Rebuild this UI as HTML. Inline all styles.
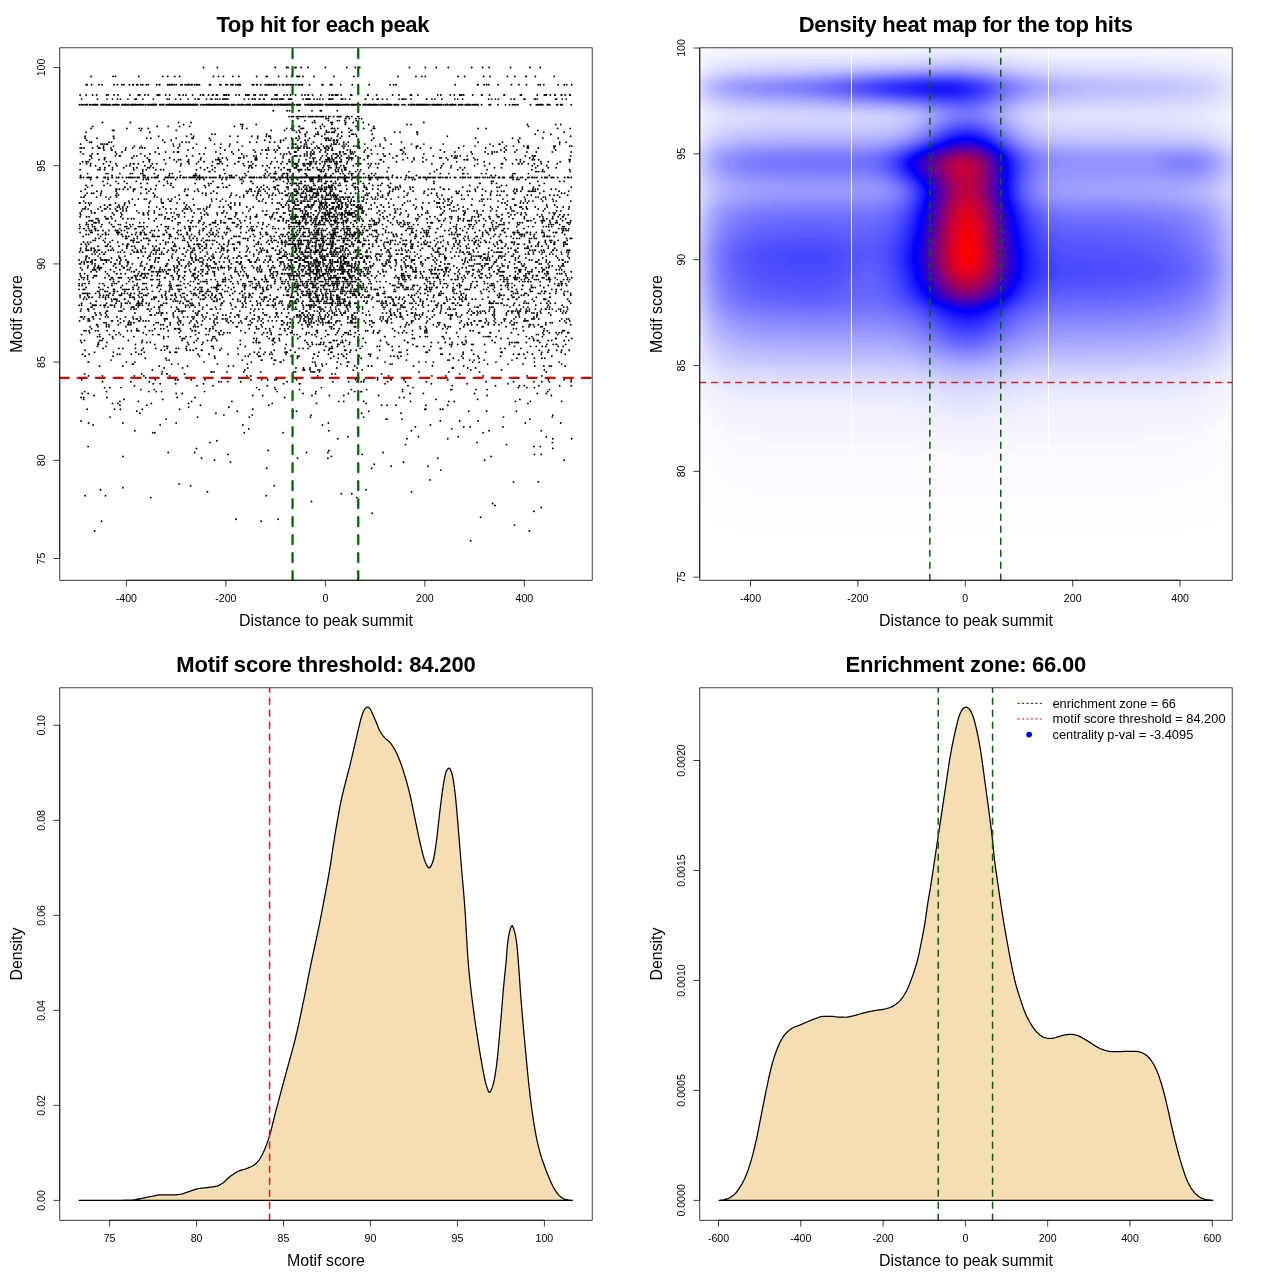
<!DOCTYPE html>
<html lang="en"><head><meta charset="utf-8"><title>Motif enrichment plots</title>
<style>html,body{margin:0;padding:0;background:#fff}svg{display:block}</style></head>
<body>
<svg width="1280" height="1280" viewBox="0 0 1280 1280" font-family='"Liberation Sans", sans-serif'>
<rect width="1280" height="1280" fill="#fff"/>
<defs>
<clipPath id="c0"><rect x="59.76" y="47.81" width="532.43" height="532.43"/></clipPath>
<clipPath id="c1"><rect x="699.76" y="47.81" width="532.43" height="532.43"/></clipPath>
<clipPath id="c2"><rect x="59.76" y="687.81" width="532.43" height="532.43"/></clipPath>
<clipPath id="c3"><rect x="699.76" y="687.81" width="532.43" height="532.43"/></clipPath>
</defs>
<path d="M203.5 67.5h0M217.4 67.5h0M275.2 67.5h0M286.6 67.5h0M288.1 67.5h0M295.1 67.5h0M296 67.5h0M301 67.5h0M308 67.5h0M325.4 67.5h0M346.8 67.5h0M355.2 67.5h0M359.7 67.5h0M409.5 67.5h0M425.4 67.5h0M436.3 67.5h0M448.3 67.5h0M471.7 67.5h0M482.6 67.5h0M489.1 67.5h0M510.5 67.5h0M529.9 67.5h0M540.3 67.5h0M91.1 76.4h0M113 76.4h0M115.5 76.4h0M138.8 76.4h0M162.7 76.4h0M167.7 76.4h0M174.7 76.4h0M179.6 76.4h0M213.5 76.4h0M218.4 76.4h0M223.4 76.4h0M232.9 76.4h0M238.8 76.4h0M256.7 76.4h0M256.7 76.4h0M266.2 76.4h0M267.2 76.4h0M278.6 76.4h0M286.6 76.4h0M291.6 76.4h0M297 76.4h0M298.5 76.4h0M299.5 76.4h0M303 76.4h0M314 76.4h0M333.9 76.4h0M353.8 76.4h0M398 76.4h0M415.9 76.4h0M421.9 76.4h0M425.4 76.4h0M458.2 76.4h0M464.7 76.4h0M483.6 76.4h0M490.1 76.4h0M507.5 76.4h0M514.9 76.4h0M525.9 76.4h0M526.4 76.4h0M535.3 76.4h0M554.2 76.4h0M86.1 84.8h0M87.1 84.8h0M91.6 84.8h0M99 84.8h0M102 84.8h0M114 84.8h0M117.4 84.8h0M117.4 84.8h0M117.4 84.8h0M121.9 84.8h0M123.9 84.8h0M129.4 84.8h0M132.9 84.8h0M133.4 84.8h0M136.8 84.8h0M137.8 84.8h0M140.8 84.8h0M142.8 84.8h0M146.3 84.8h0M148.3 84.8h0M156.7 84.8h0M159.2 84.8h0M159.7 84.8h0M167.7 84.8h0M169.2 84.8h0M170.2 84.8h0M171.7 84.8h0M172.2 84.8h0M174.2 84.8h0M176.2 84.8h0M180.6 84.8h0M182.1 84.8h0M185.1 84.8h0M185.1 84.8h0M187.1 84.8h0M187.6 84.8h0M188.1 84.8h0M188.6 84.8h0M189.1 84.8h0M191.1 84.8h0M192.1 84.8h0M194.6 84.8h0M196.5 84.8h0M197 84.8h0M198 84.8h0M199.5 84.8h0M209.5 84.8h0M210.5 84.8h0M210.5 84.8h0M219.9 84.8h0M219.9 84.8h0M220.9 84.8h0M220.9 84.8h0M225.9 84.8h0M227.4 84.8h0M230.9 84.8h0M232.4 84.8h0M232.4 84.8h0M232.9 84.8h0M232.9 84.8h0M235.9 84.8h0M237.8 84.8h0M238.8 84.8h0M238.8 84.8h0M239.3 84.8h0M239.3 84.8h0M240.3 84.8h0M252.3 84.8h0M253.8 84.8h0M256.7 84.8h0M257.2 84.8h0M260.7 84.8h0M265.2 84.8h0M267.2 84.8h0M268.2 84.8h0M268.7 84.8h0M269.7 84.8h0M271.2 84.8h0M273.2 84.8h0M273.2 84.8h0M274.2 84.8h0M274.7 84.8h0M276.6 84.8h0M279.6 84.8h0M282.6 84.8h0M282.6 84.8h0M283.1 84.8h0M283.6 84.8h0M283.6 84.8h0M286.1 84.8h0M287.1 84.8h0M288.6 84.8h0M290.6 84.8h0M292.1 84.8h0M292.6 84.8h0M292.6 84.8h0M293.6 84.8h0M296 84.8h0M298.5 84.8h0M298.5 84.8h0M299.5 84.8h0M301.5 84.8h0M302.5 84.8h0M309.5 84.8h0M321.9 84.8h0M321.9 84.8h0M322.9 84.8h0M330.4 84.8h0M330.4 84.8h0M331.4 84.8h0M331.9 84.8h0M340.8 84.8h0M352.3 84.8h0M358.2 84.8h0M369.2 84.8h0M390.1 84.8h0M393.6 84.8h0M396 84.8h0M455.2 84.8h0M477.6 84.8h0M478.1 84.8h0M484.1 84.8h0M486.6 84.8h0M488.6 84.8h0M498 84.8h0M511.5 84.8h0M518.9 84.8h0M526.4 84.8h0M538.3 84.8h0M540.3 84.8h0M543.8 84.8h0M558.2 84.8h0M564.2 84.8h0M566.7 84.8h0M571.7 84.8h0M80.1 95h0M86.1 95h0M92.6 95h0M92.6 95h0M96.6 95h0M106.5 95h0M108 95h0M108 95h0M114 95h0M117.9 95h0M129.9 95h0M138.3 95h0M139.8 95h0M144.8 95h0M148.3 95h0M157.2 95h0M158.2 95h0M159.7 95h0M165.7 95h0M169.7 95h0M179.1 95h0M179.6 95h0M183.1 95h0M186.1 95h0M192.6 95h0M200.5 95h0M203 95h0M203.5 95h0M208.5 95h0M212.5 95h0M213 95h0M216.4 95h0M217.4 95h0M223.9 95h0M224.9 95h0M226.4 95h0M228.4 95h0M228.4 95h0M228.9 95h0M228.9 95h0M235.9 95h0M239.3 95h0M245.8 95h0M247.3 95h0M248.3 95h0M248.8 95h0M253.8 95h0M255.3 95h0M260.2 95h0M262.2 95h0M265.2 95h0M266.7 95h0M275.2 95h0M275.6 95h0M276.1 95h0M277.1 95h0M284.1 95h0M287.1 95h0M290.6 95h0M295.6 95h0M295.6 95h0M302 95h0M302 95h0M305 95h0M308 95h0M308.5 95h0M312.5 95h0M320.9 95h0M329.4 95h0M331.9 95h0M332.9 95h0M335.4 95h0M336.8 95h0M337.8 95h0M341.3 95h0M350.8 95h0M351.8 95h0M367.7 95h0M368.2 95h0M376.6 95h0M392.6 95h0M392.6 95h0M399 95h0M399 95h0M410.5 95h0M411.5 95h0M417.9 95h0M437.8 95h0M440.8 95h0M450.3 95h0M454.3 95h0M459.7 95h0M460.7 95h0M461.7 95h0M463.7 95h0M472.7 95h0M481.6 95h0M482.1 95h0M489.6 95h0M504 95h0M504.5 95h0M520.4 95h0M521.4 95h0M537.3 95h0M544.3 95h0M545.8 95h0M546.3 95h0M550.3 95h0M554.7 95h0M555.2 95h0M561.2 95h0M561.7 95h0M565.2 95h0M569.7 95h0M570.2 95h0M81.6 99.1h0M97.5 99.1h0M107 99.1h0M112.5 99.1h0M117.4 99.1h0M120.4 99.1h0M127.9 99.1h0M134.9 99.1h0M135.9 99.1h0M136.3 99.1h0M142.8 99.1h0M153.3 99.1h0M167.2 99.1h0M169.2 99.1h0M175.7 99.1h0M180.6 99.1h0M188.1 99.1h0M195.1 99.1h0M198 99.1h0M199 99.1h0M206.5 99.1h0M206.5 99.1h0M210.5 99.1h0M212 99.1h0M215.5 99.1h0M215.5 99.1h0M217.4 99.1h0M219.9 99.1h0M222.9 99.1h0M222.9 99.1h0M223.9 99.1h0M224.4 99.1h0M225.9 99.1h0M227.4 99.1h0M227.9 99.1h0M244.3 99.1h0M248.8 99.1h0M252.3 99.1h0M252.8 99.1h0M254.8 99.1h0M255.3 99.1h0M255.3 99.1h0M255.3 99.1h0M259.2 99.1h0M259.7 99.1h0M263.7 99.1h0M264.2 99.1h0M271.7 99.1h0M272.2 99.1h0M272.2 99.1h0M274.2 99.1h0M276.1 99.1h0M277.1 99.1h0M279.6 99.1h0M281.1 99.1h0M282.1 99.1h0M283.6 99.1h0M288.6 99.1h0M289.6 99.1h0M290.6 99.1h0M291.6 99.1h0M303 99.1h0M303 99.1h0M306 99.1h0M306.5 99.1h0M307 99.1h0M308 99.1h0M308 99.1h0M309 99.1h0M310 99.1h0M314 99.1h0M314 99.1h0M317.4 99.1h0M319.9 99.1h0M322.9 99.1h0M328.9 99.1h0M329.9 99.1h0M331.4 99.1h0M332.9 99.1h0M341.3 99.1h0M341.8 99.1h0M342.3 99.1h0M342.8 99.1h0M345.3 99.1h0M349.8 99.1h0M365.2 99.1h0M365.7 99.1h0M372.7 99.1h0M377.1 99.1h0M378.1 99.1h0M382.6 99.1h0M387.1 99.1h0M399 99.1h0M402 99.1h0M403 99.1h0M404 99.1h0M406 99.1h0M411 99.1h0M411 99.1h0M426.4 99.1h0M426.9 99.1h0M431.9 99.1h0M434.9 99.1h0M441.8 99.1h0M454.8 99.1h0M457.7 99.1h0M462.7 99.1h0M488.6 99.1h0M491.6 99.1h0M495.5 99.1h0M498.5 99.1h0M511 99.1h0M514 99.1h0M514.5 99.1h0M523.9 99.1h0M524.9 99.1h0M534.4 99.1h0M535.3 99.1h0M537.3 99.1h0M555.7 99.1h0M556.7 99.1h0M562.2 99.1h0M566.2 99.1h0M79.6 104.8h0M79.6 104.8h0M79.6 104.8h0M79.6 104.8h0M81.6 104.8h0M81.6 104.8h0M81.6 104.8h0M83.1 104.8h0M83.1 104.8h0M85.1 104.8h0M86.6 104.8h0M86.6 104.8h0M87.1 104.8h0M87.1 104.8h0M89.6 104.8h0M89.6 104.8h0M89.6 104.8h0M90.1 104.8h0M90.1 104.8h0M92.1 104.8h0M92.1 104.8h0M93.6 104.8h0M93.6 104.8h0M94.6 104.8h0M94.6 104.8h0M95.1 104.8h0M95.6 104.8h0M96.6 104.8h0M96.6 104.8h0M97.5 104.8h0M97.5 104.8h0M101 104.8h0M101.5 104.8h0M101.5 104.8h0M101.5 104.8h0M101.5 104.8h0M102 104.8h0M102.5 104.8h0M102.5 104.8h0M103.5 104.8h0M104 104.8h0M105 104.8h0M106 104.8h0M106.5 104.8h0M107 104.8h0M108.5 104.8h0M109.5 104.8h0M110.5 104.8h0M113 104.8h0M113 104.8h0M113 104.8h0M113 104.8h0M114 104.8h0M114 104.8h0M115.5 104.8h0M115.5 104.8h0M115.5 104.8h0M116 104.8h0M116.9 104.8h0M117.4 104.8h0M117.4 104.8h0M118.9 104.8h0M118.9 104.8h0M118.9 104.8h0M118.9 104.8h0M121.9 104.8h0M121.9 104.8h0M122.4 104.8h0M123.9 104.8h0M123.9 104.8h0M124.4 104.8h0M124.9 104.8h0M125.4 104.8h0M125.9 104.8h0M125.9 104.8h0M126.4 104.8h0M127.9 104.8h0M128.4 104.8h0M128.9 104.8h0M128.9 104.8h0M128.9 104.8h0M130.9 104.8h0M130.9 104.8h0M130.9 104.8h0M131.9 104.8h0M132.4 104.8h0M132.9 104.8h0M132.9 104.8h0M133.4 104.8h0M133.9 104.8h0M133.9 104.8h0M134.9 104.8h0M134.9 104.8h0M135.4 104.8h0M135.9 104.8h0M135.9 104.8h0M136.3 104.8h0M136.3 104.8h0M137.8 104.8h0M139.3 104.8h0M140.3 104.8h0M141.3 104.8h0M142.8 104.8h0M143.8 104.8h0M145.8 104.8h0M147.8 104.8h0M148.8 104.8h0M149.3 104.8h0M150.8 104.8h0M151.3 104.8h0M152.3 104.8h0M152.8 104.8h0M153.3 104.8h0M153.3 104.8h0M153.8 104.8h0M153.8 104.8h0M154.3 104.8h0M154.8 104.8h0M155.3 104.8h0M155.3 104.8h0M155.3 104.8h0M155.8 104.8h0M156.2 104.8h0M159.7 104.8h0M160.2 104.8h0M160.7 104.8h0M160.7 104.8h0M162.2 104.8h0M162.2 104.8h0M162.7 104.8h0M162.7 104.8h0M163.2 104.8h0M163.7 104.8h0M166.2 104.8h0M167.7 104.8h0M167.7 104.8h0M168.2 104.8h0M168.7 104.8h0M169.2 104.8h0M169.2 104.8h0M169.7 104.8h0M169.7 104.8h0M170.2 104.8h0M170.7 104.8h0M170.7 104.8h0M171.2 104.8h0M171.2 104.8h0M172.7 104.8h0M173.2 104.8h0M173.2 104.8h0M173.7 104.8h0M174.2 104.8h0M174.2 104.8h0M174.2 104.8h0M175.2 104.8h0M175.2 104.8h0M175.2 104.8h0M176.2 104.8h0M176.6 104.8h0M177.6 104.8h0M177.6 104.8h0M178.1 104.8h0M178.1 104.8h0M178.6 104.8h0M179.1 104.8h0M179.1 104.8h0M180.1 104.8h0M180.6 104.8h0M181.6 104.8h0M182.1 104.8h0M182.6 104.8h0M182.6 104.8h0M183.1 104.8h0M183.1 104.8h0M183.1 104.8h0M183.6 104.8h0M184.1 104.8h0M184.1 104.8h0M184.1 104.8h0M184.6 104.8h0M185.6 104.8h0M185.6 104.8h0M186.1 104.8h0M186.1 104.8h0M187.1 104.8h0M187.6 104.8h0M188.1 104.8h0M188.1 104.8h0M188.6 104.8h0M189.1 104.8h0M189.6 104.8h0M190.1 104.8h0M190.6 104.8h0M191.1 104.8h0M191.1 104.8h0M191.1 104.8h0M192.1 104.8h0M192.6 104.8h0M192.6 104.8h0M193.1 104.8h0M193.1 104.8h0M193.6 104.8h0M193.6 104.8h0M194.1 104.8h0M194.6 104.8h0M195.1 104.8h0M195.6 104.8h0M195.6 104.8h0M195.6 104.8h0M196.1 104.8h0M196.1 104.8h0M196.1 104.8h0M197 104.8h0M197.5 104.8h0M200.5 104.8h0M202.5 104.8h0M202.5 104.8h0M203.5 104.8h0M203.5 104.8h0M203.5 104.8h0M205 104.8h0M206.5 104.8h0M206.5 104.8h0M207 104.8h0M207.5 104.8h0M208.5 104.8h0M209 104.8h0M209 104.8h0M209 104.8h0M209.5 104.8h0M209.5 104.8h0M210 104.8h0M210.5 104.8h0M210.5 104.8h0M210.5 104.8h0M212 104.8h0M212 104.8h0M213 104.8h0M213 104.8h0M213 104.8h0M213.5 104.8h0M213.5 104.8h0M214 104.8h0M214.5 104.8h0M214.5 104.8h0M215.5 104.8h0M215.9 104.8h0M216.4 104.8h0M216.4 104.8h0M216.4 104.8h0M217.9 104.8h0M217.9 104.8h0M217.9 104.8h0M218.9 104.8h0M218.9 104.8h0M218.9 104.8h0M219.4 104.8h0M219.4 104.8h0M220.9 104.8h0M221.4 104.8h0M222.9 104.8h0M222.9 104.8h0M222.9 104.8h0M222.9 104.8h0M223.9 104.8h0M224.4 104.8h0M224.4 104.8h0M224.4 104.8h0M224.4 104.8h0M224.9 104.8h0M224.9 104.8h0M224.9 104.8h0M225.4 104.8h0M225.9 104.8h0M226.9 104.8h0M226.9 104.8h0M227.4 104.8h0M227.4 104.8h0M227.9 104.8h0M228.9 104.8h0M228.9 104.8h0M231.4 104.8h0M231.9 104.8h0M231.9 104.8h0M231.9 104.8h0M232.4 104.8h0M233.4 104.8h0M233.9 104.8h0M234.9 104.8h0M237.3 104.8h0M237.3 104.8h0M237.8 104.8h0M238.8 104.8h0M239.3 104.8h0M240.8 104.8h0M240.8 104.8h0M240.8 104.8h0M241.3 104.8h0M241.3 104.8h0M241.3 104.8h0M241.3 104.8h0M241.8 104.8h0M241.8 104.8h0M241.8 104.8h0M242.3 104.8h0M242.3 104.8h0M242.8 104.8h0M243.8 104.8h0M243.8 104.8h0M245.8 104.8h0M245.8 104.8h0M247.3 104.8h0M247.8 104.8h0M247.8 104.8h0M247.8 104.8h0M248.3 104.8h0M248.3 104.8h0M248.8 104.8h0M249.3 104.8h0M249.3 104.8h0M250.3 104.8h0M250.3 104.8h0M250.3 104.8h0M250.3 104.8h0M252.8 104.8h0M253.8 104.8h0M254.3 104.8h0M254.8 104.8h0M254.8 104.8h0M255.8 104.8h0M256.2 104.8h0M257.2 104.8h0M257.7 104.8h0M258.2 104.8h0M259.2 104.8h0M260.7 104.8h0M260.7 104.8h0M260.7 104.8h0M261.2 104.8h0M261.7 104.8h0M261.7 104.8h0M261.7 104.8h0M262.2 104.8h0M262.7 104.8h0M262.7 104.8h0M262.7 104.8h0M262.7 104.8h0M262.7 104.8h0M263.2 104.8h0M263.7 104.8h0M263.7 104.8h0M264.2 104.8h0M264.2 104.8h0M264.7 104.8h0M264.7 104.8h0M265.2 104.8h0M265.2 104.8h0M266.7 104.8h0M267.2 104.8h0M267.2 104.8h0M267.2 104.8h0M267.2 104.8h0M267.2 104.8h0M267.7 104.8h0M269.2 104.8h0M269.7 104.8h0M269.7 104.8h0M269.7 104.8h0M270.2 104.8h0M270.2 104.8h0M270.2 104.8h0M270.7 104.8h0M270.7 104.8h0M271.2 104.8h0M272.2 104.8h0M274.2 104.8h0M275.2 104.8h0M277.1 104.8h0M277.1 104.8h0M277.1 104.8h0M277.6 104.8h0M277.6 104.8h0M278.1 104.8h0M278.6 104.8h0M280.1 104.8h0M280.1 104.8h0M280.6 104.8h0M280.6 104.8h0M281.1 104.8h0M281.6 104.8h0M281.6 104.8h0M282.1 104.8h0M282.6 104.8h0M283.6 104.8h0M284.1 104.8h0M284.1 104.8h0M284.1 104.8h0M284.6 104.8h0M284.6 104.8h0M284.6 104.8h0M285.1 104.8h0M285.1 104.8h0M285.1 104.8h0M286.1 104.8h0M286.6 104.8h0M286.6 104.8h0M286.6 104.8h0M287.1 104.8h0M287.6 104.8h0M288.1 104.8h0M288.6 104.8h0M289.1 104.8h0M289.6 104.8h0M290.1 104.8h0M290.1 104.8h0M290.6 104.8h0M290.6 104.8h0M290.6 104.8h0M291.1 104.8h0M291.6 104.8h0M292.6 104.8h0M293.1 104.8h0M294.1 104.8h0M296.5 104.8h0M296.5 104.8h0M296.5 104.8h0M296.5 104.8h0M297.5 104.8h0M298 104.8h0M298.5 104.8h0M299.5 104.8h0M299.5 104.8h0M299.5 104.8h0M300 104.8h0M300.5 104.8h0M305 104.8h0M305 104.8h0M305.5 104.8h0M305.5 104.8h0M306 104.8h0M307.5 104.8h0M307.5 104.8h0M308 104.8h0M308.5 104.8h0M309.5 104.8h0M309.5 104.8h0M309.5 104.8h0M310 104.8h0M310.5 104.8h0M311 104.8h0M311.5 104.8h0M312 104.8h0M313 104.8h0M314 104.8h0M314.5 104.8h0M314.5 104.8h0M315 104.8h0M315.9 104.8h0M316.9 104.8h0M317.4 104.8h0M317.4 104.8h0M317.9 104.8h0M317.9 104.8h0M318.4 104.8h0M318.9 104.8h0M319.4 104.8h0M319.9 104.8h0M320.4 104.8h0M320.9 104.8h0M320.9 104.8h0M320.9 104.8h0M320.9 104.8h0M321.4 104.8h0M321.4 104.8h0M322.4 104.8h0M322.4 104.8h0M322.9 104.8h0M322.9 104.8h0M325.4 104.8h0M325.9 104.8h0M326.4 104.8h0M326.4 104.8h0M326.4 104.8h0M326.9 104.8h0M326.9 104.8h0M326.9 104.8h0M327.4 104.8h0M328.4 104.8h0M328.4 104.8h0M329.4 104.8h0M329.4 104.8h0M329.9 104.8h0M330.4 104.8h0M330.4 104.8h0M331.4 104.8h0M331.9 104.8h0M332.4 104.8h0M332.9 104.8h0M332.9 104.8h0M333.4 104.8h0M334.9 104.8h0M334.9 104.8h0M335.4 104.8h0M335.8 104.8h0M335.8 104.8h0M336.3 104.8h0M336.3 104.8h0M336.8 104.8h0M336.8 104.8h0M336.8 104.8h0M337.3 104.8h0M337.3 104.8h0M337.3 104.8h0M338.3 104.8h0M338.8 104.8h0M339.3 104.8h0M339.8 104.8h0M339.8 104.8h0M339.8 104.8h0M340.8 104.8h0M341.3 104.8h0M342.8 104.8h0M342.8 104.8h0M343.3 104.8h0M344.8 104.8h0M344.8 104.8h0M345.8 104.8h0M346.3 104.8h0M346.8 104.8h0M346.8 104.8h0M347.3 104.8h0M347.8 104.8h0M349.3 104.8h0M351.3 104.8h0M351.8 104.8h0M351.8 104.8h0M352.3 104.8h0M353.3 104.8h0M353.3 104.8h0M353.8 104.8h0M354.3 104.8h0M354.3 104.8h0M354.3 104.8h0M355.7 104.8h0M356.2 104.8h0M356.7 104.8h0M357.2 104.8h0M358.2 104.8h0M358.7 104.8h0M360.2 104.8h0M363.2 104.8h0M363.2 104.8h0M363.7 104.8h0M363.7 104.8h0M363.7 104.8h0M364.7 104.8h0M365.2 104.8h0M365.2 104.8h0M365.7 104.8h0M365.7 104.8h0M366.2 104.8h0M366.2 104.8h0M366.7 104.8h0M366.7 104.8h0M366.7 104.8h0M368.2 104.8h0M368.7 104.8h0M369.2 104.8h0M369.7 104.8h0M370.2 104.8h0M370.2 104.8h0M371.2 104.8h0M371.2 104.8h0M371.2 104.8h0M371.2 104.8h0M372.2 104.8h0M373.2 104.8h0M373.7 104.8h0M374.2 104.8h0M374.2 104.8h0M374.7 104.8h0M375.6 104.8h0M376.6 104.8h0M376.6 104.8h0M376.6 104.8h0M378.1 104.8h0M378.1 104.8h0M378.6 104.8h0M378.6 104.8h0M380.6 104.8h0M381.6 104.8h0M382.1 104.8h0M382.6 104.8h0M382.6 104.8h0M383.6 104.8h0M384.1 104.8h0M385.1 104.8h0M386.1 104.8h0M386.6 104.8h0M387.1 104.8h0M387.1 104.8h0M387.6 104.8h0M388.1 104.8h0M388.1 104.8h0M388.6 104.8h0M389.1 104.8h0M389.6 104.8h0M389.6 104.8h0M390.1 104.8h0M391.6 104.8h0M394.1 104.8h0M394.6 104.8h0M396 104.8h0M397 104.8h0M397 104.8h0M397 104.8h0M398 104.8h0M398.5 104.8h0M402 104.8h0M404 104.8h0M405 104.8h0M405 104.8h0M408.5 104.8h0M410.5 104.8h0M411 104.8h0M411.5 104.8h0M412 104.8h0M412 104.8h0M412.5 104.8h0M413.5 104.8h0M414.5 104.8h0M416.4 104.8h0M416.4 104.8h0M417.4 104.8h0M417.9 104.8h0M417.9 104.8h0M418.4 104.8h0M418.9 104.8h0M419.9 104.8h0M419.9 104.8h0M420.4 104.8h0M421.4 104.8h0M421.4 104.8h0M421.4 104.8h0M421.4 104.8h0M421.9 104.8h0M421.9 104.8h0M423.4 104.8h0M423.9 104.8h0M423.9 104.8h0M424.4 104.8h0M425.4 104.8h0M425.9 104.8h0M426.4 104.8h0M427.9 104.8h0M427.9 104.8h0M428.9 104.8h0M428.9 104.8h0M430.9 104.8h0M432.9 104.8h0M433.4 104.8h0M433.9 104.8h0M433.9 104.8h0M433.9 104.8h0M434.4 104.8h0M434.4 104.8h0M435.8 104.8h0M436.8 104.8h0M436.8 104.8h0M437.3 104.8h0M437.3 104.8h0M437.8 104.8h0M438.3 104.8h0M439.3 104.8h0M439.3 104.8h0M439.3 104.8h0M440.3 104.8h0M440.3 104.8h0M441.3 104.8h0M441.3 104.8h0M443.3 104.8h0M443.3 104.8h0M445.3 104.8h0M445.3 104.8h0M445.3 104.8h0M445.3 104.8h0M446.3 104.8h0M446.8 104.8h0M446.8 104.8h0M447.3 104.8h0M447.8 104.8h0M449.8 104.8h0M450.8 104.8h0M451.3 104.8h0M451.8 104.8h0M452.3 104.8h0M452.8 104.8h0M453.3 104.8h0M454.8 104.8h0M455.7 104.8h0M455.7 104.8h0M455.7 104.8h0M455.7 104.8h0M458.7 104.8h0M459.7 104.8h0M459.7 104.8h0M461.2 104.8h0M461.2 104.8h0M461.7 104.8h0M462.7 104.8h0M465.2 104.8h0M466.2 104.8h0M466.7 104.8h0M467.7 104.8h0M468.2 104.8h0M468.7 104.8h0M468.7 104.8h0M469.7 104.8h0M470.7 104.8h0M472.7 104.8h0M474.2 104.8h0M474.2 104.8h0M474.2 104.8h0M474.6 104.8h0M476.1 104.8h0M476.1 104.8h0M477.1 104.8h0M477.6 104.8h0M478.1 104.8h0M481.6 104.8h0M489.1 104.8h0M490.6 104.8h0M498 104.8h0M505.5 104.8h0M509.5 104.8h0M512.5 104.8h0M514 104.8h0M515.9 104.8h0M515.9 104.8h0M517.9 104.8h0M517.9 104.8h0M530.4 104.8h0M536.3 104.8h0M537.8 104.8h0M538.3 104.8h0M539.8 104.8h0M540.8 104.8h0M541.3 104.8h0M541.3 104.8h0M542.3 104.8h0M542.8 104.8h0M542.8 104.8h0M547.3 104.8h0M547.8 104.8h0M548.8 104.8h0M549.8 104.8h0M556.7 104.8h0M557.7 104.8h0M560.7 104.8h0M560.7 104.8h0M561.7 104.8h0M562.2 104.8h0M571.2 104.8h0M273.2 110.7h0M287.1 110.7h0M289.6 110.7h0M299 110.7h0M312 110.7h0M320.4 110.7h0M321.4 110.7h0M337.3 110.7h0M289.1 116.6h0M289.1 116.6h0M291.6 116.6h0M292.1 116.6h0M293.6 116.6h0M296.5 116.6h0M298 116.6h0M298 116.6h0M300 116.6h0M301.5 116.6h0M303 116.6h0M303.5 116.6h0M305.5 116.6h0M308.5 116.6h0M309.5 116.6h0M310.5 116.6h0M312 116.6h0M312.5 116.6h0M314 116.6h0M315.9 116.6h0M316.4 116.6h0M317.4 116.6h0M317.9 116.6h0M319.9 116.6h0M321.4 116.6h0M321.9 116.6h0M322.4 116.6h0M323.4 116.6h0M325.9 116.6h0M328.9 116.6h0M329.9 116.6h0M329.9 116.6h0M333.4 116.6h0M337.3 116.6h0M337.8 116.6h0M338.3 116.6h0M339.8 116.6h0M340.8 116.6h0M346.3 116.6h0M347.3 116.6h0M347.8 116.6h0M347.8 116.6h0M348.8 116.6h0M351.8 116.6h0M357.7 116.6h0M358.7 116.6h0M297.5 118.6h0M298 118.6h0M325.9 118.6h0M326.4 118.6h0M328.4 118.6h0M345.3 118.6h0M345.8 118.6h0M349.3 118.6h0M355.7 118.6h0M359.2 118.6h0M361.7 118.6h0M292.6 120.6h0M305 120.6h0M314.5 120.6h0M328.4 120.6h0M337.3 120.6h0M339.3 120.6h0M344.8 120.6h0M356.2 120.6h0M102.5 122.5h0M130.4 122.5h0M178.6 122.5h0M191.1 122.5h0M312.5 122.5h0M315 122.5h0M330.9 122.5h0M332.4 122.5h0M345.3 122.5h0M345.8 122.5h0M353.3 122.5h0M363.2 122.5h0M423.9 122.5h0M183.6 124.5h0M240.8 124.5h0M242.8 124.5h0M256.2 124.5h0M322.4 124.5h0M331.9 124.5h0M345.3 124.5h0M368.7 124.5h0M407 124.5h0M411 124.5h0M527.4 124.5h0M555.7 124.5h0M560.7 124.5h0M92.6 126.4h0M157.2 126.4h0M168.2 126.4h0M179.6 126.4h0M189.6 126.4h0M234.4 126.4h0M242.3 126.4h0M293.6 126.4h0M299 126.4h0M299.5 126.4h0M320.4 126.4h0M324.4 126.4h0M356.2 126.4h0M373.7 126.4h0M528.4 126.4h0M91.1 128.4h0M126.9 128.4h0M139.3 128.4h0M141.8 128.4h0M148.3 128.4h0M242.3 128.4h0M246.8 128.4h0M286.6 128.4h0M291.1 128.4h0M301 128.4h0M302 128.4h0M303.5 128.4h0M315.9 128.4h0M320.9 128.4h0M331.4 128.4h0M332.4 128.4h0M334.4 128.4h0M337.8 128.4h0M348.8 128.4h0M357.7 128.4h0M363.7 128.4h0M373.2 128.4h0M374.7 128.4h0M478.1 128.4h0M486.1 128.4h0M557.7 128.4h0M570.2 128.4h0M112.5 130.4h0M114 130.4h0M140.8 130.4h0M176.2 130.4h0M271.2 130.4h0M284.6 130.4h0M294.1 130.4h0M299 130.4h0M326.4 130.4h0M335.4 130.4h0M350.8 130.4h0M351.8 130.4h0M371.2 130.4h0M537.8 130.4h0M86.1 132.3h0M149.8 132.3h0M296.5 132.3h0M300 132.3h0M307 132.3h0M317.9 132.3h0M326.4 132.3h0M326.4 132.3h0M326.9 132.3h0M328.9 132.3h0M331.9 132.3h0M333.4 132.3h0M334.4 132.3h0M341.8 132.3h0M349.3 132.3h0M394.6 132.3h0M400 132.3h0M416.9 132.3h0M417.4 132.3h0M543.8 132.3h0M564.2 132.3h0M191.1 134.3h0M212 134.3h0M215 134.3h0M266.7 134.3h0M305 134.3h0M305.5 134.3h0M315.9 134.3h0M317.9 134.3h0M318.4 134.3h0M324.9 134.3h0M338.3 134.3h0M351.8 134.3h0M353.3 134.3h0M355.7 134.3h0M372.2 134.3h0M417.4 134.3h0M535.3 134.3h0M550.8 134.3h0M85.1 136.3h0M113.5 136.3h0M158.7 136.3h0M186.6 136.3h0M193.6 136.3h0M229.9 136.3h0M237.8 136.3h0M251.8 136.3h0M257.7 136.3h0M266.2 136.3h0M268.7 136.3h0M270.2 136.3h0M299 136.3h0M305.5 136.3h0M314.5 136.3h0M321.9 136.3h0M337.3 136.3h0M341.8 136.3h0M349.3 136.3h0M356.7 136.3h0M447.3 136.3h0M570.7 136.3h0M85.1 138.2h0M97 138.2h0M114 138.2h0M146.8 138.2h0M150.8 138.2h0M176.2 138.2h0M192.1 138.2h0M193.1 138.2h0M209.5 138.2h0M257.7 138.2h0M270.7 138.2h0M285.6 138.2h0M291.6 138.2h0M296 138.2h0M296.5 138.2h0M299.5 138.2h0M309.5 138.2h0M324.9 138.2h0M326.9 138.2h0M328.4 138.2h0M331.4 138.2h0M340.3 138.2h0M373.7 138.2h0M384.6 138.2h0M475.6 138.2h0M512.5 138.2h0M519.9 138.2h0M542.8 138.2h0M558.2 138.2h0M86.6 140.2h0M162.7 140.2h0M171.2 140.2h0M210.5 140.2h0M264.7 140.2h0M280.6 140.2h0M283.6 140.2h0M292.1 140.2h0M292.1 140.2h0M298 140.2h0M305 140.2h0M308 140.2h0M325.9 140.2h0M326.4 140.2h0M328.9 140.2h0M330.4 140.2h0M333.4 140.2h0M334.4 140.2h0M336.8 140.2h0M337.8 140.2h0M371.7 140.2h0M385.6 140.2h0M518.4 140.2h0M89.6 142.2h0M91.6 142.2h0M109 142.2h0M111.5 142.2h0M164.7 142.2h0M182.1 142.2h0M186.1 142.2h0M189.1 142.2h0M237.3 142.2h0M249.8 142.2h0M256.7 142.2h0M269.7 142.2h0M274.7 142.2h0M280.6 142.2h0M301 142.2h0M306 142.2h0M313.5 142.2h0M333.9 142.2h0M337.3 142.2h0M343.8 142.2h0M348.3 142.2h0M359.2 142.2h0M401.5 142.2h0M478.1 142.2h0M502.5 142.2h0M518.9 142.2h0M559.7 142.2h0M566.2 142.2h0M80.6 144.1h0M101 144.1h0M102.5 144.1h0M104.5 144.1h0M106.5 144.1h0M107.5 144.1h0M173.2 144.1h0M179.6 144.1h0M196.5 144.1h0M214.5 144.1h0M220.9 144.1h0M229.9 144.1h0M292.1 144.1h0M292.6 144.1h0M293.6 144.1h0M295.6 144.1h0M296 144.1h0M304.5 144.1h0M306.5 144.1h0M311.5 144.1h0M321.4 144.1h0M331.4 144.1h0M333.9 144.1h0M334.9 144.1h0M336.3 144.1h0M339.3 144.1h0M343.8 144.1h0M346.3 144.1h0M364.7 144.1h0M380.1 144.1h0M391.1 144.1h0M411.5 144.1h0M423.9 144.1h0M443.3 144.1h0M490.1 144.1h0M499 144.1h0M500 144.1h0M559.7 144.1h0M97.5 146.1h0M103.5 146.1h0M113.5 146.1h0M134.4 146.1h0M141.3 146.1h0M173.7 146.1h0M179.6 146.1h0M229.4 146.1h0M242.3 146.1h0M278.1 146.1h0M297.5 146.1h0M301 146.1h0M304 146.1h0M304.5 146.1h0M304.5 146.1h0M307 146.1h0M316.9 146.1h0M323.4 146.1h0M326.4 146.1h0M327.9 146.1h0M330.4 146.1h0M330.9 146.1h0M342.3 146.1h0M342.8 146.1h0M344.8 146.1h0M348.3 146.1h0M353.8 146.1h0M356.2 146.1h0M359.2 146.1h0M375.6 146.1h0M380.1 146.1h0M416.4 146.1h0M417.9 146.1h0M463.7 146.1h0M475.1 146.1h0M493.1 146.1h0M506.5 146.1h0M513.5 146.1h0M523.9 146.1h0M527.4 146.1h0M528.4 146.1h0M553.8 146.1h0M555.2 146.1h0M569.7 146.1h0M571.7 146.1h0M80.1 148h0M81.6 148h0M84.1 148h0M92.6 148h0M98.5 148h0M100 148h0M103.5 148h0M111 148h0M125.9 148h0M132.9 148h0M139.8 148h0M142.3 148h0M144.8 148h0M158.2 148h0M178.1 148h0M193.1 148h0M205.5 148h0M220.4 148h0M268.2 148h0M279.1 148h0M279.6 148h0M288.1 148h0M291.6 148h0M293.6 148h0M296 148h0M298 148h0M298.5 148h0M300 148h0M304 148h0M307 148h0M307 148h0M307.5 148h0M309.5 148h0M315 148h0M317.9 148h0M319.4 148h0M324.4 148h0M324.4 148h0M325.9 148h0M328.4 148h0M328.9 148h0M332.4 148h0M343.8 148h0M358.7 148h0M359.7 148h0M367.7 148h0M383.6 148h0M383.6 148h0M404.5 148h0M416.4 148h0M420.4 148h0M430.9 148h0M458.7 148h0M485.6 148h0M504.5 148h0M527.4 148h0M528.4 148h0M538.3 148h0M554.2 148h0M104 150h0M111.5 150h0M112 150h0M125.4 150h0M188.1 150h0M224.9 150h0M238.8 150h0M253.8 150h0M262.2 150h0M265.7 150h0M266.7 150h0M268.7 150h0M274.2 150h0M277.1 150h0M298 150h0M312.5 150h0M320.9 150h0M325.9 150h0M327.9 150h0M331.9 150h0M332.4 150h0M347.3 150h0M350.3 150h0M350.3 150h0M365.2 150h0M371.2 150h0M400.5 150h0M402 150h0M440.3 150h0M501 150h0M506 150h0M516.9 150h0M555.7 150h0M80.6 152h0M115.5 152h0M121.9 152h0M155.3 152h0M165.7 152h0M173.7 152h0M177.6 152h0M178.6 152h0M215.9 152h0M231.9 152h0M255.3 152h0M275.6 152h0M289.1 152h0M294.6 152h0M295.6 152h0M296 152h0M307 152h0M311 152h0M314 152h0M319.9 152h0M325.4 152h0M325.4 152h0M339.8 152h0M340.3 152h0M343.3 152h0M350.3 152h0M352.3 152h0M354.8 152h0M364.2 152h0M403.5 152h0M444.3 152h0M454.8 152h0M471.2 152h0M485.1 152h0M492.1 152h0M494.5 152h0M494.5 152h0M497 152h0M504.5 152h0M514.9 152h0M526.9 152h0M536.3 152h0M552.3 152h0M571.2 152h0M83.1 153.9h0M92.1 153.9h0M97.5 153.9h0M98 153.9h0M116.5 153.9h0M140.8 153.9h0M149.8 153.9h0M159.2 153.9h0M199.5 153.9h0M204 153.9h0M220.4 153.9h0M233.4 153.9h0M241.8 153.9h0M260.7 153.9h0M267.2 153.9h0M280.6 153.9h0M284.1 153.9h0M286.6 153.9h0M286.6 153.9h0M290.1 153.9h0M290.6 153.9h0M304.5 153.9h0M307 153.9h0M310.5 153.9h0M312.5 153.9h0M314 153.9h0M327.4 153.9h0M333.4 153.9h0M335.4 153.9h0M336.3 153.9h0M336.8 153.9h0M339.8 153.9h0M344.3 153.9h0M345.8 153.9h0M350.8 153.9h0M351.3 153.9h0M353.3 153.9h0M371.7 153.9h0M377.6 153.9h0M383.1 153.9h0M389.6 153.9h0M402.5 153.9h0M405.5 153.9h0M423.9 153.9h0M472.2 153.9h0M488.1 153.9h0M492.1 153.9h0M90.1 155.9h0M91.1 155.9h0M115.5 155.9h0M119.4 155.9h0M120.4 155.9h0M133.9 155.9h0M136.8 155.9h0M144.8 155.9h0M186.6 155.9h0M192.6 155.9h0M243.8 155.9h0M246.8 155.9h0M253.8 155.9h0M256.2 155.9h0M283.1 155.9h0M283.1 155.9h0M294.1 155.9h0M294.1 155.9h0M295.6 155.9h0M297 155.9h0M300 155.9h0M300.5 155.9h0M304.5 155.9h0M307 155.9h0M311 155.9h0M322.4 155.9h0M326.4 155.9h0M331.9 155.9h0M337.3 155.9h0M338.3 155.9h0M341.3 155.9h0M348.8 155.9h0M355.7 155.9h0M367.7 155.9h0M368.7 155.9h0M384.1 155.9h0M385.1 155.9h0M396.5 155.9h0M397 155.9h0M433.4 155.9h0M451.8 155.9h0M455.2 155.9h0M457.2 155.9h0M460.2 155.9h0M467.2 155.9h0M525.4 155.9h0M525.4 155.9h0M532.4 155.9h0M532.9 155.9h0M534.8 155.9h0M535.3 155.9h0M570.7 155.9h0M91.6 157.9h0M104.5 157.9h0M105 157.9h0M131.9 157.9h0M132.4 157.9h0M147.3 157.9h0M169.7 157.9h0M201 157.9h0M218.4 157.9h0M222.4 157.9h0M226.4 157.9h0M238.8 157.9h0M240.3 157.9h0M243.8 157.9h0M255.3 157.9h0M256.7 157.9h0M266.7 157.9h0M275.2 157.9h0M283.1 157.9h0M310 157.9h0M313 157.9h0M313 157.9h0M315 157.9h0M320.9 157.9h0M327.9 157.9h0M329.4 157.9h0M331.9 157.9h0M335.4 157.9h0M335.4 157.9h0M336.3 157.9h0M336.3 157.9h0M339.8 157.9h0M346.8 157.9h0M346.8 157.9h0M347.8 157.9h0M349.8 157.9h0M350.3 157.9h0M350.3 157.9h0M351.3 157.9h0M352.8 157.9h0M360.2 157.9h0M367.7 157.9h0M393.1 157.9h0M407.5 157.9h0M414 157.9h0M422.9 157.9h0M439.8 157.9h0M441.3 157.9h0M446.3 157.9h0M454.3 157.9h0M455.2 157.9h0M456.7 157.9h0M473.7 157.9h0M504.5 157.9h0M529.9 157.9h0M533.4 157.9h0M89.6 159.8h0M99 159.8h0M104.5 159.8h0M148.8 159.8h0M149.8 159.8h0M164.2 159.8h0M164.2 159.8h0M174.2 159.8h0M178.6 159.8h0M180.6 159.8h0M188.6 159.8h0M200.5 159.8h0M215.9 159.8h0M217.9 159.8h0M219.4 159.8h0M219.9 159.8h0M219.9 159.8h0M227.4 159.8h0M255.3 159.8h0M256.7 159.8h0M289.1 159.8h0M299 159.8h0M306 159.8h0M313.5 159.8h0M319.9 159.8h0M325.9 159.8h0M326.9 159.8h0M328.4 159.8h0M329.9 159.8h0M332.4 159.8h0M332.9 159.8h0M333.9 159.8h0M333.9 159.8h0M341.3 159.8h0M348.8 159.8h0M351.8 159.8h0M364.2 159.8h0M380.1 159.8h0M381.1 159.8h0M403 159.8h0M414 159.8h0M426.4 159.8h0M426.4 159.8h0M426.4 159.8h0M447.8 159.8h0M464.2 159.8h0M466.7 159.8h0M467.7 159.8h0M475.1 159.8h0M477.6 159.8h0M506 159.8h0M516.4 159.8h0M520.4 159.8h0M532.4 159.8h0M534.4 159.8h0M538.8 159.8h0M569.2 159.8h0M570.2 159.8h0M82.6 161.8h0M86.1 161.8h0M88.1 161.8h0M106.5 161.8h0M110.5 161.8h0M143.3 161.8h0M149.3 161.8h0M176.6 161.8h0M187.6 161.8h0M188.6 161.8h0M198.5 161.8h0M204 161.8h0M212.5 161.8h0M219.9 161.8h0M220.9 161.8h0M238.3 161.8h0M238.8 161.8h0M248.3 161.8h0M251.3 161.8h0M271.7 161.8h0M277.1 161.8h0M282.6 161.8h0M289.1 161.8h0M290.1 161.8h0M293.1 161.8h0M298.5 161.8h0M310 161.8h0M311 161.8h0M313.5 161.8h0M313.5 161.8h0M316.4 161.8h0M322.4 161.8h0M324.9 161.8h0M326.9 161.8h0M329.4 161.8h0M329.9 161.8h0M331.4 161.8h0M333.9 161.8h0M336.3 161.8h0M336.8 161.8h0M339.8 161.8h0M340.3 161.8h0M341.3 161.8h0M347.3 161.8h0M383.6 161.8h0M396.5 161.8h0M412 161.8h0M422.9 161.8h0M456.7 161.8h0M484.1 161.8h0M520.4 161.8h0M523.9 161.8h0M540.8 161.8h0M548.3 161.8h0M560.2 161.8h0M569.7 161.8h0M80.1 163.8h0M86.6 163.8h0M90.6 163.8h0M103.5 163.8h0M116 163.8h0M130.4 163.8h0M133.4 163.8h0M133.9 163.8h0M138.3 163.8h0M152.3 163.8h0M156.7 163.8h0M165.7 163.8h0M181.1 163.8h0M189.1 163.8h0M196.5 163.8h0M217.4 163.8h0M218.9 163.8h0M218.9 163.8h0M222.4 163.8h0M234.9 163.8h0M243.3 163.8h0M252.8 163.8h0M270.7 163.8h0M281.1 163.8h0M287.1 163.8h0M294.1 163.8h0M294.1 163.8h0M295.1 163.8h0M295.6 163.8h0M297 163.8h0M303 163.8h0M304.5 163.8h0M307 163.8h0M307.5 163.8h0M307.5 163.8h0M308.5 163.8h0M310 163.8h0M311 163.8h0M311.5 163.8h0M311.5 163.8h0M315.5 163.8h0M315.9 163.8h0M319.9 163.8h0M324.9 163.8h0M334.9 163.8h0M335.8 163.8h0M337.3 163.8h0M346.8 163.8h0M356.2 163.8h0M358.7 163.8h0M359.2 163.8h0M360.7 163.8h0M368.2 163.8h0M368.2 163.8h0M371.2 163.8h0M375.6 163.8h0M378.6 163.8h0M431.9 163.8h0M443.3 163.8h0M477.6 163.8h0M489.6 163.8h0M501.5 163.8h0M502.5 163.8h0M512.5 163.8h0M518.4 163.8h0M518.9 163.8h0M521.9 163.8h0M528.4 163.8h0M534.4 163.8h0M541.3 163.8h0M557.2 163.8h0M90.6 165.7h0M95.6 165.7h0M109 165.7h0M116.9 165.7h0M126.4 165.7h0M129.9 165.7h0M144.8 165.7h0M150.8 165.7h0M180.6 165.7h0M212 165.7h0M227.4 165.7h0M244.3 165.7h0M249.3 165.7h0M249.8 165.7h0M251.3 165.7h0M255.8 165.7h0M262.7 165.7h0M267.2 165.7h0M296.5 165.7h0M296.5 165.7h0M298 165.7h0M303.5 165.7h0M305 165.7h0M310 165.7h0M323.9 165.7h0M327.9 165.7h0M329.4 165.7h0M336.3 165.7h0M340.8 165.7h0M343.8 165.7h0M353.3 165.7h0M370.2 165.7h0M441.8 165.7h0M451.3 165.7h0M474.6 165.7h0M484.6 165.7h0M532.4 165.7h0M537.8 165.7h0M546.8 165.7h0M100 167.7h0M105 167.7h0M112.5 167.7h0M123.9 167.7h0M123.9 167.7h0M133.4 167.7h0M136.8 167.7h0M136.8 167.7h0M147.8 167.7h0M149.8 167.7h0M153.3 167.7h0M200.5 167.7h0M207.5 167.7h0M215 167.7h0M215 167.7h0M248.8 167.7h0M251.8 167.7h0M252.3 167.7h0M269.2 167.7h0M274.7 167.7h0M278.6 167.7h0M284.1 167.7h0M294.1 167.7h0M295.1 167.7h0M295.6 167.7h0M296.5 167.7h0M307.5 167.7h0M313 167.7h0M316.9 167.7h0M322.9 167.7h0M328.9 167.7h0M330.9 167.7h0M336.3 167.7h0M336.3 167.7h0M336.8 167.7h0M336.8 167.7h0M339.3 167.7h0M344.3 167.7h0M345.3 167.7h0M345.8 167.7h0M368.7 167.7h0M377.6 167.7h0M388.6 167.7h0M440.8 167.7h0M450.8 167.7h0M460.2 167.7h0M464.7 167.7h0M494.5 167.7h0M501.5 167.7h0M535.8 167.7h0M548.3 167.7h0M556.2 167.7h0M80.1 169.7h0M98 169.7h0M100 169.7h0M104.5 169.7h0M112.5 169.7h0M133.9 169.7h0M142.8 169.7h0M146.3 169.7h0M155.8 169.7h0M160.7 169.7h0M163.7 169.7h0M196.5 169.7h0M204.5 169.7h0M212.5 169.7h0M223.9 169.7h0M265.7 169.7h0M281.1 169.7h0M287.6 169.7h0M288.1 169.7h0M289.6 169.7h0M289.6 169.7h0M290.1 169.7h0M298 169.7h0M299 169.7h0M300.5 169.7h0M301 169.7h0M301.5 169.7h0M305.5 169.7h0M308 169.7h0M308.5 169.7h0M310 169.7h0M317.9 169.7h0M317.9 169.7h0M319.4 169.7h0M321.4 169.7h0M324.4 169.7h0M328.4 169.7h0M335.4 169.7h0M338.3 169.7h0M341.8 169.7h0M341.8 169.7h0M344.8 169.7h0M345.8 169.7h0M357.7 169.7h0M360.7 169.7h0M436.8 169.7h0M457.7 169.7h0M462.7 169.7h0M487.1 169.7h0M531.9 169.7h0M542.8 169.7h0M569.7 169.7h0M142.8 171.6h0M179.6 171.6h0M209 171.6h0M210 171.6h0M215 171.6h0M248.3 171.6h0M267.2 171.6h0M275.6 171.6h0M290.1 171.6h0M299 171.6h0M320.4 171.6h0M321.4 171.6h0M323.4 171.6h0M335.8 171.6h0M336.3 171.6h0M338.3 171.6h0M338.3 171.6h0M342.3 171.6h0M349.8 171.6h0M349.8 171.6h0M355.7 171.6h0M359.7 171.6h0M387.1 171.6h0M409 171.6h0M434.4 171.6h0M535.8 171.6h0M536.8 171.6h0M538.8 171.6h0M542.3 171.6h0M544.3 171.6h0M570.2 171.6h0M87.6 173.6h0M106 173.6h0M108 173.6h0M119.9 173.6h0M130.4 173.6h0M132.4 173.6h0M140.8 173.6h0M142.8 173.6h0M154.3 173.6h0M169.7 173.6h0M172.2 173.6h0M195.6 173.6h0M224.9 173.6h0M244.8 173.6h0M265.2 173.6h0M265.2 173.6h0M270.2 173.6h0M270.2 173.6h0M274.2 173.6h0M274.7 173.6h0M275.6 173.6h0M276.1 173.6h0M283.1 173.6h0M284.1 173.6h0M286.6 173.6h0M287.1 173.6h0M287.6 173.6h0M293.1 173.6h0M305 173.6h0M306 173.6h0M325.9 173.6h0M332.9 173.6h0M340.3 173.6h0M343.3 173.6h0M348.8 173.6h0M348.8 173.6h0M351.3 173.6h0M352.8 173.6h0M358.7 173.6h0M358.7 173.6h0M363.7 173.6h0M371.7 173.6h0M375.6 173.6h0M429.9 173.6h0M440.3 173.6h0M448.8 173.6h0M462.7 173.6h0M463.7 173.6h0M467.7 173.6h0M481.6 173.6h0M486.1 173.6h0M513 173.6h0M514.9 173.6h0M528.4 173.6h0M80.6 175.5h0M112 175.5h0M143.3 175.5h0M144.8 175.5h0M158.2 175.5h0M169.2 175.5h0M180.6 175.5h0M193.6 175.5h0M195.1 175.5h0M196.5 175.5h0M199.5 175.5h0M219.9 175.5h0M229.4 175.5h0M231.4 175.5h0M236.3 175.5h0M246.3 175.5h0M264.2 175.5h0M268.7 175.5h0M282.1 175.5h0M287.6 175.5h0M292.6 175.5h0M306.5 175.5h0M307 175.5h0M318.4 175.5h0M319.4 175.5h0M324.9 175.5h0M325.9 175.5h0M330.9 175.5h0M344.8 175.5h0M351.8 175.5h0M357.7 175.5h0M368.7 175.5h0M374.2 175.5h0M392.6 175.5h0M406.5 175.5h0M416.4 175.5h0M491.1 175.5h0M495.5 175.5h0M512.5 175.5h0M549.3 175.5h0M80.1 177.5h0M81.1 177.5h0M83.6 177.5h0M87.1 177.5h0M87.1 177.5h0M88.6 177.5h0M89.6 177.5h0M91.1 177.5h0M96.6 177.5h0M97 177.5h0M97.5 177.5h0M104 177.5h0M104.5 177.5h0M105.5 177.5h0M108 177.5h0M112 177.5h0M112.5 177.5h0M116.5 177.5h0M118.4 177.5h0M118.9 177.5h0M122.4 177.5h0M126.4 177.5h0M128.4 177.5h0M129.4 177.5h0M129.9 177.5h0M130.4 177.5h0M131.9 177.5h0M131.9 177.5h0M132.9 177.5h0M134.9 177.5h0M137.3 177.5h0M137.8 177.5h0M138.3 177.5h0M138.3 177.5h0M139.3 177.5h0M139.3 177.5h0M139.3 177.5h0M143.3 177.5h0M145.3 177.5h0M147.8 177.5h0M147.8 177.5h0M147.8 177.5h0M148.3 177.5h0M151.8 177.5h0M154.3 177.5h0M155.3 177.5h0M156.2 177.5h0M156.7 177.5h0M157.2 177.5h0M157.7 177.5h0M165.2 177.5h0M165.7 177.5h0M167.2 177.5h0M167.7 177.5h0M168.7 177.5h0M168.7 177.5h0M170.7 177.5h0M172.2 177.5h0M173.7 177.5h0M177.1 177.5h0M180.1 177.5h0M183.1 177.5h0M184.1 177.5h0M186.1 177.5h0M189.1 177.5h0M190.6 177.5h0M190.6 177.5h0M192.1 177.5h0M192.6 177.5h0M194.1 177.5h0M195.1 177.5h0M197.5 177.5h0M198 177.5h0M198.5 177.5h0M199 177.5h0M200 177.5h0M201 177.5h0M202.5 177.5h0M203 177.5h0M203.5 177.5h0M206 177.5h0M206.5 177.5h0M206.5 177.5h0M209.5 177.5h0M209.5 177.5h0M210.5 177.5h0M212.5 177.5h0M212.5 177.5h0M214 177.5h0M215.9 177.5h0M215.9 177.5h0M219.4 177.5h0M219.9 177.5h0M220.4 177.5h0M222.9 177.5h0M222.9 177.5h0M225.9 177.5h0M227.4 177.5h0M229.9 177.5h0M229.9 177.5h0M230.9 177.5h0M230.9 177.5h0M230.9 177.5h0M231.4 177.5h0M232.4 177.5h0M232.9 177.5h0M233.4 177.5h0M233.4 177.5h0M234.4 177.5h0M239.3 177.5h0M239.3 177.5h0M239.3 177.5h0M242.3 177.5h0M242.8 177.5h0M244.8 177.5h0M249.3 177.5h0M249.3 177.5h0M250.3 177.5h0M250.8 177.5h0M251.3 177.5h0M251.3 177.5h0M252.8 177.5h0M252.8 177.5h0M253.3 177.5h0M253.8 177.5h0M254.3 177.5h0M254.3 177.5h0M254.3 177.5h0M256.7 177.5h0M259.2 177.5h0M259.2 177.5h0M259.7 177.5h0M260.2 177.5h0M261.7 177.5h0M264.2 177.5h0M264.7 177.5h0M264.7 177.5h0M265.2 177.5h0M267.2 177.5h0M270.7 177.5h0M271.2 177.5h0M271.7 177.5h0M273.2 177.5h0M273.7 177.5h0M274.2 177.5h0M274.2 177.5h0M274.7 177.5h0M275.2 177.5h0M278.6 177.5h0M279.1 177.5h0M279.1 177.5h0M279.1 177.5h0M280.1 177.5h0M281.6 177.5h0M282.1 177.5h0M282.6 177.5h0M283.6 177.5h0M283.6 177.5h0M285.6 177.5h0M285.6 177.5h0M286.1 177.5h0M286.1 177.5h0M287.1 177.5h0M287.6 177.5h0M287.6 177.5h0M287.6 177.5h0M289.6 177.5h0M290.6 177.5h0M291.1 177.5h0M291.1 177.5h0M291.6 177.5h0M291.6 177.5h0M291.6 177.5h0M291.6 177.5h0M292.1 177.5h0M292.1 177.5h0M292.1 177.5h0M292.6 177.5h0M293.1 177.5h0M293.6 177.5h0M294.1 177.5h0M294.1 177.5h0M294.1 177.5h0M294.6 177.5h0M295.6 177.5h0M296 177.5h0M296.5 177.5h0M297.5 177.5h0M298 177.5h0M299 177.5h0M300 177.5h0M300 177.5h0M300 177.5h0M300.5 177.5h0M301 177.5h0M301.5 177.5h0M302 177.5h0M302 177.5h0M302.5 177.5h0M303.5 177.5h0M304 177.5h0M304.5 177.5h0M305 177.5h0M305.5 177.5h0M306 177.5h0M306 177.5h0M306.5 177.5h0M306.5 177.5h0M306.5 177.5h0M308 177.5h0M308 177.5h0M308.5 177.5h0M308.5 177.5h0M308.5 177.5h0M308.5 177.5h0M309 177.5h0M309 177.5h0M309 177.5h0M309.5 177.5h0M310.5 177.5h0M310.5 177.5h0M311 177.5h0M311 177.5h0M311.5 177.5h0M311.5 177.5h0M311.5 177.5h0M312 177.5h0M312.5 177.5h0M312.5 177.5h0M312.5 177.5h0M313 177.5h0M313.5 177.5h0M314 177.5h0M314.5 177.5h0M315 177.5h0M315.9 177.5h0M315.9 177.5h0M315.9 177.5h0M316.4 177.5h0M316.9 177.5h0M317.4 177.5h0M317.4 177.5h0M318.4 177.5h0M318.4 177.5h0M318.9 177.5h0M319.4 177.5h0M319.4 177.5h0M319.4 177.5h0M319.9 177.5h0M320.4 177.5h0M320.9 177.5h0M320.9 177.5h0M320.9 177.5h0M321.4 177.5h0M321.9 177.5h0M322.9 177.5h0M322.9 177.5h0M323.4 177.5h0M324.4 177.5h0M324.4 177.5h0M324.9 177.5h0M325.4 177.5h0M325.4 177.5h0M325.4 177.5h0M325.4 177.5h0M326.4 177.5h0M326.4 177.5h0M326.9 177.5h0M326.9 177.5h0M327.4 177.5h0M327.4 177.5h0M327.9 177.5h0M327.9 177.5h0M328.4 177.5h0M328.4 177.5h0M328.9 177.5h0M329.4 177.5h0M329.4 177.5h0M329.4 177.5h0M329.9 177.5h0M329.9 177.5h0M330.4 177.5h0M330.4 177.5h0M331.4 177.5h0M331.4 177.5h0M331.9 177.5h0M331.9 177.5h0M332.4 177.5h0M332.9 177.5h0M333.4 177.5h0M333.4 177.5h0M334.9 177.5h0M334.9 177.5h0M334.9 177.5h0M335.8 177.5h0M335.8 177.5h0M337.8 177.5h0M337.8 177.5h0M338.3 177.5h0M338.3 177.5h0M338.3 177.5h0M338.3 177.5h0M338.8 177.5h0M339.3 177.5h0M339.8 177.5h0M339.8 177.5h0M339.8 177.5h0M340.3 177.5h0M340.8 177.5h0M340.8 177.5h0M341.3 177.5h0M341.3 177.5h0M341.3 177.5h0M341.3 177.5h0M342.3 177.5h0M343.3 177.5h0M343.3 177.5h0M343.8 177.5h0M343.8 177.5h0M344.3 177.5h0M344.3 177.5h0M345.3 177.5h0M345.3 177.5h0M346.3 177.5h0M346.8 177.5h0M347.3 177.5h0M347.8 177.5h0M347.8 177.5h0M348.8 177.5h0M349.3 177.5h0M349.3 177.5h0M349.3 177.5h0M352.3 177.5h0M353.3 177.5h0M353.3 177.5h0M353.3 177.5h0M353.3 177.5h0M353.8 177.5h0M353.8 177.5h0M353.8 177.5h0M354.3 177.5h0M354.8 177.5h0M355.2 177.5h0M355.7 177.5h0M355.7 177.5h0M356.2 177.5h0M356.7 177.5h0M357.2 177.5h0M357.7 177.5h0M358.2 177.5h0M358.7 177.5h0M359.2 177.5h0M360.2 177.5h0M360.2 177.5h0M361.2 177.5h0M363.7 177.5h0M363.7 177.5h0M365.7 177.5h0M368.2 177.5h0M369.7 177.5h0M370.7 177.5h0M372.2 177.5h0M375.6 177.5h0M376.6 177.5h0M378.1 177.5h0M379.1 177.5h0M380.1 177.5h0M380.1 177.5h0M381.1 177.5h0M381.6 177.5h0M382.1 177.5h0M382.1 177.5h0M383.6 177.5h0M386.1 177.5h0M386.1 177.5h0M386.6 177.5h0M387.6 177.5h0M388.1 177.5h0M388.1 177.5h0M392.1 177.5h0M392.1 177.5h0M396.5 177.5h0M397.5 177.5h0M397.5 177.5h0M401 177.5h0M406 177.5h0M408.5 177.5h0M409 177.5h0M409.5 177.5h0M411.5 177.5h0M413.5 177.5h0M418.9 177.5h0M419.9 177.5h0M420.4 177.5h0M423.4 177.5h0M424.9 177.5h0M425.9 177.5h0M425.9 177.5h0M427.9 177.5h0M428.9 177.5h0M429.4 177.5h0M430.9 177.5h0M432.9 177.5h0M433.9 177.5h0M435.3 177.5h0M438.3 177.5h0M439.3 177.5h0M440.3 177.5h0M440.8 177.5h0M442.8 177.5h0M445.3 177.5h0M445.3 177.5h0M446.3 177.5h0M446.3 177.5h0M447.3 177.5h0M447.3 177.5h0M450.3 177.5h0M454.3 177.5h0M455.7 177.5h0M460.2 177.5h0M462.2 177.5h0M462.7 177.5h0M463.7 177.5h0M463.7 177.5h0M465.2 177.5h0M465.2 177.5h0M468.2 177.5h0M470.2 177.5h0M470.7 177.5h0M475.1 177.5h0M476.1 177.5h0M476.6 177.5h0M477.6 177.5h0M479.6 177.5h0M483.1 177.5h0M485.1 177.5h0M487.6 177.5h0M489.6 177.5h0M492.1 177.5h0M492.6 177.5h0M492.6 177.5h0M494.5 177.5h0M498.5 177.5h0M499 177.5h0M499 177.5h0M499.5 177.5h0M502.5 177.5h0M503.5 177.5h0M504.5 177.5h0M510 177.5h0M511.5 177.5h0M512 177.5h0M513.5 177.5h0M517.4 177.5h0M520.4 177.5h0M522.4 177.5h0M527.9 177.5h0M528.9 177.5h0M531.9 177.5h0M531.9 177.5h0M532.9 177.5h0M534.8 177.5h0M536.8 177.5h0M541.8 177.5h0M541.8 177.5h0M544.8 177.5h0M545.3 177.5h0M546.8 177.5h0M547.3 177.5h0M551.3 177.5h0M552.8 177.5h0M553.8 177.5h0M553.8 177.5h0M557.7 177.5h0M564.7 177.5h0M567.7 177.5h0M568.7 177.5h0M571.2 177.5h0M90.6 179.5h0M108 179.5h0M143.3 179.5h0M146.3 179.5h0M148.3 179.5h0M164.2 179.5h0M175.7 179.5h0M196.5 179.5h0M199.5 179.5h0M204 179.5h0M221.9 179.5h0M226.4 179.5h0M240.3 179.5h0M241.8 179.5h0M276.1 179.5h0M277.1 179.5h0M280.1 179.5h0M287.6 179.5h0M288.1 179.5h0M291.6 179.5h0M293.1 179.5h0M297.5 179.5h0M297.5 179.5h0M297.5 179.5h0M310 179.5h0M311.5 179.5h0M312.5 179.5h0M312.5 179.5h0M313 179.5h0M318.9 179.5h0M319.4 179.5h0M321.4 179.5h0M337.8 179.5h0M344.3 179.5h0M345.3 179.5h0M351.8 179.5h0M357.7 179.5h0M369.2 179.5h0M370.2 179.5h0M370.7 179.5h0M377.6 179.5h0M388.6 179.5h0M405 179.5h0M412.5 179.5h0M415 179.5h0M426.4 179.5h0M513 179.5h0M516.9 179.5h0M518.9 179.5h0M525.9 179.5h0M103 181.4h0M116 181.4h0M124.4 181.4h0M136.3 181.4h0M159.2 181.4h0M167.2 181.4h0M213 181.4h0M243.3 181.4h0M250.8 181.4h0M251.3 181.4h0M273.7 181.4h0M283.6 181.4h0M288.6 181.4h0M301 181.4h0M305 181.4h0M310.5 181.4h0M311 181.4h0M313 181.4h0M317.9 181.4h0M318.9 181.4h0M321.4 181.4h0M325.9 181.4h0M327.4 181.4h0M330.9 181.4h0M331.4 181.4h0M335.4 181.4h0M344.8 181.4h0M345.8 181.4h0M347.3 181.4h0M360.7 181.4h0M433.9 181.4h0M433.9 181.4h0M491.6 181.4h0M493.1 181.4h0M493.1 181.4h0M537.8 181.4h0M559.7 181.4h0M564.2 181.4h0M107.5 183.4h0M118.4 183.4h0M126.9 183.4h0M140.8 183.4h0M147.3 183.4h0M167.7 183.4h0M171.2 183.4h0M195.1 183.4h0M208.5 183.4h0M211 183.4h0M222.4 183.4h0M241.8 183.4h0M252.8 183.4h0M287.1 183.4h0M290.6 183.4h0M294.1 183.4h0M295.1 183.4h0M295.6 183.4h0M296.5 183.4h0M299 183.4h0M300 183.4h0M301.5 183.4h0M313.5 183.4h0M324.4 183.4h0M325.9 183.4h0M333.4 183.4h0M335.8 183.4h0M339.8 183.4h0M353.3 183.4h0M355.2 183.4h0M363.2 183.4h0M369.2 183.4h0M382.1 183.4h0M390.6 183.4h0M433.9 183.4h0M433.9 183.4h0M479.6 183.4h0M480.1 183.4h0M491.6 183.4h0M496.5 183.4h0M529.9 183.4h0M544.3 183.4h0M86.1 185.4h0M92.1 185.4h0M104 185.4h0M110.5 185.4h0M156.2 185.4h0M163.7 185.4h0M170.7 185.4h0M204.5 185.4h0M209 185.4h0M229.4 185.4h0M263.7 185.4h0M277.1 185.4h0M278.6 185.4h0M291.6 185.4h0M297 185.4h0M298 185.4h0M304.5 185.4h0M305.5 185.4h0M308 185.4h0M314 185.4h0M314 185.4h0M315 185.4h0M321.9 185.4h0M328.9 185.4h0M331.4 185.4h0M331.4 185.4h0M331.9 185.4h0M332.4 185.4h0M332.9 185.4h0M338.3 185.4h0M340.3 185.4h0M346.3 185.4h0M352.3 185.4h0M352.8 185.4h0M364.2 185.4h0M372.7 185.4h0M378.1 185.4h0M380.6 185.4h0M388.1 185.4h0M400 185.4h0M469.7 185.4h0M501.5 185.4h0M506.5 185.4h0M539.3 185.4h0M87.6 187.3h0M124.9 187.3h0M130.4 187.3h0M141.3 187.3h0M173.2 187.3h0M205.5 187.3h0M217.4 187.3h0M218.4 187.3h0M223.4 187.3h0M226.4 187.3h0M226.9 187.3h0M257.2 187.3h0M261.2 187.3h0M267.2 187.3h0M273.7 187.3h0M275.2 187.3h0M286.6 187.3h0M288.1 187.3h0M299 187.3h0M303.5 187.3h0M306.5 187.3h0M309.5 187.3h0M311.5 187.3h0M318.9 187.3h0M318.9 187.3h0M321.4 187.3h0M324.4 187.3h0M326.4 187.3h0M328.4 187.3h0M329.4 187.3h0M330.9 187.3h0M331.9 187.3h0M331.9 187.3h0M334.9 187.3h0M354.3 187.3h0M355.7 187.3h0M357.7 187.3h0M364.2 187.3h0M366.2 187.3h0M389.1 187.3h0M390.1 187.3h0M395.5 187.3h0M397.5 187.3h0M400.5 187.3h0M410 187.3h0M413 187.3h0M440.3 187.3h0M462.7 187.3h0M477.6 187.3h0M497 187.3h0M499.5 187.3h0M522.4 187.3h0M533.4 187.3h0M571.2 187.3h0M85.1 189.3h0M116 189.3h0M116.9 189.3h0M119.4 189.3h0M123.4 189.3h0M127.9 189.3h0M127.9 189.3h0M133.4 189.3h0M133.9 189.3h0M134.9 189.3h0M145.8 189.3h0M146.3 189.3h0M150.8 189.3h0M155.3 189.3h0M185.1 189.3h0M188.1 189.3h0M197.5 189.3h0M249.8 189.3h0M251.3 189.3h0M259.2 189.3h0M263.7 189.3h0M269.2 189.3h0M275.2 189.3h0M277.6 189.3h0M288.1 189.3h0M294.1 189.3h0M296 189.3h0M299 189.3h0M301.5 189.3h0M305 189.3h0M306 189.3h0M307 189.3h0M310 189.3h0M310.5 189.3h0M311 189.3h0M312 189.3h0M312.5 189.3h0M314 189.3h0M314.5 189.3h0M315 189.3h0M317.4 189.3h0M319.4 189.3h0M320.4 189.3h0M321.4 189.3h0M321.4 189.3h0M322.4 189.3h0M324.9 189.3h0M326.4 189.3h0M326.4 189.3h0M330.4 189.3h0M332.4 189.3h0M332.4 189.3h0M335.8 189.3h0M346.8 189.3h0M355.2 189.3h0M358.2 189.3h0M366.2 189.3h0M367.2 189.3h0M372.7 189.3h0M378.1 189.3h0M393.1 189.3h0M395.5 189.3h0M398.5 189.3h0M410.5 189.3h0M428.4 189.3h0M431.9 189.3h0M431.9 189.3h0M434.4 189.3h0M443.3 189.3h0M444.3 189.3h0M448.8 189.3h0M475.1 189.3h0M482.6 189.3h0M514.5 189.3h0M516.9 189.3h0M522.4 189.3h0M532.9 189.3h0M535.3 189.3h0M537.8 189.3h0M551.3 189.3h0M555.7 189.3h0M81.1 191.3h0M97 191.3h0M101.5 191.3h0M101.5 191.3h0M116 191.3h0M133.4 191.3h0M148.8 191.3h0M184.6 191.3h0M194.6 191.3h0M198.5 191.3h0M213.5 191.3h0M246.3 191.3h0M248.3 191.3h0M251.3 191.3h0M254.8 191.3h0M258.2 191.3h0M260.2 191.3h0M265.2 191.3h0M278.6 191.3h0M285.1 191.3h0M294.6 191.3h0M296 191.3h0M297.5 191.3h0M303.5 191.3h0M307 191.3h0M309 191.3h0M310 191.3h0M311 191.3h0M312 191.3h0M317.4 191.3h0M320.9 191.3h0M323.9 191.3h0M325.4 191.3h0M330.4 191.3h0M331.9 191.3h0M331.9 191.3h0M339.8 191.3h0M341.3 191.3h0M358.7 191.3h0M363.2 191.3h0M380.6 191.3h0M389.6 191.3h0M392.6 191.3h0M404 191.3h0M413 191.3h0M424.4 191.3h0M456.2 191.3h0M459.2 191.3h0M467.2 191.3h0M469.7 191.3h0M475.6 191.3h0M485.6 191.3h0M491.6 191.3h0M497.5 191.3h0M501.5 191.3h0M504 191.3h0M513.5 191.3h0M516.9 191.3h0M520.9 191.3h0M528.4 191.3h0M529.9 191.3h0M531.9 191.3h0M533.4 191.3h0M535.3 191.3h0M543.8 191.3h0M559.2 191.3h0M568.7 191.3h0M87.1 193.2h0M91.6 193.2h0M93.6 193.2h0M101 193.2h0M116.9 193.2h0M140.8 193.2h0M146.8 193.2h0M153.3 193.2h0M202.5 193.2h0M206 193.2h0M211 193.2h0M216.9 193.2h0M231.4 193.2h0M247.3 193.2h0M257.7 193.2h0M258.2 193.2h0M267.2 193.2h0M273.2 193.2h0M279.6 193.2h0M282.1 193.2h0M288.6 193.2h0M291.1 193.2h0M292.6 193.2h0M297 193.2h0M297.5 193.2h0M298.5 193.2h0M298.5 193.2h0M301.5 193.2h0M303 193.2h0M305.5 193.2h0M313.5 193.2h0M314 193.2h0M314 193.2h0M315 193.2h0M315.5 193.2h0M316.4 193.2h0M317.9 193.2h0M318.4 193.2h0M326.4 193.2h0M329.4 193.2h0M330.4 193.2h0M333.9 193.2h0M345.3 193.2h0M350.8 193.2h0M355.7 193.2h0M366.7 193.2h0M369.2 193.2h0M377.6 193.2h0M377.6 193.2h0M388.1 193.2h0M389.1 193.2h0M408 193.2h0M423.9 193.2h0M431.4 193.2h0M436.8 193.2h0M456.7 193.2h0M458.2 193.2h0M490.6 193.2h0M514.5 193.2h0M515.4 193.2h0M539.8 193.2h0M561.7 193.2h0M564.7 193.2h0M85.1 195.2h0M100.5 195.2h0M116 195.2h0M118.4 195.2h0M154.8 195.2h0M179.1 195.2h0M186.6 195.2h0M187.6 195.2h0M206 195.2h0M230.9 195.2h0M236.3 195.2h0M243.8 195.2h0M253.3 195.2h0M257.2 195.2h0M260.7 195.2h0M269.2 195.2h0M272.2 195.2h0M275.6 195.2h0M285.6 195.2h0M286.1 195.2h0M286.6 195.2h0M287.6 195.2h0M290.6 195.2h0M294.6 195.2h0M295.6 195.2h0M296.5 195.2h0M300.5 195.2h0M306.5 195.2h0M309.5 195.2h0M313 195.2h0M316.4 195.2h0M317.9 195.2h0M318.4 195.2h0M321.9 195.2h0M326.4 195.2h0M327.9 195.2h0M328.4 195.2h0M330.4 195.2h0M332.4 195.2h0M333.9 195.2h0M334.9 195.2h0M335.4 195.2h0M335.8 195.2h0M335.8 195.2h0M335.8 195.2h0M337.8 195.2h0M365.2 195.2h0M365.2 195.2h0M367.2 195.2h0M367.7 195.2h0M378.1 195.2h0M382.6 195.2h0M388.1 195.2h0M407 195.2h0M427.9 195.2h0M436.8 195.2h0M441.8 195.2h0M441.8 195.2h0M461.7 195.2h0M468.2 195.2h0M482.1 195.2h0M490.6 195.2h0M497 195.2h0M500 195.2h0M507 195.2h0M527.4 195.2h0M531.4 195.2h0M549.8 195.2h0M554.2 195.2h0M557.7 195.2h0M567.7 195.2h0M81.1 197.1h0M83.6 197.1h0M84.1 197.1h0M96.6 197.1h0M106 197.1h0M110.5 197.1h0M116.5 197.1h0M154.3 197.1h0M157.2 197.1h0M175.2 197.1h0M229.9 197.1h0M239.8 197.1h0M243.8 197.1h0M256.2 197.1h0M268.7 197.1h0M289.6 197.1h0M292.6 197.1h0M301 197.1h0M301.5 197.1h0M302.5 197.1h0M304.5 197.1h0M304.5 197.1h0M305 197.1h0M306.5 197.1h0M310.5 197.1h0M311 197.1h0M312.5 197.1h0M314.5 197.1h0M315.5 197.1h0M316.4 197.1h0M321.4 197.1h0M322.9 197.1h0M325.4 197.1h0M331.4 197.1h0M333.9 197.1h0M335.8 197.1h0M335.8 197.1h0M336.3 197.1h0M336.3 197.1h0M336.8 197.1h0M339.8 197.1h0M341.8 197.1h0M343.3 197.1h0M345.8 197.1h0M347.8 197.1h0M348.8 197.1h0M349.8 197.1h0M352.8 197.1h0M353.3 197.1h0M357.7 197.1h0M358.7 197.1h0M361.7 197.1h0M363.7 197.1h0M371.7 197.1h0M375.6 197.1h0M380.6 197.1h0M382.6 197.1h0M398.5 197.1h0M404 197.1h0M437.8 197.1h0M451.8 197.1h0M524.4 197.1h0M535.8 197.1h0M538.3 197.1h0M543.3 197.1h0M545.3 197.1h0M559.7 197.1h0M109 199.1h0M132.4 199.1h0M138.3 199.1h0M144.3 199.1h0M146.3 199.1h0M161.2 199.1h0M168.2 199.1h0M171.7 199.1h0M179.6 199.1h0M193.1 199.1h0M193.1 199.1h0M211.5 199.1h0M216.4 199.1h0M222.4 199.1h0M256.7 199.1h0M263.2 199.1h0M272.2 199.1h0M282.1 199.1h0M289.1 199.1h0M289.1 199.1h0M293.1 199.1h0M296 199.1h0M297 199.1h0M304.5 199.1h0M306.5 199.1h0M310 199.1h0M312 199.1h0M318.4 199.1h0M322.4 199.1h0M322.4 199.1h0M324.4 199.1h0M325.4 199.1h0M326.4 199.1h0M327.4 199.1h0M328.4 199.1h0M329.9 199.1h0M330.9 199.1h0M334.4 199.1h0M335.8 199.1h0M336.3 199.1h0M336.8 199.1h0M338.3 199.1h0M340.3 199.1h0M343.8 199.1h0M344.3 199.1h0M344.8 199.1h0M347.8 199.1h0M351.3 199.1h0M363.7 199.1h0M367.2 199.1h0M372.7 199.1h0M375.1 199.1h0M377.6 199.1h0M386.1 199.1h0M391.1 199.1h0M415.9 199.1h0M439.8 199.1h0M443.8 199.1h0M447.8 199.1h0M449.3 199.1h0M461.7 199.1h0M464.2 199.1h0M472.2 199.1h0M481.6 199.1h0M483.6 199.1h0M487.6 199.1h0M490.6 199.1h0M503 199.1h0M512.5 199.1h0M514 199.1h0M525.4 199.1h0M541.3 199.1h0M545.8 199.1h0M552.8 199.1h0M83.6 201.1h0M128.9 201.1h0M150.3 201.1h0M161.2 201.1h0M169.7 201.1h0M171.2 201.1h0M212 201.1h0M220.4 201.1h0M225.9 201.1h0M258.7 201.1h0M259.2 201.1h0M262.2 201.1h0M287.6 201.1h0M289.1 201.1h0M290.6 201.1h0M292.1 201.1h0M294.6 201.1h0M297.5 201.1h0M298 201.1h0M301 201.1h0M301.5 201.1h0M303.5 201.1h0M304 201.1h0M305 201.1h0M307.5 201.1h0M308 201.1h0M310 201.1h0M314.5 201.1h0M315.5 201.1h0M315.5 201.1h0M315.9 201.1h0M316.4 201.1h0M318.9 201.1h0M321.4 201.1h0M325.4 201.1h0M335.8 201.1h0M338.3 201.1h0M339.3 201.1h0M339.8 201.1h0M340.8 201.1h0M348.3 201.1h0M350.8 201.1h0M350.8 201.1h0M351.3 201.1h0M353.8 201.1h0M354.3 201.1h0M359.2 201.1h0M362.2 201.1h0M363.2 201.1h0M407.5 201.1h0M410 201.1h0M434.4 201.1h0M444.8 201.1h0M448.3 201.1h0M452.3 201.1h0M479.6 201.1h0M482.1 201.1h0M498 201.1h0M507.5 201.1h0M507.5 201.1h0M520.9 201.1h0M525.4 201.1h0M525.4 201.1h0M528.9 201.1h0M532.9 201.1h0M542.8 201.1h0M553.3 201.1h0M556.2 201.1h0M570.7 201.1h0M79.6 203h0M80.1 203h0M85.6 203h0M88.6 203h0M91.1 203h0M115.5 203h0M124.9 203h0M129.4 203h0M149.3 203h0M161.7 203h0M163.2 203h0M177.1 203h0M184.1 203h0M230.9 203h0M234.9 203h0M239.8 203h0M265.7 203h0M272.2 203h0M277.6 203h0M279.6 203h0M286.6 203h0M292.6 203h0M292.6 203h0M293.1 203h0M294.1 203h0M294.6 203h0M300.5 203h0M301.5 203h0M314 203h0M319.9 203h0M320.4 203h0M321.4 203h0M321.9 203h0M323.4 203h0M325.4 203h0M326.9 203h0M331.9 203h0M332.4 203h0M333.4 203h0M334.4 203h0M337.3 203h0M341.3 203h0M342.8 203h0M345.8 203h0M350.3 203h0M366.2 203h0M366.2 203h0M374.7 203h0M388.6 203h0M404.5 203h0M422.9 203h0M428.9 203h0M436.8 203h0M438.3 203h0M439.3 203h0M443.3 203h0M451.3 203h0M502 203h0M505 203h0M520.4 203h0M523.4 203h0M527.4 203h0M89.6 205h0M104.5 205h0M109.5 205h0M110.5 205h0M118.9 205h0M124.4 205h0M134.9 205h0M186.6 205h0M194.1 205h0M210 205h0M228.4 205h0M234.9 205h0M239.8 205h0M281.1 205h0M285.6 205h0M288.6 205h0M295.1 205h0M296 205h0M298 205h0M298.5 205h0M307.5 205h0M308.5 205h0M311.5 205h0M312.5 205h0M313.5 205h0M319.9 205h0M321.4 205h0M321.9 205h0M324.9 205h0M325.9 205h0M326.4 205h0M329.4 205h0M338.3 205h0M338.8 205h0M339.3 205h0M341.8 205h0M345.8 205h0M347.8 205h0M351.3 205h0M353.3 205h0M353.8 205h0M354.3 205h0M354.3 205h0M357.7 205h0M358.7 205h0M360.7 205h0M371.2 205h0M381.1 205h0M393.6 205h0M402.5 205h0M413.5 205h0M447.8 205h0M449.8 205h0M457.7 205h0M471.7 205h0M471.7 205h0M484.1 205h0M507 205h0M514.9 205h0M515.9 205h0M546.8 205h0M554.7 205h0M85.6 207h0M100.5 207h0M107.5 207h0M117.4 207h0M119.4 207h0M122.9 207h0M127.4 207h0M148.8 207h0M156.7 207h0M163.2 207h0M185.6 207h0M189.1 207h0M207 207h0M209.5 207h0M219.4 207h0M223.4 207h0M229.9 207h0M230.9 207h0M246.8 207h0M253.3 207h0M282.6 207h0M283.6 207h0M289.1 207h0M293.6 207h0M305 207h0M306.5 207h0M308.5 207h0M309 207h0M310 207h0M312 207h0M318.9 207h0M319.9 207h0M322.4 207h0M324.4 207h0M326.9 207h0M327.4 207h0M327.4 207h0M332.4 207h0M333.4 207h0M336.3 207h0M336.8 207h0M338.3 207h0M338.3 207h0M339.3 207h0M341.8 207h0M342.3 207h0M346.8 207h0M347.8 207h0M356.2 207h0M356.7 207h0M357.7 207h0M359.2 207h0M359.7 207h0M360.2 207h0M362.2 207h0M377.1 207h0M377.1 207h0M383.6 207h0M389.1 207h0M416.4 207h0M421.9 207h0M437.3 207h0M439.8 207h0M444.3 207h0M453.8 207h0M463.2 207h0M490.6 207h0M498 207h0M510.5 207h0M519.9 207h0M521.4 207h0M526.4 207h0M535.3 207h0M547.3 207h0M557.2 207h0M563.2 207h0M569.2 207h0M82.6 208.9h0M84.6 208.9h0M85.1 208.9h0M88.1 208.9h0M98 208.9h0M104.5 208.9h0M106 208.9h0M110 208.9h0M115.5 208.9h0M120.4 208.9h0M122.9 208.9h0M126.4 208.9h0M159.7 208.9h0M165.7 208.9h0M170.7 208.9h0M176.2 208.9h0M184.1 208.9h0M186.1 208.9h0M187.6 208.9h0M190.6 208.9h0M198 208.9h0M200 208.9h0M200 208.9h0M203.5 208.9h0M206.5 208.9h0M230.9 208.9h0M250.3 208.9h0M276.6 208.9h0M278.6 208.9h0M288.6 208.9h0M292.6 208.9h0M292.6 208.9h0M294.6 208.9h0M295.1 208.9h0M296 208.9h0M296.5 208.9h0M298.5 208.9h0M300 208.9h0M304.5 208.9h0M311 208.9h0M319.4 208.9h0M321.4 208.9h0M323.9 208.9h0M325.9 208.9h0M329.9 208.9h0M330.9 208.9h0M331.4 208.9h0M331.9 208.9h0M333.4 208.9h0M335.8 208.9h0M338.8 208.9h0M340.8 208.9h0M341.3 208.9h0M345.8 208.9h0M351.3 208.9h0M358.2 208.9h0M359.7 208.9h0M360.2 208.9h0M361.2 208.9h0M361.7 208.9h0M362.2 208.9h0M368.7 208.9h0M368.7 208.9h0M371.2 208.9h0M394.6 208.9h0M397.5 208.9h0M400.5 208.9h0M415.4 208.9h0M422.4 208.9h0M440.8 208.9h0M449.8 208.9h0M458.7 208.9h0M467.7 208.9h0M492.1 208.9h0M506 208.9h0M511 208.9h0M522.9 208.9h0M526.9 208.9h0M527.4 208.9h0M538.3 208.9h0M544.8 208.9h0M568.7 208.9h0M81.6 210.9h0M91.1 210.9h0M102 210.9h0M116.5 210.9h0M117.4 210.9h0M122.9 210.9h0M126.4 210.9h0M136.8 210.9h0M148.8 210.9h0M154.3 210.9h0M182.6 210.9h0M191.6 210.9h0M204.5 210.9h0M223.9 210.9h0M248.8 210.9h0M248.8 210.9h0M262.7 210.9h0M266.7 210.9h0M289.1 210.9h0M290.6 210.9h0M300.5 210.9h0M302.5 210.9h0M305.5 210.9h0M305.5 210.9h0M306.5 210.9h0M315.5 210.9h0M316.4 210.9h0M319.9 210.9h0M326.4 210.9h0M327.4 210.9h0M327.4 210.9h0M329.9 210.9h0M334.9 210.9h0M335.4 210.9h0M335.8 210.9h0M344.8 210.9h0M345.3 210.9h0M346.3 210.9h0M349.3 210.9h0M355.2 210.9h0M356.7 210.9h0M362.2 210.9h0M362.7 210.9h0M363.7 210.9h0M379.1 210.9h0M379.6 210.9h0M384.6 210.9h0M395.5 210.9h0M406 210.9h0M427.4 210.9h0M444.3 210.9h0M451.8 210.9h0M453.8 210.9h0M456.2 210.9h0M463.2 210.9h0M465.2 210.9h0M474.2 210.9h0M477.1 210.9h0M483.1 210.9h0M490.6 210.9h0M496.5 210.9h0M512 210.9h0M514 210.9h0M543.3 210.9h0M556.7 210.9h0M560.7 210.9h0M80.1 212.9h0M91.6 212.9h0M94.6 212.9h0M95.1 212.9h0M112.5 212.9h0M120.9 212.9h0M138.8 212.9h0M143.3 212.9h0M147.8 212.9h0M154.3 212.9h0M166.7 212.9h0M171.2 212.9h0M174.2 212.9h0M184.6 212.9h0M194.1 212.9h0M201 212.9h0M206.5 212.9h0M216.9 212.9h0M221.9 212.9h0M222.9 212.9h0M226.9 212.9h0M235.9 212.9h0M236.8 212.9h0M242.8 212.9h0M273.7 212.9h0M276.6 212.9h0M277.1 212.9h0M277.1 212.9h0M283.6 212.9h0M285.1 212.9h0M302.5 212.9h0M305.5 212.9h0M308 212.9h0M311 212.9h0M318.9 212.9h0M322.4 212.9h0M322.9 212.9h0M324.9 212.9h0M325.4 212.9h0M327.9 212.9h0M329.4 212.9h0M330.4 212.9h0M330.4 212.9h0M330.4 212.9h0M331.4 212.9h0M336.3 212.9h0M336.3 212.9h0M339.3 212.9h0M341.8 212.9h0M342.3 212.9h0M345.3 212.9h0M346.8 212.9h0M347.8 212.9h0M348.3 212.9h0M349.3 212.9h0M349.8 212.9h0M351.3 212.9h0M352.8 212.9h0M354.3 212.9h0M361.7 212.9h0M363.2 212.9h0M377.1 212.9h0M382.6 212.9h0M395 212.9h0M395.5 212.9h0M401 212.9h0M425.9 212.9h0M427.9 212.9h0M442.8 212.9h0M464.7 212.9h0M465.2 212.9h0M477.1 212.9h0M508 212.9h0M508.5 212.9h0M517.4 212.9h0M521.4 212.9h0M525.4 212.9h0M549.3 212.9h0M553.3 212.9h0M555.2 212.9h0M80.6 214.8h0M114 214.8h0M121.9 214.8h0M143.3 214.8h0M143.8 214.8h0M148.3 214.8h0M159.2 214.8h0M159.7 214.8h0M161.7 214.8h0M177.1 214.8h0M179.1 214.8h0M204.5 214.8h0M204.5 214.8h0M207.5 214.8h0M208 214.8h0M217.4 214.8h0M235.9 214.8h0M256.7 214.8h0M265.2 214.8h0M266.7 214.8h0M272.7 214.8h0M289.6 214.8h0M292.6 214.8h0M295.6 214.8h0M295.6 214.8h0M296 214.8h0M304 214.8h0M304.5 214.8h0M305 214.8h0M305 214.8h0M307 214.8h0M307 214.8h0M307.5 214.8h0M308 214.8h0M313.5 214.8h0M317.9 214.8h0M324.4 214.8h0M325.4 214.8h0M326.4 214.8h0M327.9 214.8h0M329.4 214.8h0M333.9 214.8h0M334.4 214.8h0M337.8 214.8h0M340.3 214.8h0M341.3 214.8h0M341.8 214.8h0M341.8 214.8h0M342.3 214.8h0M344.3 214.8h0M344.3 214.8h0M344.3 214.8h0M347.8 214.8h0M349.3 214.8h0M349.8 214.8h0M350.3 214.8h0M351.3 214.8h0M351.8 214.8h0M355.7 214.8h0M357.7 214.8h0M366.2 214.8h0M380.1 214.8h0M380.1 214.8h0M390.1 214.8h0M400 214.8h0M408.5 214.8h0M417.9 214.8h0M421.9 214.8h0M440.3 214.8h0M441.3 214.8h0M463.7 214.8h0M464.2 214.8h0M478.6 214.8h0M481.1 214.8h0M496.5 214.8h0M502 214.8h0M511 214.8h0M514.9 214.8h0M520.9 214.8h0M526.4 214.8h0M537.3 214.8h0M541.8 214.8h0M554.2 214.8h0M559.7 214.8h0M564.2 214.8h0M568.2 214.8h0M80.1 216.8h0M86.6 216.8h0M89.1 216.8h0M105 216.8h0M111 216.8h0M111 216.8h0M120.9 216.8h0M165.2 216.8h0M172.7 216.8h0M178.6 216.8h0M184.6 216.8h0M192.6 216.8h0M201.5 216.8h0M225.4 216.8h0M234.9 216.8h0M246.3 216.8h0M246.3 216.8h0M250.3 216.8h0M255.3 216.8h0M256.7 216.8h0M269.7 216.8h0M271.7 216.8h0M272.2 216.8h0M272.2 216.8h0M280.1 216.8h0M281.1 216.8h0M291.1 216.8h0M291.6 216.8h0M293.1 216.8h0M294.1 216.8h0M295.1 216.8h0M295.6 216.8h0M297 216.8h0M297.5 216.8h0M298 216.8h0M301 216.8h0M301.5 216.8h0M303 216.8h0M304 216.8h0M305 216.8h0M305 216.8h0M308 216.8h0M310 216.8h0M310.5 216.8h0M311 216.8h0M315.9 216.8h0M316.4 216.8h0M316.9 216.8h0M321.4 216.8h0M322.4 216.8h0M322.9 216.8h0M325.4 216.8h0M328.9 216.8h0M329.4 216.8h0M331.4 216.8h0M331.9 216.8h0M332.4 216.8h0M333.9 216.8h0M335.8 216.8h0M336.8 216.8h0M341.8 216.8h0M344.8 216.8h0M344.8 216.8h0M345.8 216.8h0M352.8 216.8h0M353.3 216.8h0M355.2 216.8h0M355.7 216.8h0M360.2 216.8h0M383.1 216.8h0M387.1 216.8h0M394.6 216.8h0M408 216.8h0M408 216.8h0M419.4 216.8h0M429.9 216.8h0M434.9 216.8h0M449.8 216.8h0M451.8 216.8h0M458.2 216.8h0M472.2 216.8h0M474.6 216.8h0M478.1 216.8h0M478.6 216.8h0M489.1 216.8h0M489.6 216.8h0M497.5 216.8h0M499 216.8h0M509 216.8h0M524.4 216.8h0M539.8 216.8h0M542.8 216.8h0M552.8 216.8h0M558.2 216.8h0M562.7 216.8h0M563.2 216.8h0M96.1 218.7h0M98 218.7h0M106 218.7h0M106.5 218.7h0M107.5 218.7h0M108 218.7h0M112 218.7h0M122.9 218.7h0M127.9 218.7h0M131.4 218.7h0M133.9 218.7h0M148.8 218.7h0M156.2 218.7h0M164.7 218.7h0M167.7 218.7h0M169.2 218.7h0M169.2 218.7h0M175.2 218.7h0M201.5 218.7h0M228.4 218.7h0M229.9 218.7h0M231.4 218.7h0M237.8 218.7h0M250.3 218.7h0M270.7 218.7h0M274.7 218.7h0M283.1 218.7h0M283.1 218.7h0M283.6 218.7h0M290.6 218.7h0M292.1 218.7h0M294.1 218.7h0M295.1 218.7h0M303 218.7h0M304 218.7h0M306 218.7h0M311.5 218.7h0M314.5 218.7h0M315 218.7h0M316.9 218.7h0M321.9 218.7h0M323.4 218.7h0M325.4 218.7h0M326.9 218.7h0M326.9 218.7h0M329.9 218.7h0M329.9 218.7h0M335.4 218.7h0M337.8 218.7h0M337.8 218.7h0M340.8 218.7h0M342.3 218.7h0M342.3 218.7h0M347.3 218.7h0M347.8 218.7h0M357.2 218.7h0M359.2 218.7h0M361.7 218.7h0M371.7 218.7h0M379.1 218.7h0M384.1 218.7h0M393.1 218.7h0M415.9 218.7h0M417.9 218.7h0M426.9 218.7h0M437.3 218.7h0M445.3 218.7h0M451.3 218.7h0M458.2 218.7h0M460.2 218.7h0M463.7 218.7h0M471.7 218.7h0M483.6 218.7h0M490.1 218.7h0M490.1 218.7h0M502 218.7h0M513 218.7h0M524.4 218.7h0M533.9 218.7h0M543.3 218.7h0M546.8 218.7h0M552.3 218.7h0M552.8 218.7h0M560.7 218.7h0M565.7 218.7h0M89.1 220.7h0M89.1 220.7h0M91.1 220.7h0M92.6 220.7h0M98.5 220.7h0M99 220.7h0M115.5 220.7h0M154.3 220.7h0M172.2 220.7h0M188.1 220.7h0M192.1 220.7h0M192.6 220.7h0M199 220.7h0M200 220.7h0M215.5 220.7h0M215.5 220.7h0M220.9 220.7h0M239.8 220.7h0M244.8 220.7h0M278.1 220.7h0M279.1 220.7h0M283.1 220.7h0M286.6 220.7h0M288.6 220.7h0M296 220.7h0M299.5 220.7h0M302.5 220.7h0M306 220.7h0M306 220.7h0M310.5 220.7h0M311 220.7h0M314 220.7h0M315.9 220.7h0M319.9 220.7h0M321.9 220.7h0M322.4 220.7h0M325.9 220.7h0M327.4 220.7h0M328.4 220.7h0M330.9 220.7h0M331.4 220.7h0M333.9 220.7h0M334.4 220.7h0M335.4 220.7h0M336.3 220.7h0M336.8 220.7h0M343.3 220.7h0M345.3 220.7h0M345.8 220.7h0M346.3 220.7h0M347.3 220.7h0M347.8 220.7h0M354.3 220.7h0M355.7 220.7h0M359.2 220.7h0M362.7 220.7h0M363.2 220.7h0M363.2 220.7h0M369.7 220.7h0M372.7 220.7h0M374.2 220.7h0M379.6 220.7h0M388.1 220.7h0M397 220.7h0M403.5 220.7h0M416.9 220.7h0M438.8 220.7h0M439.8 220.7h0M443.8 220.7h0M458.2 220.7h0M463.2 220.7h0M467.7 220.7h0M469.2 220.7h0M471.2 220.7h0M475.6 220.7h0M479.1 220.7h0M485.6 220.7h0M493.1 220.7h0M501 220.7h0M526.9 220.7h0M528.4 220.7h0M530.9 220.7h0M541.3 220.7h0M542.8 220.7h0M544.3 220.7h0M549.8 220.7h0M556.7 220.7h0M562.7 220.7h0M570.7 220.7h0M86.6 222.7h0M94.1 222.7h0M95.6 222.7h0M96.1 222.7h0M99 222.7h0M99 222.7h0M99 222.7h0M109.5 222.7h0M109.5 222.7h0M126.4 222.7h0M139.8 222.7h0M143.8 222.7h0M178.1 222.7h0M180.1 222.7h0M190.6 222.7h0M191.1 222.7h0M198.5 222.7h0M204 222.7h0M212.5 222.7h0M213 222.7h0M214.5 222.7h0M215.5 222.7h0M220.9 222.7h0M223.9 222.7h0M224.4 222.7h0M225.4 222.7h0M232.4 222.7h0M232.9 222.7h0M234.4 222.7h0M240.8 222.7h0M250.3 222.7h0M258.2 222.7h0M263.2 222.7h0M286.1 222.7h0M291.6 222.7h0M293.1 222.7h0M293.1 222.7h0M293.6 222.7h0M295.1 222.7h0M296.5 222.7h0M298 222.7h0M298.5 222.7h0M299.5 222.7h0M299.5 222.7h0M300.5 222.7h0M305 222.7h0M305 222.7h0M306 222.7h0M307.5 222.7h0M308 222.7h0M312.5 222.7h0M313 222.7h0M315.5 222.7h0M318.9 222.7h0M319.4 222.7h0M319.9 222.7h0M324.4 222.7h0M329.4 222.7h0M334.9 222.7h0M335.4 222.7h0M337.3 222.7h0M338.8 222.7h0M341.8 222.7h0M343.3 222.7h0M346.3 222.7h0M350.8 222.7h0M356.7 222.7h0M374.7 222.7h0M376.6 222.7h0M378.6 222.7h0M390.6 222.7h0M397.5 222.7h0M400 222.7h0M401 222.7h0M404.5 222.7h0M404.5 222.7h0M407.5 222.7h0M409.5 222.7h0M427.4 222.7h0M430.9 222.7h0M431.4 222.7h0M432.4 222.7h0M450.3 222.7h0M476.6 222.7h0M491.6 222.7h0M496.5 222.7h0M504 222.7h0M509 222.7h0M509 222.7h0M517.4 222.7h0M519.9 222.7h0M522.4 222.7h0M535.3 222.7h0M542.3 222.7h0M550.3 222.7h0M555.7 222.7h0M557.2 222.7h0M567.2 222.7h0M568.2 222.7h0M570.2 222.7h0M570.2 222.7h0M79.6 224.6h0M86.1 224.6h0M88.1 224.6h0M92.1 224.6h0M102 224.6h0M111.5 224.6h0M118.4 224.6h0M120.4 224.6h0M129.9 224.6h0M132.9 224.6h0M161.2 224.6h0M178.1 224.6h0M203 224.6h0M209.5 224.6h0M210.5 224.6h0M217.9 224.6h0M237.3 224.6h0M238.3 224.6h0M262.7 224.6h0M268.7 224.6h0M289.1 224.6h0M298.5 224.6h0M299 224.6h0M299.5 224.6h0M306 224.6h0M311.5 224.6h0M315 224.6h0M316.4 224.6h0M316.9 224.6h0M317.9 224.6h0M318.4 224.6h0M318.9 224.6h0M318.9 224.6h0M320.9 224.6h0M322.9 224.6h0M323.4 224.6h0M324.9 224.6h0M330.4 224.6h0M331.4 224.6h0M331.9 224.6h0M333.4 224.6h0M337.3 224.6h0M343.3 224.6h0M353.3 224.6h0M362.2 224.6h0M368.7 224.6h0M370.7 224.6h0M373.7 224.6h0M374.2 224.6h0M375.1 224.6h0M376.6 224.6h0M382.6 224.6h0M392.6 224.6h0M399 224.6h0M403.5 224.6h0M405 224.6h0M408 224.6h0M413.5 224.6h0M417.9 224.6h0M441.8 224.6h0M456.7 224.6h0M456.7 224.6h0M468.7 224.6h0M469.7 224.6h0M471.2 224.6h0M474.6 224.6h0M484.1 224.6h0M492.6 224.6h0M499 224.6h0M500 224.6h0M500 224.6h0M502 224.6h0M504 224.6h0M517.9 224.6h0M518.9 224.6h0M548.8 224.6h0M548.8 224.6h0M551.3 224.6h0M553.3 224.6h0M559.7 224.6h0M569.2 224.6h0M80.1 226.6h0M88.1 226.6h0M92.6 226.6h0M94.6 226.6h0M101 226.6h0M113 226.6h0M114 226.6h0M124.9 226.6h0M125.9 226.6h0M126.9 226.6h0M130.9 226.6h0M138.3 226.6h0M139.8 226.6h0M141.3 226.6h0M143.3 226.6h0M147.3 226.6h0M157.2 226.6h0M165.2 226.6h0M166.7 226.6h0M168.7 226.6h0M184.6 226.6h0M188.6 226.6h0M189.1 226.6h0M190.1 226.6h0M193.1 226.6h0M196.1 226.6h0M206 226.6h0M215.9 226.6h0M215.9 226.6h0M227.4 226.6h0M236.3 226.6h0M236.8 226.6h0M240.8 226.6h0M241.3 226.6h0M247.3 226.6h0M251.3 226.6h0M253.3 226.6h0M256.7 226.6h0M266.7 226.6h0M273.2 226.6h0M288.6 226.6h0M290.1 226.6h0M291.6 226.6h0M294.1 226.6h0M296.5 226.6h0M297 226.6h0M299.5 226.6h0M302 226.6h0M302.5 226.6h0M303 226.6h0M303.5 226.6h0M314.5 226.6h0M316.4 226.6h0M331.4 226.6h0M336.3 226.6h0M337.8 226.6h0M343.8 226.6h0M346.8 226.6h0M347.3 226.6h0M348.8 226.6h0M353.3 226.6h0M354.3 226.6h0M357.7 226.6h0M361.2 226.6h0M361.2 226.6h0M364.7 226.6h0M369.2 226.6h0M371.2 226.6h0M386.6 226.6h0M401 226.6h0M403 226.6h0M409 226.6h0M411.5 226.6h0M428.4 226.6h0M429.9 226.6h0M440.8 226.6h0M453.8 226.6h0M456.2 226.6h0M464.7 226.6h0M469.7 226.6h0M473.2 226.6h0M483.6 226.6h0M492.6 226.6h0M496 226.6h0M498 226.6h0M516.9 226.6h0M528.4 226.6h0M532.9 226.6h0M543.3 226.6h0M546.3 226.6h0M548.8 226.6h0M551.8 226.6h0M562.7 226.6h0M564.2 226.6h0M79.6 228.6h0M83.6 228.6h0M84.1 228.6h0M88.6 228.6h0M94.6 228.6h0M95.6 228.6h0M95.6 228.6h0M119.9 228.6h0M126.9 228.6h0M128.9 228.6h0M134.9 228.6h0M135.9 228.6h0M144.3 228.6h0M167.7 228.6h0M168.2 228.6h0M173.7 228.6h0M185.1 228.6h0M189.6 228.6h0M190.6 228.6h0M203 228.6h0M204 228.6h0M211.5 228.6h0M219.4 228.6h0M226.9 228.6h0M227.9 228.6h0M228.9 228.6h0M240.3 228.6h0M250.3 228.6h0M252.3 228.6h0M261.7 228.6h0M262.2 228.6h0M272.7 228.6h0M275.2 228.6h0M278.6 228.6h0M284.1 228.6h0M289.1 228.6h0M292.6 228.6h0M294.6 228.6h0M299.5 228.6h0M301 228.6h0M304 228.6h0M304.5 228.6h0M306.5 228.6h0M307 228.6h0M307 228.6h0M309 228.6h0M309 228.6h0M315.5 228.6h0M318.4 228.6h0M319.4 228.6h0M322.4 228.6h0M322.4 228.6h0M326.9 228.6h0M333.4 228.6h0M333.9 228.6h0M334.4 228.6h0M335.4 228.6h0M335.4 228.6h0M335.4 228.6h0M336.8 228.6h0M336.8 228.6h0M337.8 228.6h0M337.8 228.6h0M337.8 228.6h0M342.3 228.6h0M343.8 228.6h0M346.3 228.6h0M347.8 228.6h0M348.8 228.6h0M350.3 228.6h0M356.7 228.6h0M364.2 228.6h0M369.7 228.6h0M383.1 228.6h0M407.5 228.6h0M409.5 228.6h0M411 228.6h0M413 228.6h0M422.4 228.6h0M429.9 228.6h0M437.3 228.6h0M437.8 228.6h0M450.3 228.6h0M455.7 228.6h0M456.2 228.6h0M460.2 228.6h0M468.2 228.6h0M472.7 228.6h0M489.6 228.6h0M490.6 228.6h0M493.6 228.6h0M496 228.6h0M504 228.6h0M504.5 228.6h0M508 228.6h0M523.9 228.6h0M558.7 228.6h0M561.7 228.6h0M563.7 228.6h0M565.7 228.6h0M568.7 228.6h0M86.1 230.5h0M89.6 230.5h0M91.6 230.5h0M95.6 230.5h0M98 230.5h0M103 230.5h0M109 230.5h0M115.5 230.5h0M116 230.5h0M117.9 230.5h0M121.4 230.5h0M124.4 230.5h0M142.8 230.5h0M151.8 230.5h0M154.3 230.5h0M158.7 230.5h0M165.7 230.5h0M178.1 230.5h0M180.6 230.5h0M189.6 230.5h0M190.1 230.5h0M199.5 230.5h0M203 230.5h0M211 230.5h0M216.9 230.5h0M230.4 230.5h0M248.8 230.5h0M251.8 230.5h0M252.8 230.5h0M254.3 230.5h0M291.6 230.5h0M297.5 230.5h0M300 230.5h0M309 230.5h0M314 230.5h0M316.9 230.5h0M317.4 230.5h0M318.4 230.5h0M321.4 230.5h0M323.4 230.5h0M325.4 230.5h0M332.4 230.5h0M332.9 230.5h0M334.9 230.5h0M340.8 230.5h0M344.3 230.5h0M347.8 230.5h0M349.8 230.5h0M349.8 230.5h0M357.7 230.5h0M358.2 230.5h0M359.2 230.5h0M362.7 230.5h0M366.2 230.5h0M367.7 230.5h0M372.7 230.5h0M374.7 230.5h0M376.1 230.5h0M376.6 230.5h0M385.6 230.5h0M406 230.5h0M412 230.5h0M416.4 230.5h0M423.9 230.5h0M426.4 230.5h0M428.4 230.5h0M444.8 230.5h0M448.8 230.5h0M456.7 230.5h0M462.7 230.5h0M479.6 230.5h0M479.6 230.5h0M485.6 230.5h0M490.1 230.5h0M494.1 230.5h0M502 230.5h0M503 230.5h0M517.4 230.5h0M542.3 230.5h0M549.3 230.5h0M562.7 230.5h0M563.7 230.5h0M566.2 230.5h0M568.2 230.5h0M80.1 232.5h0M90.6 232.5h0M92.1 232.5h0M92.1 232.5h0M105.5 232.5h0M116.9 232.5h0M117.4 232.5h0M118.4 232.5h0M119.4 232.5h0M127.4 232.5h0M136.3 232.5h0M140.3 232.5h0M141.3 232.5h0M144.3 232.5h0M150.3 232.5h0M166.7 232.5h0M177.1 232.5h0M187.1 232.5h0M199 232.5h0M209.5 232.5h0M209.5 232.5h0M213 232.5h0M213 232.5h0M218.4 232.5h0M224.4 232.5h0M226.9 232.5h0M240.8 232.5h0M246.3 232.5h0M260.2 232.5h0M260.2 232.5h0M265.7 232.5h0M266.7 232.5h0M276.1 232.5h0M288.1 232.5h0M289.1 232.5h0M296 232.5h0M299.5 232.5h0M303.5 232.5h0M303.5 232.5h0M305 232.5h0M309 232.5h0M309.5 232.5h0M311.5 232.5h0M315 232.5h0M315 232.5h0M316.9 232.5h0M318.4 232.5h0M321.4 232.5h0M329.4 232.5h0M333.4 232.5h0M334.4 232.5h0M335.4 232.5h0M337.3 232.5h0M337.8 232.5h0M337.8 232.5h0M344.8 232.5h0M346.3 232.5h0M346.8 232.5h0M350.3 232.5h0M354.3 232.5h0M354.8 232.5h0M356.2 232.5h0M359.7 232.5h0M360.7 232.5h0M363.2 232.5h0M376.6 232.5h0M385.6 232.5h0M388.6 232.5h0M391.6 232.5h0M411.5 232.5h0M413 232.5h0M420.9 232.5h0M424.4 232.5h0M426.4 232.5h0M428.4 232.5h0M435.8 232.5h0M451.8 232.5h0M455.7 232.5h0M466.7 232.5h0M475.1 232.5h0M482.6 232.5h0M486.6 232.5h0M487.6 232.5h0M504.5 232.5h0M505 232.5h0M513 232.5h0M513.5 232.5h0M514.9 232.5h0M517.4 232.5h0M518.9 232.5h0M526.4 232.5h0M527.4 232.5h0M530.4 232.5h0M536.3 232.5h0M541.8 232.5h0M543.8 232.5h0M553.3 232.5h0M555.7 232.5h0M556.7 232.5h0M562.2 232.5h0M86.1 234.5h0M88.6 234.5h0M98 234.5h0M102.5 234.5h0M105.5 234.5h0M106 234.5h0M108.5 234.5h0M117.9 234.5h0M121.4 234.5h0M121.9 234.5h0M131.9 234.5h0M135.4 234.5h0M140.3 234.5h0M140.8 234.5h0M144.8 234.5h0M146.3 234.5h0M152.8 234.5h0M163.2 234.5h0M164.2 234.5h0M169.2 234.5h0M170.2 234.5h0M178.6 234.5h0M181.1 234.5h0M187.1 234.5h0M187.6 234.5h0M191.6 234.5h0M191.6 234.5h0M199.5 234.5h0M207 234.5h0M211 234.5h0M213 234.5h0M216.4 234.5h0M216.4 234.5h0M225.9 234.5h0M253.3 234.5h0M260.7 234.5h0M266.2 234.5h0M267.7 234.5h0M267.7 234.5h0M267.7 234.5h0M281.1 234.5h0M283.1 234.5h0M287.1 234.5h0M291.1 234.5h0M293.6 234.5h0M294.1 234.5h0M294.1 234.5h0M297 234.5h0M298 234.5h0M302.5 234.5h0M303 234.5h0M310 234.5h0M312.5 234.5h0M313 234.5h0M315 234.5h0M316.9 234.5h0M317.4 234.5h0M318.9 234.5h0M321.4 234.5h0M322.4 234.5h0M327.4 234.5h0M330.4 234.5h0M330.9 234.5h0M331.4 234.5h0M331.4 234.5h0M332.4 234.5h0M332.9 234.5h0M333.4 234.5h0M334.4 234.5h0M335.4 234.5h0M344.3 234.5h0M346.8 234.5h0M346.8 234.5h0M347.8 234.5h0M348.3 234.5h0M349.3 234.5h0M351.3 234.5h0M352.3 234.5h0M353.8 234.5h0M353.8 234.5h0M354.8 234.5h0M355.2 234.5h0M355.2 234.5h0M359.7 234.5h0M361.7 234.5h0M362.2 234.5h0M369.7 234.5h0M371.7 234.5h0M371.7 234.5h0M378.6 234.5h0M382.6 234.5h0M393.1 234.5h0M396 234.5h0M396.5 234.5h0M401.5 234.5h0M402 234.5h0M410 234.5h0M415.9 234.5h0M426.4 234.5h0M427.4 234.5h0M449.3 234.5h0M451.8 234.5h0M454.3 234.5h0M457.2 234.5h0M459.2 234.5h0M460.2 234.5h0M482.6 234.5h0M488.6 234.5h0M495 234.5h0M500.5 234.5h0M514 234.5h0M519.4 234.5h0M520.4 234.5h0M521.4 234.5h0M522.4 234.5h0M524.4 234.5h0M530.4 234.5h0M534.4 234.5h0M544.3 234.5h0M564.7 234.5h0M83.1 236.4h0M83.1 236.4h0M100.5 236.4h0M122.9 236.4h0M125.9 236.4h0M126.4 236.4h0M128.9 236.4h0M137.3 236.4h0M152.3 236.4h0M152.8 236.4h0M154.3 236.4h0M154.8 236.4h0M157.7 236.4h0M159.2 236.4h0M169.7 236.4h0M171.2 236.4h0M183.1 236.4h0M189.6 236.4h0M194.6 236.4h0M209 236.4h0M209 236.4h0M215 236.4h0M218.4 236.4h0M222.4 236.4h0M233.9 236.4h0M234.4 236.4h0M236.3 236.4h0M238.8 236.4h0M239.3 236.4h0M239.8 236.4h0M250.3 236.4h0M254.8 236.4h0M262.7 236.4h0M270.2 236.4h0M270.7 236.4h0M270.7 236.4h0M274.2 236.4h0M279.1 236.4h0M282.6 236.4h0M285.1 236.4h0M288.6 236.4h0M293.6 236.4h0M294.1 236.4h0M294.6 236.4h0M295.1 236.4h0M296.5 236.4h0M301 236.4h0M303.5 236.4h0M304 236.4h0M304.5 236.4h0M305.5 236.4h0M305.5 236.4h0M308 236.4h0M308 236.4h0M308.5 236.4h0M309 236.4h0M314 236.4h0M315.9 236.4h0M321.9 236.4h0M323.9 236.4h0M325.4 236.4h0M331.4 236.4h0M331.4 236.4h0M332.9 236.4h0M333.4 236.4h0M336.3 236.4h0M338.8 236.4h0M340.3 236.4h0M341.3 236.4h0M345.8 236.4h0M349.8 236.4h0M352.3 236.4h0M352.3 236.4h0M353.3 236.4h0M353.8 236.4h0M359.2 236.4h0M367.7 236.4h0M373.2 236.4h0M375.6 236.4h0M377.6 236.4h0M393.6 236.4h0M394.1 236.4h0M397 236.4h0M415 236.4h0M416.4 236.4h0M423.4 236.4h0M426.9 236.4h0M429.4 236.4h0M440.3 236.4h0M442.8 236.4h0M442.8 236.4h0M457.7 236.4h0M465.2 236.4h0M468.2 236.4h0M476.1 236.4h0M477.1 236.4h0M482.6 236.4h0M493.6 236.4h0M499 236.4h0M506.5 236.4h0M511 236.4h0M521.4 236.4h0M521.4 236.4h0M524.4 236.4h0M533.9 236.4h0M543.3 236.4h0M544.3 236.4h0M546.8 236.4h0M547.3 236.4h0M547.8 236.4h0M549.8 236.4h0M554.2 236.4h0M95.6 238.4h0M99 238.4h0M105.5 238.4h0M125.9 238.4h0M126.9 238.4h0M133.9 238.4h0M137.3 238.4h0M143.8 238.4h0M146.3 238.4h0M147.8 238.4h0M169.2 238.4h0M169.2 238.4h0M175.2 238.4h0M177.6 238.4h0M184.1 238.4h0M189.6 238.4h0M193.1 238.4h0M197 238.4h0M203 238.4h0M222.9 238.4h0M231.4 238.4h0M243.3 238.4h0M245.3 238.4h0M247.8 238.4h0M260.2 238.4h0M271.7 238.4h0M280.1 238.4h0M288.6 238.4h0M290.6 238.4h0M291.1 238.4h0M293.1 238.4h0M295.1 238.4h0M299.5 238.4h0M311 238.4h0M313 238.4h0M313.5 238.4h0M314 238.4h0M315.9 238.4h0M316.4 238.4h0M317.4 238.4h0M320.9 238.4h0M322.4 238.4h0M323.4 238.4h0M327.9 238.4h0M330.4 238.4h0M331.9 238.4h0M332.4 238.4h0M332.4 238.4h0M332.9 238.4h0M333.9 238.4h0M334.4 238.4h0M341.8 238.4h0M343.8 238.4h0M344.3 238.4h0M345.8 238.4h0M347.8 238.4h0M352.3 238.4h0M355.7 238.4h0M356.7 238.4h0M363.7 238.4h0M377.1 238.4h0M387.1 238.4h0M401 238.4h0M415 238.4h0M420.9 238.4h0M436.8 238.4h0M453.3 238.4h0M455.2 238.4h0M463.7 238.4h0M468.2 238.4h0M474.2 238.4h0M480.6 238.4h0M490.6 238.4h0M513.5 238.4h0M516.9 238.4h0M519.4 238.4h0M529.4 238.4h0M531.4 238.4h0M534.4 238.4h0M536.3 238.4h0M566.7 238.4h0M570.2 238.4h0M571.7 238.4h0M93.1 240.4h0M95.1 240.4h0M103.5 240.4h0M112.5 240.4h0M130.9 240.4h0M131.4 240.4h0M131.9 240.4h0M133.9 240.4h0M141.3 240.4h0M148.8 240.4h0M149.8 240.4h0M156.2 240.4h0M163.2 240.4h0M182.6 240.4h0M184.6 240.4h0M191.1 240.4h0M197 240.4h0M201.5 240.4h0M206 240.4h0M206.5 240.4h0M207.5 240.4h0M209.5 240.4h0M212.5 240.4h0M214.5 240.4h0M228.9 240.4h0M247.8 240.4h0M253.8 240.4h0M268.2 240.4h0M271.2 240.4h0M274.2 240.4h0M276.1 240.4h0M281.6 240.4h0M281.6 240.4h0M285.6 240.4h0M289.1 240.4h0M289.1 240.4h0M290.6 240.4h0M293.6 240.4h0M294.1 240.4h0M297.5 240.4h0M299 240.4h0M299 240.4h0M300.5 240.4h0M300.5 240.4h0M301 240.4h0M304 240.4h0M305 240.4h0M307 240.4h0M307.5 240.4h0M308.5 240.4h0M311 240.4h0M311 240.4h0M316.4 240.4h0M317.9 240.4h0M319.4 240.4h0M321.9 240.4h0M322.4 240.4h0M323.4 240.4h0M325.9 240.4h0M330.4 240.4h0M332.9 240.4h0M337.3 240.4h0M339.3 240.4h0M343.3 240.4h0M344.3 240.4h0M347.3 240.4h0M347.8 240.4h0M349.8 240.4h0M355.2 240.4h0M358.2 240.4h0M358.2 240.4h0M359.2 240.4h0M364.2 240.4h0M365.7 240.4h0M368.7 240.4h0M375.6 240.4h0M376.6 240.4h0M381.1 240.4h0M390.6 240.4h0M392.6 240.4h0M395.5 240.4h0M403 240.4h0M405.5 240.4h0M406.5 240.4h0M411 240.4h0M425.4 240.4h0M434.4 240.4h0M443.3 240.4h0M456.2 240.4h0M456.2 240.4h0M456.2 240.4h0M459.7 240.4h0M464.7 240.4h0M469.2 240.4h0M469.2 240.4h0M472.2 240.4h0M476.1 240.4h0M478.6 240.4h0M484.6 240.4h0M499.5 240.4h0M501 240.4h0M529.4 240.4h0M545.3 240.4h0M549.8 240.4h0M551.8 240.4h0M558.2 240.4h0M567.2 240.4h0M83.6 242.3h0M87.6 242.3h0M90.6 242.3h0M105 242.3h0M110 242.3h0M117.9 242.3h0M133.4 242.3h0M136.8 242.3h0M138.8 242.3h0M165.7 242.3h0M168.2 242.3h0M172.7 242.3h0M187.6 242.3h0M204 242.3h0M216.9 242.3h0M228.4 242.3h0M237.8 242.3h0M239.3 242.3h0M239.8 242.3h0M258.2 242.3h0M258.7 242.3h0M266.7 242.3h0M272.2 242.3h0M278.1 242.3h0M281.6 242.3h0M282.6 242.3h0M284.6 242.3h0M286.6 242.3h0M292.6 242.3h0M298.5 242.3h0M301 242.3h0M308 242.3h0M310 242.3h0M312.5 242.3h0M315 242.3h0M315.9 242.3h0M322.9 242.3h0M324.4 242.3h0M330.4 242.3h0M332.4 242.3h0M332.9 242.3h0M333.4 242.3h0M333.4 242.3h0M343.3 242.3h0M343.8 242.3h0M351.8 242.3h0M357.7 242.3h0M359.2 242.3h0M360.7 242.3h0M376.6 242.3h0M384.6 242.3h0M387.1 242.3h0M388.1 242.3h0M390.6 242.3h0M400 242.3h0M410.5 242.3h0M418.4 242.3h0M423.9 242.3h0M427.4 242.3h0M430.4 242.3h0M437.8 242.3h0M440.8 242.3h0M447.8 242.3h0M455.7 242.3h0M459.7 242.3h0M474.2 242.3h0M475.6 242.3h0M480.6 242.3h0M485.6 242.3h0M486.1 242.3h0M489.6 242.3h0M497 242.3h0M501.5 242.3h0M502 242.3h0M511.5 242.3h0M512.5 242.3h0M514.5 242.3h0M529.4 242.3h0M529.9 242.3h0M538.8 242.3h0M545.3 242.3h0M550.8 242.3h0M554.2 242.3h0M554.7 242.3h0M554.7 242.3h0M563.7 242.3h0M565.2 242.3h0M81.1 244.3h0M85.6 244.3h0M88.6 244.3h0M88.6 244.3h0M108 244.3h0M122.9 244.3h0M127.4 244.3h0M128.4 244.3h0M148.3 244.3h0M160.2 244.3h0M165.7 244.3h0M174.7 244.3h0M188.6 244.3h0M194.1 244.3h0M197 244.3h0M198.5 244.3h0M200 244.3h0M206 244.3h0M206.5 244.3h0M212.5 244.3h0M219.4 244.3h0M223.9 244.3h0M228.4 244.3h0M232.4 244.3h0M233.9 244.3h0M239.8 244.3h0M256.2 244.3h0M258.2 244.3h0M261.2 244.3h0M269.2 244.3h0M282.1 244.3h0M282.1 244.3h0M285.6 244.3h0M285.6 244.3h0M288.1 244.3h0M289.1 244.3h0M290.6 244.3h0M292.1 244.3h0M293.1 244.3h0M293.6 244.3h0M293.6 244.3h0M295.1 244.3h0M295.6 244.3h0M298 244.3h0M299 244.3h0M299.5 244.3h0M300.5 244.3h0M301 244.3h0M301.5 244.3h0M301.5 244.3h0M302 244.3h0M303 244.3h0M308 244.3h0M308.5 244.3h0M309 244.3h0M315.9 244.3h0M318.9 244.3h0M320.9 244.3h0M323.4 244.3h0M326.9 244.3h0M327.4 244.3h0M328.9 244.3h0M329.4 244.3h0M331.4 244.3h0M332.4 244.3h0M332.9 244.3h0M335.4 244.3h0M345.3 244.3h0M346.3 244.3h0M347.8 244.3h0M351.8 244.3h0M353.3 244.3h0M353.8 244.3h0M362.7 244.3h0M364.2 244.3h0M364.7 244.3h0M368.7 244.3h0M369.2 244.3h0M372.7 244.3h0M383.6 244.3h0M390.1 244.3h0M395 244.3h0M398 244.3h0M403 244.3h0M404.5 244.3h0M406.5 244.3h0M411.5 244.3h0M413 244.3h0M421.4 244.3h0M424.4 244.3h0M424.9 244.3h0M426.4 244.3h0M436.3 244.3h0M448.3 244.3h0M453.8 244.3h0M457.7 244.3h0M458.7 244.3h0M468.2 244.3h0M474.2 244.3h0M478.1 244.3h0M493.6 244.3h0M497.5 244.3h0M506 244.3h0M514 244.3h0M517.4 244.3h0M518.9 244.3h0M524.4 244.3h0M524.4 244.3h0M537.8 244.3h0M538.3 244.3h0M546.3 244.3h0M553.8 244.3h0M554.7 244.3h0M563.7 244.3h0M565.7 244.3h0M567.2 244.3h0M86.6 246.2h0M98 246.2h0M105.5 246.2h0M107 246.2h0M110.5 246.2h0M118.9 246.2h0M126.9 246.2h0M127.4 246.2h0M131.9 246.2h0M134.4 246.2h0M142.8 246.2h0M152.8 246.2h0M156.2 246.2h0M173.7 246.2h0M174.2 246.2h0M175.7 246.2h0M188.6 246.2h0M189.6 246.2h0M198.5 246.2h0M202 246.2h0M202 246.2h0M206.5 246.2h0M221.4 246.2h0M227.4 246.2h0M246.8 246.2h0M254.3 246.2h0M277.6 246.2h0M285.1 246.2h0M294.6 246.2h0M295.6 246.2h0M298.5 246.2h0M306.5 246.2h0M306.5 246.2h0M308.5 246.2h0M312 246.2h0M312.5 246.2h0M312.5 246.2h0M315 246.2h0M315.9 246.2h0M319.4 246.2h0M319.9 246.2h0M320.9 246.2h0M322.9 246.2h0M331.4 246.2h0M331.9 246.2h0M332.9 246.2h0M340.8 246.2h0M342.3 246.2h0M343.3 246.2h0M349.3 246.2h0M350.3 246.2h0M353.3 246.2h0M362.7 246.2h0M372.7 246.2h0M378.6 246.2h0M384.1 246.2h0M405.5 246.2h0M411 246.2h0M412.5 246.2h0M417.9 246.2h0M428.4 246.2h0M429.9 246.2h0M435.3 246.2h0M442.8 246.2h0M454.3 246.2h0M460.2 246.2h0M466.2 246.2h0M479.1 246.2h0M479.6 246.2h0M495 246.2h0M505 246.2h0M527.9 246.2h0M531.4 246.2h0M535.8 246.2h0M538.3 246.2h0M541.8 246.2h0M548.3 246.2h0M563.7 246.2h0M80.6 248.2h0M86.1 248.2h0M91.1 248.2h0M91.6 248.2h0M94.1 248.2h0M112.5 248.2h0M126.9 248.2h0M135.4 248.2h0M142.8 248.2h0M145.3 248.2h0M145.3 248.2h0M145.3 248.2h0M154.3 248.2h0M159.2 248.2h0M164.2 248.2h0M171.7 248.2h0M171.7 248.2h0M179.6 248.2h0M184.1 248.2h0M190.6 248.2h0M193.6 248.2h0M194.1 248.2h0M199.5 248.2h0M200 248.2h0M204.5 248.2h0M206 248.2h0M211 248.2h0M218.4 248.2h0M221.9 248.2h0M222.9 248.2h0M223.9 248.2h0M233.9 248.2h0M234.4 248.2h0M236.8 248.2h0M248.3 248.2h0M260.2 248.2h0M262.7 248.2h0M272.2 248.2h0M273.2 248.2h0M281.6 248.2h0M292.1 248.2h0M292.6 248.2h0M295.6 248.2h0M296.5 248.2h0M299 248.2h0M300 248.2h0M300.5 248.2h0M306.5 248.2h0M308 248.2h0M309.5 248.2h0M315.5 248.2h0M315.5 248.2h0M319.9 248.2h0M322.4 248.2h0M322.4 248.2h0M327.4 248.2h0M330.9 248.2h0M332.4 248.2h0M335.8 248.2h0M336.3 248.2h0M337.8 248.2h0M339.8 248.2h0M342.8 248.2h0M342.8 248.2h0M345.8 248.2h0M346.8 248.2h0M369.2 248.2h0M385.1 248.2h0M390.6 248.2h0M401.5 248.2h0M411 248.2h0M412.5 248.2h0M422.4 248.2h0M432.4 248.2h0M438.3 248.2h0M439.8 248.2h0M445.8 248.2h0M452.3 248.2h0M457.7 248.2h0M466.7 248.2h0M469.2 248.2h0M476.6 248.2h0M488.6 248.2h0M498 248.2h0M501.5 248.2h0M502.5 248.2h0M508 248.2h0M511 248.2h0M517.9 248.2h0M524.9 248.2h0M526.9 248.2h0M528.4 248.2h0M548.3 248.2h0M548.3 248.2h0M554.7 248.2h0M80.6 250.2h0M86.1 250.2h0M87.1 250.2h0M88.6 250.2h0M91.1 250.2h0M94.6 250.2h0M95.1 250.2h0M98 250.2h0M99.5 250.2h0M108.5 250.2h0M111 250.2h0M113.5 250.2h0M122.4 250.2h0M132.4 250.2h0M137.3 250.2h0M140.8 250.2h0M153.3 250.2h0M154.8 250.2h0M157.2 250.2h0M159.2 250.2h0M168.2 250.2h0M168.2 250.2h0M172.7 250.2h0M173.7 250.2h0M176.6 250.2h0M187.6 250.2h0M192.6 250.2h0M194.6 250.2h0M202.5 250.2h0M221.4 250.2h0M223.9 250.2h0M227.4 250.2h0M228.4 250.2h0M234.4 250.2h0M247.3 250.2h0M256.7 250.2h0M261.2 250.2h0M261.7 250.2h0M264.2 250.2h0M267.2 250.2h0M275.6 250.2h0M279.6 250.2h0M283.6 250.2h0M295.6 250.2h0M296.5 250.2h0M296.5 250.2h0M300 250.2h0M305.5 250.2h0M305.5 250.2h0M310.5 250.2h0M311.5 250.2h0M315.5 250.2h0M316.4 250.2h0M317.4 250.2h0M317.9 250.2h0M318.4 250.2h0M321.4 250.2h0M322.4 250.2h0M323.4 250.2h0M324.4 250.2h0M325.9 250.2h0M330.9 250.2h0M334.4 250.2h0M335.4 250.2h0M340.8 250.2h0M340.8 250.2h0M340.8 250.2h0M342.8 250.2h0M345.3 250.2h0M345.3 250.2h0M348.3 250.2h0M348.3 250.2h0M355.2 250.2h0M356.7 250.2h0M357.7 250.2h0M360.2 250.2h0M366.7 250.2h0M381.1 250.2h0M387.6 250.2h0M388.6 250.2h0M396 250.2h0M399 250.2h0M402 250.2h0M405.5 250.2h0M408.5 250.2h0M420.4 250.2h0M433.4 250.2h0M437.8 250.2h0M445.8 250.2h0M460.2 250.2h0M473.2 250.2h0M491.6 250.2h0M514.9 250.2h0M515.9 250.2h0M529.9 250.2h0M532.4 250.2h0M534.8 250.2h0M535.3 250.2h0M541.3 250.2h0M543.8 250.2h0M552.8 250.2h0M553.3 250.2h0M556.7 250.2h0M567.2 250.2h0M568.7 250.2h0M569.7 250.2h0M79.6 252.1h0M82.6 252.1h0M94.1 252.1h0M96.6 252.1h0M102 252.1h0M105.5 252.1h0M117.9 252.1h0M120.4 252.1h0M124.4 252.1h0M133.9 252.1h0M134.4 252.1h0M136.8 252.1h0M137.3 252.1h0M137.8 252.1h0M138.3 252.1h0M141.3 252.1h0M141.8 252.1h0M145.3 252.1h0M151.3 252.1h0M156.2 252.1h0M156.2 252.1h0M161.7 252.1h0M167.2 252.1h0M175.7 252.1h0M186.1 252.1h0M191.1 252.1h0M191.6 252.1h0M192.6 252.1h0M200.5 252.1h0M207 252.1h0M215.9 252.1h0M219.9 252.1h0M227.4 252.1h0M239.8 252.1h0M246.3 252.1h0M249.8 252.1h0M259.2 252.1h0M261.2 252.1h0M261.2 252.1h0M266.7 252.1h0M267.7 252.1h0M279.6 252.1h0M281.1 252.1h0M285.1 252.1h0M286.1 252.1h0M294.6 252.1h0M295.1 252.1h0M295.6 252.1h0M299.5 252.1h0M301.5 252.1h0M302 252.1h0M302.5 252.1h0M305 252.1h0M306 252.1h0M307 252.1h0M308 252.1h0M308.5 252.1h0M309 252.1h0M311 252.1h0M313.5 252.1h0M314 252.1h0M315 252.1h0M315.5 252.1h0M315.9 252.1h0M315.9 252.1h0M316.9 252.1h0M319.4 252.1h0M320.9 252.1h0M321.4 252.1h0M329.9 252.1h0M330.4 252.1h0M331.9 252.1h0M333.9 252.1h0M334.4 252.1h0M336.3 252.1h0M337.8 252.1h0M337.8 252.1h0M339.8 252.1h0M340.8 252.1h0M344.3 252.1h0M349.8 252.1h0M353.8 252.1h0M355.7 252.1h0M358.7 252.1h0M365.7 252.1h0M367.2 252.1h0M370.7 252.1h0M386.6 252.1h0M386.6 252.1h0M389.1 252.1h0M389.6 252.1h0M406.5 252.1h0M407 252.1h0M410.5 252.1h0M414.5 252.1h0M435.3 252.1h0M436.8 252.1h0M437.3 252.1h0M438.8 252.1h0M450.8 252.1h0M456.2 252.1h0M459.7 252.1h0M462.2 252.1h0M463.2 252.1h0M463.2 252.1h0M467.2 252.1h0M469.2 252.1h0M469.2 252.1h0M473.7 252.1h0M478.1 252.1h0M488.6 252.1h0M494.1 252.1h0M496.5 252.1h0M498 252.1h0M499.5 252.1h0M500.5 252.1h0M502 252.1h0M508.5 252.1h0M515.9 252.1h0M517.9 252.1h0M528.4 252.1h0M528.4 252.1h0M533.4 252.1h0M539.3 252.1h0M542.3 252.1h0M544.3 252.1h0M551.3 252.1h0M561.2 252.1h0M566.7 252.1h0M568.7 252.1h0M92.1 254.1h0M95.1 254.1h0M99.5 254.1h0M103.5 254.1h0M104.5 254.1h0M130.9 254.1h0M150.3 254.1h0M150.3 254.1h0M153.3 254.1h0M155.8 254.1h0M159.7 254.1h0M161.7 254.1h0M163.7 254.1h0M163.7 254.1h0M172.7 254.1h0M182.6 254.1h0M183.1 254.1h0M190.6 254.1h0M195.1 254.1h0M207.5 254.1h0M213 254.1h0M222.9 254.1h0M253.8 254.1h0M258.7 254.1h0M277.1 254.1h0M278.1 254.1h0M279.6 254.1h0M279.6 254.1h0M284.6 254.1h0M287.1 254.1h0M289.6 254.1h0M292.1 254.1h0M297 254.1h0M301 254.1h0M302.5 254.1h0M302.5 254.1h0M303.5 254.1h0M310.5 254.1h0M315 254.1h0M319.4 254.1h0M319.9 254.1h0M322.4 254.1h0M326.9 254.1h0M327.9 254.1h0M330.4 254.1h0M331.4 254.1h0M331.9 254.1h0M333.4 254.1h0M335.4 254.1h0M336.3 254.1h0M338.3 254.1h0M342.8 254.1h0M342.8 254.1h0M345.3 254.1h0M347.8 254.1h0M348.8 254.1h0M350.8 254.1h0M357.2 254.1h0M358.2 254.1h0M360.2 254.1h0M360.7 254.1h0M361.2 254.1h0M376.1 254.1h0M376.6 254.1h0M378.1 254.1h0M379.6 254.1h0M382.1 254.1h0M390.1 254.1h0M396.5 254.1h0M398 254.1h0M401 254.1h0M402 254.1h0M402.5 254.1h0M417.4 254.1h0M431.4 254.1h0M439.3 254.1h0M440.8 254.1h0M443.3 254.1h0M464.2 254.1h0M468.7 254.1h0M469.2 254.1h0M470.2 254.1h0M470.7 254.1h0M483.6 254.1h0M485.1 254.1h0M488.1 254.1h0M505.5 254.1h0M513.5 254.1h0M525.4 254.1h0M528.4 254.1h0M528.9 254.1h0M533.4 254.1h0M541.8 254.1h0M549.8 254.1h0M549.8 254.1h0M552.8 254.1h0M561.7 254.1h0M568.2 254.1h0M86.1 256.1h0M87.1 256.1h0M98 256.1h0M118.9 256.1h0M124.9 256.1h0M143.3 256.1h0M148.8 256.1h0M150.3 256.1h0M171.7 256.1h0M185.1 256.1h0M190.6 256.1h0M196.1 256.1h0M205 256.1h0M211.5 256.1h0M211.5 256.1h0M213.5 256.1h0M221.4 256.1h0M228.4 256.1h0M238.3 256.1h0M239.8 256.1h0M245.3 256.1h0M246.8 256.1h0M246.8 256.1h0M253.8 256.1h0M266.7 256.1h0M269.2 256.1h0M271.2 256.1h0M282.6 256.1h0M283.6 256.1h0M284.1 256.1h0M285.1 256.1h0M286.1 256.1h0M291.1 256.1h0M293.6 256.1h0M298 256.1h0M299 256.1h0M299 256.1h0M299 256.1h0M303.5 256.1h0M303.5 256.1h0M305 256.1h0M305.5 256.1h0M307.5 256.1h0M307.5 256.1h0M309 256.1h0M309 256.1h0M309 256.1h0M311 256.1h0M319.9 256.1h0M320.4 256.1h0M321.9 256.1h0M323.4 256.1h0M324.9 256.1h0M326.9 256.1h0M327.4 256.1h0M327.9 256.1h0M331.9 256.1h0M332.4 256.1h0M333.9 256.1h0M334.9 256.1h0M337.3 256.1h0M340.8 256.1h0M341.8 256.1h0M341.8 256.1h0M343.3 256.1h0M343.8 256.1h0M344.8 256.1h0M347.8 256.1h0M356.2 256.1h0M357.7 256.1h0M362.7 256.1h0M365.7 256.1h0M366.7 256.1h0M368.2 256.1h0M370.2 256.1h0M375.6 256.1h0M380.1 256.1h0M381.1 256.1h0M388.6 256.1h0M390.1 256.1h0M391.6 256.1h0M406 256.1h0M407.5 256.1h0M409.5 256.1h0M415 256.1h0M420.9 256.1h0M432.4 256.1h0M439.3 256.1h0M444.8 256.1h0M454.8 256.1h0M458.7 256.1h0M471.7 256.1h0M473.7 256.1h0M476.1 256.1h0M478.1 256.1h0M479.1 256.1h0M479.1 256.1h0M480.6 256.1h0M481.6 256.1h0M488.1 256.1h0M492.6 256.1h0M499 256.1h0M500.5 256.1h0M502.5 256.1h0M504.5 256.1h0M511.5 256.1h0M513 256.1h0M513 256.1h0M519.4 256.1h0M546.3 256.1h0M556.2 256.1h0M567.7 256.1h0M86.1 258h0M89.1 258h0M100.5 258h0M111.5 258h0M119.4 258h0M120.4 258h0M138.3 258h0M147.8 258h0M155.8 258h0M158.2 258h0M159.2 258h0M172.2 258h0M178.1 258h0M191.1 258h0M192.1 258h0M195.6 258h0M200 258h0M202 258h0M209 258h0M213 258h0M214 258h0M220.4 258h0M224.9 258h0M227.4 258h0M233.4 258h0M236.8 258h0M241.3 258h0M257.7 258h0M270.2 258h0M279.1 258h0M280.6 258h0M281.1 258h0M281.6 258h0M287.1 258h0M295.1 258h0M296.5 258h0M297.5 258h0M297.5 258h0M300 258h0M300.5 258h0M301 258h0M305 258h0M306.5 258h0M307.5 258h0M311 258h0M312 258h0M316.4 258h0M316.4 258h0M320.9 258h0M321.9 258h0M321.9 258h0M322.4 258h0M324.4 258h0M324.9 258h0M324.9 258h0M339.3 258h0M339.8 258h0M340.8 258h0M343.8 258h0M344.3 258h0M345.3 258h0M346.3 258h0M346.3 258h0M351.8 258h0M353.8 258h0M355.7 258h0M356.7 258h0M360.2 258h0M360.7 258h0M361.2 258h0M362.2 258h0M366.7 258h0M367.7 258h0M371.2 258h0M371.2 258h0M376.6 258h0M390.1 258h0M404 258h0M409.5 258h0M418.9 258h0M427.4 258h0M428.9 258h0M428.9 258h0M435.3 258h0M444.8 258h0M444.8 258h0M445.8 258h0M445.8 258h0M446.3 258h0M446.3 258h0M451.8 258h0M465.7 258h0M471.2 258h0M480.6 258h0M484.1 258h0M485.6 258h0M487.6 258h0M489.6 258h0M498.5 258h0M501.5 258h0M515.4 258h0M518.4 258h0M525.9 258h0M542.8 258h0M557.7 258h0M569.2 258h0M79.1 260h0M85.6 260h0M92.1 260h0M95.1 260h0M95.1 260h0M95.6 260h0M95.6 260h0M101 260h0M102.5 260h0M104.5 260h0M106 260h0M107 260h0M109 260h0M116.9 260h0M120.9 260h0M120.9 260h0M125.9 260h0M149.8 260h0M155.3 260h0M168.7 260h0M177.1 260h0M181.1 260h0M183.6 260h0M192.1 260h0M195.6 260h0M196.5 260h0M198.5 260h0M203.5 260h0M207.5 260h0M210.5 260h0M211 260h0M229.4 260h0M248.3 260h0M249.3 260h0M256.7 260h0M259.2 260h0M265.2 260h0M269.7 260h0M270.7 260h0M277.6 260h0M288.6 260h0M290.1 260h0M291.6 260h0M292.6 260h0M299 260h0M300 260h0M302.5 260h0M303 260h0M303.5 260h0M304.5 260h0M314 260h0M315.5 260h0M315.5 260h0M316.9 260h0M317.4 260h0M322.9 260h0M322.9 260h0M323.4 260h0M324.9 260h0M325.9 260h0M329.9 260h0M330.4 260h0M332.4 260h0M337.8 260h0M340.8 260h0M343.3 260h0M343.8 260h0M352.3 260h0M364.2 260h0M377.1 260h0M379.6 260h0M387.1 260h0M389.1 260h0M395 260h0M396 260h0M401.5 260h0M406 260h0M411.5 260h0M412.5 260h0M413 260h0M413.5 260h0M413.5 260h0M414.5 260h0M425.4 260h0M433.4 260h0M436.8 260h0M445.3 260h0M462.2 260h0M465.2 260h0M469.7 260h0M471.7 260h0M474.6 260h0M482.6 260h0M486.1 260h0M487.1 260h0M489.6 260h0M496.5 260h0M505 260h0M515.4 260h0M529.4 260h0M531.9 260h0M538.8 260h0M546.3 260h0M559.2 260h0M562.2 260h0M563.2 260h0M81.6 262h0M84.1 262h0M87.1 262h0M88.1 262h0M90.6 262h0M92.1 262h0M106.5 262h0M111 262h0M111 262h0M119.9 262h0M127.4 262h0M127.9 262h0M128.4 262h0M141.8 262h0M154.8 262h0M154.8 262h0M158.2 262h0M178.6 262h0M178.6 262h0M179.1 262h0M189.1 262h0M193.6 262h0M200 262h0M202 262h0M202.5 262h0M214 262h0M214.5 262h0M219.4 262h0M223.9 262h0M229.4 262h0M236.3 262h0M237.8 262h0M240.8 262h0M241.3 262h0M249.8 262h0M251.3 262h0M254.8 262h0M255.8 262h0M263.7 262h0M268.2 262h0M272.7 262h0M280.1 262h0M281.6 262h0M281.6 262h0M283.1 262h0M291.1 262h0M294.6 262h0M295.6 262h0M296 262h0M296.5 262h0M304.5 262h0M305.5 262h0M306 262h0M306.5 262h0M307.5 262h0M307.5 262h0M308.5 262h0M311 262h0M314 262h0M315 262h0M316.9 262h0M317.4 262h0M317.9 262h0M318.4 262h0M318.9 262h0M320.4 262h0M320.4 262h0M322.9 262h0M329.9 262h0M330.4 262h0M332.4 262h0M334.4 262h0M335.4 262h0M336.3 262h0M337.8 262h0M338.3 262h0M340.8 262h0M340.8 262h0M341.3 262h0M344.3 262h0M345.3 262h0M346.8 262h0M348.3 262h0M348.8 262h0M355.7 262h0M358.7 262h0M359.2 262h0M359.2 262h0M363.7 262h0M364.7 262h0M369.7 262h0M386.1 262h0M388.6 262h0M390.1 262h0M396 262h0M404 262h0M411.5 262h0M420.9 262h0M421.4 262h0M434.9 262h0M440.8 262h0M464.7 262h0M467.7 262h0M494.5 262h0M496 262h0M509.5 262h0M518.4 262h0M519.9 262h0M535.8 262h0M537.3 262h0M546.3 262h0M549.8 262h0M565.2 262h0M567.7 262h0M79.6 263.9h0M80.6 263.9h0M80.6 263.9h0M84.1 263.9h0M92.1 263.9h0M95.1 263.9h0M103.5 263.9h0M114.5 263.9h0M115.5 263.9h0M119.4 263.9h0M119.9 263.9h0M127.9 263.9h0M132.4 263.9h0M140.8 263.9h0M140.8 263.9h0M146.8 263.9h0M166.7 263.9h0M167.7 263.9h0M179.1 263.9h0M179.6 263.9h0M188.1 263.9h0M190.6 263.9h0M190.6 263.9h0M191.1 263.9h0M203 263.9h0M207 263.9h0M215 263.9h0M216.4 263.9h0M231.4 263.9h0M239.3 263.9h0M240.3 263.9h0M240.3 263.9h0M240.8 263.9h0M280.6 263.9h0M284.1 263.9h0M288.1 263.9h0M291.6 263.9h0M299.5 263.9h0M299.5 263.9h0M300.5 263.9h0M308.5 263.9h0M310 263.9h0M312 263.9h0M314 263.9h0M315.9 263.9h0M318.4 263.9h0M319.9 263.9h0M323.4 263.9h0M324.4 263.9h0M324.4 263.9h0M324.4 263.9h0M328.4 263.9h0M328.4 263.9h0M330.9 263.9h0M331.4 263.9h0M332.4 263.9h0M340.3 263.9h0M340.3 263.9h0M342.3 263.9h0M343.8 263.9h0M344.3 263.9h0M344.8 263.9h0M345.3 263.9h0M347.3 263.9h0M347.8 263.9h0M348.8 263.9h0M351.8 263.9h0M354.8 263.9h0M355.7 263.9h0M359.2 263.9h0M359.2 263.9h0M366.2 263.9h0M373.7 263.9h0M382.1 263.9h0M382.6 263.9h0M385.6 263.9h0M386.6 263.9h0M396.5 263.9h0M405 263.9h0M414.5 263.9h0M420.9 263.9h0M422.9 263.9h0M436.3 263.9h0M444.8 263.9h0M447.8 263.9h0M449.3 263.9h0M463.2 263.9h0M463.7 263.9h0M474.6 263.9h0M477.1 263.9h0M479.1 263.9h0M480.1 263.9h0M485.1 263.9h0M486.6 263.9h0M487.1 263.9h0M488.1 263.9h0M493.6 263.9h0M502 263.9h0M514.5 263.9h0M521.4 263.9h0M524.4 263.9h0M539.3 263.9h0M541.3 263.9h0M548.3 263.9h0M562.7 263.9h0M563.2 263.9h0M88.1 265.9h0M95.1 265.9h0M98.5 265.9h0M113.5 265.9h0M121.9 265.9h0M126.9 265.9h0M140.3 265.9h0M142.3 265.9h0M150.8 265.9h0M152.3 265.9h0M165.7 265.9h0M166.7 265.9h0M173.7 265.9h0M177.1 265.9h0M177.6 265.9h0M181.6 265.9h0M186.1 265.9h0M186.1 265.9h0M189.1 265.9h0M201.5 265.9h0M206 265.9h0M207 265.9h0M208 265.9h0M210 265.9h0M221.4 265.9h0M228.4 265.9h0M242.3 265.9h0M252.3 265.9h0M260.2 265.9h0M268.2 265.9h0M273.2 265.9h0M279.6 265.9h0M284.6 265.9h0M288.6 265.9h0M289.6 265.9h0M290.1 265.9h0M290.1 265.9h0M299 265.9h0M300 265.9h0M302.5 265.9h0M303.5 265.9h0M304 265.9h0M306.5 265.9h0M308.5 265.9h0M309 265.9h0M312 265.9h0M313.5 265.9h0M315.9 265.9h0M316.9 265.9h0M316.9 265.9h0M318.4 265.9h0M319.4 265.9h0M323.4 265.9h0M325.9 265.9h0M326.9 265.9h0M327.4 265.9h0M327.4 265.9h0M330.4 265.9h0M332.4 265.9h0M337.3 265.9h0M340.3 265.9h0M340.3 265.9h0M340.8 265.9h0M342.3 265.9h0M342.8 265.9h0M346.8 265.9h0M347.8 265.9h0M349.3 265.9h0M350.3 265.9h0M351.8 265.9h0M355.2 265.9h0M355.2 265.9h0M370.2 265.9h0M370.7 265.9h0M370.7 265.9h0M372.7 265.9h0M383.1 265.9h0M384.6 265.9h0M384.6 265.9h0M385.1 265.9h0M389.6 265.9h0M395.5 265.9h0M401 265.9h0M405.5 265.9h0M407.5 265.9h0M408.5 265.9h0M411 265.9h0M422.4 265.9h0M431.9 265.9h0M439.3 265.9h0M440.3 265.9h0M453.8 265.9h0M469.2 265.9h0M471.2 265.9h0M473.2 265.9h0M481.6 265.9h0M482.1 265.9h0M484.6 265.9h0M492.1 265.9h0M497.5 265.9h0M502.5 265.9h0M504 265.9h0M508 265.9h0M522.4 265.9h0M523.9 265.9h0M549.3 265.9h0M552.3 265.9h0M558.7 265.9h0M561.7 265.9h0M562.2 265.9h0M563.7 265.9h0M80.6 267.8h0M87.6 267.8h0M94.1 267.8h0M97.5 267.8h0M98.5 267.8h0M99.5 267.8h0M100.5 267.8h0M101.5 267.8h0M116 267.8h0M123.4 267.8h0M124.4 267.8h0M130.4 267.8h0M144.8 267.8h0M150.8 267.8h0M151.3 267.8h0M154.3 267.8h0M160.2 267.8h0M174.7 267.8h0M177.1 267.8h0M185.1 267.8h0M195.6 267.8h0M208 267.8h0M211.5 267.8h0M213.5 267.8h0M215 267.8h0M217.9 267.8h0M220.9 267.8h0M222.4 267.8h0M224.4 267.8h0M228.9 267.8h0M230.9 267.8h0M235.4 267.8h0M241.8 267.8h0M244.8 267.8h0M253.8 267.8h0M257.2 267.8h0M257.7 267.8h0M260.2 267.8h0M271.7 267.8h0M274.2 267.8h0M274.2 267.8h0M274.7 267.8h0M284.6 267.8h0M287.1 267.8h0M287.6 267.8h0M290.1 267.8h0M290.6 267.8h0M291.6 267.8h0M293.1 267.8h0M293.6 267.8h0M294.1 267.8h0M299 267.8h0M305 267.8h0M309 267.8h0M310.5 267.8h0M315.5 267.8h0M317.4 267.8h0M317.4 267.8h0M320.9 267.8h0M326.9 267.8h0M329.4 267.8h0M330.4 267.8h0M333.9 267.8h0M339.8 267.8h0M341.8 267.8h0M342.3 267.8h0M342.3 267.8h0M343.3 267.8h0M351.8 267.8h0M353.8 267.8h0M354.3 267.8h0M356.7 267.8h0M357.7 267.8h0M364.2 267.8h0M366.2 267.8h0M368.2 267.8h0M370.7 267.8h0M391.1 267.8h0M401.5 267.8h0M406 267.8h0M410.5 267.8h0M412 267.8h0M415.9 267.8h0M435.3 267.8h0M445.3 267.8h0M446.8 267.8h0M447.8 267.8h0M456.7 267.8h0M462.2 267.8h0M466.2 267.8h0M482.6 267.8h0M489.1 267.8h0M491.1 267.8h0M500 267.8h0M508 267.8h0M514.9 267.8h0M516.9 267.8h0M516.9 267.8h0M525.9 267.8h0M535.8 267.8h0M541.8 267.8h0M546.3 267.8h0M548.8 267.8h0M560.2 267.8h0M82.1 269.8h0M92.6 269.8h0M93.1 269.8h0M94.6 269.8h0M95.6 269.8h0M95.6 269.8h0M99.5 269.8h0M110.5 269.8h0M119.9 269.8h0M127.4 269.8h0M129.4 269.8h0M136.3 269.8h0M144.3 269.8h0M148.8 269.8h0M149.8 269.8h0M159.7 269.8h0M162.2 269.8h0M164.7 269.8h0M168.2 269.8h0M168.7 269.8h0M170.2 269.8h0M174.2 269.8h0M178.6 269.8h0M178.6 269.8h0M179.1 269.8h0M189.6 269.8h0M194.6 269.8h0M195.1 269.8h0M201 269.8h0M203 269.8h0M209 269.8h0M218.4 269.8h0M228.9 269.8h0M235.4 269.8h0M242.8 269.8h0M256.7 269.8h0M259.2 269.8h0M261.7 269.8h0M261.7 269.8h0M269.7 269.8h0M270.7 269.8h0M283.1 269.8h0M285.6 269.8h0M289.1 269.8h0M291.6 269.8h0M291.6 269.8h0M298 269.8h0M301.5 269.8h0M302 269.8h0M303.5 269.8h0M308 269.8h0M309 269.8h0M310.5 269.8h0M313.5 269.8h0M316.4 269.8h0M316.9 269.8h0M318.4 269.8h0M319.4 269.8h0M321.4 269.8h0M325.4 269.8h0M326.4 269.8h0M328.9 269.8h0M329.9 269.8h0M330.4 269.8h0M331.4 269.8h0M332.9 269.8h0M333.9 269.8h0M335.8 269.8h0M337.8 269.8h0M338.3 269.8h0M339.8 269.8h0M340.8 269.8h0M341.8 269.8h0M342.8 269.8h0M344.3 269.8h0M344.3 269.8h0M344.8 269.8h0M348.8 269.8h0M349.3 269.8h0M351.3 269.8h0M351.3 269.8h0M355.2 269.8h0M356.2 269.8h0M357.2 269.8h0M357.7 269.8h0M358.7 269.8h0M360.2 269.8h0M361.2 269.8h0M365.7 269.8h0M368.2 269.8h0M382.6 269.8h0M395 269.8h0M402 269.8h0M413 269.8h0M415.9 269.8h0M429.4 269.8h0M429.4 269.8h0M431.4 269.8h0M431.9 269.8h0M434.9 269.8h0M437.8 269.8h0M437.8 269.8h0M438.8 269.8h0M441.3 269.8h0M442.3 269.8h0M445.8 269.8h0M446.3 269.8h0M450.3 269.8h0M459.2 269.8h0M472.7 269.8h0M473.7 269.8h0M478.6 269.8h0M481.6 269.8h0M489.1 269.8h0M498 269.8h0M499 269.8h0M518.9 269.8h0M519.9 269.8h0M520.9 269.8h0M525.4 269.8h0M531.9 269.8h0M542.8 269.8h0M543.8 269.8h0M544.3 269.8h0M556.2 269.8h0M559.2 269.8h0M561.7 269.8h0M91.1 271.8h0M96.6 271.8h0M105.5 271.8h0M114 271.8h0M131.4 271.8h0M133.9 271.8h0M134.4 271.8h0M139.3 271.8h0M151.8 271.8h0M153.3 271.8h0M156.2 271.8h0M158.2 271.8h0M159.2 271.8h0M160.7 271.8h0M163.2 271.8h0M166.2 271.8h0M174.7 271.8h0M177.6 271.8h0M184.6 271.8h0M185.6 271.8h0M190.6 271.8h0M190.6 271.8h0M198.5 271.8h0M202.5 271.8h0M207.5 271.8h0M213 271.8h0M214.5 271.8h0M234.9 271.8h0M236.8 271.8h0M240.8 271.8h0M244.3 271.8h0M257.7 271.8h0M260.2 271.8h0M261.7 271.8h0M270.2 271.8h0M273.7 271.8h0M276.1 271.8h0M277.6 271.8h0M292.6 271.8h0M294.1 271.8h0M295.6 271.8h0M299 271.8h0M302.5 271.8h0M302.5 271.8h0M306 271.8h0M310 271.8h0M310.5 271.8h0M312 271.8h0M313 271.8h0M316.9 271.8h0M317.4 271.8h0M317.9 271.8h0M318.9 271.8h0M321.4 271.8h0M326.4 271.8h0M328.4 271.8h0M330.9 271.8h0M331.4 271.8h0M331.9 271.8h0M334.9 271.8h0M342.3 271.8h0M343.3 271.8h0M344.8 271.8h0M347.3 271.8h0M348.3 271.8h0M351.3 271.8h0M351.8 271.8h0M354.8 271.8h0M361.2 271.8h0M363.2 271.8h0M367.7 271.8h0M370.2 271.8h0M378.1 271.8h0M383.1 271.8h0M383.6 271.8h0M386.1 271.8h0M406 271.8h0M413 271.8h0M414.5 271.8h0M415 271.8h0M415.4 271.8h0M416.4 271.8h0M420.4 271.8h0M423.9 271.8h0M430.9 271.8h0M443.8 271.8h0M446.3 271.8h0M448.8 271.8h0M458.2 271.8h0M466.2 271.8h0M468.2 271.8h0M469.2 271.8h0M477.6 271.8h0M479.6 271.8h0M494.1 271.8h0M494.1 271.8h0M499 271.8h0M501 271.8h0M502.5 271.8h0M503 271.8h0M504 271.8h0M504 271.8h0M515.4 271.8h0M519.4 271.8h0M520.4 271.8h0M520.4 271.8h0M527.9 271.8h0M529.9 271.8h0M531.9 271.8h0M538.8 271.8h0M539.3 271.8h0M542.3 271.8h0M546.8 271.8h0M547.8 271.8h0M564.2 271.8h0M571.2 271.8h0M80.1 273.7h0M84.6 273.7h0M107.5 273.7h0M116.5 273.7h0M116.5 273.7h0M116.9 273.7h0M120.9 273.7h0M125.4 273.7h0M138.3 273.7h0M141.8 273.7h0M142.3 273.7h0M144.3 273.7h0M144.8 273.7h0M147.3 273.7h0M148.3 273.7h0M157.7 273.7h0M166.7 273.7h0M168.2 273.7h0M177.1 273.7h0M193.1 273.7h0M194.1 273.7h0M194.6 273.7h0M195.1 273.7h0M201 273.7h0M206 273.7h0M207.5 273.7h0M214.5 273.7h0M223.9 273.7h0M238.3 273.7h0M246.3 273.7h0M271.2 273.7h0M272.7 273.7h0M277.6 273.7h0M281.6 273.7h0M282.6 273.7h0M284.6 273.7h0M287.1 273.7h0M287.1 273.7h0M288.1 273.7h0M289.6 273.7h0M290.1 273.7h0M290.1 273.7h0M292.1 273.7h0M297 273.7h0M299.5 273.7h0M305.5 273.7h0M306 273.7h0M307 273.7h0M307.5 273.7h0M308.5 273.7h0M308.5 273.7h0M310 273.7h0M313.5 273.7h0M315 273.7h0M315 273.7h0M315.5 273.7h0M316.4 273.7h0M316.9 273.7h0M319.4 273.7h0M322.9 273.7h0M323.9 273.7h0M324.9 273.7h0M325.4 273.7h0M327.4 273.7h0M329.4 273.7h0M337.8 273.7h0M340.8 273.7h0M341.3 273.7h0M342.8 273.7h0M343.3 273.7h0M347.8 273.7h0M349.3 273.7h0M357.7 273.7h0M359.7 273.7h0M360.2 273.7h0M364.2 273.7h0M367.2 273.7h0M368.7 273.7h0M380.1 273.7h0M401.5 273.7h0M402.5 273.7h0M403.5 273.7h0M420.9 273.7h0M431.4 273.7h0M432.4 273.7h0M434.4 273.7h0M434.9 273.7h0M436.3 273.7h0M439.3 273.7h0M444.8 273.7h0M454.8 273.7h0M459.7 273.7h0M467.7 273.7h0M473.2 273.7h0M481.1 273.7h0M482.1 273.7h0M489.6 273.7h0M497 273.7h0M497.5 273.7h0M517.9 273.7h0M525.9 273.7h0M528.4 273.7h0M529.4 273.7h0M544.8 273.7h0M547.3 273.7h0M548.3 273.7h0M557.2 273.7h0M559.7 273.7h0M561.7 273.7h0M565.7 273.7h0M80.6 275.7h0M87.6 275.7h0M94.1 275.7h0M95.1 275.7h0M96.6 275.7h0M109 275.7h0M134.4 275.7h0M135.4 275.7h0M137.3 275.7h0M140.3 275.7h0M141.3 275.7h0M145.3 275.7h0M151.8 275.7h0M157.2 275.7h0M159.7 275.7h0M171.2 275.7h0M171.2 275.7h0M172.2 275.7h0M178.6 275.7h0M179.6 275.7h0M184.6 275.7h0M192.1 275.7h0M193.6 275.7h0M198 275.7h0M202.5 275.7h0M214.5 275.7h0M230.9 275.7h0M239.3 275.7h0M243.3 275.7h0M246.8 275.7h0M248.3 275.7h0M265.2 275.7h0M270.2 275.7h0M273.2 275.7h0M276.6 275.7h0M288.6 275.7h0M289.1 275.7h0M291.1 275.7h0M291.6 275.7h0M293.6 275.7h0M294.6 275.7h0M296.5 275.7h0M298 275.7h0M298.5 275.7h0M299 275.7h0M302 275.7h0M303.5 275.7h0M304 275.7h0M309.5 275.7h0M310 275.7h0M316.4 275.7h0M316.9 275.7h0M319.9 275.7h0M320.4 275.7h0M321.9 275.7h0M322.4 275.7h0M322.9 275.7h0M322.9 275.7h0M323.4 275.7h0M327.9 275.7h0M330.9 275.7h0M333.9 275.7h0M334.4 275.7h0M334.9 275.7h0M335.8 275.7h0M348.8 275.7h0M350.3 275.7h0M352.3 275.7h0M353.8 275.7h0M360.2 275.7h0M360.7 275.7h0M364.2 275.7h0M365.2 275.7h0M365.7 275.7h0M371.7 275.7h0M376.6 275.7h0M384.1 275.7h0M396 275.7h0M401.5 275.7h0M403 275.7h0M404 275.7h0M404.5 275.7h0M404.5 275.7h0M407.5 275.7h0M408.5 275.7h0M410 275.7h0M415.9 275.7h0M422.4 275.7h0M437.8 275.7h0M443.8 275.7h0M444.3 275.7h0M448.3 275.7h0M457.7 275.7h0M464.2 275.7h0M472.2 275.7h0M479.1 275.7h0M485.6 275.7h0M491.1 275.7h0M500 275.7h0M501.5 275.7h0M503 275.7h0M510 275.7h0M515.4 275.7h0M523.9 275.7h0M525.9 275.7h0M532.9 275.7h0M536.3 275.7h0M537.3 275.7h0M546.3 275.7h0M566.2 275.7h0M566.2 275.7h0M81.6 277.7h0M84.1 277.7h0M87.6 277.7h0M93.1 277.7h0M105 277.7h0M105 277.7h0M111.5 277.7h0M112.5 277.7h0M118.4 277.7h0M119.9 277.7h0M121.4 277.7h0M128.4 277.7h0M131.4 277.7h0M132.4 277.7h0M135.9 277.7h0M143.3 277.7h0M144.3 277.7h0M146.8 277.7h0M164.7 277.7h0M165.2 277.7h0M173.2 277.7h0M178.6 277.7h0M183.1 277.7h0M194.6 277.7h0M195.1 277.7h0M197 277.7h0M225.4 277.7h0M231.9 277.7h0M247.8 277.7h0M254.3 277.7h0M265.2 277.7h0M272.2 277.7h0M273.7 277.7h0M280.6 277.7h0M289.6 277.7h0M293.6 277.7h0M299.5 277.7h0M311 277.7h0M314.5 277.7h0M315.5 277.7h0M317.9 277.7h0M318.4 277.7h0M318.9 277.7h0M319.9 277.7h0M324.4 277.7h0M328.9 277.7h0M329.9 277.7h0M330.9 277.7h0M330.9 277.7h0M332.4 277.7h0M333.9 277.7h0M333.9 277.7h0M335.8 277.7h0M336.8 277.7h0M338.3 277.7h0M339.8 277.7h0M340.3 277.7h0M342.8 277.7h0M343.8 277.7h0M344.3 277.7h0M345.3 277.7h0M349.8 277.7h0M350.3 277.7h0M350.8 277.7h0M351.8 277.7h0M355.2 277.7h0M358.2 277.7h0M367.7 277.7h0M375.1 277.7h0M394.6 277.7h0M397.5 277.7h0M399 277.7h0M402 277.7h0M402 277.7h0M404.5 277.7h0M409 277.7h0M415 277.7h0M415.9 277.7h0M420.4 277.7h0M422.9 277.7h0M426.4 277.7h0M429.4 277.7h0M433.4 277.7h0M436.3 277.7h0M436.8 277.7h0M436.8 277.7h0M437.3 277.7h0M437.8 277.7h0M438.3 277.7h0M458.2 277.7h0M461.7 277.7h0M465.2 277.7h0M475.1 277.7h0M480.1 277.7h0M480.6 277.7h0M481.1 277.7h0M481.6 277.7h0M487.1 277.7h0M489.6 277.7h0M504 277.7h0M507 277.7h0M514 277.7h0M514.9 277.7h0M515.4 277.7h0M517.4 277.7h0M519.4 277.7h0M525.4 277.7h0M525.9 277.7h0M527.4 277.7h0M532.4 277.7h0M542.3 277.7h0M543.8 277.7h0M548.8 277.7h0M549.3 277.7h0M555.2 277.7h0M567.7 277.7h0M571.7 277.7h0M79.1 279.6h0M83.6 279.6h0M87.6 279.6h0M110 279.6h0M110.5 279.6h0M113.5 279.6h0M129.9 279.6h0M136.3 279.6h0M137.8 279.6h0M139.8 279.6h0M150.8 279.6h0M151.8 279.6h0M152.8 279.6h0M157.2 279.6h0M159.2 279.6h0M173.2 279.6h0M178.1 279.6h0M184.6 279.6h0M195.1 279.6h0M198.5 279.6h0M206.5 279.6h0M211 279.6h0M215.5 279.6h0M222.9 279.6h0M223.4 279.6h0M223.9 279.6h0M223.9 279.6h0M225.4 279.6h0M228.9 279.6h0M240.8 279.6h0M254.8 279.6h0M255.8 279.6h0M255.8 279.6h0M261.7 279.6h0M262.2 279.6h0M265.7 279.6h0M266.7 279.6h0M275.2 279.6h0M280.6 279.6h0M286.1 279.6h0M290.1 279.6h0M290.6 279.6h0M293.1 279.6h0M294.1 279.6h0M296.5 279.6h0M300.5 279.6h0M308.5 279.6h0M310.5 279.6h0M314.5 279.6h0M315.5 279.6h0M317.4 279.6h0M317.4 279.6h0M324.9 279.6h0M325.9 279.6h0M328.4 279.6h0M328.4 279.6h0M330.4 279.6h0M336.8 279.6h0M337.3 279.6h0M338.3 279.6h0M338.3 279.6h0M344.8 279.6h0M346.3 279.6h0M346.8 279.6h0M347.8 279.6h0M351.8 279.6h0M351.8 279.6h0M356.2 279.6h0M358.2 279.6h0M358.7 279.6h0M358.7 279.6h0M359.7 279.6h0M369.2 279.6h0M399 279.6h0M403 279.6h0M404 279.6h0M406 279.6h0M410.5 279.6h0M425.9 279.6h0M426.9 279.6h0M439.8 279.6h0M443.8 279.6h0M451.3 279.6h0M451.8 279.6h0M455.2 279.6h0M455.7 279.6h0M457.7 279.6h0M457.7 279.6h0M463.2 279.6h0M500.5 279.6h0M504 279.6h0M506 279.6h0M508 279.6h0M514.9 279.6h0M516.4 279.6h0M516.9 279.6h0M521.4 279.6h0M524.4 279.6h0M528.9 279.6h0M534.4 279.6h0M536.3 279.6h0M538.3 279.6h0M546.8 279.6h0M548.8 279.6h0M549.3 279.6h0M550.3 279.6h0M557.2 279.6h0M563.7 279.6h0M567.2 279.6h0M569.7 279.6h0M89.1 281.6h0M113.5 281.6h0M118.4 281.6h0M118.9 281.6h0M128.9 281.6h0M132.9 281.6h0M159.7 281.6h0M159.7 281.6h0M169.7 281.6h0M180.6 281.6h0M180.6 281.6h0M180.6 281.6h0M190.6 281.6h0M193.6 281.6h0M200.5 281.6h0M203 281.6h0M203.5 281.6h0M204.5 281.6h0M205 281.6h0M207 281.6h0M217.4 281.6h0M222.4 281.6h0M223.4 281.6h0M223.4 281.6h0M225.4 281.6h0M230.9 281.6h0M237.8 281.6h0M248.8 281.6h0M250.3 281.6h0M251.8 281.6h0M258.7 281.6h0M264.2 281.6h0M266.7 281.6h0M268.2 281.6h0M274.7 281.6h0M275.2 281.6h0M281.6 281.6h0M282.6 281.6h0M285.1 281.6h0M288.1 281.6h0M296 281.6h0M297 281.6h0M300.5 281.6h0M301.5 281.6h0M301.5 281.6h0M302.5 281.6h0M306 281.6h0M307 281.6h0M308 281.6h0M311 281.6h0M312 281.6h0M314.5 281.6h0M315 281.6h0M319.4 281.6h0M320.9 281.6h0M321.4 281.6h0M322.9 281.6h0M325.9 281.6h0M328.4 281.6h0M328.4 281.6h0M331.9 281.6h0M332.9 281.6h0M335.4 281.6h0M336.8 281.6h0M336.8 281.6h0M337.3 281.6h0M337.8 281.6h0M339.3 281.6h0M342.3 281.6h0M343.8 281.6h0M345.8 281.6h0M346.3 281.6h0M347.8 281.6h0M347.8 281.6h0M350.3 281.6h0M351.8 281.6h0M352.8 281.6h0M354.3 281.6h0M354.8 281.6h0M354.8 281.6h0M355.7 281.6h0M360.7 281.6h0M360.7 281.6h0M361.2 281.6h0M361.2 281.6h0M370.2 281.6h0M376.6 281.6h0M380.1 281.6h0M386.1 281.6h0M398.5 281.6h0M398.5 281.6h0M405 281.6h0M427.4 281.6h0M429.9 281.6h0M434.4 281.6h0M440.3 281.6h0M462.7 281.6h0M472.7 281.6h0M476.6 281.6h0M477.1 281.6h0M477.1 281.6h0M484.1 281.6h0M497.5 281.6h0M503.5 281.6h0M504 281.6h0M507.5 281.6h0M519.4 281.6h0M522.9 281.6h0M524.9 281.6h0M527.9 281.6h0M528.4 281.6h0M530.9 281.6h0M540.3 281.6h0M549.8 281.6h0M560.7 281.6h0M561.7 281.6h0M568.7 281.6h0M79.1 283.6h0M82.6 283.6h0M85.1 283.6h0M89.1 283.6h0M99.5 283.6h0M103 283.6h0M112 283.6h0M114.5 283.6h0M116.5 283.6h0M126.4 283.6h0M137.3 283.6h0M142.8 283.6h0M143.3 283.6h0M143.8 283.6h0M144.3 283.6h0M146.3 283.6h0M159.2 283.6h0M170.2 283.6h0M184.1 283.6h0M188.1 283.6h0M197.5 283.6h0M198 283.6h0M199 283.6h0M207 283.6h0M217.9 283.6h0M232.9 283.6h0M238.3 283.6h0M243.3 283.6h0M244.8 283.6h0M252.3 283.6h0M256.2 283.6h0M258.7 283.6h0M259.2 283.6h0M259.2 283.6h0M274.7 283.6h0M282.1 283.6h0M284.1 283.6h0M288.1 283.6h0M288.1 283.6h0M294.6 283.6h0M295.1 283.6h0M295.6 283.6h0M298 283.6h0M298 283.6h0M302.5 283.6h0M304.5 283.6h0M307 283.6h0M310 283.6h0M311.5 283.6h0M312.5 283.6h0M313 283.6h0M313.5 283.6h0M316.4 283.6h0M317.4 283.6h0M317.4 283.6h0M317.9 283.6h0M317.9 283.6h0M325.4 283.6h0M326.9 283.6h0M327.9 283.6h0M331.9 283.6h0M332.4 283.6h0M333.9 283.6h0M333.9 283.6h0M334.4 283.6h0M335.8 283.6h0M337.3 283.6h0M337.8 283.6h0M339.3 283.6h0M343.8 283.6h0M347.3 283.6h0M349.3 283.6h0M350.8 283.6h0M363.2 283.6h0M368.7 283.6h0M371.2 283.6h0M390.1 283.6h0M390.1 283.6h0M398.5 283.6h0M400.5 283.6h0M401.5 283.6h0M424.4 283.6h0M429.9 283.6h0M430.9 283.6h0M433.4 283.6h0M440.3 283.6h0M444.3 283.6h0M446.3 283.6h0M453.3 283.6h0M459.2 283.6h0M471.2 283.6h0M484.6 283.6h0M487.6 283.6h0M491.6 283.6h0M493.6 283.6h0M507 283.6h0M508.5 283.6h0M512 283.6h0M554.7 283.6h0M558.7 283.6h0M561.2 283.6h0M562.2 283.6h0M565.7 283.6h0M79.1 285.5h0M82.1 285.5h0M104.5 285.5h0M112 285.5h0M122.4 285.5h0M134.4 285.5h0M136.8 285.5h0M151.8 285.5h0M158.2 285.5h0M158.2 285.5h0M159.2 285.5h0M161.2 285.5h0M169.2 285.5h0M171.2 285.5h0M176.6 285.5h0M177.1 285.5h0M178.6 285.5h0M180.6 285.5h0M190.1 285.5h0M216.9 285.5h0M217.9 285.5h0M218.4 285.5h0M218.9 285.5h0M220.4 285.5h0M225.4 285.5h0M242.8 285.5h0M244.8 285.5h0M245.8 285.5h0M250.3 285.5h0M257.2 285.5h0M259.7 285.5h0M267.7 285.5h0M270.7 285.5h0M270.7 285.5h0M289.1 285.5h0M294.6 285.5h0M297 285.5h0M298 285.5h0M299 285.5h0M300.5 285.5h0M303 285.5h0M303.5 285.5h0M306.5 285.5h0M307.5 285.5h0M313 285.5h0M314 285.5h0M315.5 285.5h0M320.9 285.5h0M321.9 285.5h0M321.9 285.5h0M323.4 285.5h0M324.4 285.5h0M324.9 285.5h0M328.4 285.5h0M329.9 285.5h0M330.4 285.5h0M330.4 285.5h0M332.9 285.5h0M333.9 285.5h0M336.8 285.5h0M337.8 285.5h0M343.3 285.5h0M348.3 285.5h0M349.3 285.5h0M352.3 285.5h0M357.2 285.5h0M359.7 285.5h0M360.7 285.5h0M363.2 285.5h0M392.6 285.5h0M392.6 285.5h0M393.1 285.5h0M395 285.5h0M401 285.5h0M403 285.5h0M413 285.5h0M413.5 285.5h0M414.5 285.5h0M417.4 285.5h0M426.4 285.5h0M433.9 285.5h0M447.8 285.5h0M457.2 285.5h0M459.7 285.5h0M461.2 285.5h0M470.7 285.5h0M477.1 285.5h0M490.1 285.5h0M491.6 285.5h0M492.1 285.5h0M494.1 285.5h0M501 285.5h0M505.5 285.5h0M508 285.5h0M514.5 285.5h0M522.4 285.5h0M522.9 285.5h0M531.4 285.5h0M540.3 285.5h0M548.3 285.5h0M557.7 285.5h0M559.2 285.5h0M561.7 285.5h0M566.7 285.5h0M86.1 287.5h0M99 287.5h0M108 287.5h0M120.9 287.5h0M132.9 287.5h0M138.8 287.5h0M146.3 287.5h0M157.2 287.5h0M170.2 287.5h0M171.2 287.5h0M185.6 287.5h0M195.6 287.5h0M200 287.5h0M202 287.5h0M211.5 287.5h0M214 287.5h0M215.5 287.5h0M216.9 287.5h0M228.4 287.5h0M233.9 287.5h0M244.3 287.5h0M244.8 287.5h0M252.8 287.5h0M254.8 287.5h0M255.8 287.5h0M256.2 287.5h0M260.2 287.5h0M262.7 287.5h0M266.7 287.5h0M266.7 287.5h0M271.2 287.5h0M280.6 287.5h0M285.6 287.5h0M286.1 287.5h0M286.1 287.5h0M290.1 287.5h0M293.1 287.5h0M295.1 287.5h0M296.5 287.5h0M298 287.5h0M298 287.5h0M305 287.5h0M307 287.5h0M312.5 287.5h0M314 287.5h0M315.9 287.5h0M318.4 287.5h0M323.4 287.5h0M333.9 287.5h0M337.3 287.5h0M341.8 287.5h0M343.3 287.5h0M345.8 287.5h0M347.3 287.5h0M352.3 287.5h0M352.3 287.5h0M357.7 287.5h0M360.2 287.5h0M361.7 287.5h0M363.7 287.5h0M366.7 287.5h0M371.2 287.5h0M380.1 287.5h0M383.6 287.5h0M397 287.5h0M399 287.5h0M403 287.5h0M406.5 287.5h0M408 287.5h0M412.5 287.5h0M420.4 287.5h0M426.9 287.5h0M429.4 287.5h0M431.9 287.5h0M436.3 287.5h0M437.3 287.5h0M442.8 287.5h0M446.8 287.5h0M453.3 287.5h0M459.7 287.5h0M459.7 287.5h0M470.7 287.5h0M474.6 287.5h0M475.1 287.5h0M488.1 287.5h0M494.5 287.5h0M507.5 287.5h0M512 287.5h0M531.4 287.5h0M531.4 287.5h0M532.9 287.5h0M535.3 287.5h0M543.8 287.5h0M79.1 289.4h0M83.1 289.4h0M84.6 289.4h0M100.5 289.4h0M103 289.4h0M113.5 289.4h0M114.5 289.4h0M122.9 289.4h0M124.9 289.4h0M126.9 289.4h0M128.9 289.4h0M133.4 289.4h0M137.8 289.4h0M142.3 289.4h0M144.3 289.4h0M147.3 289.4h0M160.7 289.4h0M169.7 289.4h0M172.2 289.4h0M178.1 289.4h0M179.1 289.4h0M181.1 289.4h0M181.1 289.4h0M194.1 289.4h0M198 289.4h0M201.5 289.4h0M208 289.4h0M216.4 289.4h0M216.9 289.4h0M218.4 289.4h0M222.4 289.4h0M231.4 289.4h0M244.8 289.4h0M255.8 289.4h0M262.7 289.4h0M263.2 289.4h0M266.7 289.4h0M268.2 289.4h0M278.1 289.4h0M285.6 289.4h0M288.6 289.4h0M297.5 289.4h0M300 289.4h0M308.5 289.4h0M309 289.4h0M309.5 289.4h0M309.5 289.4h0M316.9 289.4h0M317.4 289.4h0M320.9 289.4h0M324.4 289.4h0M324.9 289.4h0M326.9 289.4h0M329.4 289.4h0M333.4 289.4h0M336.3 289.4h0M338.3 289.4h0M341.3 289.4h0M342.8 289.4h0M350.8 289.4h0M354.3 289.4h0M354.8 289.4h0M356.2 289.4h0M356.7 289.4h0M361.7 289.4h0M362.2 289.4h0M365.2 289.4h0M371.2 289.4h0M374.2 289.4h0M375.6 289.4h0M377.6 289.4h0M394.6 289.4h0M404.5 289.4h0M406 289.4h0M408 289.4h0M411 289.4h0M413.5 289.4h0M419.4 289.4h0M424.9 289.4h0M426.4 289.4h0M429.9 289.4h0M431.4 289.4h0M452.8 289.4h0M454.8 289.4h0M465.2 289.4h0M466.2 289.4h0M467.2 289.4h0M469.2 289.4h0M483.6 289.4h0M486.6 289.4h0M493.1 289.4h0M501 289.4h0M501.5 289.4h0M508.5 289.4h0M516.4 289.4h0M521.9 289.4h0M529.9 289.4h0M551.8 289.4h0M556.2 289.4h0M561.2 289.4h0M97.5 291.4h0M99 291.4h0M105 291.4h0M105.5 291.4h0M107.5 291.4h0M113.5 291.4h0M114.5 291.4h0M117.4 291.4h0M124.9 291.4h0M139.3 291.4h0M152.3 291.4h0M159.2 291.4h0M165.7 291.4h0M169.2 291.4h0M179.1 291.4h0M190.6 291.4h0M200 291.4h0M201.5 291.4h0M202.5 291.4h0M207 291.4h0M208 291.4h0M210 291.4h0M216.9 291.4h0M224.9 291.4h0M227.4 291.4h0M234.9 291.4h0M241.8 291.4h0M242.3 291.4h0M263.2 291.4h0M263.7 291.4h0M263.7 291.4h0M287.1 291.4h0M287.6 291.4h0M288.1 291.4h0M295.1 291.4h0M296.5 291.4h0M301.5 291.4h0M303 291.4h0M303 291.4h0M306.5 291.4h0M307.5 291.4h0M310 291.4h0M312.5 291.4h0M315.5 291.4h0M315.5 291.4h0M315.9 291.4h0M316.9 291.4h0M320.9 291.4h0M320.9 291.4h0M326.4 291.4h0M329.9 291.4h0M330.9 291.4h0M332.9 291.4h0M334.9 291.4h0M340.8 291.4h0M342.3 291.4h0M342.8 291.4h0M343.8 291.4h0M344.3 291.4h0M344.3 291.4h0M344.8 291.4h0M347.3 291.4h0M349.3 291.4h0M349.8 291.4h0M351.3 291.4h0M351.3 291.4h0M353.8 291.4h0M355.7 291.4h0M355.7 291.4h0M357.2 291.4h0M365.2 291.4h0M367.2 291.4h0M384.6 291.4h0M394.1 291.4h0M395.5 291.4h0M417.9 291.4h0M427.9 291.4h0M430.4 291.4h0M430.4 291.4h0M440.8 291.4h0M452.8 291.4h0M453.3 291.4h0M460.2 291.4h0M480.6 291.4h0M489.1 291.4h0M494.5 291.4h0M511.5 291.4h0M512.5 291.4h0M517.4 291.4h0M530.4 291.4h0M530.9 291.4h0M532.4 291.4h0M541.8 291.4h0M544.8 291.4h0M545.8 291.4h0M556.2 291.4h0M564.7 291.4h0M567.7 291.4h0M82.6 293.4h0M84.1 293.4h0M85.6 293.4h0M87.6 293.4h0M89.6 293.4h0M95.6 293.4h0M99.5 293.4h0M109.5 293.4h0M110 293.4h0M114 293.4h0M121.9 293.4h0M124.4 293.4h0M127.4 293.4h0M130.9 293.4h0M134.4 293.4h0M139.8 293.4h0M141.8 293.4h0M148.3 293.4h0M165.7 293.4h0M175.2 293.4h0M182.6 293.4h0M184.1 293.4h0M191.6 293.4h0M194.1 293.4h0M195.1 293.4h0M199.5 293.4h0M205.5 293.4h0M206 293.4h0M212 293.4h0M219.4 293.4h0M220.9 293.4h0M232.9 293.4h0M239.8 293.4h0M244.8 293.4h0M249.3 293.4h0M252.8 293.4h0M252.8 293.4h0M260.7 293.4h0M262.2 293.4h0M292.1 293.4h0M297.5 293.4h0M302 293.4h0M307 293.4h0M307.5 293.4h0M307.5 293.4h0M309 293.4h0M309.5 293.4h0M311 293.4h0M314.5 293.4h0M315.5 293.4h0M321.9 293.4h0M325.4 293.4h0M325.4 293.4h0M325.9 293.4h0M327.9 293.4h0M330.9 293.4h0M340.8 293.4h0M342.3 293.4h0M346.3 293.4h0M350.3 293.4h0M352.3 293.4h0M354.3 293.4h0M358.7 293.4h0M359.7 293.4h0M377.1 293.4h0M378.1 293.4h0M383.1 293.4h0M384.1 293.4h0M384.6 293.4h0M416.4 293.4h0M420.4 293.4h0M424.9 293.4h0M439.3 293.4h0M441.3 293.4h0M443.3 293.4h0M454.3 293.4h0M456.7 293.4h0M461.2 293.4h0M463.7 293.4h0M481.6 293.4h0M499.5 293.4h0M513.5 293.4h0M515.9 293.4h0M517.9 293.4h0M524.9 293.4h0M526.4 293.4h0M538.3 293.4h0M540.3 293.4h0M544.3 293.4h0M549.8 293.4h0M555.7 293.4h0M563.7 293.4h0M570.7 293.4h0M80.1 295.3h0M87.6 295.3h0M100 295.3h0M100 295.3h0M103.5 295.3h0M106.5 295.3h0M108.5 295.3h0M113 295.3h0M119.4 295.3h0M120.4 295.3h0M121.4 295.3h0M129.4 295.3h0M130.4 295.3h0M138.3 295.3h0M143.8 295.3h0M145.8 295.3h0M146.8 295.3h0M161.7 295.3h0M165.2 295.3h0M171.2 295.3h0M172.2 295.3h0M175.2 295.3h0M180.6 295.3h0M187.1 295.3h0M193.6 295.3h0M196.1 295.3h0M196.5 295.3h0M202.5 295.3h0M204 295.3h0M208.5 295.3h0M212 295.3h0M215.9 295.3h0M221.4 295.3h0M229.9 295.3h0M242.8 295.3h0M249.3 295.3h0M250.3 295.3h0M270.2 295.3h0M283.6 295.3h0M286.6 295.3h0M287.6 295.3h0M288.6 295.3h0M291.6 295.3h0M298 295.3h0M303 295.3h0M303 295.3h0M304 295.3h0M306 295.3h0M306.5 295.3h0M309 295.3h0M310.5 295.3h0M315.9 295.3h0M316.9 295.3h0M317.4 295.3h0M319.4 295.3h0M322.9 295.3h0M323.4 295.3h0M325.9 295.3h0M330.9 295.3h0M333.4 295.3h0M336.8 295.3h0M337.8 295.3h0M344.8 295.3h0M352.8 295.3h0M353.3 295.3h0M354.8 295.3h0M355.7 295.3h0M358.7 295.3h0M359.2 295.3h0M362.7 295.3h0M368.2 295.3h0M369.7 295.3h0M377.1 295.3h0M378.6 295.3h0M408.5 295.3h0M412 295.3h0M414.5 295.3h0M427.9 295.3h0M433.9 295.3h0M438.8 295.3h0M440.3 295.3h0M461.2 295.3h0M466.2 295.3h0M497.5 295.3h0M500 295.3h0M501.5 295.3h0M504 295.3h0M511.5 295.3h0M521.4 295.3h0M523.9 295.3h0M528.4 295.3h0M564.2 295.3h0M570.7 295.3h0M80.1 297.3h0M84.6 297.3h0M88.6 297.3h0M89.1 297.3h0M92.1 297.3h0M99.5 297.3h0M103 297.3h0M105.5 297.3h0M108.5 297.3h0M129.9 297.3h0M132.4 297.3h0M133.9 297.3h0M139.3 297.3h0M141.8 297.3h0M153.8 297.3h0M154.8 297.3h0M156.2 297.3h0M162.2 297.3h0M166.2 297.3h0M176.2 297.3h0M181.6 297.3h0M184.1 297.3h0M198.5 297.3h0M205.5 297.3h0M210.5 297.3h0M214.5 297.3h0M215 297.3h0M215.5 297.3h0M222.4 297.3h0M242.8 297.3h0M245.3 297.3h0M245.8 297.3h0M248.8 297.3h0M251.8 297.3h0M259.7 297.3h0M264.2 297.3h0M264.7 297.3h0M266.2 297.3h0M266.7 297.3h0M276.6 297.3h0M277.6 297.3h0M290.6 297.3h0M292.1 297.3h0M293.6 297.3h0M300.5 297.3h0M309 297.3h0M310 297.3h0M313.5 297.3h0M315.9 297.3h0M316.4 297.3h0M316.9 297.3h0M317.9 297.3h0M322.9 297.3h0M325.9 297.3h0M326.9 297.3h0M330.4 297.3h0M331.4 297.3h0M336.8 297.3h0M337.8 297.3h0M339.3 297.3h0M339.8 297.3h0M347.8 297.3h0M347.8 297.3h0M347.8 297.3h0M350.3 297.3h0M356.2 297.3h0M361.2 297.3h0M364.7 297.3h0M366.7 297.3h0M368.7 297.3h0M372.7 297.3h0M385.1 297.3h0M388.1 297.3h0M389.6 297.3h0M391.1 297.3h0M396 297.3h0M399.5 297.3h0M404 297.3h0M411 297.3h0M411.5 297.3h0M418.4 297.3h0M433.4 297.3h0M446.3 297.3h0M453.3 297.3h0M459.2 297.3h0M462.7 297.3h0M465.7 297.3h0M488.1 297.3h0M498.5 297.3h0M499.5 297.3h0M512.5 297.3h0M514 297.3h0M518.9 297.3h0M536.3 297.3h0M549.8 297.3h0M550.3 297.3h0M83.6 299.3h0M86.6 299.3h0M105.5 299.3h0M111.5 299.3h0M114 299.3h0M115.5 299.3h0M116.9 299.3h0M124.4 299.3h0M124.9 299.3h0M134.4 299.3h0M142.8 299.3h0M151.8 299.3h0M154.3 299.3h0M166.2 299.3h0M166.7 299.3h0M170.7 299.3h0M174.7 299.3h0M185.1 299.3h0M191.6 299.3h0M200.5 299.3h0M203 299.3h0M204 299.3h0M212 299.3h0M216.9 299.3h0M219.9 299.3h0M219.9 299.3h0M232.9 299.3h0M237.8 299.3h0M245.3 299.3h0M261.7 299.3h0M264.2 299.3h0M270.2 299.3h0M273.7 299.3h0M275.2 299.3h0M296.5 299.3h0M298 299.3h0M310.5 299.3h0M311.5 299.3h0M317.4 299.3h0M318.4 299.3h0M321.9 299.3h0M322.4 299.3h0M322.9 299.3h0M327.4 299.3h0M330.4 299.3h0M330.9 299.3h0M332.4 299.3h0M336.8 299.3h0M338.3 299.3h0M339.8 299.3h0M342.3 299.3h0M344.3 299.3h0M344.8 299.3h0M371.7 299.3h0M392.1 299.3h0M393.1 299.3h0M399 299.3h0M402.5 299.3h0M413 299.3h0M420.4 299.3h0M426.9 299.3h0M446.8 299.3h0M449.8 299.3h0M455.2 299.3h0M459.7 299.3h0M461.7 299.3h0M465.2 299.3h0M465.7 299.3h0M466.2 299.3h0M472.2 299.3h0M475.6 299.3h0M482.6 299.3h0M502.5 299.3h0M508 299.3h0M508.5 299.3h0M516.4 299.3h0M516.9 299.3h0M532.4 299.3h0M543.8 299.3h0M544.8 299.3h0M545.8 299.3h0M545.8 299.3h0M567.7 299.3h0M96.1 301.2h0M112 301.2h0M116.9 301.2h0M119.4 301.2h0M128.4 301.2h0M138.3 301.2h0M142.3 301.2h0M142.8 301.2h0M158.7 301.2h0M173.2 301.2h0M175.7 301.2h0M177.6 301.2h0M180.6 301.2h0M186.6 301.2h0M187.1 301.2h0M188.6 301.2h0M213.5 301.2h0M214.5 301.2h0M216.9 301.2h0M223.9 301.2h0M237.8 301.2h0M240.3 301.2h0M244.8 301.2h0M250.3 301.2h0M256.7 301.2h0M263.2 301.2h0M268.2 301.2h0M273.2 301.2h0M280.1 301.2h0M282.1 301.2h0M290.1 301.2h0M290.6 301.2h0M290.6 301.2h0M291.6 301.2h0M295.1 301.2h0M295.6 301.2h0M298.5 301.2h0M303 301.2h0M310 301.2h0M312 301.2h0M313.5 301.2h0M316.4 301.2h0M317.9 301.2h0M318.9 301.2h0M320.9 301.2h0M324.4 301.2h0M326.4 301.2h0M332.4 301.2h0M332.9 301.2h0M332.9 301.2h0M333.4 301.2h0M337.8 301.2h0M339.8 301.2h0M343.8 301.2h0M345.3 301.2h0M349.8 301.2h0M363.7 301.2h0M364.2 301.2h0M367.2 301.2h0M377.1 301.2h0M379.1 301.2h0M382.1 301.2h0M385.6 301.2h0M386.1 301.2h0M393.1 301.2h0M405 301.2h0M414 301.2h0M420.4 301.2h0M422.9 301.2h0M431.4 301.2h0M434.4 301.2h0M447.3 301.2h0M462.2 301.2h0M462.7 301.2h0M489.6 301.2h0M494.1 301.2h0M524.9 301.2h0M533.9 301.2h0M548.3 301.2h0M548.8 301.2h0M569.2 301.2h0M569.2 301.2h0M81.6 303.2h0M90.6 303.2h0M106.5 303.2h0M116 303.2h0M121.4 303.2h0M125.4 303.2h0M126.9 303.2h0M129.9 303.2h0M137.3 303.2h0M137.3 303.2h0M138.3 303.2h0M139.8 303.2h0M141.8 303.2h0M146.3 303.2h0M149.3 303.2h0M163.7 303.2h0M166.2 303.2h0M166.7 303.2h0M179.6 303.2h0M183.1 303.2h0M190.1 303.2h0M192.1 303.2h0M199 303.2h0M221.4 303.2h0M222.4 303.2h0M230.4 303.2h0M242.3 303.2h0M245.8 303.2h0M257.7 303.2h0M260.2 303.2h0M275.2 303.2h0M279.1 303.2h0M281.6 303.2h0M289.6 303.2h0M289.6 303.2h0M293.1 303.2h0M293.1 303.2h0M295.1 303.2h0M296.5 303.2h0M302 303.2h0M302 303.2h0M314 303.2h0M319.4 303.2h0M323.9 303.2h0M325.9 303.2h0M327.9 303.2h0M329.9 303.2h0M331.4 303.2h0M331.9 303.2h0M332.4 303.2h0M335.4 303.2h0M337.8 303.2h0M339.8 303.2h0M340.8 303.2h0M341.3 303.2h0M343.3 303.2h0M343.8 303.2h0M348.8 303.2h0M349.3 303.2h0M350.3 303.2h0M354.8 303.2h0M355.2 303.2h0M356.2 303.2h0M366.2 303.2h0M366.7 303.2h0M381.1 303.2h0M383.1 303.2h0M383.6 303.2h0M386.1 303.2h0M390.1 303.2h0M394.1 303.2h0M398.5 303.2h0M404 303.2h0M410 303.2h0M412 303.2h0M415.9 303.2h0M422.9 303.2h0M438.3 303.2h0M443.8 303.2h0M444.8 303.2h0M452.3 303.2h0M453.8 303.2h0M457.7 303.2h0M468.7 303.2h0M489.1 303.2h0M490.6 303.2h0M491.6 303.2h0M493.1 303.2h0M496 303.2h0M498 303.2h0M501 303.2h0M502 303.2h0M514.5 303.2h0M523.9 303.2h0M526.4 303.2h0M528.4 303.2h0M540.8 303.2h0M546.8 303.2h0M550.3 303.2h0M555.2 303.2h0M570.7 303.2h0M79.1 305.2h0M81.6 305.2h0M92.6 305.2h0M94.1 305.2h0M95.6 305.2h0M95.6 305.2h0M96.1 305.2h0M100.5 305.2h0M104 305.2h0M105.5 305.2h0M110.5 305.2h0M112 305.2h0M114.5 305.2h0M121.4 305.2h0M136.3 305.2h0M138.3 305.2h0M139.8 305.2h0M142.3 305.2h0M148.8 305.2h0M160.7 305.2h0M162.2 305.2h0M185.6 305.2h0M188.1 305.2h0M191.1 305.2h0M192.1 305.2h0M193.6 305.2h0M199.5 305.2h0M207 305.2h0M220.9 305.2h0M231.4 305.2h0M243.3 305.2h0M252.3 305.2h0M257.2 305.2h0M260.7 305.2h0M267.2 305.2h0M267.2 305.2h0M268.7 305.2h0M268.7 305.2h0M272.2 305.2h0M273.2 305.2h0M275.2 305.2h0M275.2 305.2h0M282.6 305.2h0M288.1 305.2h0M290.1 305.2h0M290.6 305.2h0M303 305.2h0M306.5 305.2h0M308.5 305.2h0M309 305.2h0M309 305.2h0M310 305.2h0M311.5 305.2h0M312 305.2h0M314 305.2h0M315.9 305.2h0M331.9 305.2h0M332.4 305.2h0M337.3 305.2h0M338.3 305.2h0M340.3 305.2h0M344.8 305.2h0M344.8 305.2h0M346.8 305.2h0M347.8 305.2h0M349.8 305.2h0M382.1 305.2h0M387.1 305.2h0M393.1 305.2h0M394.6 305.2h0M396 305.2h0M401 305.2h0M402 305.2h0M418.4 305.2h0M422.4 305.2h0M428.4 305.2h0M435.8 305.2h0M437.3 305.2h0M441.3 305.2h0M455.7 305.2h0M459.7 305.2h0M461.2 305.2h0M468.2 305.2h0M480.1 305.2h0M480.1 305.2h0M504 305.2h0M507 305.2h0M513.5 305.2h0M519.4 305.2h0M535.8 305.2h0M548.3 305.2h0M562.2 305.2h0M91.1 307.1h0M92.1 307.1h0M104.5 307.1h0M108 307.1h0M114.5 307.1h0M120.9 307.1h0M131.4 307.1h0M132.4 307.1h0M132.4 307.1h0M133.4 307.1h0M133.9 307.1h0M138.3 307.1h0M154.3 307.1h0M158.7 307.1h0M159.7 307.1h0M159.7 307.1h0M171.2 307.1h0M176.6 307.1h0M185.6 307.1h0M189.6 307.1h0M195.1 307.1h0M203 307.1h0M215.5 307.1h0M235.4 307.1h0M235.9 307.1h0M242.3 307.1h0M242.8 307.1h0M242.8 307.1h0M245.8 307.1h0M273.7 307.1h0M288.1 307.1h0M289.6 307.1h0M295.6 307.1h0M303.5 307.1h0M310 307.1h0M311 307.1h0M313.5 307.1h0M314 307.1h0M317.9 307.1h0M319.4 307.1h0M320.4 307.1h0M325.4 307.1h0M330.4 307.1h0M335.8 307.1h0M346.3 307.1h0M346.8 307.1h0M350.3 307.1h0M356.7 307.1h0M357.7 307.1h0M359.7 307.1h0M362.7 307.1h0M373.2 307.1h0M383.1 307.1h0M385.1 307.1h0M401 307.1h0M403 307.1h0M404 307.1h0M405 307.1h0M413 307.1h0M423.4 307.1h0M436.8 307.1h0M441.3 307.1h0M449.3 307.1h0M449.3 307.1h0M474.6 307.1h0M477.1 307.1h0M478.1 307.1h0M489.6 307.1h0M491.6 307.1h0M493.1 307.1h0M510 307.1h0M523.4 307.1h0M527.9 307.1h0M547.3 307.1h0M549.8 307.1h0M563.7 307.1h0M567.2 307.1h0M81.1 309.1h0M87.6 309.1h0M88.6 309.1h0M94.1 309.1h0M123.9 309.1h0M130.9 309.1h0M133.9 309.1h0M134.4 309.1h0M136.3 309.1h0M147.3 309.1h0M148.3 309.1h0M151.3 309.1h0M159.2 309.1h0M177.1 309.1h0M178.6 309.1h0M202.5 309.1h0M210.5 309.1h0M212 309.1h0M216.4 309.1h0M220.4 309.1h0M232.4 309.1h0M250.8 309.1h0M254.8 309.1h0M254.8 309.1h0M258.7 309.1h0M262.7 309.1h0M276.1 309.1h0M284.1 309.1h0M287.6 309.1h0M292.6 309.1h0M292.6 309.1h0M295.1 309.1h0M296.5 309.1h0M303.5 309.1h0M310 309.1h0M310.5 309.1h0M319.9 309.1h0M321.4 309.1h0M322.9 309.1h0M330.9 309.1h0M335.8 309.1h0M338.8 309.1h0M347.3 309.1h0M347.8 309.1h0M357.7 309.1h0M362.7 309.1h0M384.1 309.1h0M390.6 309.1h0M397.5 309.1h0M400 309.1h0M411.5 309.1h0M415.9 309.1h0M433.9 309.1h0M433.9 309.1h0M441.3 309.1h0M447.8 309.1h0M449.8 309.1h0M450.3 309.1h0M453.3 309.1h0M455.2 309.1h0M469.7 309.1h0M469.7 309.1h0M489.6 309.1h0M494.5 309.1h0M516.4 309.1h0M520.9 309.1h0M526.4 309.1h0M529.4 309.1h0M535.3 309.1h0M541.3 309.1h0M545.3 309.1h0M546.3 309.1h0M549.3 309.1h0M552.3 309.1h0M558.7 309.1h0M560.7 309.1h0M567.7 309.1h0M80.6 311.1h0M88.6 311.1h0M106.5 311.1h0M107.5 311.1h0M118.9 311.1h0M120.9 311.1h0M121.9 311.1h0M149.8 311.1h0M159.7 311.1h0M175.2 311.1h0M178.6 311.1h0M179.6 311.1h0M181.6 311.1h0M183.1 311.1h0M185.1 311.1h0M193.1 311.1h0M198.5 311.1h0M199.5 311.1h0M239.8 311.1h0M253.8 311.1h0M299.5 311.1h0M306 311.1h0M306.5 311.1h0M307 311.1h0M314.5 311.1h0M317.4 311.1h0M320.9 311.1h0M323.9 311.1h0M323.9 311.1h0M323.9 311.1h0M324.4 311.1h0M329.4 311.1h0M329.4 311.1h0M331.9 311.1h0M336.3 311.1h0M339.8 311.1h0M345.3 311.1h0M348.3 311.1h0M358.7 311.1h0M368.7 311.1h0M389.6 311.1h0M390.1 311.1h0M397.5 311.1h0M406.5 311.1h0M428.4 311.1h0M432.4 311.1h0M432.9 311.1h0M440.8 311.1h0M468.7 311.1h0M471.7 311.1h0M471.7 311.1h0M477.1 311.1h0M480.1 311.1h0M482.6 311.1h0M484.6 311.1h0M489.1 311.1h0M494.1 311.1h0M494.5 311.1h0M508 311.1h0M508.5 311.1h0M511.5 311.1h0M513 311.1h0M515.4 311.1h0M517.4 311.1h0M519.4 311.1h0M520.4 311.1h0M525.9 311.1h0M527.4 311.1h0M529.4 311.1h0M540.3 311.1h0M556.2 311.1h0M560.7 311.1h0M563.7 311.1h0M566.7 311.1h0M95.1 313h0M100 313h0M105.5 313h0M134.9 313h0M156.7 313h0M158.7 313h0M161.2 313h0M162.7 313h0M166.7 313h0M173.2 313h0M182.1 313h0M195.6 313h0M198 313h0M207 313h0M217.9 313h0M230.9 313h0M250.3 313h0M263.2 313h0M276.1 313h0M277.1 313h0M281.6 313h0M288.6 313h0M302 313h0M303 313h0M309 313h0M319.4 313h0M327.4 313h0M332.4 313h0M334.4 313h0M340.8 313h0M343.8 313h0M343.8 313h0M345.3 313h0M354.3 313h0M354.8 313h0M354.8 313h0M357.2 313h0M362.7 313h0M382.6 313h0M386.6 313h0M390.6 313h0M394.1 313h0M400 313h0M400.5 313h0M411.5 313h0M412.5 313h0M415.4 313h0M422.9 313h0M440.3 313h0M445.8 313h0M456.2 313h0M467.2 313h0M467.2 313h0M473.2 313h0M474.2 313h0M478.1 313h0M480.6 313h0M485.6 313h0M494.1 313h0M506.5 313h0M512 313h0M517.9 313h0M518.9 313h0M525.9 313h0M531.9 313h0M533.9 313h0M537.3 313h0M540.8 313h0M548.8 313h0M562.7 313h0M565.7 313h0M96.1 315h0M101 315h0M106.5 315h0M150.3 315h0M151.3 315h0M154.8 315h0M161.2 315h0M173.2 315h0M196.5 315h0M197.5 315h0M202 315h0M213.5 315h0M222.9 315h0M225.9 315h0M237.3 315h0M238.8 315h0M254.3 315h0M264.7 315h0M266.7 315h0M276.6 315h0M296.5 315h0M296.5 315h0M297.5 315h0M299.5 315h0M300.5 315h0M304 315h0M307.5 315h0M310.5 315h0M313 315h0M313 315h0M313.5 315h0M319.9 315h0M325.4 315h0M328.9 315h0M334.4 315h0M336.3 315h0M336.8 315h0M341.8 315h0M342.3 315h0M351.8 315h0M352.8 315h0M352.8 315h0M366.2 315h0M369.7 315h0M390.6 315h0M391.1 315h0M391.6 315h0M394.6 315h0M395 315h0M400.5 315h0M407.5 315h0M415 315h0M416.9 315h0M419.4 315h0M422.4 315h0M434.4 315h0M448.3 315h0M450.3 315h0M451.8 315h0M452.3 315h0M456.2 315h0M461.7 315h0M471.2 315h0M477.1 315h0M492.6 315h0M494.5 315h0M506.5 315h0M518.9 315h0M536.8 315h0M537.3 315h0M550.8 315h0M80.6 316.9h0M82.1 316.9h0M84.6 316.9h0M92.6 316.9h0M93.1 316.9h0M105.5 316.9h0M108 316.9h0M116.9 316.9h0M125.4 316.9h0M132.9 316.9h0M140.3 316.9h0M173.7 316.9h0M177.6 316.9h0M183.6 316.9h0M187.6 316.9h0M192.1 316.9h0M194.1 316.9h0M203 316.9h0M206 316.9h0M216.9 316.9h0M229.9 316.9h0M234.9 316.9h0M238.8 316.9h0M238.8 316.9h0M246.8 316.9h0M258.2 316.9h0M259.2 316.9h0M269.7 316.9h0M275.2 316.9h0M278.1 316.9h0M286.6 316.9h0M287.1 316.9h0M294.1 316.9h0M297 316.9h0M299 316.9h0M301 316.9h0M305 316.9h0M306 316.9h0M308 316.9h0M312 316.9h0M312.5 316.9h0M318.4 316.9h0M320.9 316.9h0M324.9 316.9h0M327.9 316.9h0M331.4 316.9h0M347.8 316.9h0M348.3 316.9h0M351.8 316.9h0M352.3 316.9h0M355.2 316.9h0M355.7 316.9h0M380.6 316.9h0M383.1 316.9h0M389.1 316.9h0M396.5 316.9h0M400 316.9h0M400.5 316.9h0M401.5 316.9h0M402 316.9h0M414.5 316.9h0M420.4 316.9h0M426.9 316.9h0M432.4 316.9h0M450.8 316.9h0M457.7 316.9h0M460.2 316.9h0M494.1 316.9h0M515.9 316.9h0M519.4 316.9h0M533.9 316.9h0M536.8 316.9h0M83.6 318.9h0M88.1 318.9h0M88.6 318.9h0M88.6 318.9h0M89.1 318.9h0M93.6 318.9h0M100 318.9h0M120.4 318.9h0M133.4 318.9h0M136.3 318.9h0M137.3 318.9h0M140.8 318.9h0M164.2 318.9h0M165.2 318.9h0M166.2 318.9h0M166.2 318.9h0M167.2 318.9h0M178.6 318.9h0M193.1 318.9h0M193.6 318.9h0M204.5 318.9h0M210 318.9h0M215 318.9h0M216.9 318.9h0M222.4 318.9h0M222.9 318.9h0M225.4 318.9h0M225.4 318.9h0M227.4 318.9h0M245.3 318.9h0M246.3 318.9h0M252.3 318.9h0M254.3 318.9h0M259.2 318.9h0M262.7 318.9h0M290.1 318.9h0M300.5 318.9h0M304 318.9h0M308.5 318.9h0M309 318.9h0M310.5 318.9h0M312.5 318.9h0M318.4 318.9h0M320.9 318.9h0M322.4 318.9h0M322.9 318.9h0M324.4 318.9h0M331.4 318.9h0M347.8 318.9h0M352.3 318.9h0M353.8 318.9h0M355.7 318.9h0M355.7 318.9h0M358.7 318.9h0M380.1 318.9h0M383.1 318.9h0M387.6 318.9h0M391.1 318.9h0M403 318.9h0M415.4 318.9h0M418.9 318.9h0M429.9 318.9h0M450.3 318.9h0M450.8 318.9h0M468.7 318.9h0M486.1 318.9h0M495 318.9h0M504 318.9h0M505.5 318.9h0M514 318.9h0M524.9 318.9h0M531.9 318.9h0M532.9 318.9h0M533.4 318.9h0M534.4 318.9h0M538.8 318.9h0M561.7 318.9h0M566.7 318.9h0M566.7 318.9h0M568.7 318.9h0M79.6 320.9h0M88.1 320.9h0M89.6 320.9h0M111.5 320.9h0M112.5 320.9h0M117.9 320.9h0M123.9 320.9h0M129.4 320.9h0M138.8 320.9h0M139.8 320.9h0M143.3 320.9h0M145.8 320.9h0M148.8 320.9h0M164.7 320.9h0M179.1 320.9h0M180.6 320.9h0M191.1 320.9h0M196.5 320.9h0M202.5 320.9h0M214 320.9h0M226.4 320.9h0M226.9 320.9h0M230.9 320.9h0M240.8 320.9h0M250.3 320.9h0M257.7 320.9h0M261.2 320.9h0M268.2 320.9h0M272.2 320.9h0M276.6 320.9h0M281.6 320.9h0M281.6 320.9h0M282.6 320.9h0M300 320.9h0M304 320.9h0M305.5 320.9h0M308.5 320.9h0M311.5 320.9h0M316.4 320.9h0M318.9 320.9h0M322.4 320.9h0M328.9 320.9h0M336.3 320.9h0M337.3 320.9h0M337.3 320.9h0M337.8 320.9h0M339.8 320.9h0M350.8 320.9h0M351.8 320.9h0M364.2 320.9h0M369.7 320.9h0M369.7 320.9h0M371.7 320.9h0M381.6 320.9h0M385.6 320.9h0M386.1 320.9h0M387.6 320.9h0M411.5 320.9h0M413 320.9h0M427.4 320.9h0M461.2 320.9h0M474.2 320.9h0M474.6 320.9h0M479.1 320.9h0M480.6 320.9h0M481.1 320.9h0M486.6 320.9h0M494.1 320.9h0M504.5 320.9h0M511.5 320.9h0M523.9 320.9h0M525.4 320.9h0M526.9 320.9h0M527.9 320.9h0M559.7 320.9h0M564.7 320.9h0M569.7 320.9h0M104 322.8h0M106 322.8h0M120.4 322.8h0M128.4 322.8h0M128.4 322.8h0M128.9 322.8h0M130.9 322.8h0M133.9 322.8h0M156.2 322.8h0M158.2 322.8h0M170.2 322.8h0M177.6 322.8h0M180.6 322.8h0M189.6 322.8h0M197.5 322.8h0M214 322.8h0M217.4 322.8h0M228.4 322.8h0M232.9 322.8h0M238.8 322.8h0M241.8 322.8h0M251.8 322.8h0M263.2 322.8h0M284.1 322.8h0M287.6 322.8h0M290.1 322.8h0M293.1 322.8h0M298.5 322.8h0M306 322.8h0M309 322.8h0M311 322.8h0M313.5 322.8h0M314 322.8h0M320.4 322.8h0M322.9 322.8h0M325.9 322.8h0M327.9 322.8h0M328.4 322.8h0M329.4 322.8h0M331.4 322.8h0M335.8 322.8h0M347.8 322.8h0M350.3 322.8h0M351.3 322.8h0M352.8 322.8h0M355.2 322.8h0M355.7 322.8h0M365.7 322.8h0M372.7 322.8h0M374.2 322.8h0M387.1 322.8h0M391.6 322.8h0M407 322.8h0M411.5 322.8h0M426.4 322.8h0M437.8 322.8h0M439.8 322.8h0M459.7 322.8h0M467.2 322.8h0M471.2 322.8h0M485.1 322.8h0M488.6 322.8h0M495.5 322.8h0M501.5 322.8h0M510 322.8h0M514.5 322.8h0M514.5 322.8h0M516.9 322.8h0M545.8 322.8h0M550.3 322.8h0M552.3 322.8h0M566.2 322.8h0M96.6 324.8h0M97.5 324.8h0M106.5 324.8h0M109 324.8h0M118.4 324.8h0M127.9 324.8h0M128.9 324.8h0M130.9 324.8h0M153.8 324.8h0M160.7 324.8h0M163.2 324.8h0M170.2 324.8h0M178.6 324.8h0M178.6 324.8h0M183.1 324.8h0M194.6 324.8h0M201.5 324.8h0M215 324.8h0M248.3 324.8h0M250.3 324.8h0M261.2 324.8h0M281.6 324.8h0M282.6 324.8h0M287.1 324.8h0M302 324.8h0M307.5 324.8h0M309.5 324.8h0M317.9 324.8h0M322.9 324.8h0M333.9 324.8h0M341.3 324.8h0M369.7 324.8h0M406 324.8h0M409 324.8h0M433.4 324.8h0M438.8 324.8h0M444.3 324.8h0M444.8 324.8h0M464.7 324.8h0M467.7 324.8h0M468.2 324.8h0M471.7 324.8h0M477.1 324.8h0M488.1 324.8h0M494.1 324.8h0M499 324.8h0M512 324.8h0M514 324.8h0M529.4 324.8h0M530.4 324.8h0M533.4 324.8h0M538.3 324.8h0M545.8 324.8h0M570.7 324.8h0M90.1 326.8h0M98 326.8h0M106.5 326.8h0M109 326.8h0M125.9 326.8h0M145.3 326.8h0M167.2 326.8h0M193.6 326.8h0M195.6 326.8h0M198 326.8h0M213 326.8h0M236.3 326.8h0M237.3 326.8h0M256.2 326.8h0M262.2 326.8h0M273.2 326.8h0M289.6 326.8h0M293.1 326.8h0M308 326.8h0M312 326.8h0M329.9 326.8h0M331.9 326.8h0M354.3 326.8h0M355.7 326.8h0M371.7 326.8h0M400.5 326.8h0M405 326.8h0M419.9 326.8h0M425.4 326.8h0M436.8 326.8h0M445.3 326.8h0M448.3 326.8h0M450.3 326.8h0M463.7 326.8h0M482.1 326.8h0M483.1 326.8h0M506 326.8h0M522.9 326.8h0M528.9 326.8h0M534.4 326.8h0M540.8 326.8h0M540.8 326.8h0M542.3 326.8h0M91.6 328.7h0M136.8 328.7h0M154.8 328.7h0M160.7 328.7h0M163.7 328.7h0M174.7 328.7h0M175.7 328.7h0M178.1 328.7h0M178.6 328.7h0M179.6 328.7h0M190.6 328.7h0M206 328.7h0M210 328.7h0M213 328.7h0M249.3 328.7h0M256.7 328.7h0M258.7 328.7h0M265.7 328.7h0M269.7 328.7h0M280.1 328.7h0M284.6 328.7h0M288.1 328.7h0M302.5 328.7h0M331.4 328.7h0M333.9 328.7h0M339.3 328.7h0M392.6 328.7h0M420.4 328.7h0M426.4 328.7h0M442.8 328.7h0M447.3 328.7h0M460.2 328.7h0M513.5 328.7h0M516.4 328.7h0M544.3 328.7h0M84.1 330.7h0M86.1 330.7h0M89.1 330.7h0M95.6 330.7h0M98 330.7h0M107 330.7h0M114 330.7h0M127.4 330.7h0M131.4 330.7h0M136.8 330.7h0M138.3 330.7h0M138.8 330.7h0M149.3 330.7h0M152.3 330.7h0M168.2 330.7h0M180.6 330.7h0M192.1 330.7h0M195.1 330.7h0M195.6 330.7h0M209.5 330.7h0M215.9 330.7h0M220.9 330.7h0M240.8 330.7h0M270.2 330.7h0M285.1 330.7h0M292.1 330.7h0M316.4 330.7h0M317.4 330.7h0M325.9 330.7h0M338.3 330.7h0M350.3 330.7h0M358.2 330.7h0M365.7 330.7h0M367.7 330.7h0M373.7 330.7h0M379.6 330.7h0M394.6 330.7h0M404 330.7h0M412.5 330.7h0M424.9 330.7h0M425.4 330.7h0M425.9 330.7h0M426.9 330.7h0M470.2 330.7h0M473.2 330.7h0M499 330.7h0M523.4 330.7h0M543.8 330.7h0M547.3 330.7h0M562.7 330.7h0M564.2 330.7h0M89.6 332.7h0M118.9 332.7h0M143.3 332.7h0M179.1 332.7h0M199 332.7h0M218.9 332.7h0M223.9 332.7h0M227.4 332.7h0M229.9 332.7h0M245.3 332.7h0M254.8 332.7h0M263.7 332.7h0M267.2 332.7h0M271.2 332.7h0M290.6 332.7h0M290.6 332.7h0M292.1 332.7h0M306.5 332.7h0M306.5 332.7h0M309 332.7h0M317.4 332.7h0M337.3 332.7h0M344.8 332.7h0M346.3 332.7h0M348.3 332.7h0M355.2 332.7h0M373.2 332.7h0M377.6 332.7h0M378.6 332.7h0M398.5 332.7h0M402.5 332.7h0M406.5 332.7h0M424.9 332.7h0M426.9 332.7h0M426.9 332.7h0M446.3 332.7h0M446.3 332.7h0M456.7 332.7h0M478.6 332.7h0M479.6 332.7h0M490.1 332.7h0M490.6 332.7h0M511.5 332.7h0M542.8 332.7h0M549.3 332.7h0M556.2 332.7h0M559.2 332.7h0M561.7 332.7h0M567.7 332.7h0M568.7 332.7h0M81.6 334.6h0M99.5 334.6h0M109.5 334.6h0M116 334.6h0M120.4 334.6h0M146.3 334.6h0M152.8 334.6h0M158.2 334.6h0M159.2 334.6h0M195.6 334.6h0M206 334.6h0M208.5 334.6h0M219.4 334.6h0M219.9 334.6h0M222.9 334.6h0M262.2 334.6h0M271.2 334.6h0M279.1 334.6h0M281.1 334.6h0M287.1 334.6h0M294.1 334.6h0M297 334.6h0M297 334.6h0M306 334.6h0M312 334.6h0M315 334.6h0M327.4 334.6h0M328.9 334.6h0M335.8 334.6h0M343.3 334.6h0M348.3 334.6h0M350.3 334.6h0M350.8 334.6h0M359.2 334.6h0M412.5 334.6h0M518.4 334.6h0M536.3 334.6h0M538.3 334.6h0M543.8 334.6h0M557.7 334.6h0M97.5 336.6h0M100 336.6h0M112.5 336.6h0M123.4 336.6h0M133.9 336.6h0M163.7 336.6h0M168.2 336.6h0M180.1 336.6h0M186.1 336.6h0M190.6 336.6h0M213 336.6h0M214.5 336.6h0M267.2 336.6h0M300 336.6h0M316.4 336.6h0M325.4 336.6h0M341.8 336.6h0M354.3 336.6h0M384.6 336.6h0M385.1 336.6h0M394.6 336.6h0M419.9 336.6h0M425.4 336.6h0M427.4 336.6h0M442.3 336.6h0M443.3 336.6h0M458.2 336.6h0M465.7 336.6h0M483.6 336.6h0M486.1 336.6h0M488.1 336.6h0M488.6 336.6h0M490.1 336.6h0M496 336.6h0M526.4 336.6h0M531.9 336.6h0M542.3 336.6h0M566.2 336.6h0M103 338.5h0M113 338.5h0M163.7 338.5h0M182.1 338.5h0M183.1 338.5h0M184.6 338.5h0M198 338.5h0M212.5 338.5h0M215.5 338.5h0M253.8 338.5h0M256.7 338.5h0M269.2 338.5h0M273.2 338.5h0M274.2 338.5h0M279.1 338.5h0M298 338.5h0M321.4 338.5h0M363.2 338.5h0M412.5 338.5h0M414.5 338.5h0M444.3 338.5h0M449.8 338.5h0M501 338.5h0M508 338.5h0M529.4 338.5h0M533.4 338.5h0M555.7 338.5h0M556.2 338.5h0M571.7 338.5h0M80.6 340.5h0M84.6 340.5h0M100 340.5h0M102 340.5h0M128.4 340.5h0M142.3 340.5h0M182.1 340.5h0M196.5 340.5h0M207.5 340.5h0M211.5 340.5h0M216.9 340.5h0M240.3 340.5h0M256.2 340.5h0M272.2 340.5h0M273.2 340.5h0M279.6 340.5h0M305 340.5h0M333.4 340.5h0M334.4 340.5h0M334.4 340.5h0M336.8 340.5h0M342.3 340.5h0M345.8 340.5h0M358.7 340.5h0M380.6 340.5h0M404.5 340.5h0M465.7 340.5h0M492.1 340.5h0M533.9 340.5h0M537.3 340.5h0M538.3 340.5h0M548.3 340.5h0M551.8 340.5h0M564.2 340.5h0M568.7 340.5h0M81.6 342.5h0M98.5 342.5h0M107 342.5h0M141.8 342.5h0M146.8 342.5h0M150.3 342.5h0M187.6 342.5h0M194.1 342.5h0M203 342.5h0M253.3 342.5h0M256.2 342.5h0M258.7 342.5h0M259.7 342.5h0M274.7 342.5h0M307 342.5h0M312 342.5h0M320.9 342.5h0M323.9 342.5h0M329.4 342.5h0M330.9 342.5h0M340.8 342.5h0M342.8 342.5h0M349.8 342.5h0M365.7 342.5h0M386.6 342.5h0M407.5 342.5h0M408 342.5h0M431.4 342.5h0M438.3 342.5h0M445.3 342.5h0M452.3 342.5h0M462.2 342.5h0M466.2 342.5h0M495 342.5h0M509.5 342.5h0M512 342.5h0M514.9 342.5h0M516.9 342.5h0M518.4 342.5h0M526.4 342.5h0M539.8 342.5h0M98 344.4h0M98.5 344.4h0M135.4 344.4h0M154.8 344.4h0M188.6 344.4h0M202 344.4h0M240.3 344.4h0M272.7 344.4h0M286.1 344.4h0M308 344.4h0M312.5 344.4h0M316.4 344.4h0M318.9 344.4h0M320.4 344.4h0M323.4 344.4h0M337.8 344.4h0M338.3 344.4h0M338.8 344.4h0M349.3 344.4h0M388.1 344.4h0M388.6 344.4h0M413 344.4h0M449.8 344.4h0M451.8 344.4h0M457.7 344.4h0M463.2 344.4h0M464.7 344.4h0M471.7 344.4h0M473.2 344.4h0M484.6 344.4h0M509.5 344.4h0M546.8 344.4h0M553.3 344.4h0M556.2 344.4h0M556.7 344.4h0M565.7 344.4h0M97.5 346.4h0M106 346.4h0M164.2 346.4h0M166.7 346.4h0M167.7 346.4h0M186.6 346.4h0M211.5 346.4h0M212 346.4h0M213 346.4h0M245.3 346.4h0M292.6 346.4h0M310 346.4h0M325.9 346.4h0M331.9 346.4h0M337.3 346.4h0M344.3 346.4h0M362.2 346.4h0M377.1 346.4h0M379.6 346.4h0M392.1 346.4h0M399 346.4h0M416.4 346.4h0M417.4 346.4h0M423.9 346.4h0M430.9 346.4h0M451.3 346.4h0M514.5 346.4h0M530.4 346.4h0M536.3 346.4h0M542.3 346.4h0M545.8 346.4h0M558.2 346.4h0M563.2 346.4h0M103 348.4h0M118.9 348.4h0M122.9 348.4h0M135.4 348.4h0M143.3 348.4h0M155.8 348.4h0M167.2 348.4h0M176.2 348.4h0M178.6 348.4h0M186.1 348.4h0M196.1 348.4h0M213.5 348.4h0M221.4 348.4h0M237.8 348.4h0M260.2 348.4h0M285.1 348.4h0M299 348.4h0M303 348.4h0M308 348.4h0M329.4 348.4h0M330.9 348.4h0M332.4 348.4h0M360.2 348.4h0M440.3 348.4h0M441.3 348.4h0M500.5 348.4h0M505 348.4h0M520.9 348.4h0M85.1 350.3h0M141.8 350.3h0M161.2 350.3h0M164.7 350.3h0M186.6 350.3h0M190.1 350.3h0M193.1 350.3h0M201.5 350.3h0M202 350.3h0M219.9 350.3h0M274.2 350.3h0M290.6 350.3h0M324.4 350.3h0M328.9 350.3h0M344.8 350.3h0M345.8 350.3h0M350.8 350.3h0M356.2 350.3h0M379.6 350.3h0M392.6 350.3h0M407 350.3h0M429.4 350.3h0M471.7 350.3h0M539.3 350.3h0M548.8 350.3h0M556.7 350.3h0M561.7 350.3h0M569.2 350.3h0M94.6 352.3h0M113.5 352.3h0M135.9 352.3h0M144.3 352.3h0M169.7 352.3h0M170.2 352.3h0M175.2 352.3h0M176.6 352.3h0M254.3 352.3h0M258.7 352.3h0M265.2 352.3h0M271.2 352.3h0M285.1 352.3h0M286.6 352.3h0M287.1 352.3h0M295.1 352.3h0M318.9 352.3h0M330.9 352.3h0M331.9 352.3h0M349.8 352.3h0M399 352.3h0M401 352.3h0M425.9 352.3h0M427.4 352.3h0M463.2 352.3h0M485.6 352.3h0M501 352.3h0M501.5 352.3h0M502 352.3h0M527.4 352.3h0M541.8 352.3h0M547.8 352.3h0M561.2 352.3h0M82.6 354.3h0M89.1 354.3h0M117.4 354.3h0M119.9 354.3h0M131.4 354.3h0M138.8 354.3h0M141.3 354.3h0M198 354.3h0M209 354.3h0M227.9 354.3h0M238.3 354.3h0M249.8 354.3h0M257.2 354.3h0M263.7 354.3h0M269.7 354.3h0M272.2 354.3h0M286.1 354.3h0M314 354.3h0M314.5 354.3h0M328.4 354.3h0M338.3 354.3h0M341.8 354.3h0M341.8 354.3h0M346.8 354.3h0M368.7 354.3h0M370.7 354.3h0M407.5 354.3h0M440.8 354.3h0M442.3 354.3h0M449.8 354.3h0M463.2 354.3h0M473.7 354.3h0M513.5 354.3h0M518.4 354.3h0M519.4 354.3h0M523.9 354.3h0M532.4 354.3h0M541.3 354.3h0M565.2 354.3h0M85.1 356.2h0M113 356.2h0M199.5 356.2h0M214.5 356.2h0M245.3 356.2h0M248.3 356.2h0M258.7 356.2h0M260.2 356.2h0M291.1 356.2h0M297.5 356.2h0M299 356.2h0M317.9 356.2h0M333.9 356.2h0M343.3 356.2h0M343.8 356.2h0M359.2 356.2h0M370.2 356.2h0M390.6 356.2h0M394.1 356.2h0M394.1 356.2h0M397.5 356.2h0M401 356.2h0M461.7 356.2h0M478.1 356.2h0M500.5 356.2h0M551.8 356.2h0M145.3 358.2h0M165.7 358.2h0M215 358.2h0M271.7 358.2h0M297.5 358.2h0M313 358.2h0M330.9 358.2h0M338.3 358.2h0M346.3 358.2h0M361.2 358.2h0M377.6 358.2h0M398.5 358.2h0M453.3 358.2h0M463.2 358.2h0M479.1 358.2h0M516.9 358.2h0M525.4 358.2h0M534.4 358.2h0M541.8 358.2h0M544.8 358.2h0M544.8 358.2h0M111 360.1h0M166.7 360.1h0M169.2 360.1h0M242.3 360.1h0M261.2 360.1h0M262.2 360.1h0M274.2 360.1h0M275.6 360.1h0M283.6 360.1h0M406.5 360.1h0M447.8 360.1h0M449.3 360.1h0M458.7 360.1h0M469.7 360.1h0M474.2 360.1h0M484.1 360.1h0M512 360.1h0M88.1 362.1h0M88.6 362.1h0M126.4 362.1h0M134.9 362.1h0M204 362.1h0M251.3 362.1h0M280.1 362.1h0M281.1 362.1h0M312.5 362.1h0M315 362.1h0M337.3 362.1h0M347.3 362.1h0M348.8 362.1h0M385.1 362.1h0M418.9 362.1h0M425.9 362.1h0M425.9 362.1h0M433.4 362.1h0M472.7 362.1h0M479.1 362.1h0M496 362.1h0M534.4 362.1h0M559.2 362.1h0M132.4 364.1h0M133.4 364.1h0M171.7 364.1h0M178.1 364.1h0M217.4 364.1h0M247.3 364.1h0M273.7 364.1h0M315.5 364.1h0M321.9 364.1h0M321.9 364.1h0M326.4 364.1h0M340.8 364.1h0M390.1 364.1h0M392.1 364.1h0M487.6 364.1h0M508 364.1h0M522.9 364.1h0M561.7 364.1h0M99.5 366h0M122.9 366h0M159.2 366h0M187.6 366h0M228.4 366h0M233.4 366h0M315.9 366h0M322.4 366h0M347.3 366h0M354.8 366h0M368.2 366h0M371.7 366h0M413.5 366h0M432.4 366h0M463.7 366h0M534.8 366h0M543.8 366h0M549.3 366h0M551.3 366h0M565.2 366h0M164.2 368h0M182.6 368h0M247.8 368h0M296 368h0M303.5 368h0M310 368h0M336.8 368h0M357.2 368h0M452.3 368h0M453.3 368h0M467.7 368h0M475.6 368h0M152.3 370h0M244.8 370h0M303 370h0M304.5 370h0M310 370h0M317.9 370h0M319.9 370h0M353.3 370h0M362.2 370h0M470.7 370h0M501.5 370h0M544.3 370h0M162.2 371.9h0M211 371.9h0M211 371.9h0M212 371.9h0M214 371.9h0M226.9 371.9h0M243.8 371.9h0M260.7 371.9h0M293.6 371.9h0M295.6 371.9h0M311 371.9h0M313 371.9h0M314.5 371.9h0M319.4 371.9h0M418.9 371.9h0M448.8 371.9h0M479.6 371.9h0M546.3 371.9h0M84.6 373.9h0M141.8 373.9h0M161.7 373.9h0M166.7 373.9h0M167.2 373.9h0M184.6 373.9h0M331.9 373.9h0M335.4 373.9h0M381.6 373.9h0M459.7 373.9h0M88.6 375.9h0M102.5 375.9h0M134.4 375.9h0M143.8 375.9h0M169.7 375.9h0M246.8 375.9h0M250.8 375.9h0M317.9 375.9h0M388.6 375.9h0M431.9 375.9h0M445.8 375.9h0M483.1 375.9h0M526.9 375.9h0M541.8 375.9h0M86.1 377.8h0M131.4 377.8h0M145.8 377.8h0M173.7 377.8h0M186.6 377.8h0M238.8 377.8h0M283.1 377.8h0M315.9 377.8h0M322.4 377.8h0M322.9 377.8h0M347.8 377.8h0M358.7 377.8h0M377.6 377.8h0M429.4 377.8h0M441.3 377.8h0M457.7 377.8h0M478.6 377.8h0M492.6 377.8h0M516.9 377.8h0M547.8 377.8h0M81.6 379.8h0M155.3 379.8h0M175.2 379.8h0M177.6 379.8h0M178.1 379.8h0M191.1 379.8h0M205 379.8h0M250.8 379.8h0M261.7 379.8h0M267.7 379.8h0M274.7 379.8h0M276.6 379.8h0M296.5 379.8h0M355.7 379.8h0M357.7 379.8h0M364.2 379.8h0M377.6 379.8h0M391.1 379.8h0M404 379.8h0M447.8 379.8h0M548.3 379.8h0M564.2 379.8h0M571.2 379.8h0M102.5 381.8h0M130.9 381.8h0M149.3 381.8h0M218.9 381.8h0M221.4 381.8h0M227.9 381.8h0M240.8 381.8h0M287.1 381.8h0M332.9 381.8h0M348.8 381.8h0M357.2 381.8h0M361.2 381.8h0M363.7 381.8h0M387.6 381.8h0M405.5 381.8h0M426.4 381.8h0M486.1 381.8h0M513.5 381.8h0M533.9 381.8h0M541.8 381.8h0M549.3 381.8h0M571.2 381.8h0M153.3 383.7h0M160.2 383.7h0M175.7 383.7h0M203.5 383.7h0M283.6 383.7h0M299.5 383.7h0M300 383.7h0M385.1 383.7h0M431.4 383.7h0M467.2 383.7h0M508 383.7h0M134.4 385.7h0M197 385.7h0M213 385.7h0M267.2 385.7h0M408 385.7h0M452.3 385.7h0M452.3 385.7h0M495.5 385.7h0M519.4 385.7h0M524.4 385.7h0M538.8 385.7h0M559.7 385.7h0M571.2 385.7h0M104.5 387.6h0M110 387.6h0M120.9 387.6h0M256.7 387.6h0M274.7 387.6h0M321.4 387.6h0M413 387.6h0M518.4 387.6h0M526.9 387.6h0M534.4 387.6h0M140.8 389.6h0M154.3 389.6h0M259.2 389.6h0M275.6 389.6h0M299.5 389.6h0M351.3 389.6h0M366.7 389.6h0M402.5 389.6h0M450.8 389.6h0M451.8 389.6h0M476.1 389.6h0M487.1 389.6h0M549.3 389.6h0M84.6 391.6h0M106.5 391.6h0M148.8 391.6h0M156.2 391.6h0M161.7 391.6h0M204.5 391.6h0M277.1 391.6h0M315.9 391.6h0M354.8 391.6h0M360.7 391.6h0M361.7 391.6h0M402.5 391.6h0M547.8 391.6h0M82.1 393.5h0M88.1 393.5h0M176.2 393.5h0M182.1 393.5h0M303 393.5h0M315.5 393.5h0M348.3 393.5h0M410 393.5h0M423.4 393.5h0M474.6 393.5h0M537.3 393.5h0M546.3 393.5h0M94.1 395.5h0M252.8 395.5h0M262.7 395.5h0M312 395.5h0M329.4 395.5h0M343.8 395.5h0M378.6 395.5h0M487.1 395.5h0M551.3 395.5h0M81.1 397.5h0M83.6 397.5h0M107 397.5h0M177.1 397.5h0M195.1 397.5h0M284.6 397.5h0M399.5 397.5h0M404 397.5h0M83.6 399.4h0M123.9 399.4h0M162.7 399.4h0M435.8 399.4h0M477.6 399.4h0M519.9 399.4h0M119.9 401.4h0M138.3 401.4h0M191.6 401.4h0M231.9 401.4h0M338.8 401.4h0M343.8 401.4h0M363.7 401.4h0M410.5 401.4h0M448.8 401.4h0M454.3 401.4h0M515.4 401.4h0M530.4 401.4h0M561.7 401.4h0M112.5 403.4h0M117.9 403.4h0M151.3 403.4h0M188.6 403.4h0M272.2 403.4h0M316.4 403.4h0M366.2 403.4h0M527.9 403.4h0M119.9 405.3h0M146.8 405.3h0M200.5 405.3h0M268.7 405.3h0M381.6 405.3h0M387.1 405.3h0M396 405.3h0M425.9 405.3h0M447.8 405.3h0M188.6 407.3h0M228.9 407.3h0M87.1 409.2h0M114.5 409.2h0M120.4 409.2h0M142.3 409.2h0M179.6 409.2h0M252.8 409.2h0M424.9 409.2h0M425.9 409.2h0M440.3 409.2h0M442.8 409.2h0M136.8 411.2h0M237.3 411.2h0M293.1 411.2h0M296.5 411.2h0M368.7 411.2h0M468.7 411.2h0M486.6 411.2h0M516.4 411.2h0M139.8 413.2h0M215.9 413.2h0M361.7 413.2h0M401 413.2h0M223.9 415.1h0M252.3 415.1h0M311 415.1h0M552.8 415.1h0M110 417.1h0M197.5 417.1h0M249.3 417.1h0M310.5 417.1h0M363.7 417.1h0M503.5 417.1h0M552.3 417.1h0M166.2 419.1h0M386.1 419.1h0M387.1 419.1h0M402 419.1h0M529.9 419.1h0M81.1 421h0M440.3 421h0M459.7 421h0M478.1 421h0M88.6 423h0M122.9 423h0M176.2 423h0M328.4 423h0M525.4 423h0M560.7 423h0M93.1 425h0M160.2 425h0M242.8 425h0M322.4 425h0M430.4 425h0M415.4 426.9h0M463.7 426.9h0M470.2 426.9h0M503 426.9h0M248.8 428.9h0M451.8 428.9h0M134.9 430.8h0M328.9 430.8h0M411.5 430.8h0M489.1 430.8h0M541.3 430.8h0M152.8 432.8h0M154.8 432.8h0M244.3 432.8h0M283.1 432.8h0M483.1 432.8h0M347.8 436.7h0M418.4 436.7h0M458.2 436.7h0M546.3 436.7h0M337.8 438.7h0M407 438.7h0M447.8 438.7h0M552.8 438.7h0M571.7 438.7h0M216.9 440.7h0M210 442.6h0M477.1 442.6h0M552.3 442.6h0M405.5 444.6h0M506.5 444.6h0M88.1 446.6h0M533.9 446.6h0M540.3 446.6h0M196.5 448.5h0M552.8 448.5h0M268.2 450.5h0M328.9 450.5h0M168.2 452.5h0M194.6 452.5h0M306.5 452.5h0M327.9 452.5h0M383.1 452.5h0M227.9 454.4h0M362.2 454.4h0M534.4 454.4h0M541.3 454.4h0M122.9 456.4h0M331.4 456.4h0M491.1 456.4h0M201.5 458.3h0M297.5 458.3h0M327.9 458.3h0M437.8 458.3h0M214.5 460.3h0M484.6 460.3h0M564.2 460.3h0M230.4 462.3h0M403.5 462.3h0M374.2 464.2h0M391.1 466.2h0M427.9 466.2h0M266.7 468.2h0M371.7 468.2h0M440.8 470.1h0M429.9 479.9h0M513.5 481.9h0M538.3 481.9h0M179.1 483.9h0M190.6 485.8h0M274.2 485.8h0M122.9 487.8h0M100.5 489.8h0M366.2 489.8h0M207.5 491.7h0M411.5 491.7h0M341.3 493.7h0M351.8 493.7h0M85.1 495.7h0M105.5 495.7h0M266.2 495.7h0M150.8 497.6h0M356.7 497.6h0M311.5 501.5h0M492.6 503.5h0M495 505.5h0M541.3 507.4h0M533.9 511.4h0M372.2 513.3h0M480.6 517.3h0M235.9 519.2h0M278.1 519.2h0M101.5 521.2h0M261.2 521.2h0M514.5 525.1h0M94.6 531h0M529.4 531h0M470.7 540.8h0" fill="none" stroke="#000" stroke-width="1.9" stroke-linecap="round"/>
<g clip-path="url(#c0)">
<path d="M59.76 377.82L592.19 377.82" stroke="#CD0000" stroke-width="2.25" stroke-dasharray="9 9" stroke-linecap="round" fill="none"/>
<path d="M292.56 580.24L292.56 47.81" stroke="#006400" stroke-width="2.25" stroke-dasharray="9 9" stroke-linecap="round" fill="none"/>
<path d="M358.24 580.24L358.24 47.81" stroke="#006400" stroke-width="2.25" stroke-dasharray="9 9" stroke-linecap="round" fill="none"/>
</g>
<text x="216.4" y="32" font-size="22" text-anchor="start" font-weight="bold" textLength="213.12" lengthAdjust="spacing">Top hit for each peak</text>
<text x="325.98" y="626.1" font-size="15.9" text-anchor="middle">Distance to peak summit</text>
<text x="21.8" y="314.02" font-size="15.9" text-anchor="middle" transform="rotate(-90 21.8 314.02)">Motif score</text>
<rect x="59.76" y="47.81" width="532.43" height="532.43" fill="none" stroke="#000" stroke-width="0.75"/>
<path d="M126.4 580.24H524.4M126.4 580.24v6.4M225.9 580.24v6.4M325.4 580.24v6.4M424.9 580.24v6.4M524.4 580.24v6.4M59.76 558.5V67.53M59.76 558.5h-6.4M59.76 460.31h-6.4M59.76 362.11h-6.4M59.76 263.92h-6.4M59.76 165.72h-6.4M59.76 67.53h-6.4" fill="none" stroke="#000" stroke-width="0.75"/>
<text x="126.4" y="601.9" font-size="10.6" text-anchor="middle">-400</text>
<text x="225.9" y="601.9" font-size="10.6" text-anchor="middle">-200</text>
<text x="325.4" y="601.9" font-size="10.6" text-anchor="middle">0</text>
<text x="424.9" y="601.9" font-size="10.6" text-anchor="middle">200</text>
<text x="524.4" y="601.9" font-size="10.6" text-anchor="middle">400</text>
<text x="45" y="558.5" font-size="10.6" text-anchor="middle" transform="rotate(-90 45 558.5)">75</text>
<text x="45" y="460.31" font-size="10.6" text-anchor="middle" transform="rotate(-90 45 460.31)">80</text>
<text x="45" y="362.11" font-size="10.6" text-anchor="middle" transform="rotate(-90 45 362.11)">85</text>
<text x="45" y="263.92" font-size="10.6" text-anchor="middle" transform="rotate(-90 45 263.92)">90</text>
<text x="45" y="165.72" font-size="10.6" text-anchor="middle" transform="rotate(-90 45 165.72)">95</text>
<text x="45" y="67.53" font-size="10.6" text-anchor="middle" transform="rotate(-90 45 67.53)">100</text>
<filter id="hm" filterUnits="userSpaceOnUse" x="681.76" y="29.81" width="574.43" height="574.43" color-interpolation-filters="sRGB"><feGaussianBlur stdDeviation="3.0"/><feComponentTransfer><feFuncR type="table" tableValues="1 0 1"/><feFuncG type="table" tableValues="0 0 1"/><feFuncB type="table" tableValues="0 1 1"/><feFuncA type="linear" slope="0" intercept="1"/></feComponentTransfer></filter>
<g clip-path="url(#c1)"><g filter="url(#hm)" shape-rendering="crispEdges">
<rect x="681.76" y="29.81" width="574.43" height="574.43" fill="#fff"/>
<path fill="#fefefe" d="M681.76 29.81h18.5v6.5h-18.5zM1227.76 29.81h24.5v6.5h-24.5zM681.76 35.81h18.5v6.5h-18.5zM1227.76 35.81h24.5v6.5h-24.5zM681.76 41.81h18.5v6.5h-18.5zM1227.76 41.81h24.5v6.5h-24.5zM681.76 431.81h18.5v6.5h-18.5zM681.76 437.81h24.5v6.5h-24.5zM1227.76 437.81h24.5v6.5h-24.5zM681.76 443.81h24.5v6.5h-24.5zM1227.76 443.81h24.5v6.5h-24.5zM681.76 449.81h24.5v6.5h-24.5zM1221.76 449.81h30.5v6.5h-30.5zM681.76 455.81h30.5v6.5h-30.5zM1221.76 455.81h30.5v6.5h-30.5zM681.76 461.81h30.5v6.5h-30.5zM1215.76 461.81h36.5v6.5h-36.5zM681.76 467.81h36.5v6.5h-36.5zM1209.76 467.81h42.5v6.5h-42.5zM681.76 473.81h42.5v6.5h-42.5zM1203.76 473.81h48.5v6.5h-48.5zM681.76 479.81h48.5v6.5h-48.5zM1185.76 479.81h66.5v6.5h-66.5zM681.76 485.81h66.5v6.5h-66.5zM1161.76 485.81h90.5v6.5h-90.5zM699.76 491.81h552.5v6.5h-552.5zM699.76 497.81h552.5v6.5h-552.5zM705.76 503.81h522.5v6.5h-522.5zM705.76 509.81h516.5v6.5h-516.5zM711.76 515.81h504.5v6.5h-504.5zM717.76 521.81h486.5v6.5h-486.5zM735.76 527.81h444.5v6.5h-444.5z"/>
<path fill="#fdfdfd" d="M699.76 29.81h12.5v6.5h-12.5zM1203.76 29.81h24.5v6.5h-24.5zM699.76 35.81h12.5v6.5h-12.5zM1203.76 35.81h24.5v6.5h-24.5zM699.76 41.81h12.5v6.5h-12.5zM1203.76 41.81h24.5v6.5h-24.5zM681.76 47.81h18.5v6.5h-18.5zM1221.76 47.81h30.5v6.5h-30.5zM681.76 407.81h18.5v6.5h-18.5zM681.76 413.81h18.5v6.5h-18.5zM1233.76 413.81h18.5v6.5h-18.5zM681.76 419.81h24.5v6.5h-24.5zM1227.76 419.81h24.5v6.5h-24.5zM681.76 425.81h24.5v6.5h-24.5zM1221.76 425.81h30.5v6.5h-30.5zM699.76 431.81h12.5v6.5h-12.5zM1215.76 431.81h36.5v6.5h-36.5zM705.76 437.81h12.5v6.5h-12.5zM1209.76 437.81h18.5v6.5h-18.5zM705.76 443.81h18.5v6.5h-18.5zM1197.76 443.81h30.5v6.5h-30.5zM705.76 449.81h30.5v6.5h-30.5zM1179.76 449.81h42.5v6.5h-42.5zM711.76 455.81h54.5v6.5h-54.5zM1143.76 455.81h78.5v6.5h-78.5zM711.76 461.81h504.5v6.5h-504.5zM717.76 467.81h492.5v6.5h-492.5zM723.76 473.81h480.5v6.5h-480.5zM729.76 479.81h456.5v6.5h-456.5zM747.76 485.81h414.5v6.5h-414.5z"/>
<path fill="#fcfcfc" d="M711.76 29.81h12.5v6.5h-12.5zM1053.76 29.81h150.5v6.5h-150.5zM711.76 35.81h12.5v6.5h-12.5zM1053.76 35.81h150.5v6.5h-150.5zM711.76 41.81h12.5v6.5h-12.5zM1053.76 41.81h150.5v6.5h-150.5zM699.76 47.81h12.5v6.5h-12.5zM1203.76 47.81h18.5v6.5h-18.5zM681.76 53.81h18.5v6.5h-18.5zM1227.76 53.81h24.5v6.5h-24.5zM681.76 395.81h18.5v6.5h-18.5zM681.76 401.81h24.5v6.5h-24.5zM1227.76 401.81h24.5v6.5h-24.5zM699.76 407.81h6.5v6.5h-6.5zM1227.76 407.81h24.5v6.5h-24.5zM699.76 413.81h12.5v6.5h-12.5zM1221.76 413.81h12.5v6.5h-12.5zM705.76 419.81h6.5v6.5h-6.5zM1215.76 419.81h12.5v6.5h-12.5zM705.76 425.81h18.5v6.5h-18.5zM1203.76 425.81h18.5v6.5h-18.5zM711.76 431.81h24.5v6.5h-24.5zM1185.76 431.81h30.5v6.5h-30.5zM717.76 437.81h48.5v6.5h-48.5zM1137.76 437.81h72.5v6.5h-72.5zM723.76 443.81h192.5v6.5h-192.5zM1017.76 443.81h180.5v6.5h-180.5zM735.76 449.81h222.5v6.5h-222.5zM981.76 449.81h198.5v6.5h-198.5zM765.76 455.81h378.5v6.5h-378.5z"/>
<path fill="#fbfbfb" d="M723.76 29.81h144.5v6.5h-144.5zM1005.76 29.81h48.5v6.5h-48.5zM723.76 35.81h144.5v6.5h-144.5zM1005.76 35.81h48.5v6.5h-48.5zM723.76 41.81h144.5v6.5h-144.5zM1005.76 41.81h48.5v6.5h-48.5zM711.76 47.81h6.5v6.5h-6.5zM1155.76 47.81h48.5v6.5h-48.5zM699.76 53.81h6.5v6.5h-6.5zM1221.76 53.81h6.5v6.5h-6.5zM681.76 389.81h18.5v6.5h-18.5zM1233.76 389.81h18.5v6.5h-18.5zM699.76 395.81h6.5v6.5h-6.5zM1227.76 395.81h24.5v6.5h-24.5zM705.76 401.81h6.5v6.5h-6.5zM1221.76 401.81h6.5v6.5h-6.5zM705.76 407.81h6.5v6.5h-6.5zM1215.76 407.81h12.5v6.5h-12.5zM711.76 413.81h6.5v6.5h-6.5zM1203.76 413.81h18.5v6.5h-18.5zM711.76 419.81h18.5v6.5h-18.5zM1191.76 419.81h24.5v6.5h-24.5zM723.76 425.81h36.5v6.5h-36.5zM1149.76 425.81h54.5v6.5h-54.5zM735.76 431.81h174.5v6.5h-174.5zM1023.76 431.81h162.5v6.5h-162.5zM765.76 437.81h168.5v6.5h-168.5zM999.76 437.81h138.5v6.5h-138.5zM915.76 443.81h102.5v6.5h-102.5zM957.76 449.81h24.5v6.5h-24.5z"/>
<path fill="#fafafa" d="M867.76 29.81h66.5v6.5h-66.5zM987.76 29.81h18.5v6.5h-18.5zM867.76 35.81h66.5v6.5h-66.5zM987.76 35.81h18.5v6.5h-18.5zM867.76 41.81h66.5v6.5h-66.5zM987.76 41.81h18.5v6.5h-18.5zM717.76 47.81h24.5v6.5h-24.5zM1029.76 47.81h126.5v6.5h-126.5zM1209.76 53.81h12.5v6.5h-12.5zM681.76 59.81h18.5v6.5h-18.5zM1227.76 59.81h24.5v6.5h-24.5zM681.76 377.81h18.5v6.5h-18.5zM681.76 383.81h18.5v6.5h-18.5zM1227.76 383.81h24.5v6.5h-24.5zM699.76 389.81h6.5v6.5h-6.5zM1227.76 389.81h6.5v6.5h-6.5zM705.76 395.81h6.5v6.5h-6.5zM1221.76 395.81h6.5v6.5h-6.5zM711.76 401.81h6.5v6.5h-6.5zM1209.76 401.81h12.5v6.5h-12.5zM711.76 407.81h12.5v6.5h-12.5zM1197.76 407.81h18.5v6.5h-18.5zM717.76 413.81h24.5v6.5h-24.5zM1179.76 413.81h24.5v6.5h-24.5zM729.76 419.81h162.5v6.5h-162.5zM1047.76 419.81h144.5v6.5h-144.5zM759.76 425.81h162.5v6.5h-162.5zM1011.76 425.81h138.5v6.5h-138.5zM909.76 431.81h30.5v6.5h-30.5zM993.76 431.81h30.5v6.5h-30.5zM933.76 437.81h66.5v6.5h-66.5z"/>
<path fill="#f9f9f9" d="M933.76 29.81h54.5v6.5h-54.5zM933.76 35.81h54.5v6.5h-54.5zM933.76 41.81h54.5v6.5h-54.5zM741.76 47.81h138.5v6.5h-138.5zM1011.76 47.81h18.5v6.5h-18.5zM705.76 53.81h6.5v6.5h-6.5zM1191.76 53.81h18.5v6.5h-18.5zM699.76 59.81h6.5v6.5h-6.5zM1221.76 59.81h6.5v6.5h-6.5zM1233.76 65.81h18.5v6.5h-18.5zM1227.76 113.81h24.5v6.5h-24.5zM1227.76 377.81h24.5v6.5h-24.5zM699.76 383.81h6.5v6.5h-6.5zM705.76 389.81h6.5v6.5h-6.5zM1221.76 389.81h6.5v6.5h-6.5zM711.76 395.81h6.5v6.5h-6.5zM1209.76 395.81h12.5v6.5h-12.5zM717.76 401.81h12.5v6.5h-12.5zM1197.76 401.81h12.5v6.5h-12.5zM723.76 407.81h24.5v6.5h-24.5zM1167.76 407.81h30.5v6.5h-30.5zM741.76 413.81h156.5v6.5h-156.5zM1035.76 413.81h144.5v6.5h-144.5zM891.76 419.81h30.5v6.5h-30.5zM1011.76 419.81h36.5v6.5h-36.5zM921.76 425.81h18.5v6.5h-18.5zM993.76 425.81h18.5v6.5h-18.5zM939.76 431.81h54.5v6.5h-54.5z"/>
<path fill="#f8f8f8" d="M879.76 47.81h42.5v6.5h-42.5zM999.76 47.81h12.5v6.5h-12.5zM711.76 53.81h6.5v6.5h-6.5zM1161.76 53.81h30.5v6.5h-30.5zM1215.76 59.81h6.5v6.5h-6.5zM681.76 65.81h18.5v6.5h-18.5zM1227.76 65.81h6.5v6.5h-6.5zM1227.76 107.81h24.5v6.5h-24.5zM681.76 113.81h18.5v6.5h-18.5zM681.76 119.81h18.5v6.5h-18.5zM1227.76 119.81h24.5v6.5h-24.5zM681.76 371.81h18.5v6.5h-18.5zM699.76 377.81h6.5v6.5h-6.5zM1221.76 383.81h6.5v6.5h-6.5zM1209.76 389.81h12.5v6.5h-12.5zM717.76 395.81h6.5v6.5h-6.5zM1197.76 395.81h12.5v6.5h-12.5zM729.76 401.81h18.5v6.5h-18.5zM1161.76 401.81h36.5v6.5h-36.5zM747.76 407.81h156.5v6.5h-156.5zM1029.76 407.81h138.5v6.5h-138.5zM897.76 413.81h24.5v6.5h-24.5zM1011.76 413.81h24.5v6.5h-24.5zM921.76 419.81h18.5v6.5h-18.5zM993.76 419.81h18.5v6.5h-18.5zM939.76 425.81h54.5v6.5h-54.5z"/>
<path fill="#f7f7f7" d="M921.76 47.81h18.5v6.5h-18.5zM987.76 47.81h12.5v6.5h-12.5zM717.76 53.81h12.5v6.5h-12.5zM1047.76 53.81h114.5v6.5h-114.5zM1209.76 59.81h6.5v6.5h-6.5zM1221.76 65.81h6.5v6.5h-6.5zM681.76 107.81h18.5v6.5h-18.5zM699.76 113.81h6.5v6.5h-6.5zM1221.76 113.81h6.5v6.5h-6.5zM1233.76 125.81h18.5v6.5h-18.5zM681.76 365.81h18.5v6.5h-18.5zM699.76 371.81h6.5v6.5h-6.5zM1227.76 371.81h24.5v6.5h-24.5zM1221.76 377.81h6.5v6.5h-6.5zM705.76 383.81h6.5v6.5h-6.5zM1215.76 383.81h6.5v6.5h-6.5zM711.76 389.81h12.5v6.5h-12.5zM1203.76 389.81h6.5v6.5h-6.5zM723.76 395.81h18.5v6.5h-18.5zM1173.76 395.81h24.5v6.5h-24.5zM747.76 401.81h150.5v6.5h-150.5zM1035.76 401.81h126.5v6.5h-126.5zM903.76 407.81h18.5v6.5h-18.5zM1011.76 407.81h18.5v6.5h-18.5zM921.76 413.81h18.5v6.5h-18.5zM993.76 413.81h18.5v6.5h-18.5zM939.76 419.81h54.5v6.5h-54.5z"/>
<path fill="#f6f6f6" d="M939.76 47.81h48.5v6.5h-48.5zM729.76 53.81h12.5v6.5h-12.5zM1029.76 53.81h18.5v6.5h-18.5zM705.76 59.81h6.5v6.5h-6.5zM1197.76 59.81h12.5v6.5h-12.5zM699.76 65.81h6.5v6.5h-6.5zM1227.76 71.81h24.5v6.5h-24.5zM1227.76 101.81h24.5v6.5h-24.5zM1221.76 107.81h6.5v6.5h-6.5zM1215.76 113.81h6.5v6.5h-6.5zM699.76 119.81h6.5v6.5h-6.5zM1221.76 119.81h6.5v6.5h-6.5zM681.76 125.81h18.5v6.5h-18.5zM1227.76 125.81h6.5v6.5h-6.5zM681.76 359.81h18.5v6.5h-18.5zM705.76 377.81h6.5v6.5h-6.5zM1215.76 377.81h6.5v6.5h-6.5zM711.76 383.81h6.5v6.5h-6.5zM1209.76 383.81h6.5v6.5h-6.5zM723.76 389.81h6.5v6.5h-6.5zM1185.76 389.81h18.5v6.5h-18.5zM741.76 395.81h54.5v6.5h-54.5zM1059.76 395.81h114.5v6.5h-114.5zM897.76 401.81h24.5v6.5h-24.5zM1017.76 401.81h18.5v6.5h-18.5zM921.76 407.81h12.5v6.5h-12.5zM999.76 407.81h12.5v6.5h-12.5zM939.76 413.81h18.5v6.5h-18.5zM975.76 413.81h18.5v6.5h-18.5z"/>
<path fill="#f5f5f5" d="M741.76 53.81h54.5v6.5h-54.5zM1017.76 53.81h12.5v6.5h-12.5zM711.76 59.81h6.5v6.5h-6.5zM1179.76 59.81h18.5v6.5h-18.5zM1215.76 65.81h6.5v6.5h-6.5zM1227.76 95.81h24.5v6.5h-24.5zM699.76 107.81h6.5v6.5h-6.5zM1215.76 107.81h6.5v6.5h-6.5zM1209.76 113.81h6.5v6.5h-6.5zM1215.76 119.81h6.5v6.5h-6.5zM1227.76 131.81h24.5v6.5h-24.5zM699.76 365.81h6.5v6.5h-6.5zM1227.76 365.81h24.5v6.5h-24.5zM1221.76 371.81h6.5v6.5h-6.5zM1209.76 377.81h6.5v6.5h-6.5zM717.76 383.81h6.5v6.5h-6.5zM1197.76 383.81h12.5v6.5h-12.5zM729.76 389.81h18.5v6.5h-18.5zM1161.76 389.81h24.5v6.5h-24.5zM795.76 395.81h114.5v6.5h-114.5zM1023.76 395.81h36.5v6.5h-36.5zM921.76 401.81h12.5v6.5h-12.5zM1005.76 401.81h12.5v6.5h-12.5zM933.76 407.81h18.5v6.5h-18.5zM987.76 407.81h12.5v6.5h-12.5zM957.76 413.81h18.5v6.5h-18.5z"/>
<path fill="#f4f4f4" d="M795.76 53.81h78.5v6.5h-78.5zM1011.76 53.81h6.5v6.5h-6.5zM1137.76 59.81h42.5v6.5h-42.5zM1209.76 65.81h6.5v6.5h-6.5zM681.76 71.81h18.5v6.5h-18.5zM1221.76 71.81h6.5v6.5h-6.5zM681.76 101.81h18.5v6.5h-18.5zM1221.76 101.81h6.5v6.5h-6.5zM1209.76 107.81h6.5v6.5h-6.5zM705.76 113.81h6.5v6.5h-6.5zM1203.76 113.81h6.5v6.5h-6.5zM1209.76 119.81h6.5v6.5h-6.5zM699.76 125.81h6.5v6.5h-6.5zM1221.76 125.81h6.5v6.5h-6.5zM681.76 131.81h18.5v6.5h-18.5zM681.76 353.81h18.5v6.5h-18.5zM1233.76 359.81h18.5v6.5h-18.5zM705.76 371.81h6.5v6.5h-6.5zM711.76 377.81h6.5v6.5h-6.5zM1203.76 377.81h6.5v6.5h-6.5zM723.76 383.81h6.5v6.5h-6.5zM1185.76 383.81h12.5v6.5h-12.5zM747.76 389.81h102.5v6.5h-102.5zM1041.76 389.81h120.5v6.5h-120.5zM909.76 395.81h12.5v6.5h-12.5zM1011.76 395.81h12.5v6.5h-12.5zM933.76 401.81h6.5v6.5h-6.5zM993.76 401.81h12.5v6.5h-12.5zM951.76 407.81h36.5v6.5h-36.5z"/>
<path fill="#f3f3f3" d="M873.76 53.81h30.5v6.5h-30.5zM1005.76 53.81h6.5v6.5h-6.5zM717.76 59.81h6.5v6.5h-6.5zM1065.76 59.81h72.5v6.5h-72.5zM705.76 65.81h6.5v6.5h-6.5zM1197.76 65.81h12.5v6.5h-12.5zM1227.76 77.81h24.5v6.5h-24.5zM1227.76 89.81h24.5v6.5h-24.5zM1203.76 107.81h6.5v6.5h-6.5zM1191.76 113.81h12.5v6.5h-12.5zM705.76 119.81h6.5v6.5h-6.5zM1203.76 119.81h6.5v6.5h-6.5zM1215.76 125.81h6.5v6.5h-6.5zM681.76 347.81h18.5v6.5h-18.5zM699.76 359.81h6.5v6.5h-6.5zM1227.76 359.81h6.5v6.5h-6.5zM1221.76 365.81h6.5v6.5h-6.5zM1215.76 371.81h6.5v6.5h-6.5zM717.76 377.81h6.5v6.5h-6.5zM1197.76 377.81h6.5v6.5h-6.5zM729.76 383.81h12.5v6.5h-12.5zM1155.76 383.81h30.5v6.5h-30.5zM849.76 389.81h60.5v6.5h-60.5zM1023.76 389.81h18.5v6.5h-18.5zM921.76 395.81h12.5v6.5h-12.5zM999.76 395.81h12.5v6.5h-12.5zM939.76 401.81h12.5v6.5h-12.5zM981.76 401.81h12.5v6.5h-12.5z"/>
<path fill="#f2f2f2" d="M903.76 53.81h12.5v6.5h-12.5zM999.76 53.81h6.5v6.5h-6.5zM723.76 59.81h12.5v6.5h-12.5zM1041.76 59.81h24.5v6.5h-24.5zM1185.76 65.81h12.5v6.5h-12.5zM1215.76 71.81h6.5v6.5h-6.5zM1227.76 83.81h24.5v6.5h-24.5zM1221.76 95.81h6.5v6.5h-6.5zM699.76 101.81h6.5v6.5h-6.5zM1215.76 101.81h6.5v6.5h-6.5zM705.76 107.81h6.5v6.5h-6.5zM1197.76 107.81h6.5v6.5h-6.5zM711.76 113.81h6.5v6.5h-6.5zM1173.76 113.81h18.5v6.5h-18.5zM1197.76 119.81h6.5v6.5h-6.5zM699.76 131.81h6.5v6.5h-6.5zM1221.76 131.81h6.5v6.5h-6.5zM681.76 137.81h18.5v6.5h-18.5zM1233.76 137.81h18.5v6.5h-18.5zM699.76 353.81h6.5v6.5h-6.5zM1227.76 353.81h24.5v6.5h-24.5zM705.76 365.81h6.5v6.5h-6.5zM711.76 371.81h6.5v6.5h-6.5zM1209.76 371.81h6.5v6.5h-6.5zM723.76 377.81h6.5v6.5h-6.5zM1185.76 377.81h12.5v6.5h-12.5zM741.76 383.81h36.5v6.5h-36.5zM1047.76 383.81h108.5v6.5h-108.5zM909.76 389.81h12.5v6.5h-12.5zM1011.76 389.81h12.5v6.5h-12.5zM933.76 395.81h6.5v6.5h-6.5zM993.76 395.81h6.5v6.5h-6.5zM951.76 401.81h30.5v6.5h-30.5z"/>
<path fill="#f1f1f1" d="M915.76 53.81h12.5v6.5h-12.5zM993.76 53.81h6.5v6.5h-6.5zM735.76 59.81h12.5v6.5h-12.5zM1029.76 59.81h12.5v6.5h-12.5zM1173.76 65.81h12.5v6.5h-12.5zM699.76 71.81h6.5v6.5h-6.5zM681.76 95.81h18.5v6.5h-18.5zM1209.76 101.81h6.5v6.5h-6.5zM1185.76 107.81h12.5v6.5h-12.5zM1143.76 113.81h30.5v6.5h-30.5zM1185.76 119.81h12.5v6.5h-12.5zM1209.76 125.81h6.5v6.5h-6.5zM1227.76 137.81h6.5v6.5h-6.5zM681.76 341.81h18.5v6.5h-18.5zM1221.76 359.81h6.5v6.5h-6.5zM1215.76 365.81h6.5v6.5h-6.5zM1203.76 371.81h6.5v6.5h-6.5zM729.76 377.81h12.5v6.5h-12.5zM1167.76 377.81h18.5v6.5h-18.5zM777.76 383.81h126.5v6.5h-126.5zM1023.76 383.81h24.5v6.5h-24.5zM921.76 389.81h6.5v6.5h-6.5zM1005.76 389.81h6.5v6.5h-6.5zM939.76 395.81h12.5v6.5h-12.5zM981.76 395.81h12.5v6.5h-12.5z"/>
<path fill="#f0f0f0" d="M927.76 53.81h12.5v6.5h-12.5zM981.76 53.81h12.5v6.5h-12.5zM747.76 59.81h24.5v6.5h-24.5zM1023.76 59.81h6.5v6.5h-6.5zM711.76 65.81h6.5v6.5h-6.5zM1143.76 65.81h30.5v6.5h-30.5zM1209.76 71.81h6.5v6.5h-6.5zM1221.76 77.81h6.5v6.5h-6.5zM1215.76 95.81h6.5v6.5h-6.5zM1203.76 101.81h6.5v6.5h-6.5zM711.76 107.81h6.5v6.5h-6.5zM1167.76 107.81h18.5v6.5h-18.5zM717.76 113.81h6.5v6.5h-6.5zM1071.76 113.81h72.5v6.5h-72.5zM711.76 119.81h6.5v6.5h-6.5zM1173.76 119.81h12.5v6.5h-12.5zM705.76 125.81h6.5v6.5h-6.5zM1203.76 125.81h6.5v6.5h-6.5zM1215.76 131.81h6.5v6.5h-6.5zM681.76 335.81h18.5v6.5h-18.5zM699.76 347.81h6.5v6.5h-6.5zM1227.76 347.81h24.5v6.5h-24.5zM717.76 371.81h6.5v6.5h-6.5zM1197.76 371.81h6.5v6.5h-6.5zM741.76 377.81h18.5v6.5h-18.5zM1125.76 377.81h42.5v6.5h-42.5zM903.76 383.81h12.5v6.5h-12.5zM1017.76 383.81h6.5v6.5h-6.5zM927.76 389.81h12.5v6.5h-12.5zM993.76 389.81h12.5v6.5h-12.5zM951.76 395.81h30.5v6.5h-30.5z"/>
<path fill="#efefef" d="M939.76 53.81h6.5v6.5h-6.5zM975.76 53.81h6.5v6.5h-6.5zM771.76 59.81h36.5v6.5h-36.5zM1017.76 59.81h6.5v6.5h-6.5zM717.76 65.81h6.5v6.5h-6.5zM1089.76 65.81h54.5v6.5h-54.5zM1203.76 71.81h6.5v6.5h-6.5zM1221.76 89.81h6.5v6.5h-6.5zM1197.76 101.81h6.5v6.5h-6.5zM1131.76 107.81h36.5v6.5h-36.5zM723.76 113.81h6.5v6.5h-6.5zM1053.76 113.81h18.5v6.5h-18.5zM1137.76 119.81h36.5v6.5h-36.5zM1197.76 125.81h6.5v6.5h-6.5zM705.76 359.81h6.5v6.5h-6.5zM711.76 365.81h6.5v6.5h-6.5zM1209.76 365.81h6.5v6.5h-6.5zM723.76 371.81h6.5v6.5h-6.5zM1185.76 371.81h12.5v6.5h-12.5zM759.76 377.81h120.5v6.5h-120.5zM1035.76 377.81h90.5v6.5h-90.5zM915.76 383.81h6.5v6.5h-6.5zM1005.76 383.81h12.5v6.5h-12.5zM939.76 389.81h6.5v6.5h-6.5zM987.76 389.81h6.5v6.5h-6.5z"/>
<path fill="#eeeeee" d="M945.76 53.81h30.5v6.5h-30.5zM807.76 59.81h30.5v6.5h-30.5zM1011.76 59.81h6.5v6.5h-6.5zM1065.76 65.81h24.5v6.5h-24.5zM1197.76 71.81h6.5v6.5h-6.5zM681.76 77.81h18.5v6.5h-18.5zM1215.76 77.81h6.5v6.5h-6.5zM1221.76 83.81h6.5v6.5h-6.5zM1209.76 95.81h6.5v6.5h-6.5zM1191.76 101.81h6.5v6.5h-6.5zM717.76 107.81h6.5v6.5h-6.5zM1077.76 107.81h54.5v6.5h-54.5zM729.76 113.81h6.5v6.5h-6.5zM1047.76 113.81h6.5v6.5h-6.5zM717.76 119.81h6.5v6.5h-6.5zM1065.76 119.81h72.5v6.5h-72.5zM1191.76 125.81h6.5v6.5h-6.5zM1209.76 131.81h6.5v6.5h-6.5zM699.76 137.81h6.5v6.5h-6.5zM1221.76 137.81h6.5v6.5h-6.5zM681.76 143.81h18.5v6.5h-18.5zM681.76 185.81h18.5v6.5h-18.5zM681.76 191.81h18.5v6.5h-18.5zM681.76 329.81h18.5v6.5h-18.5zM699.76 341.81h6.5v6.5h-6.5zM1227.76 341.81h24.5v6.5h-24.5zM1221.76 353.81h6.5v6.5h-6.5zM1215.76 359.81h6.5v6.5h-6.5zM1203.76 365.81h6.5v6.5h-6.5zM729.76 371.81h6.5v6.5h-6.5zM1173.76 371.81h12.5v6.5h-12.5zM879.76 377.81h24.5v6.5h-24.5zM1023.76 377.81h12.5v6.5h-12.5zM921.76 383.81h12.5v6.5h-12.5zM999.76 383.81h6.5v6.5h-6.5zM945.76 389.81h12.5v6.5h-12.5zM975.76 389.81h12.5v6.5h-12.5z"/>
<path fill="#ededed" d="M837.76 59.81h18.5v6.5h-18.5zM1005.76 59.81h6.5v6.5h-6.5zM723.76 65.81h6.5v6.5h-6.5zM1053.76 65.81h12.5v6.5h-12.5zM1191.76 71.81h6.5v6.5h-6.5zM681.76 89.81h18.5v6.5h-18.5zM1215.76 89.81h6.5v6.5h-6.5zM699.76 95.81h6.5v6.5h-6.5zM705.76 101.81h6.5v6.5h-6.5zM1185.76 101.81h6.5v6.5h-6.5zM1059.76 107.81h18.5v6.5h-18.5zM735.76 113.81h12.5v6.5h-12.5zM1041.76 113.81h6.5v6.5h-6.5zM723.76 119.81h6.5v6.5h-6.5zM1053.76 119.81h12.5v6.5h-12.5zM711.76 125.81h6.5v6.5h-6.5zM1179.76 125.81h12.5v6.5h-12.5zM705.76 131.81h6.5v6.5h-6.5zM1227.76 143.81h24.5v6.5h-24.5zM681.76 179.81h18.5v6.5h-18.5zM705.76 353.81h6.5v6.5h-6.5zM717.76 365.81h6.5v6.5h-6.5zM1197.76 365.81h6.5v6.5h-6.5zM735.76 371.81h12.5v6.5h-12.5zM1155.76 371.81h18.5v6.5h-18.5zM903.76 377.81h12.5v6.5h-12.5zM1017.76 377.81h6.5v6.5h-6.5zM933.76 383.81h6.5v6.5h-6.5zM993.76 383.81h6.5v6.5h-6.5zM957.76 389.81h18.5v6.5h-18.5z"/>
<path fill="#ececec" d="M855.76 59.81h24.5v6.5h-24.5zM729.76 65.81h6.5v6.5h-6.5zM1041.76 65.81h12.5v6.5h-12.5zM705.76 71.81h6.5v6.5h-6.5zM1179.76 71.81h12.5v6.5h-12.5zM1209.76 77.81h6.5v6.5h-6.5zM681.76 83.81h18.5v6.5h-18.5zM1215.76 83.81h6.5v6.5h-6.5zM1203.76 95.81h6.5v6.5h-6.5zM1167.76 101.81h18.5v6.5h-18.5zM723.76 107.81h6.5v6.5h-6.5zM1047.76 107.81h12.5v6.5h-12.5zM747.76 113.81h18.5v6.5h-18.5zM1035.76 113.81h6.5v6.5h-6.5zM729.76 119.81h6.5v6.5h-6.5zM1047.76 119.81h6.5v6.5h-6.5zM1161.76 125.81h18.5v6.5h-18.5zM1203.76 131.81h6.5v6.5h-6.5zM681.76 197.81h18.5v6.5h-18.5zM681.76 323.81h18.5v6.5h-18.5zM699.76 335.81h6.5v6.5h-6.5zM1227.76 335.81h24.5v6.5h-24.5zM1221.76 347.81h6.5v6.5h-6.5zM1215.76 353.81h6.5v6.5h-6.5zM711.76 359.81h6.5v6.5h-6.5zM1209.76 359.81h6.5v6.5h-6.5zM723.76 365.81h6.5v6.5h-6.5zM1191.76 365.81h6.5v6.5h-6.5zM747.76 371.81h30.5v6.5h-30.5zM1071.76 371.81h84.5v6.5h-84.5zM915.76 377.81h6.5v6.5h-6.5zM1005.76 377.81h12.5v6.5h-12.5zM939.76 383.81h6.5v6.5h-6.5zM987.76 383.81h6.5v6.5h-6.5z"/>
<path fill="#ebebeb" d="M879.76 59.81h12.5v6.5h-12.5zM999.76 59.81h6.5v6.5h-6.5zM735.76 65.81h12.5v6.5h-12.5zM1035.76 65.81h6.5v6.5h-6.5zM1161.76 71.81h18.5v6.5h-18.5zM1209.76 89.81h6.5v6.5h-6.5zM1197.76 95.81h6.5v6.5h-6.5zM1149.76 101.81h18.5v6.5h-18.5zM729.76 107.81h6.5v6.5h-6.5zM1041.76 107.81h6.5v6.5h-6.5zM765.76 113.81h42.5v6.5h-42.5zM735.76 119.81h6.5v6.5h-6.5zM1041.76 119.81h6.5v6.5h-6.5zM717.76 125.81h6.5v6.5h-6.5zM1113.76 125.81h48.5v6.5h-48.5zM1197.76 131.81h6.5v6.5h-6.5zM1215.76 137.81h6.5v6.5h-6.5zM681.76 149.81h18.5v6.5h-18.5zM681.76 173.81h18.5v6.5h-18.5zM1227.76 185.81h24.5v6.5h-24.5zM1227.76 191.81h24.5v6.5h-24.5zM681.76 317.81h18.5v6.5h-18.5zM705.76 347.81h6.5v6.5h-6.5zM1203.76 359.81h6.5v6.5h-6.5zM729.76 365.81h6.5v6.5h-6.5zM1185.76 365.81h6.5v6.5h-6.5zM777.76 371.81h114.5v6.5h-114.5zM1035.76 371.81h36.5v6.5h-36.5zM921.76 377.81h6.5v6.5h-6.5zM945.76 383.81h12.5v6.5h-12.5zM981.76 383.81h6.5v6.5h-6.5z"/>
<path fill="#eaeaea" d="M891.76 59.81h12.5v6.5h-12.5zM993.76 59.81h6.5v6.5h-6.5zM747.76 65.81h12.5v6.5h-12.5zM1029.76 65.81h6.5v6.5h-6.5zM1137.76 71.81h24.5v6.5h-24.5zM699.76 77.81h6.5v6.5h-6.5zM1203.76 77.81h6.5v6.5h-6.5zM1191.76 95.81h6.5v6.5h-6.5zM711.76 101.81h6.5v6.5h-6.5zM1107.76 101.81h42.5v6.5h-42.5zM735.76 107.81h6.5v6.5h-6.5zM807.76 113.81h42.5v6.5h-42.5zM1029.76 113.81h6.5v6.5h-6.5zM741.76 119.81h18.5v6.5h-18.5zM1035.76 119.81h6.5v6.5h-6.5zM1059.76 125.81h54.5v6.5h-54.5zM711.76 131.81h6.5v6.5h-6.5zM1191.76 131.81h6.5v6.5h-6.5zM699.76 143.81h6.5v6.5h-6.5zM1227.76 179.81h24.5v6.5h-24.5zM699.76 185.81h6.5v6.5h-6.5zM699.76 191.81h6.5v6.5h-6.5zM681.76 203.81h18.5v6.5h-18.5zM699.76 329.81h6.5v6.5h-6.5zM1227.76 329.81h24.5v6.5h-24.5zM1221.76 341.81h6.5v6.5h-6.5zM711.76 353.81h6.5v6.5h-6.5zM717.76 359.81h6.5v6.5h-6.5zM735.76 365.81h6.5v6.5h-6.5zM1173.76 365.81h12.5v6.5h-12.5zM891.76 371.81h18.5v6.5h-18.5zM1023.76 371.81h12.5v6.5h-12.5zM927.76 377.81h6.5v6.5h-6.5zM999.76 377.81h6.5v6.5h-6.5zM957.76 383.81h24.5v6.5h-24.5z"/>
<path fill="#e9e9e9" d="M903.76 59.81h12.5v6.5h-12.5zM759.76 65.81h18.5v6.5h-18.5zM1023.76 65.81h6.5v6.5h-6.5zM1107.76 71.81h30.5v6.5h-30.5zM1197.76 77.81h6.5v6.5h-6.5zM1209.76 83.81h6.5v6.5h-6.5zM699.76 89.81h6.5v6.5h-6.5zM1203.76 89.81h6.5v6.5h-6.5zM1179.76 95.81h12.5v6.5h-12.5zM1083.76 101.81h24.5v6.5h-24.5zM741.76 107.81h12.5v6.5h-12.5zM1035.76 107.81h6.5v6.5h-6.5zM849.76 113.81h24.5v6.5h-24.5zM759.76 119.81h42.5v6.5h-42.5zM723.76 125.81h6.5v6.5h-6.5zM1053.76 125.81h6.5v6.5h-6.5zM1185.76 131.81h6.5v6.5h-6.5zM705.76 137.81h6.5v6.5h-6.5zM681.76 167.81h18.5v6.5h-18.5zM699.76 179.81h6.5v6.5h-6.5zM1227.76 197.81h24.5v6.5h-24.5zM681.76 311.81h18.5v6.5h-18.5zM1233.76 323.81h18.5v6.5h-18.5zM1215.76 347.81h6.5v6.5h-6.5zM1209.76 353.81h6.5v6.5h-6.5zM1197.76 359.81h6.5v6.5h-6.5zM741.76 365.81h12.5v6.5h-12.5zM1155.76 365.81h18.5v6.5h-18.5zM909.76 371.81h6.5v6.5h-6.5zM1017.76 371.81h6.5v6.5h-6.5zM933.76 377.81h6.5v6.5h-6.5zM993.76 377.81h6.5v6.5h-6.5z"/>
<path fill="#e8e8e8" d="M915.76 59.81h6.5v6.5h-6.5zM987.76 59.81h6.5v6.5h-6.5zM777.76 65.81h18.5v6.5h-18.5zM711.76 71.81h6.5v6.5h-6.5zM1083.76 71.81h24.5v6.5h-24.5zM1191.76 77.81h6.5v6.5h-6.5zM1203.76 83.81h6.5v6.5h-6.5zM1197.76 89.81h6.5v6.5h-6.5zM705.76 95.81h6.5v6.5h-6.5zM1167.76 95.81h12.5v6.5h-12.5zM1065.76 101.81h18.5v6.5h-18.5zM753.76 107.81h18.5v6.5h-18.5zM873.76 113.81h12.5v6.5h-12.5zM801.76 119.81h72.5v6.5h-72.5zM729.76 125.81h6.5v6.5h-6.5zM1047.76 125.81h6.5v6.5h-6.5zM1167.76 131.81h18.5v6.5h-18.5zM1209.76 137.81h6.5v6.5h-6.5zM1221.76 143.81h6.5v6.5h-6.5zM1227.76 149.81h24.5v6.5h-24.5zM681.76 155.81h18.5v6.5h-18.5zM681.76 161.81h18.5v6.5h-18.5zM1233.76 173.81h18.5v6.5h-18.5zM699.76 197.81h6.5v6.5h-6.5zM681.76 209.81h18.5v6.5h-18.5zM699.76 323.81h6.5v6.5h-6.5zM1227.76 323.81h6.5v6.5h-6.5zM705.76 341.81h6.5v6.5h-6.5zM723.76 359.81h6.5v6.5h-6.5zM1191.76 359.81h6.5v6.5h-6.5zM753.76 365.81h18.5v6.5h-18.5zM1119.76 365.81h36.5v6.5h-36.5zM915.76 371.81h6.5v6.5h-6.5zM1011.76 371.81h6.5v6.5h-6.5zM939.76 377.81h6.5v6.5h-6.5zM987.76 377.81h6.5v6.5h-6.5z"/>
<path fill="#e7e7e7" d="M921.76 59.81h6.5v6.5h-6.5zM981.76 59.81h6.5v6.5h-6.5zM795.76 65.81h12.5v6.5h-12.5zM1017.76 65.81h6.5v6.5h-6.5zM1071.76 71.81h12.5v6.5h-12.5zM1185.76 77.81h6.5v6.5h-6.5zM699.76 83.81h6.5v6.5h-6.5zM1155.76 95.81h12.5v6.5h-12.5zM717.76 101.81h6.5v6.5h-6.5zM1059.76 101.81h6.5v6.5h-6.5zM771.76 107.81h24.5v6.5h-24.5zM1029.76 107.81h6.5v6.5h-6.5zM885.76 113.81h6.5v6.5h-6.5zM1023.76 113.81h6.5v6.5h-6.5zM873.76 119.81h12.5v6.5h-12.5zM1029.76 119.81h6.5v6.5h-6.5zM735.76 125.81h6.5v6.5h-6.5zM1041.76 125.81h6.5v6.5h-6.5zM717.76 131.81h6.5v6.5h-6.5zM1131.76 131.81h36.5v6.5h-36.5zM1227.76 173.81h6.5v6.5h-6.5zM1233.76 203.81h18.5v6.5h-18.5zM681.76 215.81h18.5v6.5h-18.5zM681.76 305.81h18.5v6.5h-18.5zM1233.76 317.81h18.5v6.5h-18.5zM1221.76 335.81h6.5v6.5h-6.5zM711.76 347.81h6.5v6.5h-6.5zM717.76 353.81h6.5v6.5h-6.5zM1203.76 353.81h6.5v6.5h-6.5zM729.76 359.81h6.5v6.5h-6.5zM1185.76 359.81h6.5v6.5h-6.5zM771.76 365.81h114.5v6.5h-114.5zM1047.76 365.81h72.5v6.5h-72.5zM921.76 371.81h6.5v6.5h-6.5zM1005.76 371.81h6.5v6.5h-6.5zM945.76 377.81h12.5v6.5h-12.5zM975.76 377.81h12.5v6.5h-12.5z"/>
<path fill="#e6e6e6" d="M927.76 59.81h6.5v6.5h-6.5zM807.76 65.81h12.5v6.5h-12.5zM717.76 71.81h6.5v6.5h-6.5zM1059.76 71.81h12.5v6.5h-12.5zM1179.76 77.81h6.5v6.5h-6.5zM1197.76 83.81h6.5v6.5h-6.5zM1191.76 89.81h6.5v6.5h-6.5zM1125.76 95.81h30.5v6.5h-30.5zM1053.76 101.81h6.5v6.5h-6.5zM795.76 107.81h24.5v6.5h-24.5zM891.76 113.81h6.5v6.5h-6.5zM885.76 119.81h6.5v6.5h-6.5zM741.76 125.81h12.5v6.5h-12.5zM1065.76 131.81h66.5v6.5h-66.5zM1203.76 137.81h6.5v6.5h-6.5zM699.76 149.81h6.5v6.5h-6.5zM1233.76 167.81h18.5v6.5h-18.5zM699.76 173.81h6.5v6.5h-6.5zM1221.76 185.81h6.5v6.5h-6.5zM1221.76 191.81h6.5v6.5h-6.5zM1227.76 203.81h6.5v6.5h-6.5zM681.76 299.81h18.5v6.5h-18.5zM699.76 317.81h6.5v6.5h-6.5zM1227.76 317.81h6.5v6.5h-6.5zM1215.76 341.81h6.5v6.5h-6.5zM1209.76 347.81h6.5v6.5h-6.5zM1197.76 353.81h6.5v6.5h-6.5zM735.76 359.81h6.5v6.5h-6.5zM1173.76 359.81h12.5v6.5h-12.5zM885.76 365.81h18.5v6.5h-18.5zM1029.76 365.81h18.5v6.5h-18.5zM927.76 371.81h6.5v6.5h-6.5zM999.76 371.81h6.5v6.5h-6.5zM957.76 377.81h18.5v6.5h-18.5z"/>
<path fill="#e5e5e5" d="M933.76 59.81h12.5v6.5h-12.5zM975.76 59.81h6.5v6.5h-6.5zM819.76 65.81h12.5v6.5h-12.5zM1011.76 65.81h6.5v6.5h-6.5zM1053.76 71.81h6.5v6.5h-6.5zM1167.76 77.81h12.5v6.5h-12.5zM1191.76 83.81h6.5v6.5h-6.5zM1179.76 89.81h12.5v6.5h-12.5zM1101.76 95.81h24.5v6.5h-24.5zM723.76 101.81h6.5v6.5h-6.5zM1047.76 101.81h6.5v6.5h-6.5zM819.76 107.81h12.5v6.5h-12.5zM1023.76 107.81h6.5v6.5h-6.5zM753.76 125.81h18.5v6.5h-18.5zM1035.76 125.81h6.5v6.5h-6.5zM723.76 131.81h6.5v6.5h-6.5zM1053.76 131.81h12.5v6.5h-12.5zM1233.76 155.81h18.5v6.5h-18.5zM1227.76 167.81h6.5v6.5h-6.5zM699.76 203.81h6.5v6.5h-6.5zM681.76 221.81h18.5v6.5h-18.5zM1227.76 311.81h24.5v6.5h-24.5zM1221.76 329.81h6.5v6.5h-6.5zM705.76 335.81h6.5v6.5h-6.5zM723.76 353.81h6.5v6.5h-6.5zM1191.76 353.81h6.5v6.5h-6.5zM741.76 359.81h12.5v6.5h-12.5zM1161.76 359.81h12.5v6.5h-12.5zM903.76 365.81h6.5v6.5h-6.5zM1023.76 365.81h6.5v6.5h-6.5zM933.76 371.81h6.5v6.5h-6.5z"/>
<path fill="#e4e4e4" d="M945.76 59.81h6.5v6.5h-6.5zM963.76 59.81h12.5v6.5h-12.5zM831.76 65.81h6.5v6.5h-6.5zM1047.76 71.81h6.5v6.5h-6.5zM1155.76 77.81h12.5v6.5h-12.5zM1185.76 83.81h6.5v6.5h-6.5zM1173.76 89.81h6.5v6.5h-6.5zM1083.76 95.81h18.5v6.5h-18.5zM1041.76 101.81h6.5v6.5h-6.5zM831.76 107.81h18.5v6.5h-18.5zM897.76 113.81h6.5v6.5h-6.5zM1017.76 113.81h6.5v6.5h-6.5zM891.76 119.81h6.5v6.5h-6.5zM1023.76 119.81h6.5v6.5h-6.5zM771.76 125.81h90.5v6.5h-90.5zM1047.76 131.81h6.5v6.5h-6.5zM711.76 137.81h6.5v6.5h-6.5zM1197.76 137.81h6.5v6.5h-6.5zM1215.76 143.81h6.5v6.5h-6.5zM1227.76 155.81h6.5v6.5h-6.5zM1233.76 161.81h18.5v6.5h-18.5zM699.76 167.81h6.5v6.5h-6.5zM1221.76 179.81h6.5v6.5h-6.5zM1227.76 209.81h24.5v6.5h-24.5zM681.76 227.81h18.5v6.5h-18.5zM681.76 293.81h18.5v6.5h-18.5zM711.76 341.81h6.5v6.5h-6.5zM717.76 347.81h6.5v6.5h-6.5zM1203.76 347.81h6.5v6.5h-6.5zM1185.76 353.81h6.5v6.5h-6.5zM753.76 359.81h18.5v6.5h-18.5zM1131.76 359.81h30.5v6.5h-30.5zM909.76 365.81h6.5v6.5h-6.5zM1017.76 365.81h6.5v6.5h-6.5zM993.76 371.81h6.5v6.5h-6.5z"/>
<path fill="#e3e3e3" d="M951.76 59.81h12.5v6.5h-12.5zM837.76 65.81h12.5v6.5h-12.5zM1005.76 65.81h6.5v6.5h-6.5zM723.76 71.81h6.5v6.5h-6.5zM1041.76 71.81h6.5v6.5h-6.5zM705.76 77.81h6.5v6.5h-6.5zM1131.76 77.81h24.5v6.5h-24.5zM1179.76 83.81h6.5v6.5h-6.5zM1161.76 89.81h12.5v6.5h-12.5zM711.76 95.81h6.5v6.5h-6.5zM1077.76 95.81h6.5v6.5h-6.5zM729.76 101.81h6.5v6.5h-6.5zM849.76 107.81h12.5v6.5h-12.5zM861.76 125.81h18.5v6.5h-18.5zM729.76 131.81h6.5v6.5h-6.5zM1191.76 137.81h6.5v6.5h-6.5zM705.76 143.81h6.5v6.5h-6.5zM699.76 155.81h6.5v6.5h-6.5zM1227.76 161.81h6.5v6.5h-6.5zM705.76 185.81h6.5v6.5h-6.5zM705.76 191.81h6.5v6.5h-6.5zM1221.76 197.81h6.5v6.5h-6.5zM681.76 233.81h18.5v6.5h-18.5zM681.76 281.81h18.5v6.5h-18.5zM681.76 287.81h18.5v6.5h-18.5zM1227.76 305.81h24.5v6.5h-24.5zM699.76 311.81h6.5v6.5h-6.5zM1221.76 323.81h6.5v6.5h-6.5zM1215.76 335.81h6.5v6.5h-6.5zM1209.76 341.81h6.5v6.5h-6.5zM729.76 353.81h6.5v6.5h-6.5zM1179.76 353.81h6.5v6.5h-6.5zM771.76 359.81h108.5v6.5h-108.5zM1053.76 359.81h78.5v6.5h-78.5zM915.76 365.81h6.5v6.5h-6.5zM1011.76 365.81h6.5v6.5h-6.5zM939.76 371.81h6.5v6.5h-6.5zM987.76 371.81h6.5v6.5h-6.5z"/>
<path fill="#e2e2e2" d="M849.76 65.81h6.5v6.5h-6.5zM729.76 71.81h6.5v6.5h-6.5zM1107.76 77.81h24.5v6.5h-24.5zM1173.76 83.81h6.5v6.5h-6.5zM1143.76 89.81h18.5v6.5h-18.5zM1065.76 95.81h12.5v6.5h-12.5zM735.76 101.81h6.5v6.5h-6.5zM1035.76 101.81h6.5v6.5h-6.5zM861.76 107.81h6.5v6.5h-6.5zM903.76 113.81h6.5v6.5h-6.5zM897.76 119.81h6.5v6.5h-6.5zM879.76 125.81h6.5v6.5h-6.5zM1029.76 125.81h6.5v6.5h-6.5zM735.76 131.81h6.5v6.5h-6.5zM1041.76 131.81h6.5v6.5h-6.5zM1185.76 137.81h6.5v6.5h-6.5zM699.76 161.81h6.5v6.5h-6.5zM705.76 179.81h6.5v6.5h-6.5zM1215.76 185.81h6.5v6.5h-6.5zM1215.76 191.81h6.5v6.5h-6.5zM699.76 209.81h6.5v6.5h-6.5zM1227.76 215.81h24.5v6.5h-24.5zM681.76 239.81h18.5v6.5h-18.5zM681.76 275.81h18.5v6.5h-18.5zM705.76 329.81h6.5v6.5h-6.5zM1197.76 347.81h6.5v6.5h-6.5zM735.76 353.81h6.5v6.5h-6.5zM1173.76 353.81h6.5v6.5h-6.5zM879.76 359.81h18.5v6.5h-18.5zM1035.76 359.81h18.5v6.5h-18.5zM921.76 365.81h6.5v6.5h-6.5zM1005.76 365.81h6.5v6.5h-6.5zM945.76 371.81h6.5v6.5h-6.5zM981.76 371.81h6.5v6.5h-6.5z"/>
<path fill="#e1e1e1" d="M855.76 65.81h6.5v6.5h-6.5zM999.76 65.81h6.5v6.5h-6.5zM1035.76 71.81h6.5v6.5h-6.5zM1095.76 77.81h12.5v6.5h-12.5zM1161.76 83.81h12.5v6.5h-12.5zM705.76 89.81h6.5v6.5h-6.5zM1119.76 89.81h24.5v6.5h-24.5zM1059.76 95.81h6.5v6.5h-6.5zM741.76 101.81h6.5v6.5h-6.5zM867.76 107.81h12.5v6.5h-12.5zM1017.76 107.81h6.5v6.5h-6.5zM885.76 125.81h6.5v6.5h-6.5zM741.76 131.81h12.5v6.5h-12.5zM717.76 137.81h6.5v6.5h-6.5zM1143.76 137.81h42.5v6.5h-42.5zM1221.76 149.81h6.5v6.5h-6.5zM1221.76 173.81h6.5v6.5h-6.5zM699.76 215.81h6.5v6.5h-6.5zM1233.76 221.81h18.5v6.5h-18.5zM681.76 245.81h18.5v6.5h-18.5zM681.76 257.81h18.5v6.5h-18.5zM681.76 263.81h18.5v6.5h-18.5zM681.76 269.81h18.5v6.5h-18.5zM1227.76 299.81h24.5v6.5h-24.5zM699.76 305.81h6.5v6.5h-6.5zM1215.76 329.81h6.5v6.5h-6.5zM1203.76 341.81h6.5v6.5h-6.5zM723.76 347.81h6.5v6.5h-6.5zM1191.76 347.81h6.5v6.5h-6.5zM741.76 353.81h12.5v6.5h-12.5zM1161.76 353.81h12.5v6.5h-12.5zM897.76 359.81h6.5v6.5h-6.5zM1029.76 359.81h6.5v6.5h-6.5zM951.76 371.81h12.5v6.5h-12.5zM975.76 371.81h6.5v6.5h-6.5z"/>
<path fill="#e0e0e0" d="M861.76 65.81h6.5v6.5h-6.5zM735.76 71.81h6.5v6.5h-6.5zM1083.76 77.81h12.5v6.5h-12.5zM1143.76 83.81h18.5v6.5h-18.5zM1101.76 89.81h18.5v6.5h-18.5zM717.76 95.81h6.5v6.5h-6.5zM1053.76 95.81h6.5v6.5h-6.5zM747.76 101.81h12.5v6.5h-12.5zM1029.76 101.81h6.5v6.5h-6.5zM879.76 107.81h6.5v6.5h-6.5zM903.76 119.81h6.5v6.5h-6.5zM1017.76 119.81h6.5v6.5h-6.5zM753.76 131.81h12.5v6.5h-12.5zM1035.76 131.81h6.5v6.5h-6.5zM1077.76 137.81h66.5v6.5h-66.5zM1209.76 143.81h6.5v6.5h-6.5zM1215.76 179.81h6.5v6.5h-6.5zM705.76 197.81h6.5v6.5h-6.5zM1221.76 203.81h6.5v6.5h-6.5zM1227.76 221.81h6.5v6.5h-6.5zM1233.76 227.81h18.5v6.5h-18.5zM681.76 251.81h18.5v6.5h-18.5zM1233.76 293.81h18.5v6.5h-18.5zM1221.76 317.81h6.5v6.5h-6.5zM705.76 323.81h6.5v6.5h-6.5zM711.76 335.81h6.5v6.5h-6.5zM1209.76 335.81h6.5v6.5h-6.5zM717.76 341.81h6.5v6.5h-6.5zM729.76 347.81h6.5v6.5h-6.5zM1185.76 347.81h6.5v6.5h-6.5zM753.76 353.81h12.5v6.5h-12.5zM1143.76 353.81h18.5v6.5h-18.5zM903.76 359.81h6.5v6.5h-6.5zM1023.76 359.81h6.5v6.5h-6.5zM927.76 365.81h6.5v6.5h-6.5zM999.76 365.81h6.5v6.5h-6.5zM963.76 371.81h12.5v6.5h-12.5z"/>
<path fill="#dfdfdf" d="M867.76 65.81h12.5v6.5h-12.5zM993.76 65.81h6.5v6.5h-6.5zM741.76 71.81h6.5v6.5h-6.5zM1029.76 71.81h6.5v6.5h-6.5zM1071.76 77.81h12.5v6.5h-12.5zM1125.76 83.81h18.5v6.5h-18.5zM1089.76 89.81h12.5v6.5h-12.5zM759.76 101.81h6.5v6.5h-6.5zM885.76 107.81h6.5v6.5h-6.5zM909.76 113.81h6.5v6.5h-6.5zM1011.76 113.81h6.5v6.5h-6.5zM891.76 125.81h6.5v6.5h-6.5zM1023.76 125.81h6.5v6.5h-6.5zM765.76 131.81h42.5v6.5h-42.5zM723.76 137.81h6.5v6.5h-6.5zM1059.76 137.81h18.5v6.5h-18.5zM1215.76 197.81h6.5v6.5h-6.5zM699.76 221.81h6.5v6.5h-6.5zM1227.76 227.81h6.5v6.5h-6.5zM1233.76 233.81h18.5v6.5h-18.5zM1227.76 293.81h6.5v6.5h-6.5zM699.76 299.81h6.5v6.5h-6.5zM1197.76 341.81h6.5v6.5h-6.5zM1179.76 347.81h6.5v6.5h-6.5zM765.76 353.81h42.5v6.5h-42.5zM1089.76 353.81h54.5v6.5h-54.5zM909.76 359.81h6.5v6.5h-6.5zM1017.76 359.81h6.5v6.5h-6.5zM933.76 365.81h6.5v6.5h-6.5z"/>
<path fill="#dedede" d="M879.76 65.81h6.5v6.5h-6.5zM747.76 71.81h12.5v6.5h-12.5zM711.76 77.81h6.5v6.5h-6.5zM1065.76 77.81h6.5v6.5h-6.5zM705.76 83.81h6.5v6.5h-6.5zM1107.76 83.81h18.5v6.5h-18.5zM1083.76 89.81h6.5v6.5h-6.5zM1047.76 95.81h6.5v6.5h-6.5zM765.76 101.81h12.5v6.5h-12.5zM891.76 107.81h6.5v6.5h-6.5zM807.76 131.81h66.5v6.5h-66.5zM1053.76 137.81h6.5v6.5h-6.5zM1221.76 167.81h6.5v6.5h-6.5zM705.76 173.81h6.5v6.5h-6.5zM711.76 185.81h6.5v6.5h-6.5zM1209.76 185.81h6.5v6.5h-6.5zM1209.76 191.81h6.5v6.5h-6.5zM699.76 227.81h6.5v6.5h-6.5zM1227.76 233.81h6.5v6.5h-6.5zM1233.76 239.81h18.5v6.5h-18.5zM1227.76 287.81h24.5v6.5h-24.5zM1221.76 311.81h6.5v6.5h-6.5zM1215.76 323.81h6.5v6.5h-6.5zM1203.76 335.81h6.5v6.5h-6.5zM723.76 341.81h6.5v6.5h-6.5zM735.76 347.81h6.5v6.5h-6.5zM1173.76 347.81h6.5v6.5h-6.5zM807.76 353.81h84.5v6.5h-84.5zM1047.76 353.81h42.5v6.5h-42.5zM915.76 359.81h6.5v6.5h-6.5zM1011.76 359.81h6.5v6.5h-6.5zM993.76 365.81h6.5v6.5h-6.5z"/>
<path fill="#dddddd" d="M885.76 65.81h6.5v6.5h-6.5zM759.76 71.81h6.5v6.5h-6.5zM1023.76 71.81h6.5v6.5h-6.5zM1059.76 77.81h6.5v6.5h-6.5zM1095.76 83.81h12.5v6.5h-12.5zM1071.76 89.81h12.5v6.5h-12.5zM723.76 95.81h6.5v6.5h-6.5zM1041.76 95.81h6.5v6.5h-6.5zM777.76 101.81h12.5v6.5h-12.5zM1023.76 101.81h6.5v6.5h-6.5zM1011.76 107.81h6.5v6.5h-6.5zM897.76 125.81h6.5v6.5h-6.5zM873.76 131.81h6.5v6.5h-6.5zM1029.76 131.81h6.5v6.5h-6.5zM729.76 137.81h6.5v6.5h-6.5zM1047.76 137.81h6.5v6.5h-6.5zM711.76 143.81h6.5v6.5h-6.5zM1203.76 143.81h6.5v6.5h-6.5zM705.76 149.81h6.5v6.5h-6.5zM711.76 191.81h6.5v6.5h-6.5zM1221.76 209.81h6.5v6.5h-6.5zM1227.76 239.81h6.5v6.5h-6.5zM1233.76 245.81h18.5v6.5h-18.5zM1233.76 281.81h18.5v6.5h-18.5zM699.76 293.81h6.5v6.5h-6.5zM705.76 317.81h6.5v6.5h-6.5zM711.76 329.81h6.5v6.5h-6.5zM1209.76 329.81h6.5v6.5h-6.5zM717.76 335.81h6.5v6.5h-6.5zM1191.76 341.81h6.5v6.5h-6.5zM741.76 347.81h6.5v6.5h-6.5zM1161.76 347.81h12.5v6.5h-12.5zM891.76 353.81h6.5v6.5h-6.5zM1035.76 353.81h12.5v6.5h-12.5zM939.76 365.81h6.5v6.5h-6.5zM987.76 365.81h6.5v6.5h-6.5z"/>
<path fill="#dcdcdc" d="M891.76 65.81h6.5v6.5h-6.5zM987.76 65.81h6.5v6.5h-6.5zM765.76 71.81h12.5v6.5h-12.5zM1083.76 83.81h12.5v6.5h-12.5zM711.76 89.81h6.5v6.5h-6.5zM1065.76 89.81h6.5v6.5h-6.5zM789.76 101.81h12.5v6.5h-12.5zM897.76 107.81h6.5v6.5h-6.5zM909.76 119.81h6.5v6.5h-6.5zM879.76 131.81h6.5v6.5h-6.5zM1215.76 149.81h6.5v6.5h-6.5zM1221.76 155.81h6.5v6.5h-6.5zM711.76 179.81h6.5v6.5h-6.5zM705.76 203.81h6.5v6.5h-6.5zM699.76 233.81h6.5v6.5h-6.5zM1227.76 245.81h6.5v6.5h-6.5zM1227.76 251.81h24.5v6.5h-24.5zM1233.76 275.81h18.5v6.5h-18.5zM1227.76 281.81h6.5v6.5h-6.5zM699.76 287.81h6.5v6.5h-6.5zM1221.76 305.81h6.5v6.5h-6.5zM729.76 341.81h6.5v6.5h-6.5zM1185.76 341.81h6.5v6.5h-6.5zM747.76 347.81h12.5v6.5h-12.5zM1149.76 347.81h12.5v6.5h-12.5zM897.76 353.81h6.5v6.5h-6.5zM1029.76 353.81h6.5v6.5h-6.5zM921.76 359.81h6.5v6.5h-6.5zM1005.76 359.81h6.5v6.5h-6.5zM945.76 365.81h6.5v6.5h-6.5z"/>
<path fill="#dbdbdb" d="M897.76 65.81h6.5v6.5h-6.5zM777.76 71.81h12.5v6.5h-12.5zM1017.76 71.81h6.5v6.5h-6.5zM1053.76 77.81h6.5v6.5h-6.5zM1077.76 83.81h6.5v6.5h-6.5zM729.76 95.81h6.5v6.5h-6.5zM801.76 101.81h12.5v6.5h-12.5zM915.76 113.81h6.5v6.5h-6.5zM1011.76 119.81h6.5v6.5h-6.5zM885.76 131.81h6.5v6.5h-6.5zM735.76 137.81h6.5v6.5h-6.5zM1041.76 137.81h6.5v6.5h-6.5zM1221.76 161.81h6.5v6.5h-6.5zM705.76 167.81h6.5v6.5h-6.5zM1215.76 173.81h6.5v6.5h-6.5zM1209.76 179.81h6.5v6.5h-6.5zM1203.76 185.81h6.5v6.5h-6.5zM1203.76 191.81h6.5v6.5h-6.5zM1209.76 197.81h6.5v6.5h-6.5zM1215.76 203.81h6.5v6.5h-6.5zM1221.76 215.81h6.5v6.5h-6.5zM699.76 239.81h6.5v6.5h-6.5zM1227.76 257.81h24.5v6.5h-24.5zM1233.76 263.81h18.5v6.5h-18.5zM1233.76 269.81h18.5v6.5h-18.5zM1227.76 275.81h6.5v6.5h-6.5zM699.76 281.81h6.5v6.5h-6.5zM1215.76 317.81h6.5v6.5h-6.5zM1197.76 335.81h6.5v6.5h-6.5zM1179.76 341.81h6.5v6.5h-6.5zM759.76 347.81h18.5v6.5h-18.5zM1125.76 347.81h24.5v6.5h-24.5zM903.76 353.81h6.5v6.5h-6.5zM1023.76 353.81h6.5v6.5h-6.5zM927.76 359.81h6.5v6.5h-6.5zM951.76 365.81h6.5v6.5h-6.5zM981.76 365.81h6.5v6.5h-6.5z"/>
<path fill="#dadada" d="M903.76 65.81h12.5v6.5h-12.5zM981.76 65.81h6.5v6.5h-6.5zM789.76 71.81h6.5v6.5h-6.5zM717.76 77.81h6.5v6.5h-6.5zM1047.76 77.81h6.5v6.5h-6.5zM1071.76 83.81h6.5v6.5h-6.5zM1059.76 89.81h6.5v6.5h-6.5zM1035.76 95.81h6.5v6.5h-6.5zM813.76 101.81h6.5v6.5h-6.5zM1017.76 101.81h6.5v6.5h-6.5zM903.76 107.81h6.5v6.5h-6.5zM1005.76 113.81h6.5v6.5h-6.5zM1017.76 125.81h6.5v6.5h-6.5zM741.76 137.81h6.5v6.5h-6.5zM1197.76 143.81h6.5v6.5h-6.5zM717.76 185.81h6.5v6.5h-6.5zM711.76 197.81h6.5v6.5h-6.5zM1227.76 263.81h6.5v6.5h-6.5zM699.76 269.81h6.5v6.5h-6.5zM1227.76 269.81h6.5v6.5h-6.5zM699.76 275.81h6.5v6.5h-6.5zM705.76 311.81h6.5v6.5h-6.5zM711.76 323.81h6.5v6.5h-6.5zM1209.76 323.81h6.5v6.5h-6.5zM1203.76 329.81h6.5v6.5h-6.5zM723.76 335.81h6.5v6.5h-6.5zM735.76 341.81h6.5v6.5h-6.5zM1173.76 341.81h6.5v6.5h-6.5zM777.76 347.81h102.5v6.5h-102.5zM1059.76 347.81h66.5v6.5h-66.5zM909.76 353.81h6.5v6.5h-6.5zM1017.76 353.81h6.5v6.5h-6.5zM999.76 359.81h6.5v6.5h-6.5zM957.76 365.81h6.5v6.5h-6.5zM969.76 365.81h12.5v6.5h-12.5z"/>
<path fill="#d9d9d9" d="M915.76 65.81h6.5v6.5h-6.5zM795.76 71.81h6.5v6.5h-6.5zM1065.76 83.81h6.5v6.5h-6.5zM1053.76 89.81h6.5v6.5h-6.5zM735.76 95.81h6.5v6.5h-6.5zM819.76 101.81h6.5v6.5h-6.5zM1005.76 107.81h6.5v6.5h-6.5zM903.76 125.81h6.5v6.5h-6.5zM747.76 137.81h12.5v6.5h-12.5zM1035.76 137.81h6.5v6.5h-6.5zM717.76 143.81h6.5v6.5h-6.5zM705.76 155.81h6.5v6.5h-6.5zM705.76 161.81h6.5v6.5h-6.5zM1197.76 185.81h6.5v6.5h-6.5zM717.76 191.81h6.5v6.5h-6.5zM1197.76 191.81h6.5v6.5h-6.5zM705.76 209.81h6.5v6.5h-6.5zM1221.76 221.81h6.5v6.5h-6.5zM699.76 245.81h6.5v6.5h-6.5zM699.76 251.81h6.5v6.5h-6.5zM699.76 257.81h6.5v6.5h-6.5zM699.76 263.81h6.5v6.5h-6.5zM1221.76 299.81h6.5v6.5h-6.5zM717.76 329.81h6.5v6.5h-6.5zM1191.76 335.81h6.5v6.5h-6.5zM741.76 341.81h6.5v6.5h-6.5zM1167.76 341.81h6.5v6.5h-6.5zM879.76 347.81h12.5v6.5h-12.5zM1041.76 347.81h18.5v6.5h-18.5zM933.76 359.81h6.5v6.5h-6.5zM963.76 365.81h6.5v6.5h-6.5z"/>
<path fill="#d8d8d8" d="M975.76 65.81h6.5v6.5h-6.5zM801.76 71.81h6.5v6.5h-6.5zM1011.76 71.81h6.5v6.5h-6.5zM1041.76 77.81h6.5v6.5h-6.5zM711.76 83.81h6.5v6.5h-6.5zM1059.76 83.81h6.5v6.5h-6.5zM741.76 95.81h6.5v6.5h-6.5zM1029.76 95.81h6.5v6.5h-6.5zM825.76 101.81h6.5v6.5h-6.5zM891.76 131.81h6.5v6.5h-6.5zM1023.76 131.81h6.5v6.5h-6.5zM759.76 137.81h12.5v6.5h-12.5zM1107.76 143.81h48.5v6.5h-48.5zM1191.76 143.81h6.5v6.5h-6.5zM711.76 173.81h6.5v6.5h-6.5zM717.76 179.81h6.5v6.5h-6.5zM1203.76 179.81h6.5v6.5h-6.5zM1203.76 197.81h6.5v6.5h-6.5zM1215.76 311.81h6.5v6.5h-6.5zM1197.76 329.81h6.5v6.5h-6.5zM1185.76 335.81h6.5v6.5h-6.5zM747.76 341.81h6.5v6.5h-6.5zM1155.76 341.81h12.5v6.5h-12.5zM891.76 347.81h6.5v6.5h-6.5zM1035.76 347.81h6.5v6.5h-6.5zM915.76 353.81h6.5v6.5h-6.5zM1011.76 353.81h6.5v6.5h-6.5zM993.76 359.81h6.5v6.5h-6.5z"/>
<path fill="#d7d7d7" d="M921.76 65.81h6.5v6.5h-6.5zM807.76 71.81h6.5v6.5h-6.5zM717.76 89.81h6.5v6.5h-6.5zM1047.76 89.81h6.5v6.5h-6.5zM747.76 95.81h6.5v6.5h-6.5zM831.76 101.81h6.5v6.5h-6.5zM909.76 107.81h6.5v6.5h-6.5zM915.76 119.81h6.5v6.5h-6.5zM771.76 137.81h78.5v6.5h-78.5zM1065.76 143.81h42.5v6.5h-42.5zM1155.76 143.81h18.5v6.5h-18.5zM1179.76 143.81h12.5v6.5h-12.5zM1215.76 167.81h6.5v6.5h-6.5zM1209.76 173.81h6.5v6.5h-6.5zM723.76 185.81h6.5v6.5h-6.5zM1191.76 185.81h6.5v6.5h-6.5zM1191.76 191.81h6.5v6.5h-6.5zM1209.76 203.81h6.5v6.5h-6.5zM1215.76 209.81h6.5v6.5h-6.5zM1221.76 227.81h6.5v6.5h-6.5zM1221.76 293.81h6.5v6.5h-6.5zM705.76 305.81h6.5v6.5h-6.5zM711.76 317.81h6.5v6.5h-6.5zM1209.76 317.81h6.5v6.5h-6.5zM1203.76 323.81h6.5v6.5h-6.5zM729.76 335.81h6.5v6.5h-6.5zM1179.76 335.81h6.5v6.5h-6.5zM753.76 341.81h12.5v6.5h-12.5zM1137.76 341.81h18.5v6.5h-18.5zM897.76 347.81h6.5v6.5h-6.5zM1029.76 347.81h6.5v6.5h-6.5zM939.76 359.81h6.5v6.5h-6.5z"/>
<path fill="#d6d6d6" d="M927.76 65.81h6.5v6.5h-6.5zM969.76 65.81h6.5v6.5h-6.5zM813.76 71.81h6.5v6.5h-6.5zM723.76 77.81h6.5v6.5h-6.5zM1035.76 77.81h6.5v6.5h-6.5zM1053.76 83.81h6.5v6.5h-6.5zM753.76 95.81h6.5v6.5h-6.5zM837.76 101.81h6.5v6.5h-6.5zM1011.76 101.81h6.5v6.5h-6.5zM921.76 113.81h6.5v6.5h-6.5zM849.76 137.81h18.5v6.5h-18.5zM723.76 143.81h6.5v6.5h-6.5zM1059.76 143.81h6.5v6.5h-6.5zM1173.76 143.81h6.5v6.5h-6.5zM711.76 149.81h6.5v6.5h-6.5zM1209.76 149.81h6.5v6.5h-6.5zM723.76 191.81h6.5v6.5h-6.5zM705.76 215.81h6.5v6.5h-6.5zM1221.76 233.81h6.5v6.5h-6.5zM1215.76 305.81h6.5v6.5h-6.5zM723.76 329.81h6.5v6.5h-6.5zM1191.76 329.81h6.5v6.5h-6.5zM735.76 335.81h6.5v6.5h-6.5zM1173.76 335.81h6.5v6.5h-6.5zM765.76 341.81h30.5v6.5h-30.5zM1095.76 341.81h42.5v6.5h-42.5zM903.76 347.81h6.5v6.5h-6.5zM1023.76 347.81h6.5v6.5h-6.5zM921.76 353.81h6.5v6.5h-6.5zM1005.76 353.81h6.5v6.5h-6.5zM987.76 359.81h6.5v6.5h-6.5z"/>
<path fill="#d5d5d5" d="M933.76 65.81h12.5v6.5h-12.5zM963.76 65.81h6.5v6.5h-6.5zM819.76 71.81h6.5v6.5h-6.5zM1005.76 71.81h6.5v6.5h-6.5zM1047.76 83.81h6.5v6.5h-6.5zM1041.76 89.81h6.5v6.5h-6.5zM759.76 95.81h6.5v6.5h-6.5zM843.76 101.81h6.5v6.5h-6.5zM1005.76 119.81h6.5v6.5h-6.5zM909.76 125.81h6.5v6.5h-6.5zM897.76 131.81h6.5v6.5h-6.5zM867.76 137.81h12.5v6.5h-12.5zM1029.76 137.81h6.5v6.5h-6.5zM1053.76 143.81h6.5v6.5h-6.5zM1215.76 155.81h6.5v6.5h-6.5zM1197.76 179.81h6.5v6.5h-6.5zM1185.76 185.81h6.5v6.5h-6.5zM1185.76 191.81h6.5v6.5h-6.5zM717.76 197.81h6.5v6.5h-6.5zM1197.76 197.81h6.5v6.5h-6.5zM711.76 203.81h6.5v6.5h-6.5zM1215.76 215.81h6.5v6.5h-6.5zM1221.76 239.81h6.5v6.5h-6.5zM1221.76 287.81h6.5v6.5h-6.5zM705.76 299.81h6.5v6.5h-6.5zM717.76 323.81h6.5v6.5h-6.5zM1167.76 335.81h6.5v6.5h-6.5zM795.76 341.81h90.5v6.5h-90.5zM1053.76 341.81h42.5v6.5h-42.5zM945.76 359.81h6.5v6.5h-6.5zM981.76 359.81h6.5v6.5h-6.5z"/>
<path fill="#d4d4d4" d="M945.76 65.81h18.5v6.5h-18.5zM825.76 71.81h6.5v6.5h-6.5zM729.76 77.81h6.5v6.5h-6.5zM723.76 89.81h6.5v6.5h-6.5zM765.76 95.81h6.5v6.5h-6.5zM1023.76 95.81h6.5v6.5h-6.5zM849.76 101.81h6.5v6.5h-6.5zM915.76 107.81h6.5v6.5h-6.5zM999.76 113.81h6.5v6.5h-6.5zM1011.76 125.81h6.5v6.5h-6.5zM729.76 143.81h6.5v6.5h-6.5zM1047.76 143.81h6.5v6.5h-6.5zM1215.76 161.81h6.5v6.5h-6.5zM711.76 167.81h6.5v6.5h-6.5zM723.76 179.81h6.5v6.5h-6.5zM729.76 185.81h6.5v6.5h-6.5zM1179.76 185.81h6.5v6.5h-6.5zM1179.76 191.81h6.5v6.5h-6.5zM705.76 221.81h6.5v6.5h-6.5zM1221.76 245.81h6.5v6.5h-6.5zM1221.76 281.81h6.5v6.5h-6.5zM1209.76 311.81h6.5v6.5h-6.5zM1203.76 317.81h6.5v6.5h-6.5zM1197.76 323.81h6.5v6.5h-6.5zM1185.76 329.81h6.5v6.5h-6.5zM741.76 335.81h6.5v6.5h-6.5zM1161.76 335.81h6.5v6.5h-6.5zM885.76 341.81h6.5v6.5h-6.5zM1041.76 341.81h12.5v6.5h-12.5zM909.76 347.81h6.5v6.5h-6.5zM1017.76 347.81h6.5v6.5h-6.5zM927.76 353.81h6.5v6.5h-6.5z"/>
<path fill="#d3d3d3" d="M831.76 71.81h6.5v6.5h-6.5zM1029.76 77.81h6.5v6.5h-6.5zM717.76 83.81h6.5v6.5h-6.5zM1035.76 89.81h6.5v6.5h-6.5zM771.76 95.81h12.5v6.5h-12.5zM855.76 101.81h6.5v6.5h-6.5zM999.76 107.81h6.5v6.5h-6.5zM879.76 137.81h6.5v6.5h-6.5zM717.76 173.81h6.5v6.5h-6.5zM1191.76 179.81h6.5v6.5h-6.5zM735.76 185.81h6.5v6.5h-6.5zM1167.76 185.81h12.5v6.5h-12.5zM729.76 191.81h6.5v6.5h-6.5zM1173.76 191.81h6.5v6.5h-6.5zM1191.76 197.81h6.5v6.5h-6.5zM1203.76 203.81h6.5v6.5h-6.5zM1209.76 209.81h6.5v6.5h-6.5zM1221.76 251.81h6.5v6.5h-6.5zM1215.76 299.81h6.5v6.5h-6.5zM711.76 311.81h6.5v6.5h-6.5zM729.76 329.81h6.5v6.5h-6.5zM1179.76 329.81h6.5v6.5h-6.5zM747.76 335.81h12.5v6.5h-12.5zM1149.76 335.81h12.5v6.5h-12.5zM891.76 341.81h6.5v6.5h-6.5zM1035.76 341.81h6.5v6.5h-6.5zM999.76 353.81h6.5v6.5h-6.5zM951.76 359.81h6.5v6.5h-6.5zM975.76 359.81h6.5v6.5h-6.5z"/>
<path fill="#d2d2d2" d="M999.76 71.81h6.5v6.5h-6.5zM735.76 77.81h6.5v6.5h-6.5zM1041.76 83.81h6.5v6.5h-6.5zM783.76 95.81h6.5v6.5h-6.5zM861.76 101.81h6.5v6.5h-6.5zM921.76 119.81h6.5v6.5h-6.5zM1017.76 131.81h6.5v6.5h-6.5zM735.76 143.81h6.5v6.5h-6.5zM1041.76 143.81h6.5v6.5h-6.5zM1203.76 149.81h6.5v6.5h-6.5zM711.76 155.81h6.5v6.5h-6.5zM1203.76 173.81h6.5v6.5h-6.5zM729.76 179.81h6.5v6.5h-6.5zM1185.76 179.81h6.5v6.5h-6.5zM1155.76 185.81h12.5v6.5h-12.5zM1167.76 191.81h6.5v6.5h-6.5zM723.76 197.81h6.5v6.5h-6.5zM1215.76 221.81h6.5v6.5h-6.5zM705.76 227.81h6.5v6.5h-6.5zM1221.76 257.81h6.5v6.5h-6.5zM1221.76 275.81h6.5v6.5h-6.5zM705.76 293.81h6.5v6.5h-6.5zM717.76 317.81h6.5v6.5h-6.5zM723.76 323.81h6.5v6.5h-6.5zM1191.76 323.81h6.5v6.5h-6.5zM759.76 335.81h12.5v6.5h-12.5zM1125.76 335.81h24.5v6.5h-24.5zM897.76 341.81h6.5v6.5h-6.5zM1029.76 341.81h6.5v6.5h-6.5zM915.76 347.81h6.5v6.5h-6.5zM1011.76 347.81h6.5v6.5h-6.5zM957.76 359.81h18.5v6.5h-18.5z"/>
<path fill="#d1d1d1" d="M837.76 71.81h6.5v6.5h-6.5zM729.76 89.81h6.5v6.5h-6.5zM789.76 95.81h6.5v6.5h-6.5zM1017.76 95.81h6.5v6.5h-6.5zM867.76 101.81h6.5v6.5h-6.5zM1005.76 101.81h6.5v6.5h-6.5zM927.76 113.81h6.5v6.5h-6.5zM903.76 131.81h6.5v6.5h-6.5zM885.76 137.81h6.5v6.5h-6.5zM717.76 149.81h6.5v6.5h-6.5zM711.76 161.81h6.5v6.5h-6.5zM1209.76 167.81h6.5v6.5h-6.5zM1179.76 179.81h6.5v6.5h-6.5zM741.76 185.81h6.5v6.5h-6.5zM1131.76 185.81h24.5v6.5h-24.5zM735.76 191.81h6.5v6.5h-6.5zM1155.76 191.81h12.5v6.5h-12.5zM1185.76 197.81h6.5v6.5h-6.5zM711.76 209.81h6.5v6.5h-6.5zM1215.76 227.81h6.5v6.5h-6.5zM705.76 233.81h6.5v6.5h-6.5zM1221.76 263.81h6.5v6.5h-6.5zM1221.76 269.81h6.5v6.5h-6.5zM705.76 287.81h6.5v6.5h-6.5zM1215.76 293.81h6.5v6.5h-6.5zM1209.76 305.81h6.5v6.5h-6.5zM1197.76 317.81h6.5v6.5h-6.5zM735.76 329.81h6.5v6.5h-6.5zM1173.76 329.81h6.5v6.5h-6.5zM771.76 335.81h30.5v6.5h-30.5zM1071.76 335.81h54.5v6.5h-54.5zM903.76 341.81h6.5v6.5h-6.5zM933.76 353.81h6.5v6.5h-6.5zM993.76 353.81h6.5v6.5h-6.5z"/>
<path fill="#d0d0d0" d="M843.76 71.81h6.5v6.5h-6.5zM741.76 77.81h6.5v6.5h-6.5zM1023.76 77.81h6.5v6.5h-6.5zM723.76 83.81h6.5v6.5h-6.5zM1035.76 83.81h6.5v6.5h-6.5zM1029.76 89.81h6.5v6.5h-6.5zM795.76 95.81h6.5v6.5h-6.5zM921.76 107.81h6.5v6.5h-6.5zM1023.76 137.81h6.5v6.5h-6.5zM741.76 143.81h6.5v6.5h-6.5zM723.76 173.81h6.5v6.5h-6.5zM735.76 179.81h6.5v6.5h-6.5zM1149.76 179.81h30.5v6.5h-30.5zM747.76 185.81h6.5v6.5h-6.5zM1089.76 185.81h42.5v6.5h-42.5zM741.76 191.81h6.5v6.5h-6.5zM1143.76 191.81h12.5v6.5h-12.5zM1179.76 197.81h6.5v6.5h-6.5zM717.76 203.81h6.5v6.5h-6.5zM1197.76 203.81h6.5v6.5h-6.5zM1209.76 215.81h6.5v6.5h-6.5zM711.76 305.81h6.5v6.5h-6.5zM1203.76 311.81h6.5v6.5h-6.5zM1185.76 323.81h6.5v6.5h-6.5zM741.76 329.81h6.5v6.5h-6.5zM1161.76 329.81h12.5v6.5h-12.5zM801.76 335.81h84.5v6.5h-84.5zM1047.76 335.81h24.5v6.5h-24.5zM1023.76 341.81h6.5v6.5h-6.5zM921.76 347.81h6.5v6.5h-6.5z"/>
<path fill="#cfcfcf" d="M747.76 77.81h6.5v6.5h-6.5zM735.76 89.81h6.5v6.5h-6.5zM801.76 95.81h6.5v6.5h-6.5zM873.76 101.81h6.5v6.5h-6.5zM915.76 125.81h6.5v6.5h-6.5zM747.76 143.81h6.5v6.5h-6.5zM1035.76 143.81h6.5v6.5h-6.5zM1077.76 149.81h72.5v6.5h-72.5zM1197.76 149.81h6.5v6.5h-6.5zM1209.76 155.81h6.5v6.5h-6.5zM717.76 167.81h6.5v6.5h-6.5zM1197.76 173.81h6.5v6.5h-6.5zM1101.76 179.81h48.5v6.5h-48.5zM753.76 185.81h12.5v6.5h-12.5zM1065.76 185.81h24.5v6.5h-24.5zM747.76 191.81h6.5v6.5h-6.5zM1119.76 191.81h24.5v6.5h-24.5zM729.76 197.81h6.5v6.5h-6.5zM1173.76 197.81h6.5v6.5h-6.5zM1203.76 209.81h6.5v6.5h-6.5zM711.76 215.81h6.5v6.5h-6.5zM1215.76 233.81h6.5v6.5h-6.5zM705.76 239.81h6.5v6.5h-6.5zM705.76 281.81h6.5v6.5h-6.5zM1215.76 287.81h6.5v6.5h-6.5zM729.76 323.81h6.5v6.5h-6.5zM1179.76 323.81h6.5v6.5h-6.5zM747.76 329.81h6.5v6.5h-6.5zM1155.76 329.81h6.5v6.5h-6.5zM885.76 335.81h6.5v6.5h-6.5zM1041.76 335.81h6.5v6.5h-6.5zM909.76 341.81h6.5v6.5h-6.5zM1005.76 347.81h6.5v6.5h-6.5zM939.76 353.81h6.5v6.5h-6.5z"/>
<path fill="#cecece" d="M849.76 71.81h6.5v6.5h-6.5zM993.76 71.81h6.5v6.5h-6.5zM753.76 77.81h6.5v6.5h-6.5zM807.76 95.81h6.5v6.5h-6.5zM879.76 101.81h6.5v6.5h-6.5zM993.76 107.81h6.5v6.5h-6.5zM993.76 113.81h6.5v6.5h-6.5zM999.76 119.81h6.5v6.5h-6.5zM891.76 137.81h6.5v6.5h-6.5zM753.76 143.81h12.5v6.5h-12.5zM723.76 149.81h6.5v6.5h-6.5zM1065.76 149.81h12.5v6.5h-12.5zM1149.76 149.81h6.5v6.5h-6.5zM1209.76 161.81h6.5v6.5h-6.5zM741.76 179.81h6.5v6.5h-6.5zM1071.76 179.81h30.5v6.5h-30.5zM765.76 185.81h18.5v6.5h-18.5zM1059.76 185.81h6.5v6.5h-6.5zM753.76 191.81h6.5v6.5h-6.5zM1077.76 191.81h42.5v6.5h-42.5zM1167.76 197.81h6.5v6.5h-6.5zM1191.76 203.81h6.5v6.5h-6.5zM1215.76 239.81h6.5v6.5h-6.5zM705.76 275.81h6.5v6.5h-6.5zM1209.76 299.81h6.5v6.5h-6.5zM717.76 311.81h6.5v6.5h-6.5zM723.76 317.81h6.5v6.5h-6.5zM1191.76 317.81h6.5v6.5h-6.5zM753.76 329.81h6.5v6.5h-6.5zM1137.76 329.81h18.5v6.5h-18.5zM891.76 335.81h6.5v6.5h-6.5zM1035.76 335.81h6.5v6.5h-6.5zM1017.76 341.81h6.5v6.5h-6.5zM987.76 353.81h6.5v6.5h-6.5z"/>
<path fill="#cdcdcd" d="M855.76 71.81h6.5v6.5h-6.5zM759.76 77.81h6.5v6.5h-6.5zM1017.76 77.81h6.5v6.5h-6.5zM729.76 83.81h6.5v6.5h-6.5zM1029.76 83.81h6.5v6.5h-6.5zM741.76 89.81h6.5v6.5h-6.5zM885.76 101.81h6.5v6.5h-6.5zM765.76 143.81h18.5v6.5h-18.5zM1053.76 149.81h12.5v6.5h-12.5zM1155.76 149.81h6.5v6.5h-6.5zM729.76 173.81h6.5v6.5h-6.5zM1113.76 173.81h36.5v6.5h-36.5zM1191.76 173.81h6.5v6.5h-6.5zM747.76 179.81h6.5v6.5h-6.5zM1059.76 179.81h12.5v6.5h-12.5zM783.76 185.81h72.5v6.5h-72.5zM1053.76 185.81h6.5v6.5h-6.5zM759.76 191.81h12.5v6.5h-12.5zM1065.76 191.81h12.5v6.5h-12.5zM735.76 197.81h6.5v6.5h-6.5zM1161.76 197.81h6.5v6.5h-6.5zM1209.76 221.81h6.5v6.5h-6.5zM705.76 245.81h6.5v6.5h-6.5zM1215.76 245.81h6.5v6.5h-6.5zM705.76 263.81h6.5v6.5h-6.5zM705.76 269.81h6.5v6.5h-6.5zM1215.76 281.81h6.5v6.5h-6.5zM1203.76 305.81h6.5v6.5h-6.5zM1197.76 311.81h6.5v6.5h-6.5zM735.76 323.81h6.5v6.5h-6.5zM1173.76 323.81h6.5v6.5h-6.5zM759.76 329.81h12.5v6.5h-12.5zM1113.76 329.81h24.5v6.5h-24.5zM897.76 335.81h6.5v6.5h-6.5zM1029.76 335.81h6.5v6.5h-6.5zM927.76 347.81h6.5v6.5h-6.5zM945.76 353.81h6.5v6.5h-6.5z"/>
<path fill="#cccccc" d="M765.76 77.81h6.5v6.5h-6.5zM747.76 89.81h6.5v6.5h-6.5zM1023.76 89.81h6.5v6.5h-6.5zM813.76 95.81h6.5v6.5h-6.5zM1011.76 95.81h6.5v6.5h-6.5zM927.76 107.81h6.5v6.5h-6.5zM927.76 119.81h6.5v6.5h-6.5zM1005.76 125.81h6.5v6.5h-6.5zM783.76 143.81h72.5v6.5h-72.5zM1161.76 149.81h6.5v6.5h-6.5zM1191.76 149.81h6.5v6.5h-6.5zM717.76 155.81h6.5v6.5h-6.5zM717.76 161.81h6.5v6.5h-6.5zM1203.76 167.81h6.5v6.5h-6.5zM1071.76 173.81h42.5v6.5h-42.5zM1149.76 173.81h12.5v6.5h-12.5zM753.76 179.81h12.5v6.5h-12.5zM1053.76 179.81h6.5v6.5h-6.5zM855.76 185.81h12.5v6.5h-12.5zM771.76 191.81h30.5v6.5h-30.5zM1059.76 191.81h6.5v6.5h-6.5zM1155.76 197.81h6.5v6.5h-6.5zM723.76 203.81h6.5v6.5h-6.5zM1185.76 203.81h6.5v6.5h-6.5zM717.76 209.81h6.5v6.5h-6.5zM1203.76 215.81h6.5v6.5h-6.5zM711.76 221.81h6.5v6.5h-6.5zM705.76 251.81h6.5v6.5h-6.5zM705.76 257.81h6.5v6.5h-6.5zM711.76 299.81h6.5v6.5h-6.5zM1185.76 317.81h6.5v6.5h-6.5zM1167.76 323.81h6.5v6.5h-6.5zM771.76 329.81h30.5v6.5h-30.5zM849.76 329.81h24.5v6.5h-24.5zM1059.76 329.81h54.5v6.5h-54.5zM915.76 341.81h6.5v6.5h-6.5zM999.76 347.81h6.5v6.5h-6.5zM981.76 353.81h6.5v6.5h-6.5z"/>
<path fill="#cbcbcb" d="M861.76 71.81h6.5v6.5h-6.5zM771.76 77.81h6.5v6.5h-6.5zM753.76 89.81h6.5v6.5h-6.5zM819.76 95.81h6.5v6.5h-6.5zM891.76 101.81h6.5v6.5h-6.5zM999.76 101.81h6.5v6.5h-6.5zM933.76 113.81h6.5v6.5h-6.5zM909.76 131.81h6.5v6.5h-6.5zM1011.76 131.81h6.5v6.5h-6.5zM855.76 143.81h12.5v6.5h-12.5zM1029.76 143.81h6.5v6.5h-6.5zM729.76 149.81h6.5v6.5h-6.5zM1047.76 149.81h6.5v6.5h-6.5zM1167.76 149.81h12.5v6.5h-12.5zM1185.76 149.81h6.5v6.5h-6.5zM723.76 167.81h6.5v6.5h-6.5zM735.76 173.81h6.5v6.5h-6.5zM1059.76 173.81h12.5v6.5h-12.5zM1161.76 173.81h12.5v6.5h-12.5zM1185.76 173.81h6.5v6.5h-6.5zM765.76 179.81h12.5v6.5h-12.5zM867.76 185.81h6.5v6.5h-6.5zM1047.76 185.81h6.5v6.5h-6.5zM801.76 191.81h66.5v6.5h-66.5zM1053.76 191.81h6.5v6.5h-6.5zM741.76 197.81h6.5v6.5h-6.5zM1137.76 197.81h18.5v6.5h-18.5zM1197.76 209.81h6.5v6.5h-6.5zM1209.76 227.81h6.5v6.5h-6.5zM1215.76 251.81h6.5v6.5h-6.5zM1215.76 275.81h6.5v6.5h-6.5zM1209.76 293.81h6.5v6.5h-6.5zM729.76 317.81h6.5v6.5h-6.5zM1179.76 317.81h6.5v6.5h-6.5zM741.76 323.81h6.5v6.5h-6.5zM1155.76 323.81h12.5v6.5h-12.5zM801.76 329.81h48.5v6.5h-48.5zM873.76 329.81h12.5v6.5h-12.5zM1047.76 329.81h12.5v6.5h-12.5zM903.76 335.81h6.5v6.5h-6.5zM1023.76 335.81h6.5v6.5h-6.5zM1011.76 341.81h6.5v6.5h-6.5zM951.76 353.81h6.5v6.5h-6.5z"/>
<path fill="#cacaca" d="M987.76 71.81h6.5v6.5h-6.5zM777.76 77.81h6.5v6.5h-6.5zM735.76 83.81h6.5v6.5h-6.5zM867.76 143.81h6.5v6.5h-6.5zM1179.76 149.81h6.5v6.5h-6.5zM1113.76 155.81h24.5v6.5h-24.5zM1203.76 155.81h6.5v6.5h-6.5zM1083.76 167.81h66.5v6.5h-66.5zM1173.76 173.81h12.5v6.5h-12.5zM777.76 179.81h66.5v6.5h-66.5zM1047.76 179.81h6.5v6.5h-6.5zM873.76 185.81h6.5v6.5h-6.5zM867.76 191.81h6.5v6.5h-6.5zM747.76 197.81h6.5v6.5h-6.5zM1119.76 197.81h18.5v6.5h-18.5zM1179.76 203.81h6.5v6.5h-6.5zM711.76 227.81h6.5v6.5h-6.5zM1215.76 257.81h6.5v6.5h-6.5zM1215.76 263.81h6.5v6.5h-6.5zM1215.76 269.81h6.5v6.5h-6.5zM711.76 293.81h6.5v6.5h-6.5zM1203.76 299.81h6.5v6.5h-6.5zM717.76 305.81h6.5v6.5h-6.5zM723.76 311.81h6.5v6.5h-6.5zM1191.76 311.81h6.5v6.5h-6.5zM747.76 323.81h6.5v6.5h-6.5zM1149.76 323.81h6.5v6.5h-6.5zM885.76 329.81h6.5v6.5h-6.5zM1041.76 329.81h6.5v6.5h-6.5zM975.76 353.81h6.5v6.5h-6.5z"/>
<path fill="#c9c9c9" d="M867.76 71.81h6.5v6.5h-6.5zM783.76 77.81h6.5v6.5h-6.5zM1011.76 77.81h6.5v6.5h-6.5zM1023.76 83.81h6.5v6.5h-6.5zM759.76 89.81h6.5v6.5h-6.5zM825.76 95.81h6.5v6.5h-6.5zM897.76 101.81h6.5v6.5h-6.5zM897.76 137.81h6.5v6.5h-6.5zM1017.76 137.81h6.5v6.5h-6.5zM873.76 143.81h6.5v6.5h-6.5zM1041.76 149.81h6.5v6.5h-6.5zM1071.76 155.81h42.5v6.5h-42.5zM1137.76 155.81h12.5v6.5h-12.5zM1107.76 161.81h30.5v6.5h-30.5zM1065.76 167.81h18.5v6.5h-18.5zM1149.76 167.81h6.5v6.5h-6.5zM741.76 173.81h6.5v6.5h-6.5zM1053.76 173.81h6.5v6.5h-6.5zM843.76 179.81h24.5v6.5h-24.5zM873.76 191.81h6.5v6.5h-6.5zM1047.76 191.81h6.5v6.5h-6.5zM753.76 197.81h6.5v6.5h-6.5zM1077.76 197.81h42.5v6.5h-42.5zM729.76 203.81h6.5v6.5h-6.5zM1173.76 203.81h6.5v6.5h-6.5zM1191.76 209.81h6.5v6.5h-6.5zM717.76 215.81h6.5v6.5h-6.5zM1203.76 221.81h6.5v6.5h-6.5zM1209.76 233.81h6.5v6.5h-6.5zM1209.76 287.81h6.5v6.5h-6.5zM1197.76 305.81h6.5v6.5h-6.5zM735.76 317.81h6.5v6.5h-6.5zM1173.76 317.81h6.5v6.5h-6.5zM753.76 323.81h6.5v6.5h-6.5zM1131.76 323.81h18.5v6.5h-18.5zM891.76 329.81h6.5v6.5h-6.5zM1035.76 329.81h6.5v6.5h-6.5zM909.76 335.81h6.5v6.5h-6.5zM921.76 341.81h6.5v6.5h-6.5zM933.76 347.81h6.5v6.5h-6.5zM993.76 347.81h6.5v6.5h-6.5zM957.76 353.81h18.5v6.5h-18.5z"/>
<path fill="#c8c8c8" d="M873.76 71.81h6.5v6.5h-6.5zM789.76 77.81h6.5v6.5h-6.5zM741.76 83.81h6.5v6.5h-6.5zM765.76 89.81h6.5v6.5h-6.5zM1017.76 89.81h6.5v6.5h-6.5zM831.76 95.81h6.5v6.5h-6.5zM987.76 107.81h6.5v6.5h-6.5zM987.76 113.81h6.5v6.5h-6.5zM921.76 125.81h6.5v6.5h-6.5zM735.76 149.81h6.5v6.5h-6.5zM723.76 155.81h6.5v6.5h-6.5zM1059.76 155.81h12.5v6.5h-12.5zM1149.76 155.81h6.5v6.5h-6.5zM1071.76 161.81h36.5v6.5h-36.5zM1137.76 161.81h12.5v6.5h-12.5zM1203.76 161.81h6.5v6.5h-6.5zM1059.76 167.81h6.5v6.5h-6.5zM1155.76 167.81h6.5v6.5h-6.5zM1197.76 167.81h6.5v6.5h-6.5zM747.76 173.81h6.5v6.5h-6.5zM1047.76 173.81h6.5v6.5h-6.5zM867.76 179.81h6.5v6.5h-6.5zM879.76 185.81h6.5v6.5h-6.5zM1041.76 185.81h6.5v6.5h-6.5zM759.76 197.81h12.5v6.5h-12.5zM1065.76 197.81h12.5v6.5h-12.5zM1167.76 203.81h6.5v6.5h-6.5zM1197.76 215.81h6.5v6.5h-6.5zM711.76 233.81h6.5v6.5h-6.5zM1209.76 239.81h6.5v6.5h-6.5zM711.76 287.81h6.5v6.5h-6.5zM1185.76 311.81h6.5v6.5h-6.5zM1167.76 317.81h6.5v6.5h-6.5zM759.76 323.81h12.5v6.5h-12.5zM1095.76 323.81h36.5v6.5h-36.5zM897.76 329.81h6.5v6.5h-6.5zM1029.76 329.81h6.5v6.5h-6.5zM1017.76 335.81h6.5v6.5h-6.5zM1005.76 341.81h6.5v6.5h-6.5z"/>
<path fill="#c7c7c7" d="M795.76 77.81h6.5v6.5h-6.5zM747.76 83.81h6.5v6.5h-6.5zM771.76 89.81h6.5v6.5h-6.5zM903.76 101.81h6.5v6.5h-6.5zM933.76 107.81h6.5v6.5h-6.5zM993.76 119.81h6.5v6.5h-6.5zM741.76 149.81h6.5v6.5h-6.5zM1053.76 155.81h6.5v6.5h-6.5zM723.76 161.81h6.5v6.5h-6.5zM1059.76 161.81h12.5v6.5h-12.5zM1149.76 161.81h6.5v6.5h-6.5zM729.76 167.81h6.5v6.5h-6.5zM1053.76 167.81h6.5v6.5h-6.5zM753.76 173.81h6.5v6.5h-6.5zM1041.76 179.81h6.5v6.5h-6.5zM879.76 191.81h6.5v6.5h-6.5zM1041.76 191.81h6.5v6.5h-6.5zM771.76 197.81h30.5v6.5h-30.5zM1059.76 197.81h6.5v6.5h-6.5zM735.76 203.81h6.5v6.5h-6.5zM1161.76 203.81h6.5v6.5h-6.5zM723.76 209.81h6.5v6.5h-6.5zM1185.76 209.81h6.5v6.5h-6.5zM1203.76 227.81h6.5v6.5h-6.5zM1209.76 245.81h6.5v6.5h-6.5zM1209.76 281.81h6.5v6.5h-6.5zM1203.76 293.81h6.5v6.5h-6.5zM1191.76 305.81h6.5v6.5h-6.5zM729.76 311.81h6.5v6.5h-6.5zM1179.76 311.81h6.5v6.5h-6.5zM741.76 317.81h6.5v6.5h-6.5zM1161.76 317.81h6.5v6.5h-6.5zM771.76 323.81h30.5v6.5h-30.5zM837.76 323.81h42.5v6.5h-42.5zM1053.76 323.81h42.5v6.5h-42.5z"/>
<path fill="#c6c6c6" d="M879.76 71.81h6.5v6.5h-6.5zM981.76 71.81h6.5v6.5h-6.5zM801.76 77.81h6.5v6.5h-6.5zM753.76 83.81h6.5v6.5h-6.5zM777.76 89.81h6.5v6.5h-6.5zM837.76 95.81h6.5v6.5h-6.5zM1005.76 95.81h6.5v6.5h-6.5zM939.76 113.81h6.5v6.5h-6.5zM879.76 143.81h6.5v6.5h-6.5zM1155.76 155.81h6.5v6.5h-6.5zM1197.76 155.81h6.5v6.5h-6.5zM1053.76 161.81h6.5v6.5h-6.5zM1161.76 167.81h6.5v6.5h-6.5zM759.76 173.81h6.5v6.5h-6.5zM873.76 179.81h6.5v6.5h-6.5zM801.76 197.81h66.5v6.5h-66.5zM1053.76 197.81h6.5v6.5h-6.5zM1155.76 203.81h6.5v6.5h-6.5zM717.76 221.81h6.5v6.5h-6.5zM711.76 281.81h6.5v6.5h-6.5zM717.76 299.81h6.5v6.5h-6.5zM1197.76 299.81h6.5v6.5h-6.5zM747.76 317.81h6.5v6.5h-6.5zM1149.76 317.81h12.5v6.5h-12.5zM801.76 323.81h36.5v6.5h-36.5zM879.76 323.81h6.5v6.5h-6.5zM1047.76 323.81h6.5v6.5h-6.5zM903.76 329.81h6.5v6.5h-6.5zM1023.76 329.81h6.5v6.5h-6.5zM915.76 335.81h6.5v6.5h-6.5zM939.76 347.81h6.5v6.5h-6.5zM987.76 347.81h6.5v6.5h-6.5z"/>
<path fill="#c5c5c5" d="M885.76 71.81h6.5v6.5h-6.5zM1017.76 83.81h6.5v6.5h-6.5zM783.76 89.81h6.5v6.5h-6.5zM993.76 101.81h6.5v6.5h-6.5zM933.76 119.81h6.5v6.5h-6.5zM1023.76 143.81h6.5v6.5h-6.5zM747.76 149.81h6.5v6.5h-6.5zM1035.76 149.81h6.5v6.5h-6.5zM729.76 155.81h6.5v6.5h-6.5zM1047.76 155.81h6.5v6.5h-6.5zM1161.76 155.81h6.5v6.5h-6.5zM1155.76 161.81h6.5v6.5h-6.5zM735.76 167.81h6.5v6.5h-6.5zM1047.76 167.81h6.5v6.5h-6.5zM1167.76 167.81h6.5v6.5h-6.5zM1191.76 167.81h6.5v6.5h-6.5zM765.76 173.81h18.5v6.5h-18.5zM1041.76 173.81h6.5v6.5h-6.5zM885.76 185.81h6.5v6.5h-6.5zM867.76 197.81h6.5v6.5h-6.5zM741.76 203.81h6.5v6.5h-6.5zM1143.76 203.81h12.5v6.5h-12.5zM1179.76 209.81h6.5v6.5h-6.5zM1191.76 215.81h6.5v6.5h-6.5zM1197.76 221.81h6.5v6.5h-6.5zM1203.76 233.81h6.5v6.5h-6.5zM711.76 239.81h6.5v6.5h-6.5zM1209.76 251.81h6.5v6.5h-6.5zM711.76 275.81h6.5v6.5h-6.5zM1209.76 275.81h6.5v6.5h-6.5zM723.76 305.81h6.5v6.5h-6.5zM1173.76 311.81h6.5v6.5h-6.5zM753.76 317.81h6.5v6.5h-6.5zM1137.76 317.81h12.5v6.5h-12.5zM885.76 323.81h6.5v6.5h-6.5zM1041.76 323.81h6.5v6.5h-6.5zM1011.76 335.81h6.5v6.5h-6.5zM927.76 341.81h6.5v6.5h-6.5zM999.76 341.81h6.5v6.5h-6.5z"/>
<path fill="#c4c4c4" d="M807.76 77.81h6.5v6.5h-6.5zM1005.76 77.81h6.5v6.5h-6.5zM759.76 83.81h6.5v6.5h-6.5zM789.76 89.81h6.5v6.5h-6.5zM843.76 95.81h6.5v6.5h-6.5zM909.76 101.81h6.5v6.5h-6.5zM999.76 125.81h6.5v6.5h-6.5zM915.76 131.81h6.5v6.5h-6.5zM903.76 137.81h6.5v6.5h-6.5zM753.76 149.81h12.5v6.5h-12.5zM729.76 161.81h6.5v6.5h-6.5zM1047.76 161.81h6.5v6.5h-6.5zM1197.76 161.81h6.5v6.5h-6.5zM1173.76 167.81h18.5v6.5h-18.5zM783.76 173.81h60.5v6.5h-60.5zM1035.76 185.81h6.5v6.5h-6.5zM885.76 191.81h6.5v6.5h-6.5zM873.76 197.81h6.5v6.5h-6.5zM1047.76 197.81h6.5v6.5h-6.5zM747.76 203.81h6.5v6.5h-6.5zM1131.76 203.81h12.5v6.5h-12.5zM729.76 209.81h6.5v6.5h-6.5zM723.76 215.81h6.5v6.5h-6.5zM1209.76 257.81h6.5v6.5h-6.5zM711.76 269.81h6.5v6.5h-6.5zM1203.76 287.81h6.5v6.5h-6.5zM1185.76 305.81h6.5v6.5h-6.5zM735.76 311.81h6.5v6.5h-6.5zM1167.76 311.81h6.5v6.5h-6.5zM759.76 317.81h6.5v6.5h-6.5zM1113.76 317.81h24.5v6.5h-24.5zM891.76 323.81h6.5v6.5h-6.5zM1035.76 323.81h6.5v6.5h-6.5z"/>
<path fill="#c3c3c3" d="M891.76 71.81h6.5v6.5h-6.5zM975.76 71.81h6.5v6.5h-6.5zM813.76 77.81h6.5v6.5h-6.5zM765.76 83.81h6.5v6.5h-6.5zM795.76 89.81h6.5v6.5h-6.5zM1011.76 89.81h6.5v6.5h-6.5zM939.76 107.81h6.5v6.5h-6.5zM981.76 107.81h6.5v6.5h-6.5zM981.76 113.81h6.5v6.5h-6.5zM885.76 143.81h6.5v6.5h-6.5zM765.76 149.81h12.5v6.5h-12.5zM1167.76 155.81h6.5v6.5h-6.5zM1191.76 155.81h6.5v6.5h-6.5zM1161.76 161.81h6.5v6.5h-6.5zM741.76 167.81h6.5v6.5h-6.5zM843.76 173.81h18.5v6.5h-18.5zM879.76 179.81h6.5v6.5h-6.5zM1035.76 179.81h6.5v6.5h-6.5zM879.76 197.81h6.5v6.5h-6.5zM753.76 203.81h6.5v6.5h-6.5zM1095.76 203.81h36.5v6.5h-36.5zM1173.76 209.81h6.5v6.5h-6.5zM1185.76 215.81h6.5v6.5h-6.5zM717.76 227.81h6.5v6.5h-6.5zM1197.76 227.81h6.5v6.5h-6.5zM1203.76 239.81h6.5v6.5h-6.5zM711.76 245.81h6.5v6.5h-6.5zM711.76 263.81h6.5v6.5h-6.5zM1209.76 263.81h6.5v6.5h-6.5zM1209.76 269.81h6.5v6.5h-6.5zM717.76 293.81h6.5v6.5h-6.5zM1197.76 293.81h6.5v6.5h-6.5zM1191.76 299.81h6.5v6.5h-6.5zM1161.76 311.81h6.5v6.5h-6.5zM765.76 317.81h12.5v6.5h-12.5zM855.76 317.81h18.5v6.5h-18.5zM1071.76 317.81h42.5v6.5h-42.5zM909.76 329.81h6.5v6.5h-6.5zM1017.76 329.81h6.5v6.5h-6.5zM945.76 347.81h6.5v6.5h-6.5zM981.76 347.81h6.5v6.5h-6.5z"/>
<path fill="#c2c2c2" d="M897.76 71.81h6.5v6.5h-6.5zM771.76 83.81h6.5v6.5h-6.5zM849.76 95.81h6.5v6.5h-6.5zM1005.76 131.81h6.5v6.5h-6.5zM777.76 149.81h30.5v6.5h-30.5zM735.76 155.81h6.5v6.5h-6.5zM1041.76 155.81h6.5v6.5h-6.5zM1173.76 155.81h6.5v6.5h-6.5zM1185.76 155.81h6.5v6.5h-6.5zM1167.76 161.81h6.5v6.5h-6.5zM747.76 167.81h6.5v6.5h-6.5zM1041.76 167.81h6.5v6.5h-6.5zM861.76 173.81h6.5v6.5h-6.5zM1035.76 191.81h6.5v6.5h-6.5zM759.76 203.81h6.5v6.5h-6.5zM1071.76 203.81h24.5v6.5h-24.5zM735.76 209.81h6.5v6.5h-6.5zM1167.76 209.81h6.5v6.5h-6.5zM1191.76 221.81h6.5v6.5h-6.5zM1203.76 245.81h6.5v6.5h-6.5zM711.76 251.81h6.5v6.5h-6.5zM711.76 257.81h6.5v6.5h-6.5zM1203.76 281.81h6.5v6.5h-6.5zM729.76 305.81h6.5v6.5h-6.5zM1179.76 305.81h6.5v6.5h-6.5zM741.76 311.81h6.5v6.5h-6.5zM1155.76 311.81h6.5v6.5h-6.5zM777.76 317.81h78.5v6.5h-78.5zM873.76 317.81h12.5v6.5h-12.5zM1053.76 317.81h18.5v6.5h-18.5zM897.76 323.81h6.5v6.5h-6.5zM1029.76 323.81h6.5v6.5h-6.5zM921.76 335.81h6.5v6.5h-6.5zM1005.76 335.81h6.5v6.5h-6.5zM933.76 341.81h6.5v6.5h-6.5z"/>
<path fill="#c1c1c1" d="M819.76 77.81h6.5v6.5h-6.5zM777.76 83.81h6.5v6.5h-6.5zM801.76 89.81h6.5v6.5h-6.5zM999.76 95.81h6.5v6.5h-6.5zM915.76 101.81h6.5v6.5h-6.5zM945.76 113.81h6.5v6.5h-6.5zM927.76 125.81h6.5v6.5h-6.5zM1011.76 137.81h6.5v6.5h-6.5zM807.76 149.81h54.5v6.5h-54.5zM1179.76 155.81h6.5v6.5h-6.5zM735.76 161.81h6.5v6.5h-6.5zM1041.76 161.81h6.5v6.5h-6.5zM1191.76 161.81h6.5v6.5h-6.5zM753.76 167.81h6.5v6.5h-6.5zM867.76 173.81h6.5v6.5h-6.5zM1041.76 197.81h6.5v6.5h-6.5zM765.76 203.81h18.5v6.5h-18.5zM1059.76 203.81h12.5v6.5h-12.5zM1161.76 209.81h6.5v6.5h-6.5zM1179.76 215.81h6.5v6.5h-6.5zM723.76 221.81h6.5v6.5h-6.5zM717.76 233.81h6.5v6.5h-6.5zM1197.76 233.81h6.5v6.5h-6.5zM717.76 287.81h6.5v6.5h-6.5zM723.76 299.81h6.5v6.5h-6.5zM1185.76 299.81h6.5v6.5h-6.5zM1173.76 305.81h6.5v6.5h-6.5zM747.76 311.81h6.5v6.5h-6.5zM1143.76 311.81h12.5v6.5h-12.5zM885.76 317.81h6.5v6.5h-6.5zM1041.76 317.81h12.5v6.5h-12.5zM993.76 341.81h6.5v6.5h-6.5zM951.76 347.81h6.5v6.5h-6.5zM975.76 347.81h6.5v6.5h-6.5z"/>
<path fill="#c0c0c0" d="M903.76 71.81h6.5v6.5h-6.5zM969.76 71.81h6.5v6.5h-6.5zM999.76 77.81h6.5v6.5h-6.5zM783.76 83.81h6.5v6.5h-6.5zM1011.76 83.81h6.5v6.5h-6.5zM807.76 89.81h6.5v6.5h-6.5zM855.76 95.81h6.5v6.5h-6.5zM987.76 119.81h6.5v6.5h-6.5zM861.76 149.81h6.5v6.5h-6.5zM1029.76 149.81h6.5v6.5h-6.5zM741.76 155.81h6.5v6.5h-6.5zM1173.76 161.81h6.5v6.5h-6.5zM1185.76 161.81h6.5v6.5h-6.5zM759.76 167.81h6.5v6.5h-6.5zM1035.76 173.81h6.5v6.5h-6.5zM891.76 185.81h6.5v6.5h-6.5zM891.76 191.81h6.5v6.5h-6.5zM885.76 197.81h6.5v6.5h-6.5zM783.76 203.81h84.5v6.5h-84.5zM1053.76 203.81h6.5v6.5h-6.5zM741.76 209.81h6.5v6.5h-6.5zM1155.76 209.81h6.5v6.5h-6.5zM729.76 215.81h6.5v6.5h-6.5zM1185.76 221.81h6.5v6.5h-6.5zM1191.76 227.81h6.5v6.5h-6.5zM1203.76 251.81h6.5v6.5h-6.5zM1197.76 287.81h6.5v6.5h-6.5zM1191.76 293.81h6.5v6.5h-6.5zM1167.76 305.81h6.5v6.5h-6.5zM753.76 311.81h6.5v6.5h-6.5zM1131.76 311.81h12.5v6.5h-12.5zM903.76 323.81h6.5v6.5h-6.5zM1023.76 323.81h6.5v6.5h-6.5zM915.76 329.81h6.5v6.5h-6.5zM957.76 347.81h6.5v6.5h-6.5z"/>
<path fill="#bfbfbf" d="M909.76 71.81h6.5v6.5h-6.5zM825.76 77.81h6.5v6.5h-6.5zM987.76 101.81h6.5v6.5h-6.5zM945.76 107.81h6.5v6.5h-6.5zM867.76 149.81h6.5v6.5h-6.5zM747.76 155.81h6.5v6.5h-6.5zM741.76 161.81h6.5v6.5h-6.5zM1179.76 161.81h6.5v6.5h-6.5zM765.76 167.81h12.5v6.5h-12.5zM873.76 173.81h6.5v6.5h-6.5zM885.76 179.81h6.5v6.5h-6.5zM867.76 203.81h6.5v6.5h-6.5zM1143.76 209.81h12.5v6.5h-12.5zM1173.76 215.81h6.5v6.5h-6.5zM1197.76 239.81h6.5v6.5h-6.5zM1203.76 257.81h6.5v6.5h-6.5zM1203.76 275.81h6.5v6.5h-6.5zM717.76 281.81h6.5v6.5h-6.5zM1179.76 299.81h6.5v6.5h-6.5zM735.76 305.81h6.5v6.5h-6.5zM759.76 311.81h6.5v6.5h-6.5zM861.76 311.81h6.5v6.5h-6.5zM1101.76 311.81h30.5v6.5h-30.5zM891.76 317.81h6.5v6.5h-6.5zM1035.76 317.81h6.5v6.5h-6.5zM1011.76 329.81h6.5v6.5h-6.5zM963.76 347.81h12.5v6.5h-12.5z"/>
<path fill="#bebebe" d="M915.76 71.81h6.5v6.5h-6.5zM963.76 71.81h6.5v6.5h-6.5zM789.76 83.81h6.5v6.5h-6.5zM813.76 89.81h6.5v6.5h-6.5zM861.76 95.81h6.5v6.5h-6.5zM921.76 101.81h6.5v6.5h-6.5zM975.76 107.81h6.5v6.5h-6.5zM975.76 113.81h6.5v6.5h-6.5zM939.76 119.81h6.5v6.5h-6.5zM891.76 143.81h6.5v6.5h-6.5zM753.76 155.81h6.5v6.5h-6.5zM1035.76 155.81h6.5v6.5h-6.5zM747.76 161.81h6.5v6.5h-6.5zM777.76 167.81h36.5v6.5h-36.5zM1035.76 167.81h6.5v6.5h-6.5zM873.76 203.81h6.5v6.5h-6.5zM1047.76 203.81h6.5v6.5h-6.5zM747.76 209.81h6.5v6.5h-6.5zM1131.76 209.81h12.5v6.5h-12.5zM735.76 215.81h6.5v6.5h-6.5zM1167.76 215.81h6.5v6.5h-6.5zM1179.76 221.81h6.5v6.5h-6.5zM723.76 227.81h6.5v6.5h-6.5zM1191.76 233.81h6.5v6.5h-6.5zM717.76 239.81h6.5v6.5h-6.5zM1197.76 245.81h6.5v6.5h-6.5zM1203.76 263.81h6.5v6.5h-6.5zM1203.76 269.81h6.5v6.5h-6.5zM717.76 275.81h6.5v6.5h-6.5zM1197.76 281.81h6.5v6.5h-6.5zM723.76 293.81h6.5v6.5h-6.5zM729.76 299.81h6.5v6.5h-6.5zM1155.76 305.81h12.5v6.5h-12.5zM765.76 311.81h12.5v6.5h-12.5zM843.76 311.81h18.5v6.5h-18.5zM867.76 311.81h12.5v6.5h-12.5zM1059.76 311.81h42.5v6.5h-42.5zM927.76 335.81h6.5v6.5h-6.5zM999.76 335.81h6.5v6.5h-6.5zM939.76 341.81h6.5v6.5h-6.5z"/>
<path fill="#bdbdbd" d="M921.76 71.81h6.5v6.5h-6.5zM831.76 77.81h6.5v6.5h-6.5zM795.76 83.81h6.5v6.5h-6.5zM1005.76 89.81h6.5v6.5h-6.5zM951.76 113.81h6.5v6.5h-6.5zM921.76 131.81h6.5v6.5h-6.5zM909.76 137.81h6.5v6.5h-6.5zM1017.76 143.81h6.5v6.5h-6.5zM873.76 149.81h6.5v6.5h-6.5zM759.76 155.81h6.5v6.5h-6.5zM753.76 161.81h6.5v6.5h-6.5zM1035.76 161.81h6.5v6.5h-6.5zM813.76 167.81h42.5v6.5h-42.5zM1029.76 185.81h6.5v6.5h-6.5zM1035.76 197.81h6.5v6.5h-6.5zM879.76 203.81h6.5v6.5h-6.5zM753.76 209.81h6.5v6.5h-6.5zM1101.76 209.81h30.5v6.5h-30.5zM1161.76 215.81h6.5v6.5h-6.5zM729.76 221.81h6.5v6.5h-6.5zM1185.76 227.81h6.5v6.5h-6.5zM1191.76 287.81h6.5v6.5h-6.5zM1185.76 293.81h6.5v6.5h-6.5zM1173.76 299.81h6.5v6.5h-6.5zM741.76 305.81h6.5v6.5h-6.5zM1149.76 305.81h6.5v6.5h-6.5zM777.76 311.81h30.5v6.5h-30.5zM819.76 311.81h24.5v6.5h-24.5zM879.76 311.81h6.5v6.5h-6.5zM1047.76 311.81h12.5v6.5h-12.5zM897.76 317.81h6.5v6.5h-6.5zM1029.76 317.81h6.5v6.5h-6.5zM909.76 323.81h6.5v6.5h-6.5zM1017.76 323.81h6.5v6.5h-6.5zM987.76 341.81h6.5v6.5h-6.5z"/>
<path fill="#bcbcbc" d="M927.76 71.81h6.5v6.5h-6.5zM957.76 71.81h6.5v6.5h-6.5zM819.76 89.81h6.5v6.5h-6.5zM867.76 95.81h6.5v6.5h-6.5zM951.76 107.81h6.5v6.5h-6.5zM765.76 155.81h12.5v6.5h-12.5zM759.76 161.81h6.5v6.5h-6.5zM855.76 167.81h12.5v6.5h-12.5zM1029.76 179.81h6.5v6.5h-6.5zM1029.76 191.81h6.5v6.5h-6.5zM891.76 197.81h6.5v6.5h-6.5zM759.76 209.81h6.5v6.5h-6.5zM1071.76 209.81h30.5v6.5h-30.5zM741.76 215.81h6.5v6.5h-6.5zM1155.76 215.81h6.5v6.5h-6.5zM1173.76 221.81h6.5v6.5h-6.5zM723.76 233.81h6.5v6.5h-6.5zM1191.76 239.81h6.5v6.5h-6.5zM717.76 245.81h6.5v6.5h-6.5zM1197.76 251.81h6.5v6.5h-6.5zM717.76 269.81h6.5v6.5h-6.5zM723.76 287.81h6.5v6.5h-6.5zM747.76 305.81h6.5v6.5h-6.5zM1137.76 305.81h12.5v6.5h-12.5zM807.76 311.81h12.5v6.5h-12.5zM885.76 311.81h6.5v6.5h-6.5zM1041.76 311.81h6.5v6.5h-6.5zM921.76 329.81h6.5v6.5h-6.5z"/>
<path fill="#bbbbbb" d="M933.76 71.81h6.5v6.5h-6.5zM951.76 71.81h6.5v6.5h-6.5zM837.76 77.81h6.5v6.5h-6.5zM801.76 83.81h6.5v6.5h-6.5zM1005.76 83.81h6.5v6.5h-6.5zM969.76 107.81h6.5v6.5h-6.5zM957.76 113.81h6.5v6.5h-6.5zM969.76 113.81h6.5v6.5h-6.5zM993.76 125.81h6.5v6.5h-6.5zM777.76 155.81h24.5v6.5h-24.5zM765.76 161.81h12.5v6.5h-12.5zM879.76 173.81h6.5v6.5h-6.5zM1041.76 203.81h6.5v6.5h-6.5zM765.76 209.81h18.5v6.5h-18.5zM1059.76 209.81h12.5v6.5h-12.5zM1143.76 215.81h12.5v6.5h-12.5zM735.76 221.81h6.5v6.5h-6.5zM1167.76 221.81h6.5v6.5h-6.5zM729.76 227.81h6.5v6.5h-6.5zM1179.76 227.81h6.5v6.5h-6.5zM1185.76 233.81h6.5v6.5h-6.5zM717.76 251.81h6.5v6.5h-6.5zM717.76 257.81h6.5v6.5h-6.5zM1197.76 257.81h6.5v6.5h-6.5zM717.76 263.81h6.5v6.5h-6.5zM1197.76 275.81h6.5v6.5h-6.5zM1179.76 293.81h6.5v6.5h-6.5zM735.76 299.81h6.5v6.5h-6.5zM1167.76 299.81h6.5v6.5h-6.5zM753.76 305.81h6.5v6.5h-6.5zM1119.76 305.81h18.5v6.5h-18.5zM903.76 317.81h6.5v6.5h-6.5zM1023.76 317.81h6.5v6.5h-6.5zM1005.76 329.81h6.5v6.5h-6.5z"/>
<path fill="#bababa" d="M939.76 71.81h12.5v6.5h-12.5zM993.76 77.81h6.5v6.5h-6.5zM807.76 83.81h6.5v6.5h-6.5zM825.76 89.81h6.5v6.5h-6.5zM873.76 95.81h6.5v6.5h-6.5zM993.76 95.81h6.5v6.5h-6.5zM927.76 101.81h6.5v6.5h-6.5zM981.76 101.81h6.5v6.5h-6.5zM957.76 107.81h12.5v6.5h-12.5zM963.76 113.81h6.5v6.5h-6.5zM801.76 155.81h54.5v6.5h-54.5zM777.76 161.81h30.5v6.5h-30.5zM867.76 167.81h6.5v6.5h-6.5zM1029.76 173.81h6.5v6.5h-6.5zM897.76 191.81h6.5v6.5h-6.5zM885.76 203.81h6.5v6.5h-6.5zM783.76 209.81h90.5v6.5h-90.5zM747.76 215.81h6.5v6.5h-6.5zM1131.76 215.81h12.5v6.5h-12.5zM1191.76 245.81h6.5v6.5h-6.5zM1197.76 263.81h6.5v6.5h-6.5zM1197.76 269.81h6.5v6.5h-6.5zM723.76 281.81h6.5v6.5h-6.5zM1191.76 281.81h6.5v6.5h-6.5zM1185.76 287.81h6.5v6.5h-6.5zM729.76 293.81h6.5v6.5h-6.5zM1161.76 299.81h6.5v6.5h-6.5zM759.76 305.81h6.5v6.5h-6.5zM855.76 305.81h24.5v6.5h-24.5zM1083.76 305.81h36.5v6.5h-36.5zM891.76 311.81h6.5v6.5h-6.5zM1035.76 311.81h6.5v6.5h-6.5zM915.76 323.81h6.5v6.5h-6.5zM933.76 335.81h6.5v6.5h-6.5zM945.76 341.81h6.5v6.5h-6.5zM981.76 341.81h6.5v6.5h-6.5z"/>
<path fill="#b9b9b9" d="M981.76 119.81h6.5v6.5h-6.5zM933.76 125.81h6.5v6.5h-6.5zM999.76 131.81h6.5v6.5h-6.5zM879.76 149.81h6.5v6.5h-6.5zM1023.76 149.81h6.5v6.5h-6.5zM855.76 155.81h6.5v6.5h-6.5zM1029.76 155.81h6.5v6.5h-6.5zM807.76 161.81h48.5v6.5h-48.5zM891.76 179.81h6.5v6.5h-6.5zM897.76 185.81h6.5v6.5h-6.5zM873.76 209.81h6.5v6.5h-6.5zM1053.76 209.81h6.5v6.5h-6.5zM753.76 215.81h6.5v6.5h-6.5zM1113.76 215.81h18.5v6.5h-18.5zM1161.76 221.81h6.5v6.5h-6.5zM1173.76 227.81h6.5v6.5h-6.5zM1179.76 233.81h6.5v6.5h-6.5zM723.76 239.81h6.5v6.5h-6.5zM1185.76 239.81h6.5v6.5h-6.5zM1191.76 251.81h6.5v6.5h-6.5zM1173.76 293.81h6.5v6.5h-6.5zM741.76 299.81h6.5v6.5h-6.5zM1155.76 299.81h6.5v6.5h-6.5zM765.76 305.81h12.5v6.5h-12.5zM843.76 305.81h12.5v6.5h-12.5zM879.76 305.81h6.5v6.5h-6.5zM1059.76 305.81h24.5v6.5h-24.5zM1011.76 323.81h6.5v6.5h-6.5zM993.76 335.81h6.5v6.5h-6.5z"/>
<path fill="#b8b8b8" d="M843.76 77.81h6.5v6.5h-6.5zM813.76 83.81h6.5v6.5h-6.5zM879.76 95.81h6.5v6.5h-6.5zM945.76 119.81h6.5v6.5h-6.5zM897.76 143.81h6.5v6.5h-6.5zM861.76 155.81h6.5v6.5h-6.5zM855.76 161.81h6.5v6.5h-6.5zM1029.76 167.81h6.5v6.5h-6.5zM1047.76 209.81h6.5v6.5h-6.5zM759.76 215.81h6.5v6.5h-6.5zM1077.76 215.81h36.5v6.5h-36.5zM741.76 221.81h6.5v6.5h-6.5zM1149.76 221.81h12.5v6.5h-12.5zM735.76 227.81h6.5v6.5h-6.5zM1167.76 227.81h6.5v6.5h-6.5zM729.76 233.81h6.5v6.5h-6.5zM723.76 275.81h6.5v6.5h-6.5zM1191.76 275.81h6.5v6.5h-6.5zM729.76 287.81h6.5v6.5h-6.5zM1179.76 287.81h6.5v6.5h-6.5zM1167.76 293.81h6.5v6.5h-6.5zM1143.76 299.81h12.5v6.5h-12.5zM777.76 305.81h18.5v6.5h-18.5zM831.76 305.81h12.5v6.5h-12.5zM1047.76 305.81h12.5v6.5h-12.5zM897.76 311.81h6.5v6.5h-6.5zM1029.76 311.81h6.5v6.5h-6.5zM909.76 317.81h6.5v6.5h-6.5zM1017.76 317.81h6.5v6.5h-6.5z"/>
<path fill="#b7b7b7" d="M831.76 89.81h6.5v6.5h-6.5zM999.76 89.81h6.5v6.5h-6.5zM933.76 101.81h6.5v6.5h-6.5zM867.76 155.81h6.5v6.5h-6.5zM861.76 161.81h6.5v6.5h-6.5zM1029.76 161.81h6.5v6.5h-6.5zM873.76 167.81h6.5v6.5h-6.5zM1029.76 197.81h6.5v6.5h-6.5zM1035.76 203.81h6.5v6.5h-6.5zM879.76 209.81h6.5v6.5h-6.5zM765.76 215.81h12.5v6.5h-12.5zM855.76 215.81h12.5v6.5h-12.5zM1065.76 215.81h12.5v6.5h-12.5zM747.76 221.81h6.5v6.5h-6.5zM1143.76 221.81h6.5v6.5h-6.5zM1173.76 233.81h6.5v6.5h-6.5zM1179.76 239.81h6.5v6.5h-6.5zM1185.76 245.81h6.5v6.5h-6.5zM1191.76 257.81h6.5v6.5h-6.5zM723.76 269.81h6.5v6.5h-6.5zM1185.76 281.81h6.5v6.5h-6.5zM735.76 293.81h6.5v6.5h-6.5zM747.76 299.81h6.5v6.5h-6.5zM1131.76 299.81h12.5v6.5h-12.5zM795.76 305.81h36.5v6.5h-36.5zM885.76 305.81h6.5v6.5h-6.5zM1041.76 305.81h6.5v6.5h-6.5zM927.76 329.81h6.5v6.5h-6.5zM999.76 329.81h6.5v6.5h-6.5zM951.76 341.81h6.5v6.5h-6.5zM975.76 341.81h6.5v6.5h-6.5z"/>
<path fill="#b6b6b6" d="M849.76 77.81h6.5v6.5h-6.5zM819.76 83.81h6.5v6.5h-6.5zM885.76 95.81h6.5v6.5h-6.5zM1005.76 137.81h6.5v6.5h-6.5zM867.76 161.81h6.5v6.5h-6.5zM885.76 173.81h6.5v6.5h-6.5zM897.76 197.81h6.5v6.5h-6.5zM891.76 203.81h6.5v6.5h-6.5zM777.76 215.81h24.5v6.5h-24.5zM831.76 215.81h24.5v6.5h-24.5zM867.76 215.81h6.5v6.5h-6.5zM1059.76 215.81h6.5v6.5h-6.5zM1125.76 221.81h18.5v6.5h-18.5zM1161.76 227.81h6.5v6.5h-6.5zM723.76 245.81h6.5v6.5h-6.5zM1185.76 251.81h6.5v6.5h-6.5zM723.76 263.81h6.5v6.5h-6.5zM1191.76 263.81h6.5v6.5h-6.5zM1191.76 269.81h6.5v6.5h-6.5zM729.76 281.81h6.5v6.5h-6.5zM1173.76 287.81h6.5v6.5h-6.5zM1161.76 293.81h6.5v6.5h-6.5zM753.76 299.81h6.5v6.5h-6.5zM855.76 299.81h24.5v6.5h-24.5zM1107.76 299.81h24.5v6.5h-24.5zM939.76 335.81h6.5v6.5h-6.5zM957.76 341.81h6.5v6.5h-6.5z"/>
<path fill="#b5b5b5" d="M987.76 77.81h6.5v6.5h-6.5zM999.76 83.81h6.5v6.5h-6.5zM837.76 89.81h6.5v6.5h-6.5zM975.76 101.81h6.5v6.5h-6.5zM915.76 137.81h6.5v6.5h-6.5zM1023.76 185.81h6.5v6.5h-6.5zM1041.76 209.81h6.5v6.5h-6.5zM801.76 215.81h30.5v6.5h-30.5zM873.76 215.81h6.5v6.5h-6.5zM1053.76 215.81h6.5v6.5h-6.5zM753.76 221.81h6.5v6.5h-6.5zM1101.76 221.81h24.5v6.5h-24.5zM741.76 227.81h6.5v6.5h-6.5zM1149.76 227.81h12.5v6.5h-12.5zM735.76 233.81h6.5v6.5h-6.5zM1167.76 233.81h6.5v6.5h-6.5zM729.76 239.81h6.5v6.5h-6.5zM1173.76 239.81h6.5v6.5h-6.5zM1179.76 245.81h6.5v6.5h-6.5zM723.76 251.81h6.5v6.5h-6.5zM723.76 257.81h6.5v6.5h-6.5zM1185.76 275.81h6.5v6.5h-6.5zM1179.76 281.81h6.5v6.5h-6.5zM735.76 287.81h6.5v6.5h-6.5zM1167.76 287.81h6.5v6.5h-6.5zM741.76 293.81h6.5v6.5h-6.5zM1149.76 293.81h12.5v6.5h-12.5zM759.76 299.81h6.5v6.5h-6.5zM849.76 299.81h6.5v6.5h-6.5zM1071.76 299.81h36.5v6.5h-36.5zM891.76 305.81h6.5v6.5h-6.5zM1035.76 305.81h6.5v6.5h-6.5zM903.76 311.81h6.5v6.5h-6.5zM1023.76 311.81h6.5v6.5h-6.5zM921.76 323.81h6.5v6.5h-6.5zM1005.76 323.81h6.5v6.5h-6.5zM987.76 335.81h6.5v6.5h-6.5zM963.76 341.81h12.5v6.5h-12.5z"/>
<path fill="#b4b4b4" d="M987.76 95.81h6.5v6.5h-6.5zM975.76 119.81h6.5v6.5h-6.5zM927.76 131.81h6.5v6.5h-6.5zM885.76 149.81h6.5v6.5h-6.5zM873.76 155.81h6.5v6.5h-6.5zM1023.76 179.81h6.5v6.5h-6.5zM885.76 209.81h6.5v6.5h-6.5zM759.76 221.81h12.5v6.5h-12.5zM855.76 221.81h12.5v6.5h-12.5zM1071.76 221.81h30.5v6.5h-30.5zM747.76 227.81h6.5v6.5h-6.5zM1143.76 227.81h6.5v6.5h-6.5zM1161.76 233.81h6.5v6.5h-6.5zM1185.76 257.81h6.5v6.5h-6.5zM729.76 275.81h6.5v6.5h-6.5zM1143.76 293.81h6.5v6.5h-6.5zM765.76 299.81h12.5v6.5h-12.5zM837.76 299.81h12.5v6.5h-12.5zM879.76 299.81h6.5v6.5h-6.5zM1053.76 299.81h18.5v6.5h-18.5zM915.76 317.81h6.5v6.5h-6.5zM1011.76 317.81h6.5v6.5h-6.5z"/>
<path fill="#b3b3b3" d="M855.76 77.81h6.5v6.5h-6.5zM825.76 83.81h6.5v6.5h-6.5zM891.76 95.81h6.5v6.5h-6.5zM939.76 101.81h6.5v6.5h-6.5zM951.76 119.81h6.5v6.5h-6.5zM987.76 125.81h6.5v6.5h-6.5zM1011.76 143.81h6.5v6.5h-6.5zM873.76 161.81h6.5v6.5h-6.5zM879.76 167.81h6.5v6.5h-6.5zM1023.76 191.81h6.5v6.5h-6.5zM879.76 215.81h6.5v6.5h-6.5zM1047.76 215.81h6.5v6.5h-6.5zM771.76 221.81h12.5v6.5h-12.5zM837.76 221.81h18.5v6.5h-18.5zM867.76 221.81h6.5v6.5h-6.5zM1059.76 221.81h12.5v6.5h-12.5zM1131.76 227.81h12.5v6.5h-12.5zM1155.76 233.81h6.5v6.5h-6.5zM1167.76 239.81h6.5v6.5h-6.5zM1173.76 245.81h6.5v6.5h-6.5zM1179.76 251.81h6.5v6.5h-6.5zM1185.76 263.81h6.5v6.5h-6.5zM729.76 269.81h6.5v6.5h-6.5zM1185.76 269.81h6.5v6.5h-6.5zM735.76 281.81h6.5v6.5h-6.5zM1173.76 281.81h6.5v6.5h-6.5zM1161.76 287.81h6.5v6.5h-6.5zM747.76 293.81h6.5v6.5h-6.5zM855.76 293.81h24.5v6.5h-24.5zM1131.76 293.81h12.5v6.5h-12.5zM777.76 299.81h18.5v6.5h-18.5zM825.76 299.81h12.5v6.5h-12.5zM885.76 299.81h6.5v6.5h-6.5zM1047.76 299.81h6.5v6.5h-6.5zM1029.76 305.81h6.5v6.5h-6.5zM933.76 329.81h6.5v6.5h-6.5z"/>
<path fill="#b2b2b2" d="M843.76 89.81h6.5v6.5h-6.5zM1023.76 173.81h6.5v6.5h-6.5zM783.76 221.81h54.5v6.5h-54.5zM873.76 221.81h6.5v6.5h-6.5zM753.76 227.81h6.5v6.5h-6.5zM861.76 227.81h6.5v6.5h-6.5zM1107.76 227.81h24.5v6.5h-24.5zM741.76 233.81h6.5v6.5h-6.5zM1149.76 233.81h6.5v6.5h-6.5zM1161.76 239.81h6.5v6.5h-6.5zM729.76 245.81h6.5v6.5h-6.5zM1179.76 257.81h6.5v6.5h-6.5zM1179.76 275.81h6.5v6.5h-6.5zM1167.76 281.81h6.5v6.5h-6.5zM741.76 287.81h6.5v6.5h-6.5zM861.76 287.81h12.5v6.5h-12.5zM1155.76 287.81h6.5v6.5h-6.5zM753.76 293.81h6.5v6.5h-6.5zM849.76 293.81h6.5v6.5h-6.5zM1107.76 293.81h24.5v6.5h-24.5zM795.76 299.81h30.5v6.5h-30.5zM897.76 305.81h6.5v6.5h-6.5zM909.76 311.81h6.5v6.5h-6.5zM1017.76 311.81h6.5v6.5h-6.5zM993.76 329.81h6.5v6.5h-6.5zM945.76 335.81h6.5v6.5h-6.5z"/>
<path fill="#b1b1b1" d="M861.76 77.81h6.5v6.5h-6.5zM831.76 83.81h6.5v6.5h-6.5zM897.76 95.81h6.5v6.5h-6.5zM945.76 101.81h6.5v6.5h-6.5zM969.76 101.81h6.5v6.5h-6.5zM969.76 119.81h6.5v6.5h-6.5zM939.76 125.81h6.5v6.5h-6.5zM903.76 143.81h6.5v6.5h-6.5zM1023.76 155.81h6.5v6.5h-6.5zM897.76 179.81h6.5v6.5h-6.5zM903.76 191.81h6.5v6.5h-6.5zM1053.76 221.81h6.5v6.5h-6.5zM759.76 227.81h6.5v6.5h-6.5zM849.76 227.81h12.5v6.5h-12.5zM867.76 227.81h6.5v6.5h-6.5zM1077.76 227.81h30.5v6.5h-30.5zM747.76 233.81h6.5v6.5h-6.5zM1137.76 233.81h12.5v6.5h-12.5zM735.76 239.81h6.5v6.5h-6.5zM1155.76 239.81h6.5v6.5h-6.5zM1167.76 245.81h6.5v6.5h-6.5zM1173.76 251.81h6.5v6.5h-6.5zM729.76 257.81h6.5v6.5h-6.5zM729.76 263.81h6.5v6.5h-6.5zM1179.76 263.81h6.5v6.5h-6.5zM1179.76 269.81h6.5v6.5h-6.5zM735.76 275.81h6.5v6.5h-6.5zM861.76 281.81h12.5v6.5h-12.5zM855.76 287.81h6.5v6.5h-6.5zM873.76 287.81h6.5v6.5h-6.5zM1143.76 287.81h12.5v6.5h-12.5zM759.76 293.81h6.5v6.5h-6.5zM843.76 293.81h6.5v6.5h-6.5zM879.76 293.81h6.5v6.5h-6.5zM1071.76 293.81h36.5v6.5h-36.5zM1041.76 299.81h6.5v6.5h-6.5zM981.76 335.81h6.5v6.5h-6.5z"/>
<path fill="#b0b0b0" d="M993.76 89.81h6.5v6.5h-6.5zM957.76 119.81h6.5v6.5h-6.5zM1017.76 149.81h6.5v6.5h-6.5zM879.76 155.81h6.5v6.5h-6.5zM1023.76 167.81h6.5v6.5h-6.5zM903.76 185.81h6.5v6.5h-6.5zM897.76 203.81h6.5v6.5h-6.5zM1029.76 203.81h6.5v6.5h-6.5zM891.76 209.81h6.5v6.5h-6.5zM1035.76 209.81h6.5v6.5h-6.5zM885.76 215.81h6.5v6.5h-6.5zM1041.76 215.81h6.5v6.5h-6.5zM879.76 221.81h6.5v6.5h-6.5zM1047.76 221.81h6.5v6.5h-6.5zM765.76 227.81h12.5v6.5h-12.5zM837.76 227.81h12.5v6.5h-12.5zM873.76 227.81h6.5v6.5h-6.5zM1065.76 227.81h12.5v6.5h-12.5zM861.76 233.81h6.5v6.5h-6.5zM1125.76 233.81h12.5v6.5h-12.5zM1149.76 239.81h6.5v6.5h-6.5zM1161.76 245.81h6.5v6.5h-6.5zM729.76 251.81h6.5v6.5h-6.5zM1167.76 251.81h6.5v6.5h-6.5zM1173.76 257.81h6.5v6.5h-6.5zM861.76 275.81h12.5v6.5h-12.5zM1173.76 275.81h6.5v6.5h-6.5zM741.76 281.81h6.5v6.5h-6.5zM855.76 281.81h6.5v6.5h-6.5zM873.76 281.81h6.5v6.5h-6.5zM1161.76 281.81h6.5v6.5h-6.5zM747.76 287.81h6.5v6.5h-6.5zM849.76 287.81h6.5v6.5h-6.5zM1137.76 287.81h6.5v6.5h-6.5zM765.76 293.81h6.5v6.5h-6.5zM837.76 293.81h6.5v6.5h-6.5zM1059.76 293.81h12.5v6.5h-12.5zM891.76 299.81h6.5v6.5h-6.5zM927.76 323.81h6.5v6.5h-6.5zM999.76 323.81h6.5v6.5h-6.5z"/>
<path fill="#afafaf" d="M981.76 77.81h6.5v6.5h-6.5zM849.76 89.81h6.5v6.5h-6.5zM903.76 95.81h6.5v6.5h-6.5zM951.76 101.81h6.5v6.5h-6.5zM963.76 101.81h6.5v6.5h-6.5zM963.76 119.81h6.5v6.5h-6.5zM1023.76 161.81h6.5v6.5h-6.5zM891.76 173.81h6.5v6.5h-6.5zM777.76 227.81h24.5v6.5h-24.5zM825.76 227.81h12.5v6.5h-12.5zM1059.76 227.81h6.5v6.5h-6.5zM753.76 233.81h6.5v6.5h-6.5zM849.76 233.81h12.5v6.5h-12.5zM867.76 233.81h6.5v6.5h-6.5zM1095.76 233.81h30.5v6.5h-30.5zM741.76 239.81h6.5v6.5h-6.5zM1137.76 239.81h12.5v6.5h-12.5zM1155.76 245.81h6.5v6.5h-6.5zM1173.76 263.81h6.5v6.5h-6.5zM735.76 269.81h6.5v6.5h-6.5zM861.76 269.81h12.5v6.5h-12.5zM1173.76 269.81h6.5v6.5h-6.5zM855.76 275.81h6.5v6.5h-6.5zM873.76 275.81h6.5v6.5h-6.5zM1167.76 275.81h6.5v6.5h-6.5zM849.76 281.81h6.5v6.5h-6.5zM1155.76 281.81h6.5v6.5h-6.5zM753.76 287.81h6.5v6.5h-6.5zM843.76 287.81h6.5v6.5h-6.5zM879.76 287.81h6.5v6.5h-6.5zM1119.76 287.81h18.5v6.5h-18.5zM771.76 293.81h18.5v6.5h-18.5zM825.76 293.81h12.5v6.5h-12.5zM885.76 293.81h6.5v6.5h-6.5zM1053.76 293.81h6.5v6.5h-6.5zM1035.76 299.81h6.5v6.5h-6.5zM903.76 305.81h6.5v6.5h-6.5zM1023.76 305.81h6.5v6.5h-6.5zM921.76 317.81h6.5v6.5h-6.5zM1005.76 317.81h6.5v6.5h-6.5z"/>
<path fill="#aeaeae" d="M867.76 77.81h6.5v6.5h-6.5zM837.76 83.81h6.5v6.5h-6.5zM993.76 83.81h6.5v6.5h-6.5zM981.76 95.81h6.5v6.5h-6.5zM957.76 101.81h6.5v6.5h-6.5zM993.76 131.81h6.5v6.5h-6.5zM891.76 149.81h6.5v6.5h-6.5zM879.76 161.81h6.5v6.5h-6.5zM903.76 197.81h6.5v6.5h-6.5zM1023.76 197.81h6.5v6.5h-6.5zM801.76 227.81h24.5v6.5h-24.5zM879.76 227.81h6.5v6.5h-6.5zM1053.76 227.81h6.5v6.5h-6.5zM759.76 233.81h6.5v6.5h-6.5zM843.76 233.81h6.5v6.5h-6.5zM873.76 233.81h6.5v6.5h-6.5zM1071.76 233.81h24.5v6.5h-24.5zM1125.76 239.81h12.5v6.5h-12.5zM735.76 245.81h6.5v6.5h-6.5zM1149.76 245.81h6.5v6.5h-6.5zM1161.76 251.81h6.5v6.5h-6.5zM1167.76 257.81h6.5v6.5h-6.5zM735.76 263.81h6.5v6.5h-6.5zM855.76 269.81h6.5v6.5h-6.5zM741.76 275.81h6.5v6.5h-6.5zM747.76 281.81h6.5v6.5h-6.5zM879.76 281.81h6.5v6.5h-6.5zM1149.76 281.81h6.5v6.5h-6.5zM759.76 287.81h6.5v6.5h-6.5zM837.76 287.81h6.5v6.5h-6.5zM1089.76 287.81h30.5v6.5h-30.5zM789.76 293.81h36.5v6.5h-36.5zM1047.76 293.81h6.5v6.5h-6.5zM939.76 329.81h6.5v6.5h-6.5zM951.76 335.81h6.5v6.5h-6.5zM975.76 335.81h6.5v6.5h-6.5z"/>
<path fill="#adadad" d="M885.76 221.81h6.5v6.5h-6.5zM1041.76 221.81h6.5v6.5h-6.5zM765.76 233.81h12.5v6.5h-12.5zM837.76 233.81h6.5v6.5h-6.5zM1059.76 233.81h12.5v6.5h-12.5zM747.76 239.81h6.5v6.5h-6.5zM855.76 239.81h18.5v6.5h-18.5zM1101.76 239.81h24.5v6.5h-24.5zM1137.76 245.81h12.5v6.5h-12.5zM735.76 251.81h6.5v6.5h-6.5zM1155.76 251.81h6.5v6.5h-6.5zM735.76 257.81h6.5v6.5h-6.5zM1161.76 257.81h6.5v6.5h-6.5zM861.76 263.81h12.5v6.5h-12.5zM1167.76 263.81h6.5v6.5h-6.5zM741.76 269.81h6.5v6.5h-6.5zM873.76 269.81h6.5v6.5h-6.5zM1167.76 269.81h6.5v6.5h-6.5zM747.76 275.81h6.5v6.5h-6.5zM849.76 275.81h6.5v6.5h-6.5zM1161.76 275.81h6.5v6.5h-6.5zM753.76 281.81h6.5v6.5h-6.5zM843.76 281.81h6.5v6.5h-6.5zM1137.76 281.81h12.5v6.5h-12.5zM765.76 287.81h12.5v6.5h-12.5zM831.76 287.81h6.5v6.5h-6.5zM1065.76 287.81h24.5v6.5h-24.5zM915.76 311.81h6.5v6.5h-6.5zM1011.76 311.81h6.5v6.5h-6.5zM987.76 329.81h6.5v6.5h-6.5z"/>
<path fill="#acacac" d="M873.76 77.81h6.5v6.5h-6.5zM855.76 89.81h6.5v6.5h-6.5zM909.76 95.81h6.5v6.5h-6.5zM921.76 137.81h6.5v6.5h-6.5zM885.76 167.81h6.5v6.5h-6.5zM891.76 215.81h6.5v6.5h-6.5zM1035.76 215.81h6.5v6.5h-6.5zM1047.76 227.81h6.5v6.5h-6.5zM777.76 233.81h18.5v6.5h-18.5zM825.76 233.81h12.5v6.5h-12.5zM879.76 233.81h6.5v6.5h-6.5zM1053.76 233.81h6.5v6.5h-6.5zM753.76 239.81h6.5v6.5h-6.5zM849.76 239.81h6.5v6.5h-6.5zM873.76 239.81h6.5v6.5h-6.5zM1071.76 239.81h30.5v6.5h-30.5zM741.76 245.81h6.5v6.5h-6.5zM861.76 245.81h6.5v6.5h-6.5zM1125.76 245.81h12.5v6.5h-12.5zM1143.76 251.81h12.5v6.5h-12.5zM861.76 257.81h12.5v6.5h-12.5zM1155.76 257.81h6.5v6.5h-6.5zM741.76 263.81h6.5v6.5h-6.5zM855.76 263.81h6.5v6.5h-6.5zM873.76 263.81h6.5v6.5h-6.5zM1161.76 263.81h6.5v6.5h-6.5zM849.76 269.81h6.5v6.5h-6.5zM1161.76 269.81h6.5v6.5h-6.5zM843.76 275.81h6.5v6.5h-6.5zM879.76 275.81h6.5v6.5h-6.5zM1155.76 275.81h6.5v6.5h-6.5zM759.76 281.81h6.5v6.5h-6.5zM837.76 281.81h6.5v6.5h-6.5zM1125.76 281.81h12.5v6.5h-12.5zM777.76 287.81h12.5v6.5h-12.5zM825.76 287.81h6.5v6.5h-6.5zM885.76 287.81h6.5v6.5h-6.5zM1059.76 287.81h6.5v6.5h-6.5zM1041.76 293.81h6.5v6.5h-6.5zM897.76 299.81h6.5v6.5h-6.5zM1029.76 299.81h6.5v6.5h-6.5zM957.76 335.81h6.5v6.5h-6.5zM969.76 335.81h6.5v6.5h-6.5z"/>
<path fill="#ababab" d="M843.76 83.81h6.5v6.5h-6.5zM981.76 125.81h6.5v6.5h-6.5zM999.76 137.81h6.5v6.5h-6.5zM885.76 227.81h6.5v6.5h-6.5zM795.76 233.81h30.5v6.5h-30.5zM843.76 239.81h6.5v6.5h-6.5zM1065.76 239.81h6.5v6.5h-6.5zM855.76 245.81h6.5v6.5h-6.5zM867.76 245.81h6.5v6.5h-6.5zM1101.76 245.81h24.5v6.5h-24.5zM741.76 251.81h6.5v6.5h-6.5zM861.76 251.81h12.5v6.5h-12.5zM1137.76 251.81h6.5v6.5h-6.5zM741.76 257.81h6.5v6.5h-6.5zM855.76 257.81h6.5v6.5h-6.5zM873.76 257.81h6.5v6.5h-6.5zM1149.76 257.81h6.5v6.5h-6.5zM849.76 263.81h6.5v6.5h-6.5zM747.76 269.81h6.5v6.5h-6.5zM879.76 269.81h6.5v6.5h-6.5zM753.76 275.81h6.5v6.5h-6.5zM1149.76 275.81h6.5v6.5h-6.5zM765.76 281.81h6.5v6.5h-6.5zM831.76 281.81h6.5v6.5h-6.5zM1101.76 281.81h24.5v6.5h-24.5zM789.76 287.81h36.5v6.5h-36.5zM1053.76 287.81h6.5v6.5h-6.5zM891.76 293.81h6.5v6.5h-6.5zM909.76 305.81h6.5v6.5h-6.5zM1017.76 305.81h6.5v6.5h-6.5zM933.76 323.81h6.5v6.5h-6.5zM993.76 323.81h6.5v6.5h-6.5zM963.76 335.81h6.5v6.5h-6.5z"/>
<path fill="#aaaaaa" d="M975.76 77.81h6.5v6.5h-6.5zM861.76 89.81h6.5v6.5h-6.5zM915.76 95.81h6.5v6.5h-6.5zM933.76 131.81h6.5v6.5h-6.5zM885.76 155.81h6.5v6.5h-6.5zM897.76 209.81h6.5v6.5h-6.5zM1029.76 209.81h6.5v6.5h-6.5zM1041.76 227.81h6.5v6.5h-6.5zM1047.76 233.81h6.5v6.5h-6.5zM759.76 239.81h12.5v6.5h-12.5zM837.76 239.81h6.5v6.5h-6.5zM879.76 239.81h6.5v6.5h-6.5zM1059.76 239.81h6.5v6.5h-6.5zM747.76 245.81h6.5v6.5h-6.5zM849.76 245.81h6.5v6.5h-6.5zM873.76 245.81h6.5v6.5h-6.5zM1071.76 245.81h30.5v6.5h-30.5zM855.76 251.81h6.5v6.5h-6.5zM873.76 251.81h6.5v6.5h-6.5zM1119.76 251.81h18.5v6.5h-18.5zM849.76 257.81h6.5v6.5h-6.5zM1143.76 257.81h6.5v6.5h-6.5zM747.76 263.81h6.5v6.5h-6.5zM879.76 263.81h6.5v6.5h-6.5zM1155.76 263.81h6.5v6.5h-6.5zM843.76 269.81h6.5v6.5h-6.5zM1155.76 269.81h6.5v6.5h-6.5zM759.76 275.81h6.5v6.5h-6.5zM837.76 275.81h6.5v6.5h-6.5zM1137.76 275.81h12.5v6.5h-12.5zM771.76 281.81h18.5v6.5h-18.5zM825.76 281.81h6.5v6.5h-6.5zM885.76 281.81h6.5v6.5h-6.5zM1071.76 281.81h30.5v6.5h-30.5zM1047.76 287.81h6.5v6.5h-6.5zM1035.76 293.81h6.5v6.5h-6.5z"/>
<path fill="#a9a9a9" d="M879.76 77.81h6.5v6.5h-6.5zM987.76 89.81h6.5v6.5h-6.5zM945.76 125.81h6.5v6.5h-6.5zM1017.76 185.81h6.5v6.5h-6.5zM891.76 221.81h6.5v6.5h-6.5zM885.76 233.81h6.5v6.5h-6.5zM771.76 239.81h6.5v6.5h-6.5zM831.76 239.81h6.5v6.5h-6.5zM1053.76 239.81h6.5v6.5h-6.5zM1059.76 245.81h12.5v6.5h-12.5zM747.76 251.81h6.5v6.5h-6.5zM849.76 251.81h6.5v6.5h-6.5zM1095.76 251.81h24.5v6.5h-24.5zM747.76 257.81h6.5v6.5h-6.5zM1131.76 257.81h12.5v6.5h-12.5zM843.76 263.81h6.5v6.5h-6.5zM1143.76 263.81h12.5v6.5h-12.5zM753.76 269.81h6.5v6.5h-6.5zM837.76 269.81h6.5v6.5h-6.5zM1143.76 269.81h12.5v6.5h-12.5zM765.76 275.81h6.5v6.5h-6.5zM831.76 275.81h6.5v6.5h-6.5zM885.76 275.81h6.5v6.5h-6.5zM1125.76 275.81h12.5v6.5h-12.5zM789.76 281.81h36.5v6.5h-36.5zM1059.76 281.81h12.5v6.5h-12.5zM927.76 317.81h6.5v6.5h-6.5zM999.76 317.81h6.5v6.5h-6.5zM945.76 329.81h6.5v6.5h-6.5zM981.76 329.81h6.5v6.5h-6.5z"/>
<path fill="#a8a8a8" d="M849.76 83.81h6.5v6.5h-6.5zM987.76 83.81h6.5v6.5h-6.5zM975.76 95.81h6.5v6.5h-6.5zM909.76 143.81h6.5v6.5h-6.5zM1017.76 179.81h6.5v6.5h-6.5zM903.76 203.81h6.5v6.5h-6.5zM1035.76 221.81h6.5v6.5h-6.5zM777.76 239.81h24.5v6.5h-24.5zM819.76 239.81h12.5v6.5h-12.5zM1047.76 239.81h6.5v6.5h-6.5zM753.76 245.81h6.5v6.5h-6.5zM843.76 245.81h6.5v6.5h-6.5zM879.76 245.81h6.5v6.5h-6.5zM1071.76 251.81h24.5v6.5h-24.5zM843.76 257.81h6.5v6.5h-6.5zM879.76 257.81h6.5v6.5h-6.5zM1119.76 257.81h12.5v6.5h-12.5zM753.76 263.81h6.5v6.5h-6.5zM1137.76 263.81h6.5v6.5h-6.5zM759.76 269.81h6.5v6.5h-6.5zM1137.76 269.81h6.5v6.5h-6.5zM771.76 275.81h18.5v6.5h-18.5zM825.76 275.81h6.5v6.5h-6.5zM1101.76 275.81h24.5v6.5h-24.5zM1053.76 281.81h6.5v6.5h-6.5zM891.76 287.81h6.5v6.5h-6.5zM1041.76 287.81h6.5v6.5h-6.5zM903.76 299.81h6.5v6.5h-6.5zM1023.76 299.81h6.5v6.5h-6.5zM921.76 311.81h6.5v6.5h-6.5zM1005.76 311.81h6.5v6.5h-6.5z"/>
<path fill="#a7a7a7" d="M885.76 77.81h6.5v6.5h-6.5zM867.76 89.81h6.5v6.5h-6.5zM921.76 95.81h6.5v6.5h-6.5zM1005.76 143.81h6.5v6.5h-6.5zM1017.76 155.81h6.5v6.5h-6.5zM885.76 161.81h6.5v6.5h-6.5zM903.76 179.81h6.5v6.5h-6.5zM1017.76 191.81h6.5v6.5h-6.5zM1023.76 203.81h6.5v6.5h-6.5zM1041.76 233.81h6.5v6.5h-6.5zM801.76 239.81h18.5v6.5h-18.5zM759.76 245.81h6.5v6.5h-6.5zM837.76 245.81h6.5v6.5h-6.5zM1053.76 245.81h6.5v6.5h-6.5zM753.76 251.81h6.5v6.5h-6.5zM843.76 251.81h6.5v6.5h-6.5zM879.76 251.81h6.5v6.5h-6.5zM1059.76 251.81h12.5v6.5h-12.5zM753.76 257.81h6.5v6.5h-6.5zM1089.76 257.81h30.5v6.5h-30.5zM759.76 263.81h6.5v6.5h-6.5zM837.76 263.81h6.5v6.5h-6.5zM1119.76 263.81h18.5v6.5h-18.5zM765.76 269.81h12.5v6.5h-12.5zM831.76 269.81h6.5v6.5h-6.5zM885.76 269.81h6.5v6.5h-6.5zM1119.76 269.81h18.5v6.5h-18.5zM789.76 275.81h36.5v6.5h-36.5zM1071.76 275.81h30.5v6.5h-30.5zM1047.76 281.81h6.5v6.5h-6.5zM897.76 293.81h6.5v6.5h-6.5z"/>
<path fill="#a6a6a6" d="M969.76 77.81h6.5v6.5h-6.5zM1017.76 173.81h6.5v6.5h-6.5zM909.76 191.81h6.5v6.5h-6.5zM897.76 215.81h6.5v6.5h-6.5zM1029.76 215.81h6.5v6.5h-6.5zM891.76 227.81h6.5v6.5h-6.5zM885.76 239.81h6.5v6.5h-6.5zM765.76 245.81h12.5v6.5h-12.5zM831.76 245.81h6.5v6.5h-6.5zM1047.76 245.81h6.5v6.5h-6.5zM759.76 251.81h6.5v6.5h-6.5zM837.76 251.81h6.5v6.5h-6.5zM1053.76 251.81h6.5v6.5h-6.5zM759.76 257.81h6.5v6.5h-6.5zM837.76 257.81h6.5v6.5h-6.5zM1065.76 257.81h24.5v6.5h-24.5zM765.76 263.81h6.5v6.5h-6.5zM831.76 263.81h6.5v6.5h-6.5zM885.76 263.81h6.5v6.5h-6.5zM1095.76 263.81h24.5v6.5h-24.5zM777.76 269.81h18.5v6.5h-18.5zM819.76 269.81h12.5v6.5h-12.5zM1095.76 269.81h24.5v6.5h-24.5zM1059.76 275.81h12.5v6.5h-12.5zM891.76 281.81h6.5v6.5h-6.5zM1029.76 293.81h6.5v6.5h-6.5zM915.76 305.81h6.5v6.5h-6.5zM1011.76 305.81h6.5v6.5h-6.5zM939.76 323.81h6.5v6.5h-6.5zM951.76 329.81h6.5v6.5h-6.5z"/>
<path fill="#a5a5a5" d="M891.76 77.81h6.5v6.5h-6.5zM855.76 83.81h6.5v6.5h-6.5zM897.76 149.81h6.5v6.5h-6.5zM1011.76 149.81h6.5v6.5h-6.5zM897.76 173.81h6.5v6.5h-6.5zM1035.76 227.81h6.5v6.5h-6.5zM1041.76 239.81h6.5v6.5h-6.5zM777.76 245.81h18.5v6.5h-18.5zM819.76 245.81h12.5v6.5h-12.5zM765.76 251.81h6.5v6.5h-6.5zM831.76 251.81h6.5v6.5h-6.5zM765.76 257.81h12.5v6.5h-12.5zM831.76 257.81h6.5v6.5h-6.5zM1059.76 257.81h6.5v6.5h-6.5zM771.76 263.81h12.5v6.5h-12.5zM825.76 263.81h6.5v6.5h-6.5zM1071.76 263.81h24.5v6.5h-24.5zM795.76 269.81h24.5v6.5h-24.5zM1071.76 269.81h24.5v6.5h-24.5zM1053.76 275.81h6.5v6.5h-6.5zM1035.76 287.81h6.5v6.5h-6.5zM987.76 323.81h6.5v6.5h-6.5zM975.76 329.81h6.5v6.5h-6.5z"/>
<path fill="#a4a4a4" d="M873.76 89.81h6.5v6.5h-6.5zM927.76 95.81h6.5v6.5h-6.5zM969.76 95.81h6.5v6.5h-6.5zM951.76 125.81h6.5v6.5h-6.5zM975.76 125.81h6.5v6.5h-6.5zM987.76 131.81h6.5v6.5h-6.5zM1017.76 161.81h6.5v6.5h-6.5zM891.76 167.81h6.5v6.5h-6.5zM1017.76 167.81h6.5v6.5h-6.5zM909.76 185.81h6.5v6.5h-6.5zM891.76 233.81h6.5v6.5h-6.5zM795.76 245.81h24.5v6.5h-24.5zM885.76 245.81h6.5v6.5h-6.5zM771.76 251.81h12.5v6.5h-12.5zM825.76 251.81h6.5v6.5h-6.5zM1047.76 251.81h6.5v6.5h-6.5zM777.76 257.81h12.5v6.5h-12.5zM825.76 257.81h6.5v6.5h-6.5zM885.76 257.81h6.5v6.5h-6.5zM1053.76 257.81h6.5v6.5h-6.5zM783.76 263.81h42.5v6.5h-42.5zM1059.76 263.81h12.5v6.5h-12.5zM1059.76 269.81h12.5v6.5h-12.5zM891.76 275.81h6.5v6.5h-6.5zM1041.76 281.81h6.5v6.5h-6.5zM933.76 317.81h6.5v6.5h-6.5zM957.76 329.81h6.5v6.5h-6.5z"/>
<path fill="#a3a3a3" d="M897.76 77.81h6.5v6.5h-6.5zM981.76 89.81h6.5v6.5h-6.5zM909.76 197.81h6.5v6.5h-6.5zM897.76 221.81h6.5v6.5h-6.5zM1035.76 233.81h6.5v6.5h-6.5zM1041.76 245.81h6.5v6.5h-6.5zM783.76 251.81h42.5v6.5h-42.5zM885.76 251.81h6.5v6.5h-6.5zM789.76 257.81h36.5v6.5h-36.5zM1053.76 263.81h6.5v6.5h-6.5zM1053.76 269.81h6.5v6.5h-6.5zM1047.76 275.81h6.5v6.5h-6.5zM897.76 287.81h6.5v6.5h-6.5zM1017.76 299.81h6.5v6.5h-6.5zM993.76 317.81h6.5v6.5h-6.5zM963.76 329.81h12.5v6.5h-12.5z"/>
<path fill="#a2a2a2" d="M963.76 77.81h6.5v6.5h-6.5zM861.76 83.81h6.5v6.5h-6.5zM927.76 137.81h6.5v6.5h-6.5zM1017.76 197.81h6.5v6.5h-6.5zM903.76 209.81h6.5v6.5h-6.5zM1029.76 221.81h6.5v6.5h-6.5zM1047.76 257.81h6.5v6.5h-6.5zM891.76 269.81h6.5v6.5h-6.5zM909.76 299.81h6.5v6.5h-6.5zM927.76 311.81h6.5v6.5h-6.5z"/>
<path fill="#a1a1a1" d="M903.76 77.81h6.5v6.5h-6.5zM981.76 83.81h6.5v6.5h-6.5zM879.76 89.81h6.5v6.5h-6.5zM933.76 95.81h6.5v6.5h-6.5zM939.76 131.81h6.5v6.5h-6.5zM891.76 155.81h6.5v6.5h-6.5zM1023.76 209.81h6.5v6.5h-6.5zM891.76 239.81h6.5v6.5h-6.5zM1041.76 251.81h6.5v6.5h-6.5zM1047.76 263.81h6.5v6.5h-6.5zM1047.76 269.81h6.5v6.5h-6.5zM1041.76 275.81h6.5v6.5h-6.5zM1035.76 281.81h6.5v6.5h-6.5zM1029.76 287.81h6.5v6.5h-6.5zM903.76 293.81h6.5v6.5h-6.5zM1023.76 293.81h6.5v6.5h-6.5zM999.76 311.81h6.5v6.5h-6.5zM945.76 323.81h6.5v6.5h-6.5zM981.76 323.81h6.5v6.5h-6.5z"/>
<path fill="#a0a0a0" d="M963.76 95.81h6.5v6.5h-6.5zM957.76 125.81h6.5v6.5h-6.5zM969.76 125.81h6.5v6.5h-6.5zM897.76 227.81h6.5v6.5h-6.5zM1035.76 239.81h6.5v6.5h-6.5zM891.76 263.81h6.5v6.5h-6.5zM897.76 281.81h6.5v6.5h-6.5z"/>
<path fill="#9f9f9f" d="M909.76 77.81h6.5v6.5h-6.5zM957.76 77.81h6.5v6.5h-6.5zM867.76 83.81h6.5v6.5h-6.5zM939.76 95.81h6.5v6.5h-6.5zM963.76 125.81h6.5v6.5h-6.5zM993.76 137.81h6.5v6.5h-6.5zM915.76 143.81h6.5v6.5h-6.5zM1029.76 227.81h6.5v6.5h-6.5zM891.76 245.81h6.5v6.5h-6.5zM1035.76 245.81h6.5v6.5h-6.5zM891.76 257.81h6.5v6.5h-6.5zM1041.76 257.81h6.5v6.5h-6.5zM1041.76 269.81h6.5v6.5h-6.5zM921.76 305.81h6.5v6.5h-6.5zM1005.76 305.81h6.5v6.5h-6.5z"/>
<path fill="#9e9e9e" d="M885.76 89.81h6.5v6.5h-6.5zM945.76 95.81h6.5v6.5h-6.5zM957.76 95.81h6.5v6.5h-6.5zM891.76 161.81h6.5v6.5h-6.5zM903.76 215.81h6.5v6.5h-6.5zM891.76 251.81h6.5v6.5h-6.5zM1041.76 263.81h6.5v6.5h-6.5zM939.76 317.81h6.5v6.5h-6.5z"/>
<path fill="#9d9d9d" d="M915.76 77.81h6.5v6.5h-6.5zM975.76 89.81h6.5v6.5h-6.5zM951.76 95.81h6.5v6.5h-6.5zM909.76 203.81h6.5v6.5h-6.5zM1023.76 215.81h6.5v6.5h-6.5zM897.76 233.81h6.5v6.5h-6.5zM1035.76 251.81h6.5v6.5h-6.5zM897.76 275.81h6.5v6.5h-6.5zM1035.76 275.81h6.5v6.5h-6.5zM987.76 317.81h6.5v6.5h-6.5zM951.76 323.81h6.5v6.5h-6.5zM975.76 323.81h6.5v6.5h-6.5z"/>
<path fill="#9c9c9c" d="M921.76 77.81h6.5v6.5h-6.5zM951.76 77.81h6.5v6.5h-6.5zM873.76 83.81h6.5v6.5h-6.5zM891.76 89.81h6.5v6.5h-6.5zM903.76 149.81h6.5v6.5h-6.5zM1017.76 203.81h6.5v6.5h-6.5zM1029.76 233.81h6.5v6.5h-6.5zM1029.76 281.81h6.5v6.5h-6.5zM903.76 287.81h6.5v6.5h-6.5zM915.76 299.81h6.5v6.5h-6.5zM1011.76 299.81h6.5v6.5h-6.5z"/>
<path fill="#9b9b9b" d="M927.76 77.81h12.5v6.5h-12.5zM945.76 77.81h6.5v6.5h-6.5zM975.76 83.81h6.5v6.5h-6.5zM909.76 179.81h6.5v6.5h-6.5zM1011.76 185.81h6.5v6.5h-6.5zM1035.76 257.81h6.5v6.5h-6.5zM897.76 269.81h6.5v6.5h-6.5zM1035.76 269.81h6.5v6.5h-6.5zM1023.76 287.81h6.5v6.5h-6.5zM933.76 311.81h6.5v6.5h-6.5zM993.76 311.81h6.5v6.5h-6.5zM957.76 323.81h6.5v6.5h-6.5zM969.76 323.81h6.5v6.5h-6.5z"/>
<path fill="#9a9a9a" d="M939.76 77.81h6.5v6.5h-6.5zM981.76 131.81h6.5v6.5h-6.5zM1011.76 155.81h6.5v6.5h-6.5zM903.76 173.81h6.5v6.5h-6.5zM1011.76 179.81h6.5v6.5h-6.5zM903.76 221.81h6.5v6.5h-6.5zM1023.76 221.81h6.5v6.5h-6.5zM897.76 239.81h6.5v6.5h-6.5zM1029.76 239.81h6.5v6.5h-6.5zM1035.76 263.81h6.5v6.5h-6.5zM909.76 293.81h6.5v6.5h-6.5zM1017.76 293.81h6.5v6.5h-6.5zM963.76 323.81h6.5v6.5h-6.5z"/>
<path fill="#999999" d="M879.76 83.81h6.5v6.5h-6.5zM897.76 89.81h6.5v6.5h-6.5zM999.76 143.81h6.5v6.5h-6.5zM897.76 167.81h6.5v6.5h-6.5zM1011.76 191.81h6.5v6.5h-6.5zM897.76 263.81h6.5v6.5h-6.5zM945.76 317.81h6.5v6.5h-6.5z"/>
<path fill="#989898" d="M945.76 131.81h6.5v6.5h-6.5zM1011.76 173.81h6.5v6.5h-6.5zM915.76 191.81h6.5v6.5h-6.5zM897.76 245.81h6.5v6.5h-6.5zM1029.76 245.81h6.5v6.5h-6.5zM897.76 257.81h6.5v6.5h-6.5zM1029.76 275.81h6.5v6.5h-6.5zM903.76 281.81h6.5v6.5h-6.5zM927.76 305.81h6.5v6.5h-6.5zM999.76 305.81h6.5v6.5h-6.5zM981.76 317.81h6.5v6.5h-6.5z"/>
<path fill="#979797" d="M903.76 89.81h6.5v6.5h-6.5zM969.76 89.81h6.5v6.5h-6.5zM933.76 137.81h6.5v6.5h-6.5zM1005.76 149.81h6.5v6.5h-6.5zM897.76 155.81h6.5v6.5h-6.5zM909.76 209.81h6.5v6.5h-6.5zM903.76 227.81h6.5v6.5h-6.5zM897.76 251.81h6.5v6.5h-6.5zM1029.76 251.81h6.5v6.5h-6.5z"/>
<path fill="#969696" d="M885.76 83.81h6.5v6.5h-6.5zM1011.76 161.81h6.5v6.5h-6.5zM1011.76 167.81h6.5v6.5h-6.5zM915.76 185.81h6.5v6.5h-6.5zM1017.76 209.81h6.5v6.5h-6.5zM1023.76 227.81h6.5v6.5h-6.5zM1023.76 281.81h6.5v6.5h-6.5z"/>
<path fill="#959595" d="M969.76 83.81h6.5v6.5h-6.5zM915.76 197.81h6.5v6.5h-6.5zM903.76 233.81h6.5v6.5h-6.5zM1029.76 257.81h6.5v6.5h-6.5zM1029.76 263.81h6.5v6.5h-6.5zM1029.76 269.81h6.5v6.5h-6.5zM903.76 275.81h6.5v6.5h-6.5zM939.76 311.81h6.5v6.5h-6.5zM951.76 317.81h6.5v6.5h-6.5z"/>
<path fill="#949494" d="M891.76 83.81h6.5v6.5h-6.5zM909.76 89.81h6.5v6.5h-6.5zM921.76 143.81h6.5v6.5h-6.5zM1011.76 197.81h6.5v6.5h-6.5zM1023.76 233.81h6.5v6.5h-6.5zM909.76 287.81h6.5v6.5h-6.5zM921.76 299.81h6.5v6.5h-6.5zM1005.76 299.81h6.5v6.5h-6.5zM987.76 311.81h6.5v6.5h-6.5zM975.76 317.81h6.5v6.5h-6.5z"/>
<path fill="#939393" d="M963.76 89.81h6.5v6.5h-6.5zM975.76 131.81h6.5v6.5h-6.5zM987.76 137.81h6.5v6.5h-6.5zM897.76 161.81h6.5v6.5h-6.5zM909.76 215.81h6.5v6.5h-6.5zM1017.76 287.81h6.5v6.5h-6.5z"/>
<path fill="#929292" d="M915.76 89.81h6.5v6.5h-6.5zM951.76 131.81h6.5v6.5h-6.5zM1017.76 215.81h6.5v6.5h-6.5zM903.76 239.81h6.5v6.5h-6.5zM1023.76 239.81h6.5v6.5h-6.5zM903.76 269.81h6.5v6.5h-6.5zM957.76 317.81h6.5v6.5h-6.5z"/>
<path fill="#919191" d="M897.76 83.81h6.5v6.5h-6.5zM963.76 83.81h6.5v6.5h-6.5zM909.76 149.81h6.5v6.5h-6.5zM1023.76 275.81h6.5v6.5h-6.5zM915.76 293.81h6.5v6.5h-6.5zM1011.76 293.81h6.5v6.5h-6.5zM933.76 305.81h6.5v6.5h-6.5zM993.76 305.81h6.5v6.5h-6.5zM963.76 317.81h12.5v6.5h-12.5z"/>
<path fill="#909090" d="M921.76 89.81h6.5v6.5h-6.5zM1023.76 245.81h6.5v6.5h-6.5zM903.76 263.81h6.5v6.5h-6.5z"/>
<path fill="#8f8f8f" d="M903.76 83.81h6.5v6.5h-6.5zM957.76 89.81h6.5v6.5h-6.5zM915.76 203.81h6.5v6.5h-6.5zM909.76 221.81h6.5v6.5h-6.5zM903.76 245.81h6.5v6.5h-6.5zM909.76 281.81h6.5v6.5h-6.5zM945.76 311.81h6.5v6.5h-6.5z"/>
<path fill="#8e8e8e" d="M927.76 89.81h6.5v6.5h-6.5zM969.76 131.81h6.5v6.5h-6.5zM1017.76 221.81h6.5v6.5h-6.5zM903.76 251.81h6.5v6.5h-6.5zM1023.76 251.81h6.5v6.5h-6.5zM903.76 257.81h6.5v6.5h-6.5zM1023.76 269.81h6.5v6.5h-6.5zM981.76 311.81h6.5v6.5h-6.5z"/>
<path fill="#8d8d8d" d="M909.76 83.81h6.5v6.5h-6.5zM957.76 83.81h6.5v6.5h-6.5zM933.76 89.81h6.5v6.5h-6.5zM951.76 89.81h6.5v6.5h-6.5zM957.76 131.81h6.5v6.5h-6.5zM939.76 137.81h6.5v6.5h-6.5zM903.76 167.81h6.5v6.5h-6.5zM909.76 173.81h6.5v6.5h-6.5zM915.76 179.81h6.5v6.5h-6.5zM1011.76 203.81h6.5v6.5h-6.5zM1023.76 257.81h6.5v6.5h-6.5zM1017.76 281.81h6.5v6.5h-6.5z"/>
<path fill="#8c8c8c" d="M939.76 89.81h12.5v6.5h-12.5zM963.76 131.81h6.5v6.5h-6.5zM909.76 227.81h6.5v6.5h-6.5zM1023.76 263.81h6.5v6.5h-6.5z"/>
<path fill="#8b8b8b" d="M915.76 83.81h6.5v6.5h-6.5zM993.76 143.81h6.5v6.5h-6.5zM903.76 155.81h6.5v6.5h-6.5zM1005.76 155.81h6.5v6.5h-6.5zM1017.76 227.81h6.5v6.5h-6.5zM909.76 275.81h6.5v6.5h-6.5zM927.76 299.81h6.5v6.5h-6.5zM999.76 299.81h6.5v6.5h-6.5z"/>
<path fill="#8a8a8a" d="M951.76 83.81h6.5v6.5h-6.5zM909.76 233.81h6.5v6.5h-6.5zM915.76 287.81h6.5v6.5h-6.5zM939.76 305.81h6.5v6.5h-6.5zM951.76 311.81h6.5v6.5h-6.5zM975.76 311.81h6.5v6.5h-6.5z"/>
<path fill="#898989" d="M921.76 83.81h6.5v6.5h-6.5zM927.76 143.81h6.5v6.5h-6.5zM1005.76 185.81h6.5v6.5h-6.5zM915.76 209.81h6.5v6.5h-6.5zM1017.76 233.81h6.5v6.5h-6.5zM1011.76 287.81h6.5v6.5h-6.5zM987.76 305.81h6.5v6.5h-6.5z"/>
<path fill="#888888" d="M927.76 83.81h6.5v6.5h-6.5zM945.76 83.81h6.5v6.5h-6.5zM981.76 137.81h6.5v6.5h-6.5zM1005.76 179.81h6.5v6.5h-6.5zM921.76 191.81h6.5v6.5h-6.5zM1005.76 191.81h6.5v6.5h-6.5zM909.76 269.81h6.5v6.5h-6.5z"/>
<path fill="#878787" d="M933.76 83.81h12.5v6.5h-12.5zM999.76 149.81h6.5v6.5h-6.5zM1005.76 173.81h6.5v6.5h-6.5zM1011.76 209.81h6.5v6.5h-6.5zM1017.76 275.81h6.5v6.5h-6.5zM921.76 293.81h6.5v6.5h-6.5zM1005.76 293.81h6.5v6.5h-6.5zM957.76 311.81h6.5v6.5h-6.5zM969.76 311.81h6.5v6.5h-6.5z"/>
<path fill="#868686" d="M903.76 161.81h6.5v6.5h-6.5zM1005.76 161.81h6.5v6.5h-6.5zM1005.76 167.81h6.5v6.5h-6.5zM921.76 185.81h6.5v6.5h-6.5zM909.76 239.81h6.5v6.5h-6.5zM1017.76 239.81h6.5v6.5h-6.5zM963.76 311.81h6.5v6.5h-6.5z"/>
<path fill="#858585" d="M915.76 149.81h6.5v6.5h-6.5zM915.76 215.81h6.5v6.5h-6.5zM1017.76 245.81h6.5v6.5h-6.5zM909.76 263.81h6.5v6.5h-6.5z"/>
<path fill="#848484" d="M945.76 137.81h6.5v6.5h-6.5zM921.76 197.81h6.5v6.5h-6.5zM909.76 245.81h6.5v6.5h-6.5zM1017.76 269.81h6.5v6.5h-6.5zM915.76 281.81h6.5v6.5h-6.5z"/>
<path fill="#838383" d="M1005.76 197.81h6.5v6.5h-6.5zM1011.76 215.81h6.5v6.5h-6.5zM909.76 251.81h6.5v6.5h-6.5zM1017.76 251.81h6.5v6.5h-6.5zM909.76 257.81h6.5v6.5h-6.5zM945.76 305.81h6.5v6.5h-6.5zM981.76 305.81h6.5v6.5h-6.5z"/>
<path fill="#828282" d="M915.76 221.81h6.5v6.5h-6.5zM1017.76 257.81h6.5v6.5h-6.5zM1017.76 263.81h6.5v6.5h-6.5zM1011.76 281.81h6.5v6.5h-6.5z"/>
<path fill="#818181" d="M933.76 299.81h6.5v6.5h-6.5zM993.76 299.81h6.5v6.5h-6.5z"/>
<path fill="#808080" d="M1011.76 221.81h6.5v6.5h-6.5z"/>
<path fill="#7f7f7f" d="M975.76 137.81h6.5v6.5h-6.5zM909.76 167.81h6.5v6.5h-6.5zM915.76 173.81h6.5v6.5h-6.5zM915.76 227.81h6.5v6.5h-6.5zM915.76 275.81h6.5v6.5h-6.5z"/>
<path fill="#7e7e7e" d="M933.76 143.81h6.5v6.5h-6.5zM909.76 155.81h6.5v6.5h-6.5zM921.76 203.81h6.5v6.5h-6.5zM921.76 287.81h6.5v6.5h-6.5zM951.76 305.81h6.5v6.5h-6.5z"/>
<path fill="#7d7d7d" d="M951.76 137.81h6.5v6.5h-6.5zM987.76 143.81h6.5v6.5h-6.5zM921.76 179.81h6.5v6.5h-6.5zM1011.76 227.81h6.5v6.5h-6.5zM1005.76 287.81h6.5v6.5h-6.5zM975.76 305.81h6.5v6.5h-6.5z"/>
<path fill="#7c7c7c" d="M1005.76 203.81h6.5v6.5h-6.5zM915.76 233.81h6.5v6.5h-6.5zM1011.76 275.81h6.5v6.5h-6.5zM927.76 293.81h6.5v6.5h-6.5z"/>
<path fill="#7b7b7b" d="M915.76 269.81h6.5v6.5h-6.5zM999.76 293.81h6.5v6.5h-6.5z"/>
<path fill="#7a7a7a" d="M1011.76 233.81h6.5v6.5h-6.5zM957.76 305.81h6.5v6.5h-6.5zM969.76 305.81h6.5v6.5h-6.5z"/>
<path fill="#797979" d="M969.76 137.81h6.5v6.5h-6.5zM921.76 149.81h6.5v6.5h-6.5zM999.76 155.81h6.5v6.5h-6.5zM921.76 209.81h6.5v6.5h-6.5zM915.76 239.81h6.5v6.5h-6.5zM963.76 305.81h6.5v6.5h-6.5z"/>
<path fill="#787878" d="M957.76 137.81h6.5v6.5h-6.5zM909.76 161.81h6.5v6.5h-6.5zM1011.76 239.81h6.5v6.5h-6.5zM915.76 263.81h6.5v6.5h-6.5zM939.76 299.81h6.5v6.5h-6.5z"/>
<path fill="#777777" d="M963.76 137.81h6.5v6.5h-6.5zM993.76 149.81h6.5v6.5h-6.5zM1011.76 245.81h6.5v6.5h-6.5zM1011.76 269.81h6.5v6.5h-6.5zM921.76 281.81h6.5v6.5h-6.5zM987.76 299.81h6.5v6.5h-6.5z"/>
<path fill="#767676" d="M999.76 185.81h6.5v6.5h-6.5zM1005.76 209.81h6.5v6.5h-6.5zM915.76 245.81h6.5v6.5h-6.5zM915.76 257.81h6.5v6.5h-6.5z"/>
<path fill="#757575" d="M999.76 179.81h6.5v6.5h-6.5zM927.76 191.81h6.5v6.5h-6.5zM921.76 215.81h6.5v6.5h-6.5zM915.76 251.81h6.5v6.5h-6.5zM1011.76 251.81h6.5v6.5h-6.5zM1011.76 263.81h6.5v6.5h-6.5zM1005.76 281.81h6.5v6.5h-6.5z"/>
<path fill="#747474" d="M999.76 173.81h6.5v6.5h-6.5zM927.76 185.81h6.5v6.5h-6.5zM999.76 191.81h6.5v6.5h-6.5zM1011.76 257.81h6.5v6.5h-6.5z"/>
<path fill="#737373" d="M939.76 143.81h6.5v6.5h-6.5zM999.76 161.81h6.5v6.5h-6.5zM999.76 167.81h6.5v6.5h-6.5z"/>
<path fill="#727272" d="M927.76 197.81h6.5v6.5h-6.5zM1005.76 215.81h6.5v6.5h-6.5z"/>
<path fill="#717171" d="M915.76 155.81h6.5v6.5h-6.5zM915.76 167.81h6.5v6.5h-6.5zM921.76 221.81h6.5v6.5h-6.5zM921.76 275.81h6.5v6.5h-6.5zM927.76 287.81h6.5v6.5h-6.5z"/>
<path fill="#707070" d="M981.76 143.81h6.5v6.5h-6.5zM933.76 293.81h6.5v6.5h-6.5z"/>
<path fill="#6f6f6f" d="M921.76 173.81h6.5v6.5h-6.5zM999.76 197.81h6.5v6.5h-6.5zM1005.76 221.81h6.5v6.5h-6.5zM999.76 287.81h6.5v6.5h-6.5zM993.76 293.81h6.5v6.5h-6.5zM945.76 299.81h6.5v6.5h-6.5zM981.76 299.81h6.5v6.5h-6.5z"/>
<path fill="#6e6e6e" d="M921.76 227.81h6.5v6.5h-6.5z"/>
<path fill="#6d6d6d" d="M927.76 149.81h6.5v6.5h-6.5zM1005.76 275.81h6.5v6.5h-6.5z"/>
<path fill="#6c6c6c" d="M927.76 179.81h6.5v6.5h-6.5zM927.76 203.81h6.5v6.5h-6.5zM1005.76 227.81h6.5v6.5h-6.5zM921.76 269.81h6.5v6.5h-6.5z"/>
<path fill="#6b6b6b" d="M921.76 233.81h6.5v6.5h-6.5z"/>
<path fill="#6a6a6a" d="M915.76 161.81h6.5v6.5h-6.5z"/>
<path fill="#696969" d="M945.76 143.81h6.5v6.5h-6.5zM999.76 203.81h6.5v6.5h-6.5zM1005.76 233.81h6.5v6.5h-6.5zM927.76 281.81h6.5v6.5h-6.5zM951.76 299.81h6.5v6.5h-6.5z"/>
<path fill="#686868" d="M921.76 239.81h6.5v6.5h-6.5zM921.76 263.81h6.5v6.5h-6.5zM1005.76 269.81h6.5v6.5h-6.5zM975.76 299.81h6.5v6.5h-6.5z"/>
<path fill="#676767" d="M987.76 149.81h6.5v6.5h-6.5zM993.76 155.81h6.5v6.5h-6.5zM1005.76 239.81h6.5v6.5h-6.5z"/>
<path fill="#666666" d="M975.76 143.81h6.5v6.5h-6.5zM927.76 209.81h6.5v6.5h-6.5zM921.76 245.81h6.5v6.5h-6.5zM1005.76 245.81h6.5v6.5h-6.5zM921.76 257.81h6.5v6.5h-6.5zM999.76 281.81h6.5v6.5h-6.5z"/>
<path fill="#656565" d="M921.76 251.81h6.5v6.5h-6.5zM1005.76 251.81h6.5v6.5h-6.5zM1005.76 263.81h6.5v6.5h-6.5z"/>
<path fill="#646464" d="M921.76 155.81h6.5v6.5h-6.5zM1005.76 257.81h6.5v6.5h-6.5zM939.76 293.81h6.5v6.5h-6.5zM957.76 299.81h6.5v6.5h-6.5zM969.76 299.81h6.5v6.5h-6.5z"/>
<path fill="#636363" d="M999.76 209.81h6.5v6.5h-6.5zM933.76 287.81h6.5v6.5h-6.5zM987.76 293.81h6.5v6.5h-6.5z"/>
<path fill="#626262" d="M933.76 149.81h6.5v6.5h-6.5zM921.76 167.81h6.5v6.5h-6.5zM927.76 215.81h6.5v6.5h-6.5zM963.76 299.81h6.5v6.5h-6.5z"/>
<path fill="#616161" d="M951.76 143.81h6.5v6.5h-6.5zM993.76 179.81h6.5v6.5h-6.5zM993.76 185.81h6.5v6.5h-6.5zM933.76 191.81h6.5v6.5h-6.5zM927.76 275.81h6.5v6.5h-6.5zM993.76 287.81h6.5v6.5h-6.5z"/>
<path fill="#606060" d="M993.76 161.81h6.5v6.5h-6.5zM933.76 185.81h6.5v6.5h-6.5zM993.76 191.81h6.5v6.5h-6.5z"/>
<path fill="#5f5f5f" d="M969.76 143.81h6.5v6.5h-6.5zM993.76 167.81h6.5v6.5h-6.5zM927.76 173.81h6.5v6.5h-6.5zM993.76 173.81h6.5v6.5h-6.5zM999.76 215.81h6.5v6.5h-6.5zM927.76 221.81h6.5v6.5h-6.5z"/>
<path fill="#5e5e5e" d="M999.76 275.81h6.5v6.5h-6.5z"/>
<path fill="#5d5d5d" d="M957.76 143.81h6.5v6.5h-6.5zM933.76 197.81h6.5v6.5h-6.5z"/>
<path fill="#5c5c5c" d="M963.76 143.81h6.5v6.5h-6.5zM921.76 161.81h6.5v6.5h-6.5zM999.76 221.81h6.5v6.5h-6.5zM927.76 227.81h6.5v6.5h-6.5z"/>
<path fill="#5b5b5b" d="M993.76 197.81h6.5v6.5h-6.5zM927.76 269.81h6.5v6.5h-6.5z"/>
<path fill="#5a5a5a" d="M933.76 179.81h6.5v6.5h-6.5z"/>
<path fill="#595959" d="M999.76 227.81h6.5v6.5h-6.5zM927.76 233.81h6.5v6.5h-6.5zM933.76 281.81h6.5v6.5h-6.5zM945.76 293.81h6.5v6.5h-6.5z"/>
<path fill="#585858" d="M981.76 149.81h6.5v6.5h-6.5zM981.76 293.81h6.5v6.5h-6.5z"/>
<path fill="#575757" d="M927.76 155.81h6.5v6.5h-6.5zM933.76 203.81h6.5v6.5h-6.5zM999.76 269.81h6.5v6.5h-6.5zM993.76 281.81h6.5v6.5h-6.5z"/>
<path fill="#565656" d="M939.76 149.81h6.5v6.5h-6.5zM999.76 233.81h6.5v6.5h-6.5zM927.76 239.81h6.5v6.5h-6.5zM927.76 263.81h6.5v6.5h-6.5z"/>
<path fill="#555555" d="M987.76 155.81h6.5v6.5h-6.5zM999.76 239.81h6.5v6.5h-6.5zM939.76 287.81h6.5v6.5h-6.5z"/>
<path fill="#545454" d="M927.76 167.81h6.5v6.5h-6.5zM993.76 203.81h6.5v6.5h-6.5zM927.76 245.81h6.5v6.5h-6.5zM927.76 257.81h6.5v6.5h-6.5z"/>
<path fill="#535353" d="M999.76 245.81h6.5v6.5h-6.5zM927.76 251.81h6.5v6.5h-6.5zM999.76 263.81h6.5v6.5h-6.5zM987.76 287.81h6.5v6.5h-6.5z"/>
<path fill="#525252" d="M933.76 209.81h6.5v6.5h-6.5zM999.76 251.81h6.5v6.5h-6.5zM999.76 257.81h6.5v6.5h-6.5z"/>
<path fill="#515151" d="M933.76 275.81h6.5v6.5h-6.5z"/>
<path fill="#505050" d="M951.76 293.81h6.5v6.5h-6.5z"/>
<path fill="#4f4f4f" d="M927.76 161.81h6.5v6.5h-6.5zM933.76 173.81h6.5v6.5h-6.5zM993.76 209.81h6.5v6.5h-6.5zM975.76 293.81h6.5v6.5h-6.5z"/>
<path fill="#4e4e4e" d="M933.76 215.81h6.5v6.5h-6.5z"/>
<path fill="#4d4d4d" d="M939.76 185.81h6.5v6.5h-6.5zM987.76 185.81h6.5v6.5h-6.5zM939.76 191.81h6.5v6.5h-6.5zM993.76 275.81h6.5v6.5h-6.5z"/>
<path fill="#4c4c4c" d="M945.76 149.81h6.5v6.5h-6.5zM975.76 149.81h6.5v6.5h-6.5zM987.76 161.81h6.5v6.5h-6.5zM987.76 179.81h6.5v6.5h-6.5z"/>
<path fill="#4b4b4b" d="M933.76 155.81h6.5v6.5h-6.5zM987.76 167.81h6.5v6.5h-6.5zM987.76 173.81h6.5v6.5h-6.5zM987.76 191.81h6.5v6.5h-6.5zM993.76 215.81h6.5v6.5h-6.5zM933.76 221.81h6.5v6.5h-6.5z"/>
<path fill="#4a4a4a" d="M939.76 281.81h6.5v6.5h-6.5zM957.76 293.81h6.5v6.5h-6.5zM969.76 293.81h6.5v6.5h-6.5z"/>
<path fill="#494949" d="M939.76 197.81h6.5v6.5h-6.5zM933.76 269.81h6.5v6.5h-6.5z"/>
<path fill="#484848" d="M939.76 179.81h6.5v6.5h-6.5zM933.76 227.81h6.5v6.5h-6.5zM945.76 287.81h6.5v6.5h-6.5zM963.76 293.81h6.5v6.5h-6.5z"/>
<path fill="#474747" d="M993.76 221.81h6.5v6.5h-6.5zM987.76 281.81h6.5v6.5h-6.5zM981.76 287.81h6.5v6.5h-6.5z"/>
<path fill="#464646" d="M987.76 197.81h6.5v6.5h-6.5z"/>
<path fill="#454545" d="M951.76 149.81h6.5v6.5h-6.5zM933.76 167.81h6.5v6.5h-6.5zM993.76 227.81h6.5v6.5h-6.5zM933.76 233.81h6.5v6.5h-6.5zM993.76 269.81h6.5v6.5h-6.5z"/>
<path fill="#444444" d="M981.76 155.81h6.5v6.5h-6.5zM933.76 263.81h6.5v6.5h-6.5z"/>
<path fill="#434343" d="M969.76 149.81h6.5v6.5h-6.5zM939.76 203.81h6.5v6.5h-6.5z"/>
<path fill="#424242" d="M933.76 161.81h6.5v6.5h-6.5zM993.76 233.81h6.5v6.5h-6.5zM933.76 239.81h6.5v6.5h-6.5z"/>
<path fill="#414141" d="M933.76 257.81h6.5v6.5h-6.5z"/>
<path fill="#404040" d="M957.76 149.81h6.5v6.5h-6.5zM987.76 203.81h6.5v6.5h-6.5zM993.76 239.81h6.5v6.5h-6.5zM933.76 245.81h6.5v6.5h-6.5zM993.76 263.81h6.5v6.5h-6.5zM939.76 275.81h6.5v6.5h-6.5z"/>
<path fill="#3f3f3f" d="M963.76 149.81h6.5v6.5h-6.5zM939.76 155.81h6.5v6.5h-6.5zM939.76 173.81h6.5v6.5h-6.5zM993.76 245.81h6.5v6.5h-6.5zM933.76 251.81h6.5v6.5h-6.5z"/>
<path fill="#3e3e3e" d="M939.76 209.81h6.5v6.5h-6.5zM993.76 251.81h6.5v6.5h-6.5zM993.76 257.81h6.5v6.5h-6.5zM951.76 287.81h6.5v6.5h-6.5z"/>
<path fill="#3d3d3d" d="M975.76 287.81h6.5v6.5h-6.5z"/>
<path fill="#3c3c3c" d="M987.76 275.81h6.5v6.5h-6.5zM945.76 281.81h6.5v6.5h-6.5z"/>
<path fill="#3b3b3b" d="M981.76 161.81h6.5v6.5h-6.5zM945.76 185.81h6.5v6.5h-6.5zM981.76 185.81h6.5v6.5h-6.5zM945.76 191.81h6.5v6.5h-6.5z"/>
<path fill="#3a3a3a" d="M981.76 179.81h6.5v6.5h-6.5zM987.76 209.81h6.5v6.5h-6.5zM939.76 215.81h6.5v6.5h-6.5zM981.76 281.81h6.5v6.5h-6.5z"/>
<path fill="#393939" d="M981.76 167.81h6.5v6.5h-6.5zM981.76 173.81h6.5v6.5h-6.5zM981.76 191.81h6.5v6.5h-6.5z"/>
<path fill="#383838" d="M939.76 167.81h6.5v6.5h-6.5zM945.76 179.81h6.5v6.5h-6.5z"/>
<path fill="#373737" d="M945.76 197.81h6.5v6.5h-6.5zM987.76 215.81h6.5v6.5h-6.5zM939.76 221.81h6.5v6.5h-6.5zM939.76 269.81h6.5v6.5h-6.5zM957.76 287.81h6.5v6.5h-6.5z"/>
<path fill="#363636" d="M975.76 155.81h6.5v6.5h-6.5zM969.76 287.81h6.5v6.5h-6.5z"/>
<path fill="#353535" d="M945.76 155.81h6.5v6.5h-6.5zM939.76 161.81h6.5v6.5h-6.5z"/>
<path fill="#343434" d="M981.76 197.81h6.5v6.5h-6.5zM939.76 227.81h6.5v6.5h-6.5zM963.76 287.81h6.5v6.5h-6.5z"/>
<path fill="#333333" d="M987.76 221.81h6.5v6.5h-6.5zM987.76 269.81h6.5v6.5h-6.5z"/>
<path fill="#313131" d="M945.76 173.81h6.5v6.5h-6.5zM945.76 203.81h6.5v6.5h-6.5zM987.76 227.81h6.5v6.5h-6.5zM939.76 233.81h6.5v6.5h-6.5zM939.76 263.81h6.5v6.5h-6.5zM945.76 275.81h6.5v6.5h-6.5zM951.76 281.81h6.5v6.5h-6.5z"/>
<path fill="#2f2f2f" d="M987.76 233.81h6.5v6.5h-6.5zM939.76 239.81h6.5v6.5h-6.5zM975.76 281.81h6.5v6.5h-6.5z"/>
<path fill="#2e2e2e" d="M981.76 203.81h6.5v6.5h-6.5zM939.76 257.81h6.5v6.5h-6.5zM987.76 263.81h6.5v6.5h-6.5zM981.76 275.81h6.5v6.5h-6.5z"/>
<path fill="#2d2d2d" d="M951.76 155.81h6.5v6.5h-6.5zM969.76 155.81h6.5v6.5h-6.5zM951.76 185.81h6.5v6.5h-6.5zM987.76 239.81h6.5v6.5h-6.5zM939.76 245.81h6.5v6.5h-6.5z"/>
<path fill="#2c2c2c" d="M975.76 161.81h6.5v6.5h-6.5zM945.76 167.81h6.5v6.5h-6.5zM975.76 179.81h6.5v6.5h-6.5zM975.76 185.81h6.5v6.5h-6.5zM951.76 191.81h6.5v6.5h-6.5zM987.76 245.81h6.5v6.5h-6.5zM939.76 251.81h6.5v6.5h-6.5z"/>
<path fill="#2b2b2b" d="M945.76 161.81h6.5v6.5h-6.5zM975.76 173.81h6.5v6.5h-6.5zM975.76 191.81h6.5v6.5h-6.5zM945.76 209.81h6.5v6.5h-6.5zM987.76 251.81h6.5v6.5h-6.5zM987.76 257.81h6.5v6.5h-6.5z"/>
<path fill="#2a2a2a" d="M975.76 167.81h6.5v6.5h-6.5zM951.76 179.81h6.5v6.5h-6.5z"/>
<path fill="#292929" d="M957.76 155.81h6.5v6.5h-6.5zM957.76 281.81h6.5v6.5h-6.5z"/>
<path fill="#282828" d="M963.76 155.81h6.5v6.5h-6.5zM951.76 197.81h6.5v6.5h-6.5zM981.76 209.81h6.5v6.5h-6.5zM945.76 215.81h6.5v6.5h-6.5zM969.76 281.81h6.5v6.5h-6.5z"/>
<path fill="#272727" d="M945.76 269.81h6.5v6.5h-6.5z"/>
<path fill="#262626" d="M951.76 173.81h6.5v6.5h-6.5zM975.76 197.81h6.5v6.5h-6.5zM963.76 281.81h6.5v6.5h-6.5z"/>
<path fill="#252525" d="M981.76 215.81h6.5v6.5h-6.5z"/>
<path fill="#242424" d="M957.76 185.81h6.5v6.5h-6.5zM945.76 221.81h6.5v6.5h-6.5zM981.76 269.81h6.5v6.5h-6.5zM951.76 275.81h6.5v6.5h-6.5z"/>
<path fill="#232323" d="M969.76 185.81h6.5v6.5h-6.5zM957.76 191.81h6.5v6.5h-6.5z"/>
<path fill="#222222" d="M951.76 161.81h6.5v6.5h-6.5zM969.76 161.81h6.5v6.5h-6.5zM951.76 167.81h6.5v6.5h-6.5zM957.76 179.81h6.5v6.5h-6.5zM969.76 179.81h6.5v6.5h-6.5zM969.76 191.81h6.5v6.5h-6.5zM951.76 203.81h6.5v6.5h-6.5zM981.76 221.81h6.5v6.5h-6.5zM945.76 227.81h6.5v6.5h-6.5zM975.76 275.81h6.5v6.5h-6.5z"/>
<path fill="#212121" d="M969.76 173.81h6.5v6.5h-6.5z"/>
<path fill="#202020" d="M969.76 167.81h6.5v6.5h-6.5zM963.76 185.81h6.5v6.5h-6.5zM975.76 203.81h6.5v6.5h-6.5zM945.76 263.81h6.5v6.5h-6.5z"/>
<path fill="#1f1f1f" d="M957.76 173.81h6.5v6.5h-6.5zM963.76 179.81h6.5v6.5h-6.5zM963.76 191.81h6.5v6.5h-6.5zM981.76 227.81h6.5v6.5h-6.5zM945.76 233.81h6.5v6.5h-6.5z"/>
<path fill="#1e1e1e" d="M957.76 161.81h6.5v6.5h-6.5zM957.76 197.81h6.5v6.5h-6.5z"/>
<path fill="#1d1d1d" d="M963.76 161.81h6.5v6.5h-6.5zM957.76 167.81h6.5v6.5h-6.5zM963.76 173.81h6.5v6.5h-6.5zM969.76 197.81h6.5v6.5h-6.5zM981.76 233.81h6.5v6.5h-6.5zM945.76 239.81h6.5v6.5h-6.5zM981.76 263.81h6.5v6.5h-6.5z"/>
<path fill="#1c1c1c" d="M963.76 167.81h6.5v6.5h-6.5zM951.76 209.81h6.5v6.5h-6.5zM945.76 257.81h6.5v6.5h-6.5zM957.76 275.81h6.5v6.5h-6.5z"/>
<path fill="#1b1b1b" d="M981.76 239.81h6.5v6.5h-6.5zM945.76 245.81h6.5v6.5h-6.5zM945.76 251.81h6.5v6.5h-6.5zM969.76 275.81h6.5v6.5h-6.5z"/>
<path fill="#1a1a1a" d="M963.76 197.81h6.5v6.5h-6.5zM975.76 209.81h6.5v6.5h-6.5zM981.76 245.81h6.5v6.5h-6.5zM981.76 257.81h6.5v6.5h-6.5zM951.76 269.81h6.5v6.5h-6.5z"/>
<path fill="#191919" d="M951.76 215.81h6.5v6.5h-6.5zM981.76 251.81h6.5v6.5h-6.5zM963.76 275.81h6.5v6.5h-6.5z"/>
<path fill="#181818" d="M957.76 203.81h6.5v6.5h-6.5z"/>
<path fill="#171717" d="M969.76 203.81h6.5v6.5h-6.5zM975.76 215.81h6.5v6.5h-6.5zM975.76 269.81h6.5v6.5h-6.5z"/>
<path fill="#161616" d="M951.76 221.81h6.5v6.5h-6.5z"/>
<path fill="#141414" d="M963.76 203.81h6.5v6.5h-6.5z"/>
<path fill="#131313" d="M975.76 221.81h6.5v6.5h-6.5zM951.76 227.81h6.5v6.5h-6.5z"/>
<path fill="#121212" d="M957.76 209.81h6.5v6.5h-6.5zM951.76 263.81h6.5v6.5h-6.5z"/>
<path fill="#111111" d="M969.76 209.81h6.5v6.5h-6.5zM975.76 227.81h6.5v6.5h-6.5zM951.76 233.81h6.5v6.5h-6.5zM957.76 269.81h6.5v6.5h-6.5z"/>
<path fill="#101010" d="M975.76 263.81h6.5v6.5h-6.5zM969.76 269.81h6.5v6.5h-6.5z"/>
<path fill="#0f0f0f" d="M963.76 209.81h6.5v6.5h-6.5zM957.76 215.81h6.5v6.5h-6.5zM975.76 233.81h6.5v6.5h-6.5z"/>
<path fill="#0e0e0e" d="M969.76 215.81h6.5v6.5h-6.5zM951.76 239.81h6.5v6.5h-6.5zM951.76 257.81h6.5v6.5h-6.5z"/>
<path fill="#0d0d0d" d="M975.76 239.81h6.5v6.5h-6.5zM951.76 245.81h6.5v6.5h-6.5zM951.76 251.81h6.5v6.5h-6.5zM975.76 257.81h6.5v6.5h-6.5zM963.76 269.81h6.5v6.5h-6.5z"/>
<path fill="#0c0c0c" d="M957.76 221.81h6.5v6.5h-6.5zM975.76 245.81h6.5v6.5h-6.5zM975.76 251.81h6.5v6.5h-6.5z"/>
<path fill="#0b0b0b" d="M963.76 215.81h6.5v6.5h-6.5zM969.76 221.81h6.5v6.5h-6.5z"/>
<path fill="#090909" d="M957.76 227.81h6.5v6.5h-6.5zM957.76 263.81h6.5v6.5h-6.5z"/>
<path fill="#080808" d="M963.76 221.81h6.5v6.5h-6.5zM969.76 227.81h6.5v6.5h-6.5zM969.76 263.81h6.5v6.5h-6.5z"/>
<path fill="#070707" d="M957.76 233.81h6.5v6.5h-6.5z"/>
<path fill="#060606" d="M969.76 233.81h6.5v6.5h-6.5zM963.76 263.81h6.5v6.5h-6.5z"/>
<path fill="#050505" d="M963.76 227.81h6.5v6.5h-6.5zM957.76 239.81h6.5v6.5h-6.5zM957.76 257.81h6.5v6.5h-6.5z"/>
<path fill="#040404" d="M969.76 239.81h6.5v6.5h-6.5zM957.76 245.81h6.5v6.5h-6.5zM969.76 257.81h6.5v6.5h-6.5z"/>
<path fill="#030303" d="M963.76 233.81h6.5v6.5h-6.5zM969.76 245.81h6.5v6.5h-6.5zM957.76 251.81h6.5v6.5h-6.5zM969.76 251.81h6.5v6.5h-6.5z"/>
<path fill="#010101" d="M963.76 239.81h6.5v6.5h-6.5zM963.76 257.81h6.5v6.5h-6.5z"/>
<path fill="#000000" d="M963.76 245.81h6.5v6.5h-6.5zM963.76 251.81h6.5v6.5h-6.5z"/>
</g>
<path d="M851.5 47.81V580.24M1048.5 47.81V580.24" stroke="#fff" stroke-width="1" opacity="0.85" fill="none"/>
</g>
<g clip-path="url(#c1)">
<path d="M699.76 382.45L1232.19 382.45" stroke="#CD2626" stroke-width="1.5" stroke-dasharray="6 6" stroke-linecap="round" fill="none"/>
<path d="M929.86 580.24L929.86 47.81" stroke="#006400" stroke-width="1.5" stroke-dasharray="6 6" stroke-linecap="round" fill="none"/>
<path d="M1000.74 580.24L1000.74 47.81" stroke="#006400" stroke-width="1.5" stroke-dasharray="6 6" stroke-linecap="round" fill="none"/>
</g>
<text x="798.7" y="32" font-size="22" text-anchor="start" font-weight="bold" textLength="334.27" lengthAdjust="spacing">Density heat map for the top hits</text>
<text x="965.98" y="626.1" font-size="15.9" text-anchor="middle">Distance to peak summit</text>
<text x="661.8" y="314.02" font-size="15.9" text-anchor="middle" transform="rotate(-90 661.8 314.02)">Motif score</text>
<rect x="699.76" y="47.81" width="532.43" height="532.43" fill="none" stroke="#000" stroke-width="0.75"/>
<path d="M750.5 580.24H1180.1M750.5 580.24v6.4M857.9 580.24v6.4M965.3 580.24v6.4M1072.7 580.24v6.4M1180.1 580.24v6.4M699.76 577.2V48M699.76 577.2h-6.4M699.76 471.36h-6.4M699.76 365.52h-6.4M699.76 259.68h-6.4M699.76 153.84h-6.4M699.76 48h-6.4" fill="none" stroke="#000" stroke-width="0.75"/>
<text x="750.5" y="601.9" font-size="10.6" text-anchor="middle">-400</text>
<text x="857.9" y="601.9" font-size="10.6" text-anchor="middle">-200</text>
<text x="965.3" y="601.9" font-size="10.6" text-anchor="middle">0</text>
<text x="1072.7" y="601.9" font-size="10.6" text-anchor="middle">200</text>
<text x="1180.1" y="601.9" font-size="10.6" text-anchor="middle">400</text>
<text x="685" y="577.2" font-size="10.6" text-anchor="middle" transform="rotate(-90 685 577.2)">75</text>
<text x="685" y="471.36" font-size="10.6" text-anchor="middle" transform="rotate(-90 685 471.36)">80</text>
<text x="685" y="365.52" font-size="10.6" text-anchor="middle" transform="rotate(-90 685 365.52)">85</text>
<text x="685" y="259.68" font-size="10.6" text-anchor="middle" transform="rotate(-90 685 259.68)">90</text>
<text x="685" y="153.84" font-size="10.6" text-anchor="middle" transform="rotate(-90 685 153.84)">95</text>
<text x="685" y="48" font-size="10.6" text-anchor="middle" transform="rotate(-90 685 48)">100</text>
<path d="M79.3 1200.47L80.3 1200.47L81.3 1200.47L82.3 1200.47L83.3 1200.47L84.3 1200.47L85.3 1200.46L86.3 1200.46L87.3 1200.46L88.3 1200.46L89.3 1200.46L90.3 1200.45L91.3 1200.45L92.3 1200.45L93.3 1200.45L94.3 1200.44L95.3 1200.44L96.3 1200.44L97.3 1200.43L98.3 1200.43L99.3 1200.42L100.3 1200.42L101.3 1200.42L102.3 1200.41L103.3 1200.41L104.3 1200.4L105.3 1200.4L106.3 1200.39L107.3 1200.39L108.3 1200.38L109.3 1200.38L110.3 1200.37L111.3 1200.36L112.3 1200.36L113.3 1200.35L114.3 1200.34L115.3 1200.34L116.3 1200.33L117.3 1200.32L118.3 1200.31L119.3 1200.3L120.3 1200.29L121.3 1200.27L122.3 1200.26L123.3 1200.24L124.3 1200.22L125.3 1200.21L126.3 1200.19L127.3 1200.16L128.3 1200.14L129.3 1200.11L130.3 1200.09L131.3 1200.06L132.3 1199.99L133.3 1199.89L134.3 1199.76L135.3 1199.6L136.3 1199.41L137.3 1199.22L138.3 1199.02L139.3 1198.81L140.3 1198.61L141.3 1198.43L142.3 1198.24L143.3 1198.05L144.3 1197.85L145.3 1197.64L146.3 1197.43L147.3 1197.22L148.3 1197.01L149.3 1196.81L150.3 1196.61L151.3 1196.43L152.3 1196.24L153.3 1196.04L154.3 1195.82L155.3 1195.61L156.3 1195.41L157.3 1195.22L158.3 1195.05L159.3 1194.92L160.3 1194.83L161.3 1194.78L162.3 1194.78L163.3 1194.8L164.3 1194.82L165.3 1194.84L166.3 1194.87L167.3 1194.9L168.3 1194.93L169.3 1194.96L170.3 1194.97L171.3 1194.98L172.3 1194.98L173.3 1194.95L174.3 1194.91L175.3 1194.84L176.3 1194.76L177.3 1194.66L178.3 1194.55L179.3 1194.44L180.3 1194.31L181.3 1194.12L182.3 1193.86L183.3 1193.55L184.3 1193.21L185.3 1192.86L186.3 1192.5L187.3 1192.15L188.3 1191.83L189.3 1191.5L190.3 1191.15L191.3 1190.78L192.3 1190.42L193.3 1190.06L194.3 1189.71L195.3 1189.39L196.3 1189.1L197.3 1188.85L198.3 1188.66L199.3 1188.5L200.3 1188.36L201.3 1188.23L202.3 1188.12L203.3 1188.01L204.3 1187.91L205.3 1187.79L206.3 1187.67L207.3 1187.54L208.3 1187.43L209.3 1187.31L210.3 1187.2L211.3 1187.09L212.3 1186.96L213.3 1186.82L214.3 1186.67L215.3 1186.48L216.3 1186.27L217.3 1185.99L218.3 1185.6L219.3 1185.11L220.3 1184.56L221.3 1183.96L222.3 1183.33L223.3 1182.66L224.3 1181.85L225.3 1180.96L226.3 1180.01L227.3 1179.04L228.3 1178.08L229.3 1177.17L230.3 1176.34L231.3 1175.6L232.3 1174.89L233.3 1174.18L234.3 1173.5L235.3 1172.86L236.3 1172.26L237.3 1171.71L238.3 1171.22L239.3 1170.79L240.3 1170.43L241.3 1170.1L242.3 1169.81L243.3 1169.52L244.3 1169.24L245.3 1168.93L246.3 1168.59L247.3 1168.21L248.3 1167.81L249.3 1167.41L250.3 1166.97L251.3 1166.51L252.3 1166L253.3 1165.43L254.3 1164.8L255.3 1164.09L256.3 1163.2L257.3 1162.13L258.3 1160.89L259.3 1159.52L260.3 1158.04L261.3 1156.47L262.3 1154.65L263.3 1152.56L264.3 1150.27L265.3 1147.83L266.3 1145.31L267.3 1142.62L268.3 1139.69L269.3 1136.55L270.3 1133.14L271.3 1129.37L272.3 1125.37L273.3 1121.25L274.3 1117.15L275.3 1113.19L276.3 1109.36L277.3 1105.56L278.3 1101.79L279.3 1098.04L280.3 1094.31L281.3 1090.59L282.3 1086.88L283.3 1083.18L284.3 1079.48L285.3 1075.81L286.3 1072.15L287.3 1068.5L288.3 1064.85L289.3 1061.18L290.3 1057.52L291.3 1053.93L292.3 1050.33L293.3 1046.66L294.3 1042.86L295.3 1038.85L296.3 1034.65L297.3 1030.29L298.3 1025.79L299.3 1021.19L300.3 1016.5L301.3 1011.75L302.3 1006.97L303.3 1002.17L304.3 997.36L305.3 992.43L306.3 987.41L307.3 982.33L308.3 977.24L309.3 972.17L310.3 967.17L311.3 962.27L312.3 957.51L313.3 952.86L314.3 948.26L315.3 943.69L316.3 939.1L317.3 934.44L318.3 929.68L319.3 924.78L320.3 919.74L321.3 914.6L322.3 909.38L323.3 904.09L324.3 898.76L325.3 893.41L326.3 888.11L327.3 882.78L328.3 877.33L329.3 871.67L330.3 865.67L331.3 859.09L332.3 852.21L333.3 845.43L334.3 839.07L335.3 832.92L336.3 826.94L337.3 821.15L338.3 815.51L339.3 809.96L340.3 804.67L341.3 799.78L342.3 795.34L343.3 791.21L344.3 787.25L345.3 783.31L346.3 779.36L347.3 775.51L348.3 771.69L349.3 767.81L350.3 763.79L351.3 759.64L352.3 755.39L353.3 751.09L354.3 746.78L355.3 742.47L356.3 738.05L357.3 733.61L358.3 729.34L359.3 725.3L360.3 721.24L361.3 717.46L362.3 714.29L363.3 711.79L364.3 709.73L365.3 708.44L366.3 707.51L367.3 707.02L368.3 707.24L369.3 708.04L370.3 709.12L371.3 711.01L372.3 713.3L373.3 715.52L374.3 717.85L375.3 720.24L376.3 722.61L377.3 725.07L378.3 727.58L379.3 729.89L380.3 731.76L381.3 733.34L382.3 734.76L383.3 736.05L384.3 737.22L385.3 738.31L386.3 739.24L387.3 740.06L388.3 740.87L389.3 741.77L390.3 742.84L391.3 744.1L392.3 745.52L393.3 747.08L394.3 748.76L395.3 750.54L396.3 752.52L397.3 754.68L398.3 757.01L399.3 759.46L400.3 762.02L401.3 764.75L402.3 767.66L403.3 770.73L404.3 773.93L405.3 777.25L406.3 780.71L407.3 784.33L408.3 788.13L409.3 792.1L410.3 796.26L411.3 800.76L412.3 805.54L413.3 810.45L414.3 815.36L415.3 820.17L416.3 825.05L417.3 829.98L418.3 834.82L419.3 839.45L420.3 843.75L421.3 848.04L422.3 852.24L423.3 856.11L424.3 859.41L425.3 861.94L426.3 864.28L427.3 866.33L428.3 867.68L429.3 867.95L430.3 867.09L431.3 865.37L432.3 863.07L433.3 860.33L434.3 855.57L435.3 849.15L436.3 842.17L437.3 834.24L438.3 825.14L439.3 815.95L440.3 807.63L441.3 799.61L442.3 791.94L443.3 785.15L444.3 779.46L445.3 774.36L446.3 771.16L447.3 769.44L448.3 768.28L449.3 768.08L450.3 769.36L451.3 771.74L452.3 774.76L453.3 779.94L454.3 787L455.3 795L456.3 805.12L457.3 816.74L458.3 828.46L459.3 840.64L460.3 853.18L461.3 865.57L462.3 877.22L463.3 888.59L464.3 900.63L465.3 914.43L466.3 931.91L467.3 949.76L468.3 963.56L469.3 974.48L470.3 984.05L471.3 992.7L472.3 1000.86L473.3 1008.73L474.3 1016.08L475.3 1023.03L476.3 1029.69L477.3 1036.19L478.3 1042.62L479.3 1048.94L480.3 1055.07L481.3 1060.92L482.3 1066.43L483.3 1071.71L484.3 1076.87L485.3 1081.5L486.3 1085.14L487.3 1088.31L488.3 1091.04L489.3 1092.45L490.3 1091.94L491.3 1089.98L492.3 1087.17L493.3 1084L494.3 1079.58L495.3 1073.83L496.3 1067.17L497.3 1058.88L498.3 1048.78L499.3 1037.78L500.3 1026.69L501.3 1014.7L502.3 1002.18L503.3 990.08L504.3 979.39L505.3 969.88L506.3 959.45L507.3 945.83L508.3 938.02L509.3 932.73L510.3 928.87L511.3 926.27L512.3 925.66L513.3 927.77L514.3 930.61L515.3 934.55L516.3 940.27L517.3 948.92L518.3 961.08L519.3 975.29L520.3 989.85L521.3 1003.07L522.3 1014.93L523.3 1026.37L524.3 1037.43L525.3 1048.17L526.3 1058.88L527.3 1069.42L528.3 1079.53L529.3 1088.94L530.3 1097.43L531.3 1105.34L532.3 1112.78L533.3 1119.68L534.3 1125.97L535.3 1131.61L536.3 1136.76L537.3 1141.51L538.3 1145.88L539.3 1149.89L540.3 1153.55L541.3 1156.89L542.3 1159.95L543.3 1162.82L544.3 1165.58L545.3 1168.31L546.3 1170.97L547.3 1173.55L548.3 1176.03L549.3 1178.41L550.3 1180.66L551.3 1182.87L552.3 1185.01L553.3 1187.02L554.3 1188.85L555.3 1190.45L556.3 1191.94L557.3 1193.32L558.3 1194.56L559.3 1195.62L560.3 1196.49L561.3 1197.27L562.3 1197.98L563.3 1198.58L564.3 1199.04L565.3 1199.32L566.3 1199.53L567.3 1199.73L568.3 1199.9L569.3 1200.04L570.3 1200.15L571.3 1200.22L572.3 1200.25L572.5 1200.25Z" fill="#F5DEB3" stroke="#000" stroke-width="1.25" stroke-linejoin="round"/>
<g clip-path="url(#c2)">
<path d="M269.61 1220.24L269.61 687.81" stroke="#D01F24" stroke-width="1.5" stroke-dasharray="6 6" stroke-linecap="round" fill="none"/>
</g>
<text x="176.3" y="672" font-size="22" text-anchor="start" font-weight="bold" textLength="299.42" lengthAdjust="spacing">Motif score threshold: 84.200</text>
<text x="325.98" y="1266.1" font-size="15.9" text-anchor="middle">Motif score</text>
<text x="21.8" y="954.02" font-size="15.9" text-anchor="middle" transform="rotate(-90 21.8 954.02)">Density</text>
<rect x="59.76" y="687.81" width="532.43" height="532.43" fill="none" stroke="#000" stroke-width="0.75"/>
<path d="M109.6 1220.24H544.4M109.6 1220.24v6.4M196.56 1220.24v6.4M283.52 1220.24v6.4M370.48 1220.24v6.4M457.44 1220.24v6.4M544.4 1220.24v6.4M59.76 1200.4V725.3M59.76 1200.4h-6.4M59.76 1105.38h-6.4M59.76 1010.36h-6.4M59.76 915.34h-6.4M59.76 820.32h-6.4M59.76 725.3h-6.4" fill="none" stroke="#000" stroke-width="0.75"/>
<text x="109.6" y="1241.9" font-size="10.6" text-anchor="middle">75</text>
<text x="196.56" y="1241.9" font-size="10.6" text-anchor="middle">80</text>
<text x="283.52" y="1241.9" font-size="10.6" text-anchor="middle">85</text>
<text x="370.48" y="1241.9" font-size="10.6" text-anchor="middle">90</text>
<text x="457.44" y="1241.9" font-size="10.6" text-anchor="middle">95</text>
<text x="544.4" y="1241.9" font-size="10.6" text-anchor="middle">100</text>
<text x="45" y="1200.4" font-size="10.6" text-anchor="middle" transform="rotate(-90 45 1200.4)">0.00</text>
<text x="45" y="1105.38" font-size="10.6" text-anchor="middle" transform="rotate(-90 45 1105.38)">0.02</text>
<text x="45" y="1010.36" font-size="10.6" text-anchor="middle" transform="rotate(-90 45 1010.36)">0.04</text>
<text x="45" y="915.34" font-size="10.6" text-anchor="middle" transform="rotate(-90 45 915.34)">0.06</text>
<text x="45" y="820.32" font-size="10.6" text-anchor="middle" transform="rotate(-90 45 820.32)">0.08</text>
<text x="45" y="725.3" font-size="10.6" text-anchor="middle" transform="rotate(-90 45 725.3)">0.10</text>
<path d="M719 1200.25L720 1200.22L721 1200.14L722 1200.01L723 1199.85L724 1199.65L725 1199.41L726 1199.16L727 1198.89L728 1198.59L729 1198.18L730 1197.65L731 1197.01L732 1196.29L733 1195.5L734 1194.65L735 1193.75L736 1192.73L737 1191.51L738 1190.14L739 1188.64L740 1187.05L741 1185.41L742 1183.72L743 1181.91L744 1179.96L745 1177.86L746 1175.59L747 1173.12L748 1170.36L749 1167.38L750 1164.19L751 1160.85L752 1157.35L753 1153.6L754 1149.62L755 1145.45L756 1141.11L757 1136.55L758 1131.66L759 1126.56L760 1121.38L761 1116.26L762 1111.22L763 1106.15L764 1101.07L765 1096.06L766 1091.19L767 1086.43L768 1081.66L769 1077L770 1072.56L771 1068.46L772 1064.72L773 1061.19L774 1057.87L775 1054.77L776 1051.92L777 1049.29L778 1046.8L779 1044.48L780 1042.35L781 1040.44L782 1038.74L783 1037.16L784 1035.72L785 1034.41L786 1033.26L787 1032.25L788 1031.3L789 1030.43L790 1029.63L791 1028.91L792 1028.28L793 1027.74L794 1027.27L795 1026.85L796 1026.48L797 1026.12L798 1025.76L799 1025.4L800 1025L801 1024.58L802 1024.15L803 1023.71L804 1023.26L805 1022.82L806 1022.39L807 1021.96L808 1021.54L809 1021.12L810 1020.7L811 1020.28L812 1019.88L813 1019.48L814 1019.11L815 1018.75L816 1018.39L817 1018.01L818 1017.63L819 1017.27L820 1016.96L821 1016.71L822 1016.54L823 1016.47L824 1016.42L825 1016.37L826 1016.33L827 1016.29L828 1016.27L829 1016.26L830 1016.25L831 1016.28L832 1016.36L833 1016.48L834 1016.61L835 1016.75L836 1016.87L837 1016.97L838 1017.02L839 1017.07L840 1017.12L841 1017.16L842 1017.2L843 1017.23L844 1017.24L845 1017.25L846 1017.21L847 1017.11L848 1016.96L849 1016.77L850 1016.55L851 1016.33L852 1016.11L853 1015.89L854 1015.66L855 1015.4L856 1015.13L857 1014.84L858 1014.56L859 1014.27L860 1014L861 1013.73L862 1013.45L863 1013.17L864 1012.9L865 1012.62L866 1012.36L867 1012.12L868 1011.89L869 1011.66L870 1011.45L871 1011.24L872 1011.04L873 1010.85L874 1010.67L875 1010.5L876 1010.35L877 1010.22L878 1010.1L879 1009.99L880 1009.87L881 1009.74L882 1009.59L883 1009.41L884 1009.21L885 1008.99L886 1008.74L887 1008.47L888 1008.18L889 1007.85L890 1007.5L891 1007.1L892 1006.62L893 1006.09L894 1005.49L895 1004.84L896 1004.14L897 1003.39L898 1002.59L899 1001.66L900 1000.6L901 999.43L902 998.17L903 996.8L904 995.27L905 993.57L906 991.73L907 989.77L908 987.69L909 985.43L910 982.98L911 980.38L912 977.65L913 974.82L914 971.88L915 968.77L916 965.46L917 961.89L918 957.99L919 953.55L920 948.73L921 943.75L922 938.76L923 933.68L924 928.32L925 922.5L926 915.7L927 908.41L928 901.83L929 895.85L930 890.04L931 884.06L932 877.67L933 871.01L934 864.24L935 857.5L936 850.83L937 844.17L938 837.5L939 830.83L940 824.17L941 817.5L942 810.83L943 804.17L944 797.5L945 790.83L946 784.17L947 777.39L948 770.44L949 763.68L950 757.5L951 751.9L952 746.61L953 741.62L954 736.92L955 732.5L956 728.16L957 723.89L958 719.9L959 716.45L960 713.75L961 711.65L962 709.93L963 708.75L964 707.91L965 707.26L966 707L967 707.25L968 707.9L969 708.77L970 709.9L971 711.64L972 713.81L973 716.3L974 719.39L975 723.04L976 727.11L977 731.49L978 736.12L979 741.39L980 747.2L981 753.41L982 760.05L983 767.37L984 774.98L985 782.5L986 789.77L987 797.01L988 804.35L989 811.91L990 819.53L991 827.33L992 835.6L993 844.88L994 855.3L995 863.79L996 871.02L997 877.81L998 884.73L999 891.61L1000 898.35L1001 904.97L1002 911.51L1003 917.89L1004 924L1005 929.83L1006 935.47L1007 941L1008 946.5L1009 951.98L1010 957.35L1011 962.51L1012 967.45L1013 972.3L1014 976.95L1015 981.27L1016 985.16L1017 988.68L1018 991.96L1019 995.08L1020 998.11L1021 1001.14L1022 1004.19L1023 1007.17L1024 1009.97L1025 1012.5L1026 1014.78L1027 1016.9L1028 1018.88L1029 1020.74L1030 1022.5L1031 1024.19L1032 1025.8L1033 1027.32L1034 1028.73L1035 1030L1036 1031.17L1037 1032.28L1038 1033.31L1039 1034.22L1040 1035L1041 1035.7L1042 1036.37L1043 1036.95L1044 1037.43L1045 1037.75L1046 1037.98L1047 1038.18L1048 1038.35L1049 1038.46L1050 1038.5L1051 1038.45L1052 1038.33L1053 1038.16L1054 1037.96L1055 1037.75L1056 1037.51L1057 1037.21L1058 1036.88L1059 1036.55L1060 1036.25L1061 1035.97L1062 1035.69L1063 1035.43L1064 1035.19L1065 1035L1066 1034.83L1067 1034.67L1068 1034.51L1069 1034.39L1070 1034.3L1071 1034.25L1072 1034.28L1073 1034.39L1074 1034.57L1075 1034.8L1076 1035.07L1077 1035.36L1078 1035.66L1079 1036.07L1080 1036.57L1081 1037.13L1082 1037.72L1083 1038.32L1084 1038.89L1085 1039.46L1086 1040.05L1087 1040.65L1088 1041.26L1089 1041.88L1090 1042.5L1091 1043.14L1092 1043.8L1093 1044.47L1094 1045.13L1095 1045.77L1096 1046.36L1097 1046.91L1098 1047.45L1099 1047.96L1100 1048.45L1101 1048.91L1102 1049.32L1103 1049.68L1104 1050.03L1105 1050.36L1106 1050.66L1107 1050.93L1108 1051.14L1109 1051.28L1110 1051.4L1111 1051.51L1112 1051.61L1113 1051.68L1114 1051.73L1115 1051.75L1116 1051.74L1117 1051.72L1118 1051.69L1119 1051.65L1120 1051.6L1121 1051.56L1122 1051.52L1123 1051.48L1124 1051.44L1125 1051.4L1126 1051.35L1127 1051.31L1128 1051.28L1129 1051.26L1130 1051.25L1131 1051.25L1132 1051.27L1133 1051.29L1134 1051.32L1135 1051.36L1136 1051.41L1137 1051.47L1138 1051.55L1139 1051.74L1140 1052.03L1141 1052.39L1142 1052.79L1143 1053.22L1144 1053.73L1145 1054.35L1146 1055.05L1147 1055.83L1148 1056.7L1149 1057.74L1150 1058.95L1151 1060.29L1152 1061.74L1153 1063.3L1154 1065.03L1155 1066.96L1156 1069.06L1157 1071.32L1158 1073.74L1159 1076.42L1160 1079.36L1161 1082.5L1162 1085.8L1163 1089.26L1164 1093.01L1165 1097L1166 1101.15L1167 1105.38L1168 1109.65L1169 1114.14L1170 1118.75L1171 1123.36L1172 1127.85L1173 1132.11L1174 1136.26L1175 1140.31L1176 1144.27L1177 1148.12L1178 1151.86L1179 1155.55L1180 1159.16L1181 1162.63L1182 1165.93L1183 1169.04L1184 1172.06L1185 1174.96L1186 1177.68L1187 1180.14L1188 1182.3L1189 1184.29L1190 1186.12L1191 1187.79L1192 1189.3L1193 1190.67L1194 1191.94L1195 1193.11L1196 1194.17L1197 1195.09L1198 1195.88L1199 1196.61L1200 1197.26L1201 1197.84L1202 1198.31L1203 1198.67L1204 1198.99L1205 1199.26L1206 1199.49L1207 1199.67L1208 1199.82L1209 1199.95L1210 1200.07L1211 1200.16L1212 1200.23L1212.75 1200.25Z" fill="#F5DEB3" stroke="#000" stroke-width="1.25" stroke-linejoin="round"/>
<g clip-path="url(#c3)">
<path d="M938.24 1220.24L938.24 687.81" stroke="#006400" stroke-width="1.5" stroke-dasharray="6 6" stroke-linecap="round" fill="none"/>
<path d="M992.56 1220.24L992.56 687.81" stroke="#006400" stroke-width="1.5" stroke-dasharray="6 6" stroke-linecap="round" fill="none"/>
</g>
<text x="845.5" y="672" font-size="22" text-anchor="start" font-weight="bold" textLength="240.75" lengthAdjust="spacing">Enrichment zone: 66.00</text>
<text x="965.98" y="1266.1" font-size="15.9" text-anchor="middle">Distance to peak summit</text>
<text x="661.8" y="954.02" font-size="15.9" text-anchor="middle" transform="rotate(-90 661.8 954.02)">Density</text>
<rect x="699.76" y="687.81" width="532.43" height="532.43" fill="none" stroke="#000" stroke-width="0.75"/>
<path d="M718.5 1220.24H1212.3M718.5 1220.24v6.4M800.8 1220.24v6.4M883.1 1220.24v6.4M965.4 1220.24v6.4M1047.7 1220.24v6.4M1130 1220.24v6.4M1212.3 1220.24v6.4M699.76 1200.4V760.5M699.76 1200.4h-6.4M699.76 1090.43h-6.4M699.76 980.45h-6.4M699.76 870.48h-6.4M699.76 760.5h-6.4" fill="none" stroke="#000" stroke-width="0.75"/>
<text x="718.5" y="1241.9" font-size="10.6" text-anchor="middle">-600</text>
<text x="800.8" y="1241.9" font-size="10.6" text-anchor="middle">-400</text>
<text x="883.1" y="1241.9" font-size="10.6" text-anchor="middle">-200</text>
<text x="965.4" y="1241.9" font-size="10.6" text-anchor="middle">0</text>
<text x="1047.7" y="1241.9" font-size="10.6" text-anchor="middle">200</text>
<text x="1130" y="1241.9" font-size="10.6" text-anchor="middle">400</text>
<text x="1212.3" y="1241.9" font-size="10.6" text-anchor="middle">600</text>
<text x="685" y="1200.4" font-size="10.6" text-anchor="middle" transform="rotate(-90 685 1200.4)">0.0000</text>
<text x="685" y="1090.43" font-size="10.6" text-anchor="middle" transform="rotate(-90 685 1090.43)">0.0005</text>
<text x="685" y="980.45" font-size="10.6" text-anchor="middle" transform="rotate(-90 685 980.45)">0.0010</text>
<text x="685" y="870.48" font-size="10.6" text-anchor="middle" transform="rotate(-90 685 870.48)">0.0015</text>
<text x="685" y="760.5" font-size="10.6" text-anchor="middle" transform="rotate(-90 685 760.5)">0.0020</text>
<path d="M1018 703.4H1041.2" stroke="#006400" stroke-width="1.125" stroke-dasharray="1.125 3.345" stroke-linecap="round" fill="none"/>
<path d="M1018 718.85H1041.2" stroke="#CD2626" stroke-width="1.125" stroke-dasharray="1.125 3.345" stroke-linecap="round" fill="none"/>
<circle cx="1029.1" cy="734.6" r="2.9" fill="#0000FF"/>
<text x="1052.5" y="707.5" font-size="12.8" text-anchor="start" textLength="123.44" lengthAdjust="spacing">enrichment zone = 66</text>
<text x="1052.5" y="723.3" font-size="12.8" text-anchor="start" textLength="173.02" lengthAdjust="spacing">motif score threshold = 84.200</text>
<text x="1052.5" y="738.9" font-size="12.8" text-anchor="start" textLength="140.75" lengthAdjust="spacing">centrality p-val = -3.4095</text>
</svg>
</body></html>
